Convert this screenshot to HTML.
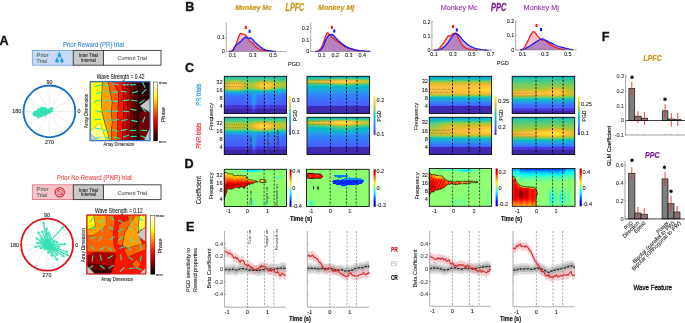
<!DOCTYPE html>
<html><head><meta charset="utf-8"><title>figure</title>
<style>html,body{margin:0;padding:0;background:#fff;width:685px;height:323px;overflow:hidden}svg{display:block;will-change:transform}text{font-family:"Liberation Sans",sans-serif}</style>
</head><body><svg width="685" height="323" viewBox="0 0 685 323" font-family="Liberation Sans, sans-serif"><defs><linearGradient id="lg1" x1="0" y1="0" x2="0" y2="1"><stop offset="0" stop-color="#ffffff"/><stop offset=".05" stop-color="#ffffcc"/><stop offset=".1" stop-color="#ffff99"/><stop offset=".15" stop-color="#ffff66"/><stop offset=".2" stop-color="#ffff33"/><stop offset=".25" stop-color="#ffff00"/><stop offset=".3" stop-color="#ffdd00"/><stop offset=".35" stop-color="#ffbb00"/><stop offset=".4" stop-color="#ff9900"/><stop offset=".45" stop-color="#ff7700"/><stop offset=".5" stop-color="#ff5500"/><stop offset=".55" stop-color="#ff3300"/><stop offset=".6" stop-color="#ff1100"/><stop offset=".65" stop-color="#ee0000"/><stop offset=".7" stop-color="#cc0000"/><stop offset=".75" stop-color="#aa0000"/><stop offset=".8" stop-color="#880000"/><stop offset=".85" stop-color="#660000"/><stop offset=".9" stop-color="#440000"/><stop offset=".95" stop-color="#220000"/><stop offset="1" stop-color="#000000"/></linearGradient><linearGradient id="lg2" x1="0" y1="0" x2="0" y2="1"><stop offset="0" stop-color="#ffffff"/><stop offset=".05" stop-color="#ffffcc"/><stop offset=".1" stop-color="#ffff99"/><stop offset=".15" stop-color="#ffff66"/><stop offset=".2" stop-color="#ffff33"/><stop offset=".25" stop-color="#ffff00"/><stop offset=".3" stop-color="#ffdd00"/><stop offset=".35" stop-color="#ffbb00"/><stop offset=".4" stop-color="#ff9900"/><stop offset=".45" stop-color="#ff7700"/><stop offset=".5" stop-color="#ff5500"/><stop offset=".55" stop-color="#ff3300"/><stop offset=".6" stop-color="#ff1100"/><stop offset=".65" stop-color="#ee0000"/><stop offset=".7" stop-color="#cc0000"/><stop offset=".75" stop-color="#aa0000"/><stop offset=".8" stop-color="#880000"/><stop offset=".85" stop-color="#660000"/><stop offset=".9" stop-color="#440000"/><stop offset=".95" stop-color="#220000"/><stop offset="1" stop-color="#000000"/></linearGradient><linearGradient id="lg3" x1="0" y1="0" x2="1" y2="0"><stop offset="0" stop-color="#19bfb5"/><stop offset=".177" stop-color="#1fc0b2"/><stop offset="1" stop-color="#15bfb8"/></linearGradient><linearGradient id="lg4" x1="0" y1="0" x2="1" y2="0"><stop offset="0" stop-color="#26c2ac"/><stop offset=".194" stop-color="#2dc4a6"/><stop offset="1" stop-color="#21c1b0"/></linearGradient><linearGradient id="lg5" x1="0" y1="0" x2="1" y2="0"><stop offset="0" stop-color="#31c5a1"/><stop offset=".177" stop-color="#3ac994"/><stop offset=".419" stop-color="#2ec5a4"/><stop offset=".661" stop-color="#34c79c"/><stop offset="1" stop-color="#2bc3a7"/></linearGradient><linearGradient id="lg6" x1="0" y1="0" x2="1" y2="0"><stop offset="0" stop-color="#40ca8d"/><stop offset=".177" stop-color="#5dcc75"/><stop offset=".419" stop-color="#3bc993"/><stop offset=".661" stop-color="#4fcc80"/><stop offset=".823" stop-color="#3bc992"/><stop offset="1" stop-color="#37c898"/></linearGradient><linearGradient id="lg7" x1="0" y1="0" x2="1" y2="0"><stop offset="0" stop-color="#5ccc76"/><stop offset=".113" stop-color="#85cb56"/><stop offset=".177" stop-color="#8ecb4e"/><stop offset=".242" stop-color="#84cb56"/><stop offset=".355" stop-color="#5dcc75"/><stop offset=".419" stop-color="#50cc7f"/><stop offset=".484" stop-color="#54cc7d"/><stop offset=".613" stop-color="#7bcc5d"/><stop offset=".661" stop-color="#7fcc5a"/><stop offset=".839" stop-color="#53cc7d"/><stop offset="1" stop-color="#4bcb84"/></linearGradient><linearGradient id="lg8" x1="0" y1="0" x2="1" y2="0"><stop offset="0" stop-color="#74cc62"/><stop offset=".113" stop-color="#afc637"/><stop offset=".177" stop-color="#bac430"/><stop offset=".242" stop-color="#aec637"/><stop offset=".371" stop-color="#6fcd66"/><stop offset=".419" stop-color="#63cd6f"/><stop offset=".484" stop-color="#6bcd69"/><stop offset=".597" stop-color="#a4c83e"/><stop offset=".661" stop-color="#b1c636"/><stop offset=".71" stop-color="#a5c83d"/><stop offset=".839" stop-color="#6fcd66"/><stop offset="1" stop-color="#63cd70"/></linearGradient><linearGradient id="lg9" x1="0" y1="0" x2="1" y2="0"><stop offset="0" stop-color="#90ca4d"/><stop offset=".081" stop-color="#c6c22a"/><stop offset=".129" stop-color="#dbbd29"/><stop offset=".177" stop-color="#e2bc2b"/><stop offset=".226" stop-color="#dbbd29"/><stop offset=".274" stop-color="#c6c22a"/><stop offset=".371" stop-color="#8acb52"/><stop offset=".435" stop-color="#79cc5e"/><stop offset=".5" stop-color="#8fcb4e"/><stop offset=".581" stop-color="#c8c129"/><stop offset=".629" stop-color="#debd29"/><stop offset=".661" stop-color="#e0bc2b"/><stop offset=".742" stop-color="#c3c22b"/><stop offset=".839" stop-color="#92ca4c"/><stop offset="1" stop-color="#82cc58"/></linearGradient><linearGradient id="lg10" x1="0" y1="0" x2="1" y2="0"><stop offset="0" stop-color="#aac73a"/><stop offset=".048" stop-color="#d0bf27"/><stop offset=".097" stop-color="#edba34"/><stop offset=".145" stop-color="#fcbc3d"/><stop offset=".194" stop-color="#fdbd3d"/><stop offset=".242" stop-color="#f4ba39"/><stop offset=".306" stop-color="#d0bf27"/><stop offset=".387" stop-color="#9bc945"/><stop offset=".435" stop-color="#91ca4c"/><stop offset=".484" stop-color="#a3c83f"/><stop offset=".548" stop-color="#d5be28"/><stop offset=".613" stop-color="#fbbc3d"/><stop offset=".677" stop-color="#febf3b"/><stop offset=".71" stop-color="#f8ba3d"/><stop offset=".774" stop-color="#d4bf28"/><stop offset=".839" stop-color="#b2c635"/><stop offset="1" stop-color="#9fc941"/></linearGradient><linearGradient id="lg11" x1="0" y1="0" x2="1" y2="0"><stop offset="0" stop-color="#c0c32d"/><stop offset=".032" stop-color="#dbbd29"/><stop offset=".081" stop-color="#fabb3d"/><stop offset=".097" stop-color="#fec03b"/><stop offset=".177" stop-color="#fccf30"/><stop offset=".258" stop-color="#febf3b"/><stop offset=".339" stop-color="#cfc028"/><stop offset=".387" stop-color="#b0c636"/><stop offset=".435" stop-color="#a6c83d"/><stop offset=".468" stop-color="#b1c635"/><stop offset=".516" stop-color="#d3bf27"/><stop offset=".565" stop-color="#fabb3d"/><stop offset=".645" stop-color="#fad52d"/><stop offset=".726" stop-color="#fec437"/><stop offset=".758" stop-color="#f6ba3b"/><stop offset=".806" stop-color="#d8be28"/><stop offset=".855" stop-color="#c3c22b"/><stop offset="1" stop-color="#b3c534"/></linearGradient><linearGradient id="lg12" x1="0" y1="0" x2="1" y2="0"><stop offset="0" stop-color="#c2c22c"/><stop offset=".032" stop-color="#dfbc2a"/><stop offset=".081" stop-color="#febe3c"/><stop offset=".177" stop-color="#fad52d"/><stop offset=".274" stop-color="#fdbd3d"/><stop offset=".339" stop-color="#d3bf27"/><stop offset=".387" stop-color="#b1c636"/><stop offset=".435" stop-color="#a6c83d"/><stop offset=".516" stop-color="#d7be28"/><stop offset=".565" stop-color="#febe3c"/><stop offset=".645" stop-color="#f7dd2a"/><stop offset=".694" stop-color="#f9d62d"/><stop offset=".742" stop-color="#fec13a"/><stop offset=".758" stop-color="#fabb3d"/><stop offset=".806" stop-color="#d9be28"/><stop offset=".855" stop-color="#bfc32d"/><stop offset="1" stop-color="#abc739"/></linearGradient><linearGradient id="lg13" x1="0" y1="0" x2="1" y2="0"><stop offset="0" stop-color="#b8c431"/><stop offset=".032" stop-color="#d7be28"/><stop offset=".081" stop-color="#fabb3d"/><stop offset=".177" stop-color="#fbd22f"/><stop offset=".258" stop-color="#fec03b"/><stop offset=".274" stop-color="#f9bb3d"/><stop offset=".323" stop-color="#d7be28"/><stop offset=".387" stop-color="#a5c83d"/><stop offset=".435" stop-color="#9bc945"/><stop offset=".516" stop-color="#cec028"/><stop offset=".565" stop-color="#f9bb3d"/><stop offset=".645" stop-color="#f9d72c"/><stop offset=".677" stop-color="#fad52d"/><stop offset=".726" stop-color="#fec239"/><stop offset=".742" stop-color="#fbbc3d"/><stop offset=".79" stop-color="#d6be28"/><stop offset=".855" stop-color="#a9c73b"/><stop offset="1" stop-color="#8fcb4e"/></linearGradient><linearGradient id="lg14" x1="0" y1="0" x2="1" y2="0"><stop offset="0" stop-color="#a7c73c"/><stop offset=".048" stop-color="#d5be28"/><stop offset=".097" stop-color="#f7ba3c"/><stop offset=".161" stop-color="#fec636"/><stop offset=".226" stop-color="#fec03a"/><stop offset=".258" stop-color="#f6ba3b"/><stop offset=".306" stop-color="#d5be28"/><stop offset=".387" stop-color="#94ca4a"/><stop offset=".435" stop-color="#89cb52"/><stop offset=".5" stop-color="#aec637"/><stop offset=".532" stop-color="#cac129"/><stop offset=".597" stop-color="#fdbd3d"/><stop offset=".645" stop-color="#fec835"/><stop offset=".694" stop-color="#fec239"/><stop offset=".726" stop-color="#f4ba3a"/><stop offset=".774" stop-color="#cbc129"/><stop offset=".855" stop-color="#89cb53"/><stop offset=".903" stop-color="#78cc5f"/><stop offset="1" stop-color="#6ccd68"/></linearGradient><linearGradient id="lg15" x1="0" y1="0" x2="1" y2="0"><stop offset="0" stop-color="#8ecb4e"/><stop offset=".065" stop-color="#cac129"/><stop offset=".113" stop-color="#e8bb2f"/><stop offset=".177" stop-color="#f7ba3c"/><stop offset=".242" stop-color="#e8bb2f"/><stop offset=".29" stop-color="#c9c129"/><stop offset=".387" stop-color="#7ccc5c"/><stop offset=".435" stop-color="#73cd63"/><stop offset=".516" stop-color="#9ec942"/><stop offset=".565" stop-color="#cac129"/><stop offset=".613" stop-color="#eabb30"/><stop offset=".661" stop-color="#f1ba37"/><stop offset=".694" stop-color="#eabb30"/><stop offset=".742" stop-color="#c6c22a"/><stop offset=".823" stop-color="#7bcc5d"/><stop offset=".855" stop-color="#66cd6d"/><stop offset=".903" stop-color="#57cc7a"/><stop offset="1" stop-color="#4dcc82"/></linearGradient><linearGradient id="lg16" x1="0" y1="0" x2="1" y2="0"><stop offset="0" stop-color="#56cc7b"/><stop offset=".097" stop-color="#a3c83f"/><stop offset=".161" stop-color="#bdc32e"/><stop offset=".226" stop-color="#b4c534"/><stop offset=".355" stop-color="#59cc79"/><stop offset=".419" stop-color="#42ca8c"/><stop offset=".516" stop-color="#60cd73"/><stop offset=".613" stop-color="#a3c83f"/><stop offset=".661" stop-color="#acc738"/><stop offset=".694" stop-color="#a3c83e"/><stop offset=".774" stop-color="#60cd72"/><stop offset=".839" stop-color="#3bc993"/><stop offset=".903" stop-color="#31c6a0"/><stop offset="1" stop-color="#2ec4a5"/></linearGradient><linearGradient id="lg17" x1="0" y1="0" x2="1" y2="0"><stop offset="0" stop-color="#2cc4a7"/><stop offset=".113" stop-color="#55cc7c"/><stop offset=".177" stop-color="#62cd70"/><stop offset=".226" stop-color="#5acc77"/><stop offset=".306" stop-color="#38c896"/><stop offset=".403" stop-color="#21c1b0"/><stop offset=".484" stop-color="#32c69f"/><stop offset=".532" stop-color="#30c5a1"/><stop offset=".629" stop-color="#48cb86"/><stop offset=".677" stop-color="#4acb84"/><stop offset=".871" stop-color="#0abdbd"/><stop offset="1" stop-color="#02bac4"/></linearGradient><linearGradient id="lg18" x1="0" y1="0" x2="1" y2="0"><stop offset="0" stop-color="#05b6cd"/><stop offset=".048" stop-color="#02bbc3"/><stop offset=".113" stop-color="#19bfb5"/><stop offset=".177" stop-color="#22c1b0"/><stop offset=".339" stop-color="#01b8ca"/><stop offset=".419" stop-color="#0db3d3"/><stop offset=".452" stop-color="#01b8c9"/><stop offset=".484" stop-color="#07bcc0"/><stop offset=".532" stop-color="#01b8c9"/><stop offset=".677" stop-color="#0bbdbd"/><stop offset=".742" stop-color="#01b8c9"/><stop offset=".855" stop-color="#17aeda"/><stop offset="1" stop-color="#1baade"/></linearGradient><linearGradient id="lg19" x1="0" y1="0" x2="1" y2="0"><stop offset="0" stop-color="#22a1e4"/><stop offset=".177" stop-color="#16aeda"/><stop offset=".419" stop-color="#249ee6"/><stop offset=".484" stop-color="#13b0d7"/><stop offset=".548" stop-color="#21a4e3"/><stop offset=".694" stop-color="#1da8e0"/><stop offset="1" stop-color="#2796eb"/></linearGradient><linearGradient id="lg20" x1="0" y1="0" x2="1" y2="0"><stop offset="0" stop-color="#2b91ef"/><stop offset=".177" stop-color="#259be8"/><stop offset=".403" stop-color="#2c8ff1"/><stop offset=".484" stop-color="#1caadf"/><stop offset=".565" stop-color="#2a92ee"/><stop offset=".694" stop-color="#2797eb"/><stop offset="1" stop-color="#2d89f5"/></linearGradient><linearGradient id="lg21" x1="0" y1="0" x2="1" y2="0"><stop offset="0" stop-color="#2f82f9"/><stop offset=".177" stop-color="#2d89f5"/><stop offset=".403" stop-color="#2f81fa"/><stop offset=".484" stop-color="#1fa5e2"/><stop offset=".565" stop-color="#2e84f9"/><stop offset=".694" stop-color="#2d89f5"/><stop offset="1" stop-color="#317dfc"/></linearGradient><linearGradient id="lg22" x1="0" y1="0" x2="1" y2="0"><stop offset="0" stop-color="#327bfc"/><stop offset=".403" stop-color="#337bfc"/><stop offset=".435" stop-color="#2e86f7"/><stop offset=".468" stop-color="#20a5e2"/><stop offset=".484" stop-color="#1ea7e1"/><stop offset=".532" stop-color="#2d87f6"/><stop offset=".581" stop-color="#327cfc"/><stop offset=".694" stop-color="#2e83f9"/><stop offset=".742" stop-color="#337afd"/><stop offset=".806" stop-color="#2f80fa"/><stop offset="1" stop-color="#3678fd"/></linearGradient><linearGradient id="lg23" x1="0" y1="0" x2="1" y2="0"><stop offset="0" stop-color="#3975fe"/><stop offset=".403" stop-color="#3875fe"/><stop offset=".435" stop-color="#2e83f9"/><stop offset=".468" stop-color="#1fa6e2"/><stop offset=".484" stop-color="#1ea7e1"/><stop offset=".532" stop-color="#2e83f9"/><stop offset=".581" stop-color="#3875fe"/><stop offset=".645" stop-color="#3975fe"/><stop offset=".694" stop-color="#307ffb"/><stop offset=".742" stop-color="#3974fe"/><stop offset=".806" stop-color="#317dfc"/><stop offset=".855" stop-color="#3a73fe"/><stop offset="1" stop-color="#3a73fe"/></linearGradient><linearGradient id="lg24" x1="0" y1="0" x2="1" y2="0"><stop offset="0" stop-color="#3e6fff"/><stop offset=".403" stop-color="#3e70ff"/><stop offset=".435" stop-color="#307ffb"/><stop offset=".468" stop-color="#20a5e2"/><stop offset=".484" stop-color="#1fa6e1"/><stop offset=".532" stop-color="#317dfc"/><stop offset=".581" stop-color="#3e70ff"/><stop offset=".645" stop-color="#3e6fff"/><stop offset=".694" stop-color="#327cfc"/><stop offset=".742" stop-color="#3e6fff"/><stop offset=".806" stop-color="#3579fd"/><stop offset=".855" stop-color="#3f6eff"/><stop offset="1" stop-color="#3f6eff"/></linearGradient><linearGradient id="lg25" x1="0" y1="0" x2="1" y2="0"><stop offset="0" stop-color="#416afe"/><stop offset=".403" stop-color="#416bfe"/><stop offset=".435" stop-color="#337bfc"/><stop offset=".468" stop-color="#21a4e3"/><stop offset=".484" stop-color="#20a4e3"/><stop offset=".532" stop-color="#3776fe"/><stop offset=".565" stop-color="#406dfe"/><stop offset=".645" stop-color="#416bfe"/><stop offset=".694" stop-color="#3479fd"/><stop offset=".742" stop-color="#426afe"/><stop offset=".806" stop-color="#3776fe"/><stop offset=".855" stop-color="#426afe"/><stop offset="1" stop-color="#426afe"/></linearGradient><linearGradient id="lg26" x1="0" y1="0" x2="1" y2="0"><stop offset="0" stop-color="#4368fe"/><stop offset=".403" stop-color="#4369fe"/><stop offset=".435" stop-color="#3579fd"/><stop offset=".468" stop-color="#21a3e4"/><stop offset=".484" stop-color="#22a2e4"/><stop offset=".516" stop-color="#327dfc"/><stop offset=".532" stop-color="#3c71ff"/><stop offset=".565" stop-color="#426afe"/><stop offset=".645" stop-color="#4368fe"/><stop offset=".694" stop-color="#3579fd"/><stop offset=".742" stop-color="#4368fe"/><stop offset=".806" stop-color="#3975fe"/><stop offset=".855" stop-color="#4368fe"/><stop offset="1" stop-color="#4368fe"/></linearGradient><linearGradient id="lg27" x1="0" y1="0" x2="1" y2="0"><stop offset="0" stop-color="#4466fd"/><stop offset=".403" stop-color="#4466fd"/><stop offset=".435" stop-color="#3776fe"/><stop offset=".468" stop-color="#23a1e4"/><stop offset=".484" stop-color="#249fe5"/><stop offset=".516" stop-color="#3777fe"/><stop offset=".548" stop-color="#4368fe"/><stop offset=".645" stop-color="#4466fd"/><stop offset=".694" stop-color="#3677fe"/><stop offset=".742" stop-color="#4466fd"/><stop offset=".806" stop-color="#3a74fe"/><stop offset=".855" stop-color="#4466fd"/><stop offset="1" stop-color="#4465fd"/></linearGradient><linearGradient id="lg28" x1="0" y1="0" x2="1" y2="0"><stop offset="0" stop-color="#4563fd"/><stop offset=".403" stop-color="#4564fd"/><stop offset=".435" stop-color="#3a74fe"/><stop offset=".468" stop-color="#249fe5"/><stop offset=".484" stop-color="#259ce7"/><stop offset=".516" stop-color="#3c72ff"/><stop offset=".548" stop-color="#4465fd"/><stop offset=".645" stop-color="#4564fd"/><stop offset=".694" stop-color="#3876fe"/><stop offset=".742" stop-color="#4563fd"/><stop offset=".806" stop-color="#3c72ff"/><stop offset=".855" stop-color="#4563fd"/><stop offset="1" stop-color="#4563fd"/></linearGradient><linearGradient id="lg29" x1="0" y1="0" x2="1" y2="0"><stop offset="0" stop-color="#4561fc"/><stop offset=".403" stop-color="#4562fc"/><stop offset=".435" stop-color="#3c71ff"/><stop offset=".468" stop-color="#259ce7"/><stop offset=".484" stop-color="#2699e9"/><stop offset=".516" stop-color="#3f6efe"/><stop offset=".548" stop-color="#4562fc"/><stop offset=".645" stop-color="#4562fc"/><stop offset=".694" stop-color="#3a73fe"/><stop offset=".742" stop-color="#4561fc"/><stop offset=".806" stop-color="#3e6fff"/><stop offset=".855" stop-color="#4561fc"/><stop offset="1" stop-color="#4561fc"/></linearGradient><linearGradient id="lg30" x1="0" y1="0" x2="1" y2="0"><stop offset="0" stop-color="#465ffb"/><stop offset=".403" stop-color="#465ffb"/><stop offset=".435" stop-color="#3f6eff"/><stop offset=".468" stop-color="#2699e9"/><stop offset=".484" stop-color="#2896ec"/><stop offset=".516" stop-color="#426afe"/><stop offset=".548" stop-color="#465ffb"/><stop offset=".645" stop-color="#465ffb"/><stop offset=".694" stop-color="#3d71ff"/><stop offset=".742" stop-color="#465ffb"/><stop offset=".806" stop-color="#406dfe"/><stop offset=".855" stop-color="#465ffb"/><stop offset="1" stop-color="#465ffb"/></linearGradient><linearGradient id="lg31" x1="0" y1="0" x2="1" y2="0"><stop offset="0" stop-color="#475dfa"/><stop offset=".403" stop-color="#465dfa"/><stop offset=".435" stop-color="#416bfe"/><stop offset=".452" stop-color="#2f82f9"/><stop offset=".468" stop-color="#2995ec"/><stop offset=".484" stop-color="#2b91ef"/><stop offset=".5" stop-color="#327cfc"/><stop offset=".516" stop-color="#4367fd"/><stop offset=".548" stop-color="#465dfa"/><stop offset=".645" stop-color="#465dfa"/><stop offset=".694" stop-color="#3f6dfe"/><stop offset=".742" stop-color="#475dfa"/><stop offset=".806" stop-color="#426afe"/><stop offset=".855" stop-color="#475dfa"/><stop offset="1" stop-color="#475dfa"/></linearGradient><linearGradient id="lg32" x1="0" y1="0" x2="1" y2="0"><stop offset="0" stop-color="#4539d9"/><stop offset=".403" stop-color="#4639da"/><stop offset=".435" stop-color="#4745ea"/><stop offset=".468" stop-color="#406cfe"/><stop offset=".484" stop-color="#4369fe"/><stop offset=".516" stop-color="#4742e6"/><stop offset=".532" stop-color="#463adc"/><stop offset=".645" stop-color="#4639da"/><stop offset=".694" stop-color="#4747eb"/><stop offset=".742" stop-color="#4639d9"/><stop offset=".806" stop-color="#4744e8"/><stop offset=".855" stop-color="#4539d9"/><stop offset="1" stop-color="#4539d9"/></linearGradient><linearGradient id="lg33" x1="0" y1="0" x2="1" y2="0"><stop offset="0" stop-color="#4537d6"/><stop offset=".403" stop-color="#4537d6"/><stop offset=".435" stop-color="#4742e6"/><stop offset=".468" stop-color="#4465fd"/><stop offset=".484" stop-color="#4562fc"/><stop offset=".516" stop-color="#473fe2"/><stop offset=".532" stop-color="#4538d8"/><stop offset=".645" stop-color="#4537d6"/><stop offset=".694" stop-color="#4743e7"/><stop offset=".742" stop-color="#4537d6"/><stop offset=".806" stop-color="#4741e4"/><stop offset=".855" stop-color="#4537d6"/><stop offset="1" stop-color="#4537d6"/></linearGradient><linearGradient id="lg34" x1="0" y1="0" x2="1" y2="0"><stop offset="0" stop-color="#4435d2"/><stop offset=".403" stop-color="#4535d2"/><stop offset=".435" stop-color="#473fe2"/><stop offset=".468" stop-color="#465efb"/><stop offset=".484" stop-color="#475bf9"/><stop offset=".516" stop-color="#463cde"/><stop offset=".548" stop-color="#4535d2"/><stop offset=".645" stop-color="#4535d2"/><stop offset=".694" stop-color="#473fe3"/><stop offset=".742" stop-color="#4535d2"/><stop offset=".806" stop-color="#463de0"/><stop offset=".855" stop-color="#4435d2"/><stop offset="1" stop-color="#4435d2"/></linearGradient><linearGradient id="lg35" x1="0" y1="0" x2="1" y2="0"><stop offset="0" stop-color="#4434ce"/><stop offset=".403" stop-color="#4434ce"/><stop offset=".435" stop-color="#463bdd"/><stop offset=".468" stop-color="#4756f7"/><stop offset=".484" stop-color="#4854f5"/><stop offset=".516" stop-color="#4539d9"/><stop offset=".548" stop-color="#4434ce"/><stop offset=".645" stop-color="#4434ce"/><stop offset=".694" stop-color="#463cde"/><stop offset=".742" stop-color="#4434ce"/><stop offset=".806" stop-color="#463adb"/><stop offset=".855" stop-color="#4434ce"/><stop offset="1" stop-color="#4434ce"/></linearGradient><linearGradient id="lg36" x1="0" y1="0" x2="1" y2="0"><stop offset="0" stop-color="#3e26a8"/><stop offset=".403" stop-color="#3e27a9"/><stop offset=".435" stop-color="#412cb9"/><stop offset=".468" stop-color="#473ee1"/><stop offset=".484" stop-color="#463cdf"/><stop offset=".516" stop-color="#402ab4"/><stop offset=".548" stop-color="#3e26a9"/><stop offset=".645" stop-color="#3e27a9"/><stop offset=".694" stop-color="#412cb9"/><stop offset=".742" stop-color="#3e26a9"/><stop offset=".806" stop-color="#402ab5"/><stop offset=".855" stop-color="#3e26a8"/><stop offset="1" stop-color="#3e26a8"/></linearGradient><linearGradient id="lg37" x1="0" y1="0" x2="1" y2="0"><stop offset="0" stop-color="#3e26a8"/><stop offset=".403" stop-color="#3e26a9"/><stop offset=".435" stop-color="#402bb6"/><stop offset=".468" stop-color="#4639da"/><stop offset=".484" stop-color="#4538d7"/><stop offset=".516" stop-color="#3f29b2"/><stop offset=".548" stop-color="#3e26a9"/><stop offset=".645" stop-color="#3e26a9"/><stop offset=".694" stop-color="#402ab5"/><stop offset=".742" stop-color="#3e26a9"/><stop offset=".806" stop-color="#402ab3"/><stop offset=".855" stop-color="#3e26a8"/><stop offset="1" stop-color="#3e26a8"/></linearGradient><linearGradient id="lg38" x1="0" y1="0" x2="1" y2="0"><stop offset="0" stop-color="#3e26a8"/><stop offset=".403" stop-color="#3e26a9"/><stop offset=".435" stop-color="#402ab4"/><stop offset=".468" stop-color="#4435d2"/><stop offset=".484" stop-color="#4434cf"/><stop offset=".516" stop-color="#3f29b0"/><stop offset=".548" stop-color="#3e26a9"/><stop offset=".645" stop-color="#3e26a9"/><stop offset=".694" stop-color="#3f29b2"/><stop offset=".742" stop-color="#3e26a8"/><stop offset=".806" stop-color="#3f29b0"/><stop offset="1" stop-color="#3e26a8"/></linearGradient><linearGradient id="lg39" x1="0" y1="0" x2="1" y2="0"><stop offset="0" stop-color="#3e26a8"/><stop offset=".403" stop-color="#3e26a9"/><stop offset=".435" stop-color="#3f29b1"/><stop offset=".468" stop-color="#4332c9"/><stop offset=".484" stop-color="#4331c7"/><stop offset=".516" stop-color="#3f28af"/><stop offset=".548" stop-color="#3e26a9"/><stop offset=".694" stop-color="#3f29b0"/><stop offset=".742" stop-color="#3e26a8"/><stop offset="1" stop-color="#3e26a8"/></linearGradient><linearGradient id="lg40" x1="0" y1="0" x2="1" y2="0"><stop offset="0" stop-color="#3e26a8"/><stop offset=".403" stop-color="#3e26a9"/><stop offset=".435" stop-color="#3f28af"/><stop offset=".468" stop-color="#422fc2"/><stop offset=".548" stop-color="#3e26a8"/><stop offset="1" stop-color="#3e26a8"/></linearGradient><linearGradient id="lg41" x1="0" y1="0" x2="1" y2="0"><stop offset="0" stop-color="#17bfb6"/><stop offset="1" stop-color="#18bfb6"/></linearGradient><linearGradient id="lg42" x1="0" y1="0" x2="1" y2="0"><stop offset="0" stop-color="#28c3ab"/><stop offset="1" stop-color="#2ac3a9"/></linearGradient><linearGradient id="lg43" x1="0" y1="0" x2="1" y2="0"><stop offset="0" stop-color="#33c69d"/><stop offset=".403" stop-color="#33c79d"/><stop offset=".613" stop-color="#3dc990"/><stop offset="1" stop-color="#36c799"/></linearGradient><linearGradient id="lg44" x1="0" y1="0" x2="1" y2="0"><stop offset="0" stop-color="#41ca8c"/><stop offset=".177" stop-color="#48cb86"/><stop offset=".403" stop-color="#42ca8b"/><stop offset=".613" stop-color="#62cd70"/><stop offset=".823" stop-color="#4ecc81"/><stop offset="1" stop-color="#4acb84"/></linearGradient><linearGradient id="lg45" x1="0" y1="0" x2="1" y2="0"><stop offset="0" stop-color="#58cc79"/><stop offset=".177" stop-color="#67cd6c"/><stop offset=".403" stop-color="#5bcc76"/><stop offset=".548" stop-color="#8ecb4e"/><stop offset=".613" stop-color="#98c947"/><stop offset=".823" stop-color="#71cd64"/><stop offset="1" stop-color="#6bcd69"/></linearGradient><linearGradient id="lg46" x1="0" y1="0" x2="1" y2="0"><stop offset="0" stop-color="#6ccd68"/><stop offset=".177" stop-color="#87cb54"/><stop offset=".403" stop-color="#72cd63"/><stop offset=".435" stop-color="#7dcc5b"/><stop offset=".532" stop-color="#b7c532"/><stop offset=".613" stop-color="#cbc129"/><stop offset=".677" stop-color="#c2c22c"/><stop offset=".823" stop-color="#94ca4a"/><stop offset="1" stop-color="#8acb52"/></linearGradient><linearGradient id="lg47" x1="0" y1="0" x2="1" y2="0"><stop offset="0" stop-color="#83cc57"/><stop offset=".097" stop-color="#9fc942"/><stop offset=".177" stop-color="#a9c73a"/><stop offset=".403" stop-color="#8dcb4f"/><stop offset=".435" stop-color="#9bc944"/><stop offset=".5" stop-color="#cfc028"/><stop offset=".548" stop-color="#e8bb2f"/><stop offset=".613" stop-color="#f5ba3b"/><stop offset=".677" stop-color="#ecba33"/><stop offset=".742" stop-color="#d3bf27"/><stop offset=".839" stop-color="#b3c534"/><stop offset="1" stop-color="#a8c73b"/></linearGradient><linearGradient id="lg48" x1="0" y1="0" x2="1" y2="0"><stop offset="0" stop-color="#99c946"/><stop offset=".097" stop-color="#bac430"/><stop offset=".177" stop-color="#c6c22a"/><stop offset=".403" stop-color="#a6c73c"/><stop offset=".435" stop-color="#b7c531"/><stop offset=".468" stop-color="#d5be28"/><stop offset=".532" stop-color="#febd3c"/><stop offset=".613" stop-color="#fdce31"/><stop offset=".71" stop-color="#fdbd3d"/><stop offset=".79" stop-color="#dcbd29"/><stop offset=".839" stop-color="#cdc028"/><stop offset="1" stop-color="#bfc32d"/></linearGradient><linearGradient id="lg49" x1="0" y1="0" x2="1" y2="0"><stop offset="0" stop-color="#abc739"/><stop offset=".081" stop-color="#c9c129"/><stop offset=".161" stop-color="#d9be28"/><stop offset=".403" stop-color="#bac430"/><stop offset=".452" stop-color="#dbbd29"/><stop offset=".484" stop-color="#f7ba3c"/><stop offset=".5" stop-color="#febf3b"/><stop offset=".565" stop-color="#f8da2b"/><stop offset=".613" stop-color="#f5e128"/><stop offset=".661" stop-color="#f7db2a"/><stop offset=".742" stop-color="#fec03b"/><stop offset=".774" stop-color="#f4ba39"/><stop offset=".855" stop-color="#dabd28"/><stop offset="1" stop-color="#ccc028"/></linearGradient><linearGradient id="lg50" x1="0" y1="0" x2="1" y2="0"><stop offset="0" stop-color="#a6c83d"/><stop offset=".081" stop-color="#c5c22a"/><stop offset=".161" stop-color="#d6be28"/><stop offset=".403" stop-color="#b8c531"/><stop offset=".452" stop-color="#dbbd29"/><stop offset=".484" stop-color="#f8ba3d"/><stop offset=".5" stop-color="#fec03b"/><stop offset=".565" stop-color="#f7dc2a"/><stop offset=".613" stop-color="#f5e427"/><stop offset=".661" stop-color="#f7dd2a"/><stop offset=".758" stop-color="#f9bb3d"/><stop offset=".806" stop-color="#e2bc2b"/><stop offset=".855" stop-color="#d2bf27"/><stop offset="1" stop-color="#c1c32c"/></linearGradient><linearGradient id="lg51" x1="0" y1="0" x2="1" y2="0"><stop offset="0" stop-color="#93ca4b"/><stop offset=".097" stop-color="#b6c532"/><stop offset=".161" stop-color="#c2c22c"/><stop offset=".226" stop-color="#bfc32d"/><stop offset=".371" stop-color="#a4c83e"/><stop offset=".403" stop-color="#a6c73c"/><stop offset=".452" stop-color="#cdc028"/><stop offset=".484" stop-color="#edba33"/><stop offset=".516" stop-color="#febe3c"/><stop offset=".613" stop-color="#f9d82c"/><stop offset=".71" stop-color="#fec13a"/><stop offset=".726" stop-color="#fbbc3d"/><stop offset=".79" stop-color="#d6be28"/><stop offset=".855" stop-color="#bac430"/><stop offset="1" stop-color="#a6c73c"/></linearGradient><linearGradient id="lg52" x1="0" y1="0" x2="1" y2="0"><stop offset="0" stop-color="#7ccc5c"/><stop offset=".161" stop-color="#a4c83e"/><stop offset=".403" stop-color="#8ecb4e"/><stop offset=".435" stop-color="#a3c83e"/><stop offset=".468" stop-color="#c8c129"/><stop offset=".532" stop-color="#f3ba39"/><stop offset=".581" stop-color="#fec13a"/><stop offset=".677" stop-color="#fabb3d"/><stop offset=".758" stop-color="#cec028"/><stop offset=".855" stop-color="#9bc945"/><stop offset="1" stop-color="#86cb55"/></linearGradient><linearGradient id="lg53" x1="0" y1="0" x2="1" y2="0"><stop offset="0" stop-color="#64cd6f"/><stop offset=".161" stop-color="#81cc59"/><stop offset=".403" stop-color="#72cd63"/><stop offset=".435" stop-color="#86cb55"/><stop offset=".468" stop-color="#aac739"/><stop offset=".5" stop-color="#c0c32d"/><stop offset=".565" stop-color="#ddbd29"/><stop offset=".613" stop-color="#e5bb2d"/><stop offset=".661" stop-color="#ddbd29"/><stop offset=".71" stop-color="#c7c12a"/><stop offset=".839" stop-color="#7dcc5b"/><stop offset="1" stop-color="#67cd6d"/></linearGradient><linearGradient id="lg54" x1="0" y1="0" x2="1" y2="0"><stop offset="0" stop-color="#37c897"/><stop offset=".161" stop-color="#42ca8c"/><stop offset=".403" stop-color="#3dc991"/><stop offset=".435" stop-color="#49cb86"/><stop offset=".484" stop-color="#71cd64"/><stop offset=".613" stop-color="#91ca4c"/><stop offset=".677" stop-color="#85cb56"/><stop offset=".823" stop-color="#44cb8a"/><stop offset="1" stop-color="#37c898"/></linearGradient><linearGradient id="lg55" x1="0" y1="0" x2="1" y2="0"><stop offset="0" stop-color="#0bbdbc"/><stop offset=".161" stop-color="#15bfb7"/><stop offset=".387" stop-color="#11beba"/><stop offset=".419" stop-color="#17bfb7"/><stop offset=".484" stop-color="#34c79c"/><stop offset=".613" stop-color="#36c899"/><stop offset=".694" stop-color="#32c69e"/><stop offset=".839" stop-color="#15bfb7"/><stop offset="1" stop-color="#0abdbd"/></linearGradient><linearGradient id="lg56" x1="0" y1="0" x2="1" y2="0"><stop offset="0" stop-color="#18aedb"/><stop offset=".403" stop-color="#15afd9"/><stop offset=".452" stop-color="#03b7cc"/><stop offset=".484" stop-color="#05bbc1"/><stop offset=".532" stop-color="#01b8ca"/><stop offset=".694" stop-color="#02b7cb"/><stop offset=".806" stop-color="#13b1d7"/><stop offset="1" stop-color="#18addb"/></linearGradient><linearGradient id="lg57" x1="0" y1="0" x2="1" y2="0"><stop offset="0" stop-color="#269ae9"/><stop offset=".403" stop-color="#269be8"/><stop offset=".484" stop-color="#16aeda"/><stop offset=".565" stop-color="#22a1e4"/><stop offset="1" stop-color="#2699e9"/></linearGradient><linearGradient id="lg58" x1="0" y1="0" x2="1" y2="0"><stop offset="0" stop-color="#2d8bf4"/><stop offset=".403" stop-color="#2d8bf3"/><stop offset=".484" stop-color="#1fa6e2"/><stop offset=".565" stop-color="#2c90f0"/><stop offset="1" stop-color="#2d8bf4"/></linearGradient><linearGradient id="lg59" x1="0" y1="0" x2="1" y2="0"><stop offset="0" stop-color="#317dfc"/><stop offset=".403" stop-color="#317efb"/><stop offset=".484" stop-color="#249fe5"/><stop offset=".532" stop-color="#2d88f6"/><stop offset=".581" stop-color="#3080fa"/><stop offset=".694" stop-color="#2e85f8"/><stop offset="1" stop-color="#317dfc"/></linearGradient><linearGradient id="lg60" x1="0" y1="0" x2="1" y2="0"><stop offset="0" stop-color="#3678fd"/><stop offset=".403" stop-color="#3579fd"/><stop offset=".435" stop-color="#2e83f9"/><stop offset=".468" stop-color="#249fe6"/><stop offset=".484" stop-color="#23a1e5"/><stop offset=".532" stop-color="#2e84f8"/><stop offset=".581" stop-color="#347afd"/><stop offset=".694" stop-color="#2f82fa"/><stop offset=".742" stop-color="#3579fd"/><stop offset="1" stop-color="#3678fd"/></linearGradient><linearGradient id="lg61" x1="0" y1="0" x2="1" y2="0"><stop offset="0" stop-color="#3a73fe"/><stop offset=".403" stop-color="#3a74fe"/><stop offset=".435" stop-color="#2f80fa"/><stop offset=".468" stop-color="#239fe5"/><stop offset=".484" stop-color="#23a1e4"/><stop offset=".532" stop-color="#2f80fa"/><stop offset=".581" stop-color="#3975fe"/><stop offset=".645" stop-color="#3a74fe"/><stop offset=".694" stop-color="#307ffb"/><stop offset=".742" stop-color="#3a73fe"/><stop offset="1" stop-color="#3a73fe"/></linearGradient><linearGradient id="lg62" x1="0" y1="0" x2="1" y2="0"><stop offset="0" stop-color="#3f6eff"/><stop offset=".403" stop-color="#3e6fff"/><stop offset=".435" stop-color="#327dfc"/><stop offset=".468" stop-color="#249fe6"/><stop offset=".484" stop-color="#23a0e5"/><stop offset=".532" stop-color="#337bfd"/><stop offset=".581" stop-color="#3e6fff"/><stop offset=".645" stop-color="#3e6fff"/><stop offset=".694" stop-color="#327cfc"/><stop offset=".742" stop-color="#3f6eff"/><stop offset="1" stop-color="#3f6eff"/></linearGradient><linearGradient id="lg63" x1="0" y1="0" x2="1" y2="0"><stop offset="0" stop-color="#426afe"/><stop offset=".403" stop-color="#416bfe"/><stop offset=".435" stop-color="#3579fd"/><stop offset=".468" stop-color="#249de6"/><stop offset=".484" stop-color="#249de6"/><stop offset=".532" stop-color="#3974fe"/><stop offset=".565" stop-color="#406cfe"/><stop offset=".645" stop-color="#416bfe"/><stop offset=".694" stop-color="#3479fd"/><stop offset=".742" stop-color="#426afe"/><stop offset="1" stop-color="#426afe"/></linearGradient><linearGradient id="lg64" x1="0" y1="0" x2="1" y2="0"><stop offset="0" stop-color="#4368fe"/><stop offset=".403" stop-color="#4368fe"/><stop offset=".435" stop-color="#3777fe"/><stop offset=".468" stop-color="#259ce7"/><stop offset=".484" stop-color="#259ce7"/><stop offset=".532" stop-color="#3e70ff"/><stop offset=".565" stop-color="#4269fe"/><stop offset=".645" stop-color="#4368fe"/><stop offset=".694" stop-color="#3579fd"/><stop offset=".742" stop-color="#4368fe"/><stop offset="1" stop-color="#4368fe"/></linearGradient><linearGradient id="lg65" x1="0" y1="0" x2="1" y2="0"><stop offset="0" stop-color="#4466fd"/><stop offset=".403" stop-color="#4466fd"/><stop offset=".435" stop-color="#3974fe"/><stop offset=".468" stop-color="#259be8"/><stop offset=".484" stop-color="#2699e9"/><stop offset=".516" stop-color="#3975fe"/><stop offset=".548" stop-color="#4368fe"/><stop offset=".645" stop-color="#4466fd"/><stop offset=".694" stop-color="#3678fe"/><stop offset=".742" stop-color="#4466fd"/><stop offset="1" stop-color="#4466fd"/></linearGradient><linearGradient id="lg66" x1="0" y1="0" x2="1" y2="0"><stop offset="0" stop-color="#4564fd"/><stop offset=".403" stop-color="#4464fd"/><stop offset=".435" stop-color="#3b72ff"/><stop offset=".468" stop-color="#2699e9"/><stop offset=".484" stop-color="#2797eb"/><stop offset=".516" stop-color="#3d70ff"/><stop offset=".548" stop-color="#4465fd"/><stop offset=".645" stop-color="#4464fd"/><stop offset=".694" stop-color="#3876fe"/><stop offset=".742" stop-color="#4564fd"/><stop offset="1" stop-color="#4564fd"/></linearGradient><linearGradient id="lg67" x1="0" y1="0" x2="1" y2="0"><stop offset="0" stop-color="#4561fc"/><stop offset=".403" stop-color="#4562fc"/><stop offset=".435" stop-color="#3e6fff"/><stop offset=".468" stop-color="#2797eb"/><stop offset=".484" stop-color="#2994ed"/><stop offset=".516" stop-color="#406cfe"/><stop offset=".548" stop-color="#4562fc"/><stop offset=".645" stop-color="#4562fc"/><stop offset=".694" stop-color="#3a74fe"/><stop offset=".742" stop-color="#4562fc"/><stop offset="1" stop-color="#4561fc"/></linearGradient><linearGradient id="lg68" x1="0" y1="0" x2="1" y2="0"><stop offset="0" stop-color="#465ffb"/><stop offset=".403" stop-color="#4660fb"/><stop offset=".435" stop-color="#406dfe"/><stop offset=".452" stop-color="#2f82f9"/><stop offset=".468" stop-color="#2a93ed"/><stop offset=".484" stop-color="#2b90f0"/><stop offset=".516" stop-color="#4269fe"/><stop offset=".548" stop-color="#4660fb"/><stop offset=".645" stop-color="#4660fb"/><stop offset=".694" stop-color="#3c71ff"/><stop offset=".742" stop-color="#465ffb"/><stop offset="1" stop-color="#465ffb"/></linearGradient><linearGradient id="lg69" x1="0" y1="0" x2="1" y2="0"><stop offset="0" stop-color="#465dfa"/><stop offset=".403" stop-color="#465efb"/><stop offset=".435" stop-color="#426afe"/><stop offset=".452" stop-color="#307ffb"/><stop offset=".468" stop-color="#2c8ff0"/><stop offset=".484" stop-color="#2d8cf3"/><stop offset=".516" stop-color="#4466fd"/><stop offset=".548" stop-color="#465dfb"/><stop offset=".645" stop-color="#465efb"/><stop offset=".694" stop-color="#3f6eff"/><stop offset=".742" stop-color="#465dfb"/><stop offset="1" stop-color="#465dfa"/></linearGradient><linearGradient id="lg70" x1="0" y1="0" x2="1" y2="0"><stop offset="0" stop-color="#4848ec"/><stop offset=".403" stop-color="#4848ec"/><stop offset=".435" stop-color="#4853f5"/><stop offset=".468" stop-color="#3777fe"/><stop offset=".484" stop-color="#3a73fe"/><stop offset=".516" stop-color="#4850f2"/><stop offset=".548" stop-color="#4848ec"/><stop offset=".645" stop-color="#4848ec"/><stop offset=".694" stop-color="#4756f7"/><stop offset=".742" stop-color="#4848ec"/><stop offset="1" stop-color="#4848ec"/></linearGradient><linearGradient id="lg71" x1="0" y1="0" x2="1" y2="0"><stop offset="0" stop-color="#4537d6"/><stop offset=".403" stop-color="#4538d7"/><stop offset=".435" stop-color="#4741e5"/><stop offset=".468" stop-color="#4660fc"/><stop offset=".484" stop-color="#465dfb"/><stop offset=".516" stop-color="#463ee1"/><stop offset=".532" stop-color="#4539d9"/><stop offset=".645" stop-color="#4538d7"/><stop offset=".694" stop-color="#4744e8"/><stop offset=".742" stop-color="#4537d7"/><stop offset="1" stop-color="#4537d6"/></linearGradient><linearGradient id="lg72" x1="0" y1="0" x2="1" y2="0"><stop offset="0" stop-color="#4535d2"/><stop offset=".403" stop-color="#4536d3"/><stop offset=".435" stop-color="#463ee1"/><stop offset=".468" stop-color="#4759f8"/><stop offset=".484" stop-color="#4757f7"/><stop offset=".516" stop-color="#463bdd"/><stop offset=".548" stop-color="#4536d2"/><stop offset=".645" stop-color="#4536d3"/><stop offset=".694" stop-color="#4740e3"/><stop offset=".742" stop-color="#4536d2"/><stop offset="1" stop-color="#4535d2"/></linearGradient><linearGradient id="lg73" x1="0" y1="0" x2="1" y2="0"><stop offset="0" stop-color="#4434ce"/><stop offset=".403" stop-color="#4434ce"/><stop offset=".435" stop-color="#463adc"/><stop offset=".468" stop-color="#4852f4"/><stop offset=".484" stop-color="#4850f2"/><stop offset=".516" stop-color="#4538d8"/><stop offset=".548" stop-color="#4434ce"/><stop offset=".645" stop-color="#4434ce"/><stop offset=".694" stop-color="#463cde"/><stop offset=".742" stop-color="#4434ce"/><stop offset="1" stop-color="#4434ce"/></linearGradient><linearGradient id="lg74" x1="0" y1="0" x2="1" y2="0"><stop offset="0" stop-color="#3e26a8"/><stop offset=".403" stop-color="#3e27a9"/><stop offset=".435" stop-color="#402bb7"/><stop offset=".468" stop-color="#463bdd"/><stop offset=".484" stop-color="#4639da"/><stop offset=".516" stop-color="#402ab3"/><stop offset=".548" stop-color="#3e26a9"/><stop offset=".645" stop-color="#3e27a9"/><stop offset=".694" stop-color="#412cb9"/><stop offset=".742" stop-color="#3e26a9"/><stop offset="1" stop-color="#3e26a8"/></linearGradient><linearGradient id="lg75" x1="0" y1="0" x2="1" y2="0"><stop offset="0" stop-color="#3e26a8"/><stop offset=".403" stop-color="#3e26a9"/><stop offset=".435" stop-color="#402ab5"/><stop offset=".468" stop-color="#4537d5"/><stop offset=".484" stop-color="#4536d2"/><stop offset=".516" stop-color="#3f29b1"/><stop offset=".548" stop-color="#3e26a9"/><stop offset=".645" stop-color="#3e26a9"/><stop offset=".694" stop-color="#402ab5"/><stop offset=".742" stop-color="#3e26a9"/><stop offset="1" stop-color="#3e26a8"/></linearGradient><linearGradient id="lg76" x1="0" y1="0" x2="1" y2="0"><stop offset="0" stop-color="#3e26a8"/><stop offset=".403" stop-color="#3e26a9"/><stop offset=".435" stop-color="#3f29b2"/><stop offset=".468" stop-color="#4433cd"/><stop offset=".484" stop-color="#4332cb"/><stop offset=".516" stop-color="#3f28af"/><stop offset=".548" stop-color="#3e26a9"/><stop offset=".645" stop-color="#3e26a9"/><stop offset=".694" stop-color="#3f29b2"/><stop offset=".742" stop-color="#3e26a8"/><stop offset="1" stop-color="#3e26a8"/></linearGradient><linearGradient id="lg77" x1="0" y1="0" x2="1" y2="0"><stop offset="0" stop-color="#3e26a8"/><stop offset=".403" stop-color="#3e26a9"/><stop offset=".435" stop-color="#3f29b0"/><stop offset=".468" stop-color="#4331c6"/><stop offset=".516" stop-color="#3f28ae"/><stop offset=".548" stop-color="#3e26a9"/><stop offset=".694" stop-color="#3f29b0"/><stop offset=".742" stop-color="#3e26a8"/><stop offset="1" stop-color="#3e26a8"/></linearGradient><linearGradient id="lg78" x1="0" y1="0" x2="1" y2="0"><stop offset="0" stop-color="#3e26a8"/><stop offset=".403" stop-color="#3e26a9"/><stop offset=".468" stop-color="#422ebf"/><stop offset=".548" stop-color="#3e26a8"/><stop offset="1" stop-color="#3e26a8"/></linearGradient><linearGradient id="lg79" x1="0" y1="0" x2="1" y2="0"><stop offset="0" stop-color="#11b2d5"/><stop offset="1" stop-color="#10b2d5"/></linearGradient><linearGradient id="lg80" x1="0" y1="0" x2="1" y2="0"><stop offset="0" stop-color="#05bbc1"/><stop offset=".587" stop-color="#0cbdbc"/><stop offset="1" stop-color="#05bbc1"/></linearGradient><linearGradient id="lg81" x1="0" y1="0" x2="1" y2="0"><stop offset="0" stop-color="#2cc4a7"/><stop offset=".587" stop-color="#39c994"/><stop offset="1" stop-color="#2cc4a7"/></linearGradient><linearGradient id="lg82" x1="0" y1="0" x2="1" y2="0"><stop offset="0" stop-color="#5acc77"/><stop offset=".587" stop-color="#a5c83d"/><stop offset=".683" stop-color="#9dc943"/><stop offset=".873" stop-color="#6ecd66"/><stop offset="1" stop-color="#5ccc76"/></linearGradient><linearGradient id="lg83" x1="0" y1="0" x2="1" y2="0"><stop offset="0" stop-color="#9dc943"/><stop offset=".175" stop-color="#c6c22a"/><stop offset=".286" stop-color="#d2bf27"/><stop offset=".397" stop-color="#e3bc2c"/><stop offset=".492" stop-color="#f7ba3c"/><stop offset=".587" stop-color="#febe3c"/><stop offset=".683" stop-color="#f8ba3d"/><stop offset=".825" stop-color="#cfc028"/><stop offset="1" stop-color="#a0c841"/></linearGradient><linearGradient id="lg84" x1="0" y1="0" x2="1" y2="0"><stop offset="0" stop-color="#b7c532"/><stop offset=".095" stop-color="#d0bf27"/><stop offset=".19" stop-color="#e6bb2d"/><stop offset=".349" stop-color="#f7ba3c"/><stop offset=".429" stop-color="#fec338"/><stop offset=".603" stop-color="#f9d82c"/><stop offset=".762" stop-color="#febf3b"/><stop offset=".794" stop-color="#f8ba3d"/><stop offset=".889" stop-color="#d8be28"/><stop offset="1" stop-color="#bac430"/></linearGradient><linearGradient id="lg85" x1="0" y1="0" x2="1" y2="0"><stop offset="0" stop-color="#98c946"/><stop offset=".143" stop-color="#c1c32c"/><stop offset=".222" stop-color="#d1bf27"/><stop offset=".365" stop-color="#e3bc2c"/><stop offset=".46" stop-color="#f9bb3d"/><stop offset=".524" stop-color="#fec239"/><stop offset=".603" stop-color="#fec636"/><stop offset=".714" stop-color="#fabb3d"/><stop offset=".841" stop-color="#cec028"/><stop offset="1" stop-color="#9cc943"/></linearGradient><linearGradient id="lg86" x1="0" y1="0" x2="1" y2="0"><stop offset="0" stop-color="#5ecd74"/><stop offset=".175" stop-color="#83cc57"/><stop offset=".333" stop-color="#95ca49"/><stop offset=".508" stop-color="#bfc32e"/><stop offset=".587" stop-color="#c7c12a"/><stop offset=".698" stop-color="#b8c431"/><stop offset=".889" stop-color="#78cc5f"/><stop offset="1" stop-color="#61cd71"/></linearGradient><linearGradient id="lg87" x1="0" y1="0" x2="1" y2="0"><stop offset="0" stop-color="#36c799"/><stop offset=".349" stop-color="#48cb86"/><stop offset=".587" stop-color="#60cd72"/><stop offset="1" stop-color="#36c898"/></linearGradient><linearGradient id="lg88" x1="0" y1="0" x2="1" y2="0"><stop offset="0" stop-color="#24c1ae"/><stop offset=".587" stop-color="#2fc5a3"/><stop offset="1" stop-color="#24c2ae"/></linearGradient><linearGradient id="lg89" x1="0" y1="0" x2="1" y2="0"><stop offset="0" stop-color="#13beb9"/><stop offset=".571" stop-color="#21c1b1"/><stop offset="1" stop-color="#13beb8"/></linearGradient><linearGradient id="lg90" x1="0" y1="0" x2="1" y2="0"><stop offset="0" stop-color="#32c69f"/><stop offset=".571" stop-color="#4bcb84"/><stop offset="1" stop-color="#32c69e"/></linearGradient><linearGradient id="lg91" x1="0" y1="0" x2="1" y2="0"><stop offset="0" stop-color="#60cd72"/><stop offset=".317" stop-color="#8acb52"/><stop offset=".492" stop-color="#b0c636"/><stop offset=".571" stop-color="#b7c531"/><stop offset=".667" stop-color="#adc638"/><stop offset=".873" stop-color="#74cc62"/><stop offset="1" stop-color="#62cd71"/></linearGradient><linearGradient id="lg92" x1="0" y1="0" x2="1" y2="0"><stop offset="0" stop-color="#9ec942"/><stop offset=".254" stop-color="#d0bf27"/><stop offset=".365" stop-color="#e4bb2c"/><stop offset=".444" stop-color="#f8ba3d"/><stop offset=".54" stop-color="#fec338"/><stop offset=".698" stop-color="#f8ba3d"/><stop offset=".81" stop-color="#d4bf27"/><stop offset=".905" stop-color="#b4c534"/><stop offset="1" stop-color="#a0c841"/></linearGradient><linearGradient id="lg93" x1="0" y1="0" x2="1" y2="0"><stop offset="0" stop-color="#c2c22c"/><stop offset=".111" stop-color="#dcbd29"/><stop offset=".19" stop-color="#ecba33"/><stop offset=".27" stop-color="#f7ba3d"/><stop offset=".365" stop-color="#fec438"/><stop offset=".571" stop-color="#f5e825"/><stop offset=".651" stop-color="#f6e128"/><stop offset=".778" stop-color="#fec03a"/><stop offset=".81" stop-color="#f9ba3d"/><stop offset=".905" stop-color="#dabd28"/><stop offset="1" stop-color="#c5c22a"/></linearGradient><linearGradient id="lg94" x1="0" y1="0" x2="1" y2="0"><stop offset="0" stop-color="#abc739"/><stop offset=".159" stop-color="#d3bf27"/><stop offset=".349" stop-color="#f7ba3c"/><stop offset=".397" stop-color="#fec13a"/><stop offset=".571" stop-color="#f6e128"/><stop offset=".651" stop-color="#f8d92c"/><stop offset=".746" stop-color="#fec03b"/><stop offset=".778" stop-color="#f7ba3c"/><stop offset=".873" stop-color="#d1bf27"/><stop offset="1" stop-color="#aec637"/></linearGradient><linearGradient id="lg95" x1="0" y1="0" x2="1" y2="0"><stop offset="0" stop-color="#75cc61"/><stop offset=".286" stop-color="#b0c636"/><stop offset=".381" stop-color="#cfc028"/><stop offset=".492" stop-color="#f7ba3c"/><stop offset=".556" stop-color="#febf3c"/><stop offset=".651" stop-color="#f8ba3d"/><stop offset=".762" stop-color="#cdc028"/><stop offset=".889" stop-color="#93ca4b"/><stop offset="1" stop-color="#78cc5f"/></linearGradient><linearGradient id="lg96" x1="0" y1="0" x2="1" y2="0"><stop offset="0" stop-color="#45cb89"/><stop offset=".286" stop-color="#66cd6d"/><stop offset=".349" stop-color="#78cc5f"/><stop offset=".492" stop-color="#b8c431"/><stop offset=".571" stop-color="#c7c12a"/><stop offset=".651" stop-color="#bac430"/><stop offset=".841" stop-color="#63cd70"/><stop offset="1" stop-color="#47cb87"/></linearGradient><linearGradient id="lg97" x1="0" y1="0" x2="1" y2="0"><stop offset="0" stop-color="#2fc5a3"/><stop offset=".333" stop-color="#3dca90"/><stop offset=".508" stop-color="#7acc5d"/><stop offset=".571" stop-color="#86cb55"/><stop offset=".635" stop-color="#7ccc5c"/><stop offset=".81" stop-color="#3dc990"/><stop offset="1" stop-color="#2fc5a2"/></linearGradient><linearGradient id="lg98" x1="0" y1="0" x2="1" y2="0"><stop offset="0" stop-color="#16bfb7"/><stop offset=".302" stop-color="#24c1af"/><stop offset=".571" stop-color="#54cc7c"/><stop offset=".825" stop-color="#26c2ac"/><stop offset="1" stop-color="#17bfb6"/></linearGradient><linearGradient id="lg99" x1="0" y1="0" x2="1" y2="0"><stop offset="0" stop-color="#03bbc2"/><stop offset=".286" stop-color="#0abdbe"/><stop offset=".444" stop-color="#2dc4a5"/><stop offset=".571" stop-color="#3cc991"/><stop offset=".714" stop-color="#2cc4a7"/><stop offset=".857" stop-color="#0abdbd"/><stop offset="1" stop-color="#03bbc2"/></linearGradient><linearGradient id="lg100" x1="0" y1="0" x2="1" y2="0"><stop offset="0" stop-color="#05b6cd"/><stop offset=".349" stop-color="#02bac4"/><stop offset=".476" stop-color="#24c1ae"/><stop offset=".571" stop-color="#2ec5a4"/><stop offset=".667" stop-color="#26c2ad"/><stop offset=".794" stop-color="#02bbc3"/><stop offset="1" stop-color="#04b6cd"/></linearGradient><linearGradient id="lg101" x1="0" y1="0" x2="1" y2="0"><stop offset="0" stop-color="#13b0d7"/><stop offset=".238" stop-color="#12b1d6"/><stop offset=".413" stop-color="#01b8c8"/><stop offset=".571" stop-color="#18bfb6"/><stop offset=".746" stop-color="#01b8c9"/><stop offset="1" stop-color="#13b0d7"/></linearGradient><linearGradient id="lg102" x1="0" y1="0" x2="1" y2="0"><stop offset="0" stop-color="#1caadf"/><stop offset=".333" stop-color="#19addc"/><stop offset=".508" stop-color="#02b7cb"/><stop offset=".619" stop-color="#01b8ca"/><stop offset=".81" stop-color="#18addb"/><stop offset="1" stop-color="#1caadf"/></linearGradient><linearGradient id="lg103" x1="0" y1="0" x2="1" y2="0"><stop offset="0" stop-color="#22a2e4"/><stop offset=".571" stop-color="#15afd9"/><stop offset="1" stop-color="#22a2e4"/></linearGradient><linearGradient id="lg104" x1="0" y1="0" x2="1" y2="0"><stop offset="0" stop-color="#269ae8"/><stop offset=".571" stop-color="#20a4e3"/><stop offset="1" stop-color="#269ae8"/></linearGradient><linearGradient id="lg105" x1="0" y1="0" x2="1" y2="0"><stop offset="0" stop-color="#2994ed"/><stop offset=".571" stop-color="#259be8"/><stop offset="1" stop-color="#2994ed"/></linearGradient><linearGradient id="lg106" x1="0" y1="0" x2="1" y2="0"><stop offset="0" stop-color="#01b8c8"/><stop offset="1" stop-color="#01b9c8"/></linearGradient><linearGradient id="lg107" x1="0" y1="0" x2="1" y2="0"><stop offset="0" stop-color="#51cc7f"/><stop offset="1" stop-color="#51cc7e"/></linearGradient><linearGradient id="lg108" x1="0" y1="0" x2="1" y2="0"><stop offset="0" stop-color="#86cb55"/><stop offset="1" stop-color="#86cb54"/></linearGradient><linearGradient id="lg109" x1="0" y1="0" x2="1" y2="0"><stop offset="0" stop-color="#b7c532"/><stop offset="1" stop-color="#b9c431"/></linearGradient><linearGradient id="lg110" x1="0" y1="0" x2="1" y2="0"><stop offset="0" stop-color="#d5be28"/><stop offset="1" stop-color="#d9bd28"/></linearGradient><linearGradient id="lg111" x1="0" y1="0" x2="1" y2="0"><stop offset="0" stop-color="#ecba32"/><stop offset="1" stop-color="#f2ba37"/></linearGradient><linearGradient id="lg112" x1="0" y1="0" x2="1" y2="0"><stop offset="0" stop-color="#f3ba39"/><stop offset="1" stop-color="#fbbc3d"/></linearGradient><linearGradient id="lg113" x1="0" y1="0" x2="1" y2="0"><stop offset="0" stop-color="#fabb3d"/><stop offset="1" stop-color="#fec338"/></linearGradient><linearGradient id="lg114" x1="0" y1="0" x2="1" y2="0"><stop offset="0" stop-color="#febe3c"/><stop offset=".677" stop-color="#febe3c"/><stop offset=".919" stop-color="#fcd030"/><stop offset="1" stop-color="#fdcb33"/></linearGradient><linearGradient id="lg115" x1="0" y1="0" x2="1" y2="0"><stop offset="0" stop-color="#fec03b"/><stop offset=".694" stop-color="#fec13a"/><stop offset=".919" stop-color="#f9d62d"/><stop offset="1" stop-color="#fcd030"/></linearGradient><linearGradient id="lg116" x1="0" y1="0" x2="1" y2="0"><stop offset="0" stop-color="#fec239"/><stop offset=".694" stop-color="#fec338"/><stop offset=".919" stop-color="#f8da2b"/><stop offset="1" stop-color="#fad42e"/></linearGradient><linearGradient id="lg117" x1="0" y1="0" x2="1" y2="0"><stop offset="0" stop-color="#fec338"/><stop offset=".677" stop-color="#fec438"/><stop offset=".919" stop-color="#f8d92c"/><stop offset="1" stop-color="#fbd32e"/></linearGradient><linearGradient id="lg118" x1="0" y1="0" x2="1" y2="0"><stop offset="0" stop-color="#febf3c"/><stop offset=".677" stop-color="#febf3b"/><stop offset=".919" stop-color="#fccf30"/><stop offset="1" stop-color="#fdcb33"/></linearGradient><linearGradient id="lg119" x1="0" y1="0" x2="1" y2="0"><stop offset="0" stop-color="#fabb3d"/><stop offset="1" stop-color="#fec239"/></linearGradient><linearGradient id="lg120" x1="0" y1="0" x2="1" y2="0"><stop offset="0" stop-color="#efba35"/><stop offset="1" stop-color="#f7ba3c"/></linearGradient><linearGradient id="lg121" x1="0" y1="0" x2="1" y2="0"><stop offset="0" stop-color="#c7c12a"/><stop offset="1" stop-color="#cdc028"/></linearGradient><linearGradient id="lg122" x1="0" y1="0" x2="1" y2="0"><stop offset="0" stop-color="#8fcb4e"/><stop offset="1" stop-color="#92ca4b"/></linearGradient><linearGradient id="lg123" x1="0" y1="0" x2="1" y2="0"><stop offset="0" stop-color="#42ca8b"/><stop offset="1" stop-color="#44ca8a"/></linearGradient><linearGradient id="lg124" x1="0" y1="0" x2="1" y2="0"><stop offset="0" stop-color="#19bfb6"/><stop offset="1" stop-color="#19bfb5"/></linearGradient><linearGradient id="lg125" x1="0" y1="0" x2="1" y2="0"><stop offset="0" stop-color="#249fe5"/><stop offset="1" stop-color="#1ea7e1"/></linearGradient><linearGradient id="lg126" x1="0" y1="0" x2="1" y2="0"><stop offset="0" stop-color="#1da8e0"/><stop offset=".387" stop-color="#13b1d7"/><stop offset="1" stop-color="#12b1d6"/></linearGradient><linearGradient id="lg127" x1="0" y1="0" x2="1" y2="0"><stop offset="0" stop-color="#13b0d7"/><stop offset=".258" stop-color="#01b8ca"/><stop offset="1" stop-color="#02bac5"/></linearGradient><linearGradient id="lg128" x1="0" y1="0" x2="1" y2="0"><stop offset="0" stop-color="#02bac4"/><stop offset=".339" stop-color="#25c2ad"/><stop offset="1" stop-color="#28c3ab"/></linearGradient><linearGradient id="lg129" x1="0" y1="0" x2="1" y2="0"><stop offset="0" stop-color="#22c1b0"/><stop offset=".387" stop-color="#40ca8d"/><stop offset="1" stop-color="#43ca8b"/></linearGradient><linearGradient id="lg130" x1="0" y1="0" x2="1" y2="0"><stop offset="0" stop-color="#36c899"/><stop offset=".113" stop-color="#3fca8e"/><stop offset=".258" stop-color="#5fcd73"/><stop offset=".387" stop-color="#6fcd66"/><stop offset="1" stop-color="#74cc62"/></linearGradient><linearGradient id="lg131" x1="0" y1="0" x2="1" y2="0"><stop offset="0" stop-color="#4fcc80"/><stop offset=".081" stop-color="#59cc79"/><stop offset=".258" stop-color="#8dcb50"/><stop offset=".371" stop-color="#9ec942"/><stop offset="1" stop-color="#a6c73c"/></linearGradient><linearGradient id="lg132" x1="0" y1="0" x2="1" y2="0"><stop offset="0" stop-color="#5ccc75"/><stop offset=".081" stop-color="#67cd6c"/><stop offset=".242" stop-color="#9ec942"/><stop offset=".355" stop-color="#b3c534"/><stop offset="1" stop-color="#c0c32d"/></linearGradient><linearGradient id="lg133" x1="0" y1="0" x2="1" y2="0"><stop offset="0" stop-color="#6ccd68"/><stop offset=".065" stop-color="#74cc62"/><stop offset=".226" stop-color="#aec637"/><stop offset=".339" stop-color="#c6c22a"/><stop offset="1" stop-color="#d9be28"/></linearGradient><linearGradient id="lg134" x1="0" y1="0" x2="1" y2="0"><stop offset="0" stop-color="#7ecc5b"/><stop offset=".081" stop-color="#8bcb51"/><stop offset=".242" stop-color="#c5c22a"/><stop offset=".339" stop-color="#d7be28"/><stop offset=".726" stop-color="#e1bc2b"/><stop offset=".919" stop-color="#f2ba38"/><stop offset="1" stop-color="#eeba34"/></linearGradient><linearGradient id="lg135" x1="0" y1="0" x2="1" y2="0"><stop offset="0" stop-color="#88cb53"/><stop offset=".081" stop-color="#96ca49"/><stop offset=".21" stop-color="#c4c22b"/><stop offset=".339" stop-color="#dfbc2a"/><stop offset=".726" stop-color="#e9bb30"/><stop offset=".903" stop-color="#febe3c"/><stop offset="1" stop-color="#fabb3d"/></linearGradient><linearGradient id="lg136" x1="0" y1="0" x2="1" y2="0"><stop offset="0" stop-color="#96ca48"/><stop offset=".065" stop-color="#9ec942"/><stop offset=".194" stop-color="#c9c129"/><stop offset=".339" stop-color="#e7bb2e"/><stop offset=".79" stop-color="#f9ba3d"/><stop offset=".919" stop-color="#fec934"/><stop offset="1" stop-color="#fec338"/></linearGradient><linearGradient id="lg137" x1="0" y1="0" x2="1" y2="0"><stop offset="0" stop-color="#a6c73c"/><stop offset=".065" stop-color="#aec637"/><stop offset=".177" stop-color="#d0bf27"/><stop offset=".339" stop-color="#efba35"/><stop offset=".726" stop-color="#f8ba3d"/><stop offset=".919" stop-color="#fbd22f"/><stop offset="1" stop-color="#fdcb33"/></linearGradient><linearGradient id="lg138" x1="0" y1="0" x2="1" y2="0"><stop offset="0" stop-color="#b6c532"/><stop offset=".145" stop-color="#d1bf27"/><stop offset=".339" stop-color="#f5ba3a"/><stop offset=".742" stop-color="#fdbd3d"/><stop offset=".919" stop-color="#f9d72c"/><stop offset="1" stop-color="#fcd030"/></linearGradient><linearGradient id="lg139" x1="0" y1="0" x2="1" y2="0"><stop offset="0" stop-color="#bcc42f"/><stop offset=".145" stop-color="#d4bf28"/><stop offset=".339" stop-color="#f3ba39"/><stop offset=".742" stop-color="#fbbc3d"/><stop offset=".919" stop-color="#fbd32e"/><stop offset="1" stop-color="#fdcc32"/></linearGradient><linearGradient id="lg140" x1="0" y1="0" x2="1" y2="0"><stop offset="0" stop-color="#c4c22b"/><stop offset=".161" stop-color="#dbbd28"/><stop offset=".339" stop-color="#f2ba38"/><stop offset=".742" stop-color="#fabb3d"/><stop offset=".919" stop-color="#fdcd32"/><stop offset="1" stop-color="#fec735"/></linearGradient><linearGradient id="lg141" x1="0" y1="0" x2="1" y2="0"><stop offset="0" stop-color="#c5c22a"/><stop offset=".177" stop-color="#dbbd29"/><stop offset=".339" stop-color="#edba33"/><stop offset="1" stop-color="#febe3c"/></linearGradient><linearGradient id="lg142" x1="0" y1="0" x2="1" y2="0"><stop offset="0" stop-color="#afc637"/><stop offset=".339" stop-color="#d4bf28"/><stop offset="1" stop-color="#e5bb2d"/></linearGradient><linearGradient id="lg143" x1="0" y1="0" x2="1" y2="0"><stop offset="0" stop-color="#96ca48"/><stop offset=".339" stop-color="#b7c532"/><stop offset="1" stop-color="#c3c22b"/></linearGradient><linearGradient id="lg144" x1="0" y1="0" x2="1" y2="0"><stop offset="0" stop-color="#5fcd73"/><stop offset=".355" stop-color="#78cc5f"/><stop offset="1" stop-color="#80cc59"/></linearGradient><linearGradient id="lg145" x1="0" y1="0" x2="1" y2="0"><stop offset="0" stop-color="#30c5a1"/><stop offset=".371" stop-color="#38c896"/><stop offset="1" stop-color="#3ac993"/></linearGradient><linearGradient id="lg146" x1="0" y1="0" x2="1" y2="0"><stop offset="0" stop-color="#08bcbe"/><stop offset=".371" stop-color="#15bfb8"/><stop offset="1" stop-color="#16bfb7"/></linearGradient><linearGradient id="lg147" x1="0" y1="0" x2="1" y2="0"><stop offset="0" stop-color="#12b1d6"/><stop offset="1" stop-color="#0ab4d2"/></linearGradient><linearGradient id="lg148" x1="0" y1="0" x2="1" y2="0"><stop offset="0" stop-color="#1fa6e2"/><stop offset="1" stop-color="#1da8e0"/></linearGradient><linearGradient id="lg149" x1="0" y1="0" x2="1" y2="0"><stop offset="0" stop-color="#269be8"/><stop offset="1" stop-color="#259ce7"/></linearGradient><linearGradient id="lg150" x1="0" y1="0" x2="1" y2="0"><stop offset="0" stop-color="#2c8ff0"/><stop offset="1" stop-color="#2b90f0"/></linearGradient><linearGradient id="lg151" x1="0" y1="0" x2="1" y2="0"><stop offset="0" stop-color="#3479fd"/><stop offset="1" stop-color="#347afd"/></linearGradient><linearGradient id="lg152" x1="0" y1="0" x2="1" y2="0"><stop offset="0" stop-color="#71cd65"/><stop offset=".71" stop-color="#78cc5f"/><stop offset="1" stop-color="#71cd64"/></linearGradient><linearGradient id="lg153" x1="0" y1="0" x2="1" y2="0"><stop offset="0" stop-color="#78cc5f"/><stop offset=".452" stop-color="#7acc5e"/><stop offset=".71" stop-color="#87cb54"/><stop offset="1" stop-color="#79cc5f"/></linearGradient><linearGradient id="lg154" x1="0" y1="0" x2="1" y2="0"><stop offset="0" stop-color="#80cc59"/><stop offset=".468" stop-color="#84cc56"/><stop offset=".71" stop-color="#9bc944"/><stop offset="1" stop-color="#81cc59"/></linearGradient><linearGradient id="lg155" x1="0" y1="0" x2="1" y2="0"><stop offset="0" stop-color="#88cb53"/><stop offset=".468" stop-color="#90ca4d"/><stop offset=".71" stop-color="#b4c533"/><stop offset=".903" stop-color="#91ca4c"/><stop offset="1" stop-color="#89cb53"/></linearGradient><linearGradient id="lg156" x1="0" y1="0" x2="1" y2="0"><stop offset="0" stop-color="#92ca4c"/><stop offset=".484" stop-color="#a1c840"/><stop offset=".645" stop-color="#cac129"/><stop offset=".71" stop-color="#d1bf27"/><stop offset=".774" stop-color="#c6c22a"/><stop offset=".903" stop-color="#9ec942"/><stop offset="1" stop-color="#92ca4c"/></linearGradient><linearGradient id="lg157" x1="0" y1="0" x2="1" y2="0"><stop offset="0" stop-color="#a2c83f"/><stop offset=".306" stop-color="#bdc32e"/><stop offset=".5" stop-color="#bac430"/><stop offset=".581" stop-color="#d0c028"/><stop offset=".645" stop-color="#e5bb2d"/><stop offset=".71" stop-color="#edba33"/><stop offset=".758" stop-color="#e6bb2d"/><stop offset=".823" stop-color="#cfc028"/><stop offset=".919" stop-color="#abc739"/><stop offset="1" stop-color="#9ec942"/></linearGradient><linearGradient id="lg158" x1="0" y1="0" x2="1" y2="0"><stop offset="0" stop-color="#b6c532"/><stop offset=".323" stop-color="#ddbd29"/><stop offset=".5" stop-color="#d0bf27"/><stop offset=".565" stop-color="#dfbc2a"/><stop offset=".645" stop-color="#fabb3d"/><stop offset=".726" stop-color="#febe3c"/><stop offset=".774" stop-color="#f6ba3b"/><stop offset=".855" stop-color="#d4bf27"/><stop offset=".935" stop-color="#b5c533"/><stop offset="1" stop-color="#abc739"/></linearGradient><linearGradient id="lg159" x1="0" y1="0" x2="1" y2="0"><stop offset="0" stop-color="#ccc028"/><stop offset=".097" stop-color="#e3bb2c"/><stop offset=".306" stop-color="#f7ba3c"/><stop offset=".5" stop-color="#e3bc2c"/><stop offset=".613" stop-color="#fdbd3d"/><stop offset=".694" stop-color="#fdcb33"/><stop offset=".774" stop-color="#fec13a"/><stop offset=".806" stop-color="#f8ba3d"/><stop offset=".887" stop-color="#d3bf27"/><stop offset="1" stop-color="#b7c532"/></linearGradient><linearGradient id="lg160" x1="0" y1="0" x2="1" y2="0"><stop offset="0" stop-color="#e1bc2b"/><stop offset=".113" stop-color="#fcbc3d"/><stop offset=".323" stop-color="#fec537"/><stop offset=".435" stop-color="#fabb3d"/><stop offset=".5" stop-color="#f0ba36"/><stop offset=".565" stop-color="#f9ba3d"/><stop offset=".71" stop-color="#fbd22f"/><stop offset=".806" stop-color="#febe3c"/><stop offset=".887" stop-color="#ddbd29"/><stop offset="1" stop-color="#c1c32c"/></linearGradient><linearGradient id="lg161" x1="0" y1="0" x2="1" y2="0"><stop offset="0" stop-color="#e5bb2d"/><stop offset=".048" stop-color="#f8ba3d"/><stop offset=".081" stop-color="#febe3c"/><stop offset=".323" stop-color="#fec735"/><stop offset=".403" stop-color="#fec03b"/><stop offset=".516" stop-color="#eeba35"/><stop offset=".581" stop-color="#f9bb3d"/><stop offset=".694" stop-color="#fdcd31"/><stop offset=".79" stop-color="#febf3b"/><stop offset=".887" stop-color="#d9bd28"/><stop offset="1" stop-color="#bfc32d"/></linearGradient><linearGradient id="lg162" x1="0" y1="0" x2="1" y2="0"><stop offset="0" stop-color="#debd29"/><stop offset=".065" stop-color="#f5ba3b"/><stop offset=".113" stop-color="#fbbc3d"/><stop offset=".355" stop-color="#febe3c"/><stop offset=".516" stop-color="#e3bc2c"/><stop offset=".645" stop-color="#fcbd3d"/><stop offset=".742" stop-color="#febe3c"/><stop offset=".774" stop-color="#f9bb3d"/><stop offset=".871" stop-color="#d5be28"/><stop offset="1" stop-color="#b7c531"/></linearGradient><linearGradient id="lg163" x1="0" y1="0" x2="1" y2="0"><stop offset="0" stop-color="#c0c32d"/><stop offset=".113" stop-color="#debd29"/><stop offset=".339" stop-color="#e2bc2b"/><stop offset=".516" stop-color="#c5c22a"/><stop offset=".71" stop-color="#e6bb2d"/><stop offset=".806" stop-color="#d0bf27"/><stop offset=".903" stop-color="#aec637"/><stop offset="1" stop-color="#9fc942"/></linearGradient><linearGradient id="lg164" x1="0" y1="0" x2="1" y2="0"><stop offset="0" stop-color="#89cb52"/><stop offset=".097" stop-color="#9fc941"/><stop offset=".323" stop-color="#a6c83d"/><stop offset=".516" stop-color="#8fcb4e"/><stop offset=".71" stop-color="#aec637"/><stop offset=".903" stop-color="#7ecc5a"/><stop offset="1" stop-color="#73cd63"/></linearGradient><linearGradient id="lg165" x1="0" y1="0" x2="1" y2="0"><stop offset="0" stop-color="#55cc7c"/><stop offset=".323" stop-color="#64cd6f"/><stop offset=".516" stop-color="#5acc78"/><stop offset=".71" stop-color="#6dcd67"/><stop offset="1" stop-color="#4bcb83"/></linearGradient><linearGradient id="lg166" x1="0" y1="0" x2="1" y2="0"><stop offset="0" stop-color="#31c6a0"/><stop offset=".71" stop-color="#38c896"/><stop offset="1" stop-color="#30c5a2"/></linearGradient><linearGradient id="lg167" x1="0" y1="0" x2="1" y2="0"><stop offset="0" stop-color="#0bbdbd"/><stop offset=".71" stop-color="#14beb8"/><stop offset="1" stop-color="#0abdbd"/></linearGradient><linearGradient id="lg168" x1="0" y1="0" x2="1" y2="0"><stop offset="0" stop-color="#10b2d5"/><stop offset="1" stop-color="#11b2d5"/></linearGradient><linearGradient id="lg169" x1="0" y1="0" x2="1" y2="0"><stop offset="0" stop-color="#73cd63"/><stop offset=".677" stop-color="#7ccc5c"/><stop offset="1" stop-color="#74cc62"/></linearGradient><linearGradient id="lg170" x1="0" y1="0" x2="1" y2="0"><stop offset="0" stop-color="#7ccc5c"/><stop offset=".355" stop-color="#80cc59"/><stop offset=".677" stop-color="#8fcb4e"/><stop offset="1" stop-color="#7fcc5a"/></linearGradient><linearGradient id="lg171" x1="0" y1="0" x2="1" y2="0"><stop offset="0" stop-color="#86cb55"/><stop offset=".355" stop-color="#8ecb4f"/><stop offset=".677" stop-color="#a8c73b"/><stop offset="1" stop-color="#8bcb51"/></linearGradient><linearGradient id="lg172" x1="0" y1="0" x2="1" y2="0"><stop offset="0" stop-color="#91ca4d"/><stop offset=".274" stop-color="#9ac945"/><stop offset=".677" stop-color="#c6c22a"/><stop offset=".774" stop-color="#bfc32d"/><stop offset="1" stop-color="#98c947"/></linearGradient><linearGradient id="lg173" x1="0" y1="0" x2="1" y2="0"><stop offset="0" stop-color="#a1c840"/><stop offset=".194" stop-color="#aac73a"/><stop offset=".516" stop-color="#d2bf27"/><stop offset=".677" stop-color="#e9bb2f"/><stop offset=".758" stop-color="#e3bc2c"/><stop offset=".839" stop-color="#d1bf27"/><stop offset="1" stop-color="#aac739"/></linearGradient><linearGradient id="lg174" x1="0" y1="0" x2="1" y2="0"><stop offset="0" stop-color="#b2c535"/><stop offset=".177" stop-color="#c0c32d"/><stop offset=".29" stop-color="#d3bf27"/><stop offset=".629" stop-color="#febf3c"/><stop offset=".79" stop-color="#f8ba3d"/><stop offset=".887" stop-color="#dcbd29"/><stop offset="1" stop-color="#bcc42f"/></linearGradient><linearGradient id="lg175" x1="0" y1="0" x2="1" y2="0"><stop offset="0" stop-color="#c5c22a"/><stop offset=".21" stop-color="#ddbd29"/><stop offset=".339" stop-color="#f7ba3d"/><stop offset=".468" stop-color="#febe3c"/><stop offset=".677" stop-color="#fad52d"/><stop offset=".839" stop-color="#fdbd3d"/><stop offset=".935" stop-color="#dfbc2a"/><stop offset="1" stop-color="#cdc028"/></linearGradient><linearGradient id="lg176" x1="0" y1="0" x2="1" y2="0"><stop offset="0" stop-color="#d8be28"/><stop offset=".274" stop-color="#febe3c"/><stop offset=".677" stop-color="#f5e526"/><stop offset=".758" stop-color="#f6dd29"/><stop offset=".871" stop-color="#fec03b"/><stop offset=".903" stop-color="#f7ba3c"/><stop offset="1" stop-color="#dabd28"/></linearGradient><linearGradient id="lg177" x1="0" y1="0" x2="1" y2="0"><stop offset="0" stop-color="#e5bb2c"/><stop offset=".097" stop-color="#f7ba3c"/><stop offset=".226" stop-color="#febf3b"/><stop offset=".355" stop-color="#fad42e"/><stop offset=".5" stop-color="#f9d72d"/><stop offset=".677" stop-color="#f5eb23"/><stop offset=".758" stop-color="#f5e427"/><stop offset=".887" stop-color="#fec03a"/><stop offset=".919" stop-color="#f9ba3d"/><stop offset="1" stop-color="#e2bc2b"/></linearGradient><linearGradient id="lg178" x1="0" y1="0" x2="1" y2="0"><stop offset="0" stop-color="#e0bc2a"/><stop offset=".081" stop-color="#f2ba37"/><stop offset=".258" stop-color="#febf3b"/><stop offset=".355" stop-color="#fdce31"/><stop offset=".516" stop-color="#fcd130"/><stop offset=".677" stop-color="#f5e227"/><stop offset=".758" stop-color="#f7db2b"/><stop offset=".871" stop-color="#febe3c"/><stop offset="1" stop-color="#dabd28"/></linearGradient><linearGradient id="lg179" x1="0" y1="0" x2="1" y2="0"><stop offset="0" stop-color="#d0bf27"/><stop offset=".081" stop-color="#e2bc2b"/><stop offset=".21" stop-color="#e9bb30"/><stop offset=".339" stop-color="#fdbd3d"/><stop offset=".677" stop-color="#fcd030"/><stop offset=".79" stop-color="#fec438"/><stop offset=".855" stop-color="#f6ba3b"/><stop offset=".935" stop-color="#dcbd29"/><stop offset="1" stop-color="#cbc129"/></linearGradient><linearGradient id="lg180" x1="0" y1="0" x2="1" y2="0"><stop offset="0" stop-color="#a3c83f"/><stop offset=".339" stop-color="#d1bf27"/><stop offset=".5" stop-color="#d8be28"/><stop offset=".677" stop-color="#edba33"/><stop offset=".758" stop-color="#e6bb2d"/><stop offset=".839" stop-color="#d0bf27"/><stop offset="1" stop-color="#a0c841"/></linearGradient><linearGradient id="lg181" x1="0" y1="0" x2="1" y2="0"><stop offset="0" stop-color="#70cd65"/><stop offset=".677" stop-color="#b1c635"/><stop offset=".758" stop-color="#aac739"/><stop offset="1" stop-color="#70cd65"/></linearGradient><linearGradient id="lg182" x1="0" y1="0" x2="1" y2="0"><stop offset="0" stop-color="#43ca8a"/><stop offset=".226" stop-color="#4acb84"/><stop offset=".677" stop-color="#6acd6a"/><stop offset="1" stop-color="#45cb88"/></linearGradient><linearGradient id="lg183" x1="0" y1="0" x2="1" y2="0"><stop offset="0" stop-color="#29c3aa"/><stop offset=".677" stop-color="#34c79c"/><stop offset="1" stop-color="#2ac3a8"/></linearGradient><linearGradient id="lg184" x1="0" y1="0" x2="1" y2="0"><stop offset="0" stop-color="#02bbc3"/><stop offset=".677" stop-color="#0bbdbd"/><stop offset="1" stop-color="#03bbc2"/></linearGradient><linearGradient id="lg185" x1="0" y1="0" x2="0" y2="1"><stop offset="0" stop-color="#f9fb15"/><stop offset=".05" stop-color="#f5e825"/><stop offset=".1" stop-color="#fad42e"/><stop offset=".15" stop-color="#fec13a"/><stop offset=".2" stop-color="#eaba31"/><stop offset=".25" stop-color="#c8c129"/><stop offset=".3" stop-color="#9fc942"/><stop offset=".35" stop-color="#71cd64"/><stop offset=".4" stop-color="#48cb86"/><stop offset=".45" stop-color="#2fc5a2"/><stop offset=".5" stop-color="#12beb9"/><stop offset=".55" stop-color="#05b6ce"/><stop offset=".6" stop-color="#1caadf"/><stop offset=".65" stop-color="#259ce7"/><stop offset=".7" stop-color="#2d8cf3"/><stop offset=".75" stop-color="#347afd"/><stop offset=".8" stop-color="#4367fd"/><stop offset=".85" stop-color="#4755f6"/><stop offset=".9" stop-color="#4743e7"/><stop offset=".95" stop-color="#4433cc"/><stop offset="1" stop-color="#3e26a8"/></linearGradient><linearGradient id="lg186" x1="0" y1="0" x2="0" y2="1"><stop offset="0" stop-color="#f9fb15"/><stop offset=".05" stop-color="#f5e825"/><stop offset=".1" stop-color="#fad42e"/><stop offset=".15" stop-color="#fec13a"/><stop offset=".2" stop-color="#eaba31"/><stop offset=".25" stop-color="#c8c129"/><stop offset=".3" stop-color="#9fc942"/><stop offset=".35" stop-color="#71cd64"/><stop offset=".4" stop-color="#48cb86"/><stop offset=".45" stop-color="#2fc5a2"/><stop offset=".5" stop-color="#12beb9"/><stop offset=".55" stop-color="#05b6ce"/><stop offset=".6" stop-color="#1caadf"/><stop offset=".65" stop-color="#259ce7"/><stop offset=".7" stop-color="#2d8cf3"/><stop offset=".75" stop-color="#347afd"/><stop offset=".8" stop-color="#4367fd"/><stop offset=".85" stop-color="#4755f6"/><stop offset=".9" stop-color="#4743e7"/><stop offset=".95" stop-color="#4433cc"/><stop offset="1" stop-color="#3e26a8"/></linearGradient><linearGradient id="lg187" x1="0" y1="0" x2="0" y2="1"><stop offset="0" stop-color="#f9fb15"/><stop offset=".05" stop-color="#f5e825"/><stop offset=".1" stop-color="#fad42e"/><stop offset=".15" stop-color="#fec13a"/><stop offset=".2" stop-color="#eaba31"/><stop offset=".25" stop-color="#c8c129"/><stop offset=".3" stop-color="#9fc942"/><stop offset=".35" stop-color="#71cd64"/><stop offset=".4" stop-color="#48cb86"/><stop offset=".45" stop-color="#2fc5a2"/><stop offset=".5" stop-color="#12beb9"/><stop offset=".55" stop-color="#05b6ce"/><stop offset=".6" stop-color="#1caadf"/><stop offset=".65" stop-color="#259ce7"/><stop offset=".7" stop-color="#2d8cf3"/><stop offset=".75" stop-color="#347afd"/><stop offset=".8" stop-color="#4367fd"/><stop offset=".85" stop-color="#4755f6"/><stop offset=".9" stop-color="#4743e7"/><stop offset=".95" stop-color="#4433cc"/><stop offset="1" stop-color="#3e26a8"/></linearGradient><linearGradient id="lg188" x1="0" y1="0" x2="0" y2="1"><stop offset="0" stop-color="#f9fb15"/><stop offset=".05" stop-color="#f5e825"/><stop offset=".1" stop-color="#fad42e"/><stop offset=".15" stop-color="#fec13a"/><stop offset=".2" stop-color="#eaba31"/><stop offset=".25" stop-color="#c8c129"/><stop offset=".3" stop-color="#9fc942"/><stop offset=".35" stop-color="#71cd64"/><stop offset=".4" stop-color="#48cb86"/><stop offset=".45" stop-color="#2fc5a2"/><stop offset=".5" stop-color="#12beb9"/><stop offset=".55" stop-color="#05b6ce"/><stop offset=".6" stop-color="#1caadf"/><stop offset=".65" stop-color="#259ce7"/><stop offset=".7" stop-color="#2d8cf3"/><stop offset=".75" stop-color="#347afd"/><stop offset=".8" stop-color="#4367fd"/><stop offset=".85" stop-color="#4755f6"/><stop offset=".9" stop-color="#4743e7"/><stop offset=".95" stop-color="#4433cc"/><stop offset="1" stop-color="#3e26a8"/></linearGradient><linearGradient id="lg189" x1="0" y1="0" x2="1" y2="0"><stop offset="0" stop-color="#8fff71"/><stop offset=".226" stop-color="#8aff76"/><stop offset=".452" stop-color="#56ffa9"/><stop offset=".677" stop-color="#8bff75"/><stop offset="1" stop-color="#8fff71"/></linearGradient><linearGradient id="lg190" x1="0" y1="0" x2="1" y2="0"><stop offset="0" stop-color="#8fff71"/><stop offset=".21" stop-color="#83ff7d"/><stop offset=".274" stop-color="#65ff9b"/><stop offset=".387" stop-color="#00fbff"/><stop offset=".452" stop-color="#00e2ff"/><stop offset=".5" stop-color="#00f8ff"/><stop offset=".613" stop-color="#62ff9e"/><stop offset=".677" stop-color="#82ff7e"/><stop offset="1" stop-color="#8fff71"/></linearGradient><linearGradient id="lg191" x1="0" y1="0" x2="1" y2="0"><stop offset="0" stop-color="#8fff71"/><stop offset=".226" stop-color="#82ff7e"/><stop offset=".403" stop-color="#17ffe8"/><stop offset=".452" stop-color="#0cfff3"/><stop offset=".677" stop-color="#85ff7b"/><stop offset="1" stop-color="#8fff71"/></linearGradient><linearGradient id="lg192" x1="0" y1="0" x2="1" y2="0"><stop offset="0" stop-color="#fff200"/><stop offset=".016" stop-color="#ffef00"/><stop offset=".032" stop-color="#8fff71"/><stop offset=".452" stop-color="#77ff89"/><stop offset="1" stop-color="#8fff71"/></linearGradient><linearGradient id="lg193" x1="0" y1="0" x2="1" y2="0"><stop offset="0" stop-color="#ffdc00"/><stop offset=".032" stop-color="#fff600"/><stop offset=".048" stop-color="#ffed00"/><stop offset=".065" stop-color="#8fff71"/><stop offset="1" stop-color="#8fff71"/></linearGradient><linearGradient id="lg194" x1="0" y1="0" x2="1" y2="0"><stop offset="0" stop-color="#ffcb00"/><stop offset=".032" stop-color="#ffde00"/><stop offset=".048" stop-color="#ffce00"/><stop offset=".065" stop-color="#ffe900"/><stop offset=".097" stop-color="#ffe300"/><stop offset=".129" stop-color="#fffd00"/><stop offset=".145" stop-color="#8fff71"/><stop offset="1" stop-color="#8fff71"/></linearGradient><linearGradient id="lg195" x1="0" y1="0" x2="1" y2="0"><stop offset="0" stop-color="#ffc000"/><stop offset=".016" stop-color="#ffcf00"/><stop offset=".048" stop-color="#ffb400"/><stop offset=".065" stop-color="#ffd500"/><stop offset=".097" stop-color="#ffc400"/><stop offset=".145" stop-color="#ffe200"/><stop offset=".161" stop-color="#8fff71"/><stop offset=".194" stop-color="#8fff71"/><stop offset=".21" stop-color="#ffeb00"/><stop offset=".226" stop-color="#fff900"/><stop offset=".242" stop-color="#8fff71"/><stop offset=".258" stop-color="#8fff71"/><stop offset=".274" stop-color="#fff500"/><stop offset=".29" stop-color="#8fff71"/><stop offset=".323" stop-color="#8fff71"/><stop offset=".339" stop-color="#f8ff07"/><stop offset=".355" stop-color="#8fff71"/><stop offset="1" stop-color="#8fff71"/></linearGradient><linearGradient id="lg196" x1="0" y1="0" x2="1" y2="0"><stop offset="0" stop-color="#ffb900"/><stop offset=".048" stop-color="#ffa000"/><stop offset=".065" stop-color="#ffbf00"/><stop offset=".097" stop-color="#ffaa00"/><stop offset=".113" stop-color="#ffc100"/><stop offset=".145" stop-color="#ffbf00"/><stop offset=".177" stop-color="#fff200"/><stop offset=".21" stop-color="#ffce00"/><stop offset=".339" stop-color="#ffdd00"/><stop offset=".355" stop-color="#8fff71"/><stop offset=".79" stop-color="#8eff72"/><stop offset=".871" stop-color="#6bff95"/><stop offset=".919" stop-color="#8aff76"/><stop offset="1" stop-color="#8fff71"/></linearGradient><linearGradient id="lg197" x1="0" y1="0" x2="1" y2="0"><stop offset="0" stop-color="#ffb200"/><stop offset=".032" stop-color="#ff8d00"/><stop offset=".065" stop-color="#ffa300"/><stop offset=".081" stop-color="#ff8a00"/><stop offset=".113" stop-color="#ffaa00"/><stop offset=".145" stop-color="#ffa200"/><stop offset=".161" stop-color="#ffcc00"/><stop offset=".194" stop-color="#ffac00"/><stop offset=".323" stop-color="#ffc900"/><stop offset=".339" stop-color="#ffb000"/><stop offset=".355" stop-color="#ffde00"/><stop offset=".371" stop-color="#8fff71"/><stop offset=".79" stop-color="#8bff74"/><stop offset=".823" stop-color="#6bff95"/><stop offset=".855" stop-color="#2dffd2"/><stop offset=".871" stop-color="#2dffd3"/><stop offset=".919" stop-color="#81ff7f"/><stop offset="1" stop-color="#8fff71"/></linearGradient><linearGradient id="lg198" x1="0" y1="0" x2="1" y2="0"><stop offset="0" stop-color="#ffa800"/><stop offset=".032" stop-color="#ff7900"/><stop offset=".065" stop-color="#ff8200"/><stop offset=".081" stop-color="#ff6b00"/><stop offset=".113" stop-color="#ff8d00"/><stop offset=".129" stop-color="#ff7700"/><stop offset=".161" stop-color="#ffae00"/><stop offset=".194" stop-color="#ff8c00"/><stop offset=".258" stop-color="#ff9c00"/><stop offset=".29" stop-color="#ff8c00"/><stop offset=".323" stop-color="#ffaa00"/><stop offset=".339" stop-color="#ff8200"/><stop offset=".355" stop-color="#ffb400"/><stop offset=".371" stop-color="#8fff71"/><stop offset=".79" stop-color="#8eff72"/><stop offset=".871" stop-color="#6bff95"/><stop offset=".919" stop-color="#8aff76"/><stop offset="1" stop-color="#8fff71"/></linearGradient><linearGradient id="lg199" x1="0" y1="0" x2="1" y2="0"><stop offset="0" stop-color="#ff9800"/><stop offset=".016" stop-color="#ff7400"/><stop offset=".081" stop-color="#ff5100"/><stop offset=".097" stop-color="#ff6f00"/><stop offset=".129" stop-color="#ff5800"/><stop offset=".161" stop-color="#ff8a00"/><stop offset=".177" stop-color="#ff7300"/><stop offset=".226" stop-color="#ff6a00"/><stop offset=".258" stop-color="#ff7e00"/><stop offset=".29" stop-color="#ff6700"/><stop offset=".306" stop-color="#ff8a00"/><stop offset=".323" stop-color="#ff8500"/><stop offset=".339" stop-color="#ff5700"/><stop offset=".371" stop-color="#ffc700"/><stop offset=".387" stop-color="#ffd800"/><stop offset=".403" stop-color="#8fff71"/><stop offset=".597" stop-color="#8fff71"/><stop offset=".613" stop-color="#ffdb00"/><stop offset=".629" stop-color="#ffdb00"/><stop offset=".645" stop-color="#8fff71"/><stop offset="1" stop-color="#8fff71"/></linearGradient><linearGradient id="lg200" x1="0" y1="0" x2="1" y2="0"><stop offset="0" stop-color="#ff8200"/><stop offset=".016" stop-color="#ff5f00"/><stop offset=".065" stop-color="#ff3a00"/><stop offset=".097" stop-color="#ff5700"/><stop offset=".129" stop-color="#ff3f00"/><stop offset=".161" stop-color="#ff6200"/><stop offset=".226" stop-color="#ff4400"/><stop offset=".258" stop-color="#ff5a00"/><stop offset=".274" stop-color="#ff3d00"/><stop offset=".306" stop-color="#ff6c00"/><stop offset=".339" stop-color="#ff3100"/><stop offset=".355" stop-color="#ff6900"/><stop offset=".387" stop-color="#ff8300"/><stop offset=".419" stop-color="#ffd500"/><stop offset=".435" stop-color="#ffbf00"/><stop offset=".452" stop-color="#ffce00"/><stop offset=".468" stop-color="#8fff71"/><stop offset=".565" stop-color="#8fff71"/><stop offset=".581" stop-color="#ffda00"/><stop offset=".661" stop-color="#ffda00"/><stop offset=".677" stop-color="#8fff71"/><stop offset="1" stop-color="#8fff71"/></linearGradient><linearGradient id="lg201" x1="0" y1="0" x2="1" y2="0"><stop offset="0" stop-color="#ff6900"/><stop offset=".065" stop-color="#ff1a00"/><stop offset=".097" stop-color="#ff3700"/><stop offset=".113" stop-color="#ff2400"/><stop offset=".145" stop-color="#ff3f00"/><stop offset=".226" stop-color="#ff2300"/><stop offset=".242" stop-color="#ff3900"/><stop offset=".274" stop-color="#ff1600"/><stop offset=".306" stop-color="#ff4a00"/><stop offset=".339" stop-color="#ff1100"/><stop offset=".355" stop-color="#ff4000"/><stop offset=".387" stop-color="#ff3300"/><stop offset=".403" stop-color="#ff6800"/><stop offset=".419" stop-color="#ff7100"/><stop offset=".435" stop-color="#ff4c00"/><stop offset=".468" stop-color="#ffa600"/><stop offset=".484" stop-color="#ff6400"/><stop offset=".516" stop-color="#ff8e00"/><stop offset=".532" stop-color="#ffc300"/><stop offset=".548" stop-color="#8fff71"/><stop offset=".565" stop-color="#8fff71"/><stop offset=".581" stop-color="#ffd200"/><stop offset=".629" stop-color="#ffae00"/><stop offset=".661" stop-color="#ffd000"/><stop offset=".677" stop-color="#8fff71"/><stop offset="1" stop-color="#8fff71"/></linearGradient><linearGradient id="lg202" x1="0" y1="0" x2="1" y2="0"><stop offset="0" stop-color="#ff5100"/><stop offset=".032" stop-color="#ff3700"/><stop offset=".048" stop-color="#ff0100"/><stop offset=".113" stop-color="#ff0400"/><stop offset=".145" stop-color="#ff1b00"/><stop offset=".194" stop-color="#ff1600"/><stop offset=".21" stop-color="#fd0000"/><stop offset=".242" stop-color="#ff1b00"/><stop offset=".274" stop-color="#f30000"/><stop offset=".306" stop-color="#ff2100"/><stop offset=".339" stop-color="#f20000"/><stop offset=".355" stop-color="#ff1100"/><stop offset=".387" stop-color="#e70000"/><stop offset=".403" stop-color="#ff1c00"/><stop offset=".435" stop-color="#fe0000"/><stop offset=".468" stop-color="#ff2b00"/><stop offset=".484" stop-color="#8fff71"/><stop offset=".581" stop-color="#8fff71"/><stop offset=".597" stop-color="#ffc200"/><stop offset=".629" stop-color="#ffae00"/><stop offset=".645" stop-color="#8fff71"/><stop offset="1" stop-color="#8fff71"/></linearGradient><linearGradient id="lg203" x1="0" y1="0" x2="1" y2="0"><stop offset="0" stop-color="#ff3c00"/><stop offset=".032" stop-color="#ff1600"/><stop offset=".048" stop-color="#d70000"/><stop offset=".129" stop-color="#f80000"/><stop offset=".177" stop-color="#f70000"/><stop offset=".21" stop-color="#d60000"/><stop offset=".242" stop-color="#f70000"/><stop offset=".258" stop-color="#d80000"/><stop offset=".274" stop-color="#d60000"/><stop offset=".306" stop-color="#f60000"/><stop offset=".371" stop-color="#c20000"/><stop offset=".419" stop-color="#e00000"/><stop offset=".435" stop-color="#8fff71"/><stop offset=".452" stop-color="#ff0100"/><stop offset=".468" stop-color="#8fff71"/><stop offset="1" stop-color="#8fff71"/></linearGradient><linearGradient id="lg204" x1="0" y1="0" x2="1" y2="0"><stop offset="0" stop-color="#ff2c00"/><stop offset=".032" stop-color="#f00000"/><stop offset=".048" stop-color="#b20000"/><stop offset=".129" stop-color="#d90000"/><stop offset=".145" stop-color="#ca0000"/><stop offset=".177" stop-color="#d70000"/><stop offset=".21" stop-color="#bc0000"/><stop offset=".226" stop-color="#d60000"/><stop offset=".258" stop-color="#bb0000"/><stop offset=".339" stop-color="#e30000"/><stop offset=".355" stop-color="#cc0000"/><stop offset=".371" stop-color="#ff1200"/><stop offset=".387" stop-color="#8fff71"/><stop offset=".403" stop-color="#c00000"/><stop offset=".419" stop-color="#8fff71"/><stop offset="1" stop-color="#8fff71"/></linearGradient><linearGradient id="lg205" x1="0" y1="0" x2="1" y2="0"><stop offset="0" stop-color="#ff2200"/><stop offset=".016" stop-color="#ff0600"/><stop offset=".048" stop-color="#9a0000"/><stop offset=".065" stop-color="#ac0000"/><stop offset=".097" stop-color="#a00000"/><stop offset=".129" stop-color="#c10000"/><stop offset=".145" stop-color="#b40000"/><stop offset=".177" stop-color="#db0000"/><stop offset=".242" stop-color="#d10000"/><stop offset=".274" stop-color="#f10000"/><stop offset=".29" stop-color="#e70000"/><stop offset=".306" stop-color="#bb0000"/><stop offset=".323" stop-color="#cc0000"/><stop offset=".339" stop-color="#ff0c00"/><stop offset=".355" stop-color="#f80000"/><stop offset=".371" stop-color="#8fff71"/><stop offset="1" stop-color="#8fff71"/></linearGradient><linearGradient id="lg206" x1="0" y1="0" x2="1" y2="0"><stop offset="0" stop-color="#ff1b00"/><stop offset=".016" stop-color="#ee0000"/><stop offset=".032" stop-color="#b40000"/><stop offset=".048" stop-color="#ab0000"/><stop offset=".065" stop-color="#bf0000"/><stop offset=".097" stop-color="#ac0000"/><stop offset=".113" stop-color="#cc0000"/><stop offset=".145" stop-color="#d10000"/><stop offset=".177" stop-color="#fc0000"/><stop offset=".242" stop-color="#f10000"/><stop offset=".274" stop-color="#ff1b00"/><stop offset=".306" stop-color="#e40000"/><stop offset=".323" stop-color="#ef0000"/><stop offset=".339" stop-color="#8fff71"/><stop offset="1" stop-color="#8fff71"/></linearGradient><linearGradient id="lg207" x1="0" y1="0" x2="1" y2="0"><stop offset="0" stop-color="#ff1400"/><stop offset=".032" stop-color="#a80000"/><stop offset=".048" stop-color="#d70000"/><stop offset=".097" stop-color="#d70000"/><stop offset=".145" stop-color="#fb0000"/><stop offset=".177" stop-color="#ff1d00"/><stop offset=".194" stop-color="#8fff71"/><stop offset=".21" stop-color="#8fff71"/><stop offset=".226" stop-color="#ff1a00"/><stop offset=".242" stop-color="#ff1700"/><stop offset=".258" stop-color="#8fff71"/><stop offset=".29" stop-color="#8fff71"/><stop offset=".306" stop-color="#ff1400"/><stop offset=".323" stop-color="#ff1600"/><stop offset=".339" stop-color="#8fff71"/><stop offset="1" stop-color="#8fff71"/></linearGradient><linearGradient id="lg208" x1="0" y1="0" x2="1" y2="0"><stop offset="0" stop-color="#ff0800"/><stop offset=".016" stop-color="#c80000"/><stop offset=".032" stop-color="#b10000"/><stop offset=".048" stop-color="#ff0200"/><stop offset=".129" stop-color="#ff0b00"/><stop offset=".145" stop-color="#8fff71"/><stop offset="1" stop-color="#8fff71"/></linearGradient><linearGradient id="lg209" x1="0" y1="0" x2="1" y2="0"><stop offset="0" stop-color="#f70000"/><stop offset=".016" stop-color="#b90000"/><stop offset=".032" stop-color="#d20000"/><stop offset=".048" stop-color="#8fff71"/><stop offset="1" stop-color="#8fff71"/></linearGradient><linearGradient id="lg210" x1="0" y1="0" x2="1" y2="0"><stop offset="0" stop-color="#e20000"/><stop offset=".016" stop-color="#bb0000"/><stop offset=".032" stop-color="#f50000"/><stop offset=".048" stop-color="#8fff71"/><stop offset="1" stop-color="#8fff71"/></linearGradient><linearGradient id="lg211" x1="0" y1="0" x2="1" y2="0"><stop offset="0" stop-color="#ce0000"/><stop offset=".016" stop-color="#cf0000"/><stop offset=".032" stop-color="#ff1100"/><stop offset=".048" stop-color="#8fff71"/><stop offset="1" stop-color="#8fff71"/></linearGradient><linearGradient id="lg212" x1="0" y1="0" x2="1" y2="0"><stop offset="0" stop-color="#be0000"/><stop offset=".016" stop-color="#eb0000"/><stop offset=".032" stop-color="#ff2500"/><stop offset=".048" stop-color="#8fff71"/><stop offset="1" stop-color="#8fff71"/></linearGradient><linearGradient id="lg213" x1="0" y1="0" x2="1" y2="0"><stop offset="0" stop-color="#bf0000"/><stop offset=".016" stop-color="#ff0600"/><stop offset=".032" stop-color="#8fff71"/><stop offset="1" stop-color="#8fff71"/></linearGradient><linearGradient id="lg214" x1="0" y1="0" x2="1" y2="0"><stop offset="0" stop-color="#cf0000"/><stop offset=".016" stop-color="#ff1a00"/><stop offset=".032" stop-color="#8fff71"/><stop offset="1" stop-color="#8fff71"/></linearGradient><linearGradient id="lg215" x1="0" y1="0" x2="1" y2="0"><stop offset="0" stop-color="#e70000"/><stop offset=".016" stop-color="#ff2900"/><stop offset=".032" stop-color="#8fff71"/><stop offset="1" stop-color="#8fff71"/></linearGradient><linearGradient id="lg216" x1="0" y1="0" x2="1" y2="0"><stop offset="0" stop-color="#fc0000"/><stop offset=".016" stop-color="#8fff71"/><stop offset="1" stop-color="#8fff71"/></linearGradient><linearGradient id="lg217" x1="0" y1="0" x2="1" y2="0"><stop offset="0" stop-color="#ff0d00"/><stop offset=".016" stop-color="#8fff71"/><stop offset="1" stop-color="#8fff71"/></linearGradient><linearGradient id="lg218" x1="0" y1="0" x2="1" y2="0"><stop offset="0" stop-color="#ff1700"/><stop offset=".016" stop-color="#8fff71"/><stop offset=".419" stop-color="#8fff71"/><stop offset=".468" stop-color="#7bff85"/><stop offset=".5" stop-color="#8fff71"/><stop offset="1" stop-color="#8fff71"/></linearGradient><linearGradient id="lg219" x1="0" y1="0" x2="1" y2="0"><stop offset="0" stop-color="#ff2000"/><stop offset=".016" stop-color="#8fff71"/><stop offset=".419" stop-color="#8fff71"/><stop offset=".468" stop-color="#6dff93"/><stop offset=".5" stop-color="#8fff71"/><stop offset="1" stop-color="#8fff71"/></linearGradient><linearGradient id="lg220" x1="0" y1="0" x2="1" y2="0"><stop offset="0" stop-color="#8fff71"/><stop offset=".419" stop-color="#8fff71"/><stop offset=".468" stop-color="#5effa2"/><stop offset=".5" stop-color="#8eff72"/><stop offset=".661" stop-color="#7dff83"/><stop offset=".694" stop-color="#8fff71"/><stop offset="1" stop-color="#8fff71"/></linearGradient><linearGradient id="lg221" x1="0" y1="0" x2="1" y2="0"><stop offset="0" stop-color="#8fff71"/><stop offset=".419" stop-color="#8fff71"/><stop offset=".468" stop-color="#4fffb0"/><stop offset=".484" stop-color="#7dff83"/><stop offset=".5" stop-color="#8eff72"/><stop offset=".613" stop-color="#8fff71"/><stop offset=".661" stop-color="#6bff94"/><stop offset=".694" stop-color="#8fff71"/><stop offset="1" stop-color="#8fff71"/></linearGradient><linearGradient id="lg222" x1="0" y1="0" x2="1" y2="0"><stop offset="0" stop-color="#8fff71"/><stop offset=".419" stop-color="#8fff71"/><stop offset=".468" stop-color="#47ffb9"/><stop offset=".484" stop-color="#7bff85"/><stop offset=".5" stop-color="#8eff72"/><stop offset=".613" stop-color="#8fff71"/><stop offset=".661" stop-color="#57ffa8"/><stop offset=".694" stop-color="#8eff72"/><stop offset="1" stop-color="#8fff71"/></linearGradient><linearGradient id="lg223" x1="0" y1="0" x2="1" y2="0"><stop offset="0" stop-color="#8fff71"/><stop offset=".419" stop-color="#8fff71"/><stop offset=".468" stop-color="#47ffb9"/><stop offset=".484" stop-color="#7bff85"/><stop offset=".5" stop-color="#8eff72"/><stop offset=".613" stop-color="#8eff71"/><stop offset=".629" stop-color="#81ff7f"/><stop offset=".645" stop-color="#50ffb0"/><stop offset=".661" stop-color="#49ffb6"/><stop offset=".677" stop-color="#7cff84"/><stop offset=".694" stop-color="#8eff72"/><stop offset="1" stop-color="#8fff71"/></linearGradient><linearGradient id="lg224" x1="0" y1="0" x2="1" y2="0"><stop offset="0" stop-color="#8fff71"/><stop offset=".419" stop-color="#8fff71"/><stop offset=".468" stop-color="#4fffb0"/><stop offset=".484" stop-color="#7dff83"/><stop offset=".5" stop-color="#8eff72"/><stop offset=".613" stop-color="#8eff71"/><stop offset=".629" stop-color="#81ff7f"/><stop offset=".645" stop-color="#50ffb0"/><stop offset=".661" stop-color="#49ffb6"/><stop offset=".677" stop-color="#7cff84"/><stop offset=".694" stop-color="#8eff72"/><stop offset="1" stop-color="#8fff71"/></linearGradient><linearGradient id="lg225" x1="0" y1="0" x2="1" y2="0"><stop offset="0" stop-color="#8fff71"/><stop offset=".419" stop-color="#8fff71"/><stop offset=".468" stop-color="#5effa2"/><stop offset=".5" stop-color="#8eff72"/><stop offset=".613" stop-color="#8fff71"/><stop offset=".661" stop-color="#57ffa8"/><stop offset=".694" stop-color="#8eff72"/><stop offset="1" stop-color="#8fff71"/></linearGradient><linearGradient id="lg226" x1="0" y1="0" x2="1" y2="0"><stop offset="0" stop-color="#8fff71"/><stop offset=".419" stop-color="#8fff71"/><stop offset=".468" stop-color="#6dff93"/><stop offset=".5" stop-color="#8fff71"/><stop offset=".613" stop-color="#8fff71"/><stop offset=".661" stop-color="#6bff94"/><stop offset=".694" stop-color="#8fff71"/><stop offset="1" stop-color="#8fff71"/></linearGradient><linearGradient id="lg227" x1="0" y1="0" x2="0" y2="1"><stop offset="0" stop-color="#800000"/><stop offset=".05" stop-color="#b30000"/><stop offset=".1" stop-color="#e60000"/><stop offset=".15" stop-color="#ff1a00"/><stop offset=".2" stop-color="#ff4c00"/><stop offset=".25" stop-color="#ff8000"/><stop offset=".3" stop-color="#ffb300"/><stop offset=".35" stop-color="#ffe500"/><stop offset=".4" stop-color="#e6ff1a"/><stop offset=".45" stop-color="#b3ff4d"/><stop offset=".5" stop-color="#80ff80"/><stop offset=".55" stop-color="#4dffb3"/><stop offset=".6" stop-color="#1affe6"/><stop offset=".65" stop-color="#00e5ff"/><stop offset=".7" stop-color="#00b3ff"/><stop offset=".75" stop-color="#0080ff"/><stop offset=".8" stop-color="#004cff"/><stop offset=".85" stop-color="#001aff"/><stop offset=".9" stop-color="#0000e6"/><stop offset=".95" stop-color="#0000b3"/><stop offset="1" stop-color="#000080"/></linearGradient><linearGradient id="lg228" x1="0" y1="0" x2="1" y2="0"><stop offset="0" stop-color="#8fff71"/><stop offset=".016" stop-color="#8fff71"/><stop offset=".032" stop-color="#fa0000"/><stop offset=".095" stop-color="#fa0000"/><stop offset=".111" stop-color="#8fff71"/><stop offset="1" stop-color="#8fff71"/></linearGradient><linearGradient id="lg229" x1="0" y1="0" x2="1" y2="0"><stop offset="0" stop-color="#8fff71"/><stop offset=".016" stop-color="#8fff71"/><stop offset=".032" stop-color="#fd0000"/><stop offset=".111" stop-color="#fc0000"/><stop offset=".175" stop-color="#ff2b00"/><stop offset=".222" stop-color="#fd0000"/><stop offset=".238" stop-color="#8fff71"/><stop offset="1" stop-color="#8fff71"/></linearGradient><linearGradient id="lg230" x1="0" y1="0" x2="1" y2="0"><stop offset="0" stop-color="#8fff71"/><stop offset=".016" stop-color="#8fff71"/><stop offset=".032" stop-color="#ff1200"/><stop offset=".048" stop-color="#ff3300"/><stop offset=".063" stop-color="#ff3400"/><stop offset=".095" stop-color="#ff0000"/><stop offset=".127" stop-color="#ff0f00"/><stop offset=".159" stop-color="#ff5a00"/><stop offset=".175" stop-color="#ff5c00"/><stop offset=".206" stop-color="#ff1200"/><stop offset=".238" stop-color="#fb0000"/><stop offset=".254" stop-color="#8fff71"/><stop offset=".429" stop-color="#8fff71"/><stop offset=".444" stop-color="#0086ff"/><stop offset=".46" stop-color="#0061ff"/><stop offset=".492" stop-color="#009eff"/><stop offset=".524" stop-color="#0063ff"/><stop offset=".54" stop-color="#008fff"/><stop offset=".556" stop-color="#0098ff"/><stop offset=".571" stop-color="#006aff"/><stop offset=".587" stop-color="#006cff"/><stop offset=".603" stop-color="#0099ff"/><stop offset=".619" stop-color="#008dff"/><stop offset=".635" stop-color="#0062ff"/><stop offset=".651" stop-color="#0079ff"/><stop offset=".667" stop-color="#8fff71"/><stop offset="1" stop-color="#8fff71"/></linearGradient><linearGradient id="lg231" x1="0" y1="0" x2="1" y2="0"><stop offset="0" stop-color="#8fff71"/><stop offset=".016" stop-color="#8fff71"/><stop offset=".032" stop-color="#ff1200"/><stop offset=".048" stop-color="#ff3300"/><stop offset=".063" stop-color="#ff3400"/><stop offset=".095" stop-color="#fe0000"/><stop offset=".175" stop-color="#ff2b00"/><stop offset=".206" stop-color="#ff0600"/><stop offset=".254" stop-color="#fa0000"/><stop offset=".27" stop-color="#8fff71"/><stop offset=".444" stop-color="#8fff71"/><stop offset=".46" stop-color="#0061ff"/><stop offset=".492" stop-color="#009eff"/><stop offset=".524" stop-color="#0063ff"/><stop offset=".54" stop-color="#008fff"/><stop offset=".556" stop-color="#0098ff"/><stop offset=".571" stop-color="#006aff"/><stop offset=".587" stop-color="#006cff"/><stop offset=".603" stop-color="#0099ff"/><stop offset=".619" stop-color="#008dff"/><stop offset=".635" stop-color="#0062ff"/><stop offset=".651" stop-color="#0079ff"/><stop offset=".667" stop-color="#8fff71"/><stop offset="1" stop-color="#8fff71"/></linearGradient><linearGradient id="lg232" x1="0" y1="0" x2="1" y2="0"><stop offset="0" stop-color="#8fff71"/><stop offset=".016" stop-color="#8fff71"/><stop offset=".032" stop-color="#fd0000"/><stop offset=".238" stop-color="#fa0000"/><stop offset=".254" stop-color="#8fff71"/><stop offset=".492" stop-color="#8fff71"/><stop offset=".508" stop-color="#0077ff"/><stop offset=".524" stop-color="#0063ff"/><stop offset=".54" stop-color="#008fff"/><stop offset=".556" stop-color="#0098ff"/><stop offset=".571" stop-color="#8fff71"/><stop offset=".667" stop-color="#8fff71"/><stop offset=".683" stop-color="#0075ff"/><stop offset=".698" stop-color="#00bcff"/><stop offset=".714" stop-color="#8fff71"/><stop offset=".73" stop-color="#8fff71"/><stop offset=".746" stop-color="#00b9ff"/><stop offset=".762" stop-color="#8fff71"/><stop offset="1" stop-color="#8fff71"/></linearGradient><linearGradient id="lg233" x1="0" y1="0" x2="1" y2="0"><stop offset="0" stop-color="#8fff71"/><stop offset=".063" stop-color="#8fff71"/><stop offset=".079" stop-color="#fa0000"/><stop offset=".095" stop-color="#fa0000"/><stop offset=".111" stop-color="#8fff71"/><stop offset=".587" stop-color="#8fff71"/><stop offset=".603" stop-color="#009eff"/><stop offset=".619" stop-color="#00abff"/><stop offset=".635" stop-color="#006bff"/><stop offset=".651" stop-color="#00b2ff"/><stop offset=".683" stop-color="#0075ff"/><stop offset=".698" stop-color="#00bcff"/><stop offset=".714" stop-color="#007eff"/><stop offset=".73" stop-color="#0088ff"/><stop offset=".746" stop-color="#00b9ff"/><stop offset=".762" stop-color="#006fff"/><stop offset=".778" stop-color="#00a0ff"/><stop offset=".794" stop-color="#00a9ff"/><stop offset=".81" stop-color="#006cff"/><stop offset=".825" stop-color="#00b3ff"/><stop offset=".857" stop-color="#0076ff"/><stop offset=".873" stop-color="#8fff71"/><stop offset=".921" stop-color="#8eff72"/><stop offset=".952" stop-color="#6eff92"/><stop offset=".968" stop-color="#87ff79"/><stop offset="1" stop-color="#8fff71"/></linearGradient><linearGradient id="lg234" x1="0" y1="0" x2="1" y2="0"><stop offset="0" stop-color="#8fff71"/><stop offset=".476" stop-color="#8fff71"/><stop offset=".492" stop-color="#0096ff"/><stop offset=".508" stop-color="#0074ff"/><stop offset=".524" stop-color="#8fff71"/><stop offset=".54" stop-color="#8fff71"/><stop offset=".556" stop-color="#0087ff"/><stop offset=".571" stop-color="#00baff"/><stop offset=".587" stop-color="#006fff"/><stop offset=".603" stop-color="#009eff"/><stop offset=".619" stop-color="#00abff"/><stop offset=".635" stop-color="#006bff"/><stop offset=".651" stop-color="#00b2ff"/><stop offset=".683" stop-color="#0075ff"/><stop offset=".698" stop-color="#00bcff"/><stop offset=".714" stop-color="#007eff"/><stop offset=".73" stop-color="#0088ff"/><stop offset=".746" stop-color="#00b9ff"/><stop offset=".762" stop-color="#006fff"/><stop offset=".778" stop-color="#00a0ff"/><stop offset=".794" stop-color="#00a9ff"/><stop offset=".81" stop-color="#006cff"/><stop offset=".825" stop-color="#00b3ff"/><stop offset=".857" stop-color="#0076ff"/><stop offset=".873" stop-color="#00bcff"/><stop offset=".889" stop-color="#007cff"/><stop offset=".905" stop-color="#8fff71"/><stop offset=".921" stop-color="#8dff73"/><stop offset=".952" stop-color="#58ffa7"/><stop offset=".968" stop-color="#82ff7e"/><stop offset="1" stop-color="#8fff71"/></linearGradient><linearGradient id="lg235" x1="0" y1="0" x2="1" y2="0"><stop offset="0" stop-color="#8fff71"/><stop offset=".413" stop-color="#8fff71"/><stop offset=".429" stop-color="#006bff"/><stop offset=".444" stop-color="#0019ff"/><stop offset=".476" stop-color="#0019ff"/><stop offset=".492" stop-color="#006bff"/><stop offset=".508" stop-color="#0019ff"/><stop offset=".524" stop-color="#006bff"/><stop offset=".54" stop-color="#0019ff"/><stop offset=".556" stop-color="#006bff"/><stop offset=".571" stop-color="#0019ff"/><stop offset=".587" stop-color="#0019ff"/><stop offset=".603" stop-color="#006bff"/><stop offset=".635" stop-color="#006bff"/><stop offset=".651" stop-color="#0019ff"/><stop offset=".698" stop-color="#0019ff"/><stop offset=".714" stop-color="#006bff"/><stop offset=".73" stop-color="#0019ff"/><stop offset=".762" stop-color="#0019ff"/><stop offset=".778" stop-color="#006bff"/><stop offset=".794" stop-color="#006bff"/><stop offset=".81" stop-color="#0019ff"/><stop offset=".825" stop-color="#0019ff"/><stop offset=".841" stop-color="#006bff"/><stop offset=".857" stop-color="#0019ff"/><stop offset=".873" stop-color="#0019ff"/><stop offset=".889" stop-color="#006bff"/><stop offset=".905" stop-color="#0019ff"/><stop offset=".921" stop-color="#8dff73"/><stop offset=".952" stop-color="#58ffa7"/><stop offset=".968" stop-color="#82ff7e"/><stop offset="1" stop-color="#8fff71"/></linearGradient><linearGradient id="lg236" x1="0" y1="0" x2="1" y2="0"><stop offset="0" stop-color="#8fff71"/><stop offset=".397" stop-color="#8fff71"/><stop offset=".413" stop-color="#0019ff"/><stop offset=".429" stop-color="#006bff"/><stop offset=".444" stop-color="#0019ff"/><stop offset=".571" stop-color="#0019ff"/><stop offset=".587" stop-color="#006bff"/><stop offset=".603" stop-color="#0019ff"/><stop offset=".714" stop-color="#0019ff"/><stop offset=".73" stop-color="#006bff"/><stop offset=".746" stop-color="#0019ff"/><stop offset=".794" stop-color="#0019ff"/><stop offset=".81" stop-color="#006bff"/><stop offset=".825" stop-color="#0019ff"/><stop offset=".841" stop-color="#006bff"/><stop offset=".857" stop-color="#0019ff"/><stop offset=".905" stop-color="#0019ff"/><stop offset=".921" stop-color="#8eff72"/><stop offset=".952" stop-color="#6eff92"/><stop offset=".968" stop-color="#87ff79"/><stop offset="1" stop-color="#8fff71"/></linearGradient><linearGradient id="lg237" x1="0" y1="0" x2="1" y2="0"><stop offset="0" stop-color="#8fff71"/><stop offset=".413" stop-color="#8fff71"/><stop offset=".429" stop-color="#0019ff"/><stop offset=".476" stop-color="#0019ff"/><stop offset=".492" stop-color="#006bff"/><stop offset=".508" stop-color="#006bff"/><stop offset=".524" stop-color="#0019ff"/><stop offset=".603" stop-color="#0019ff"/><stop offset=".619" stop-color="#006bff"/><stop offset=".635" stop-color="#0019ff"/><stop offset=".651" stop-color="#006bff"/><stop offset=".667" stop-color="#0019ff"/><stop offset=".73" stop-color="#0019ff"/><stop offset=".746" stop-color="#006bff"/><stop offset=".762" stop-color="#0019ff"/><stop offset=".81" stop-color="#0019ff"/><stop offset=".825" stop-color="#006bff"/><stop offset=".841" stop-color="#0019ff"/><stop offset=".857" stop-color="#006bff"/><stop offset=".873" stop-color="#0019ff"/><stop offset=".889" stop-color="#0019ff"/><stop offset=".905" stop-color="#8fff71"/><stop offset="1" stop-color="#8fff71"/></linearGradient><linearGradient id="lg238" x1="0" y1="0" x2="1" y2="0"><stop offset="0" stop-color="#8fff71"/><stop offset=".413" stop-color="#8fff71"/><stop offset=".429" stop-color="#0019ff"/><stop offset=".46" stop-color="#0019ff"/><stop offset=".476" stop-color="#006bff"/><stop offset=".492" stop-color="#0019ff"/><stop offset=".54" stop-color="#0019ff"/><stop offset=".556" stop-color="#006bff"/><stop offset=".571" stop-color="#0019ff"/><stop offset=".587" stop-color="#0019ff"/><stop offset=".603" stop-color="#006bff"/><stop offset=".619" stop-color="#0019ff"/><stop offset=".683" stop-color="#0019ff"/><stop offset=".698" stop-color="#006bff"/><stop offset=".714" stop-color="#0019ff"/><stop offset=".746" stop-color="#0019ff"/><stop offset=".762" stop-color="#006bff"/><stop offset=".778" stop-color="#0019ff"/><stop offset=".873" stop-color="#0019ff"/><stop offset=".889" stop-color="#8fff71"/><stop offset="1" stop-color="#8fff71"/></linearGradient><linearGradient id="lg239" x1="0" y1="0" x2="1" y2="0"><stop offset="0" stop-color="#8fff71"/><stop offset=".46" stop-color="#8fff71"/><stop offset=".476" stop-color="#006bff"/><stop offset=".492" stop-color="#0019ff"/><stop offset=".508" stop-color="#0019ff"/><stop offset=".524" stop-color="#006bff"/><stop offset=".54" stop-color="#0019ff"/><stop offset=".556" stop-color="#006bff"/><stop offset=".571" stop-color="#0019ff"/><stop offset=".587" stop-color="#006bff"/><stop offset=".603" stop-color="#006bff"/><stop offset=".619" stop-color="#0019ff"/><stop offset=".683" stop-color="#0019ff"/><stop offset=".698" stop-color="#006bff"/><stop offset=".714" stop-color="#0019ff"/><stop offset=".778" stop-color="#0019ff"/><stop offset=".794" stop-color="#8fff71"/><stop offset=".81" stop-color="#0019ff"/><stop offset=".825" stop-color="#0019ff"/><stop offset=".841" stop-color="#8fff71"/><stop offset="1" stop-color="#8fff71"/></linearGradient><linearGradient id="lg240" x1="0" y1="0" x2="1" y2="0"><stop offset="0" stop-color="#8fff71"/><stop offset=".54" stop-color="#8bff75"/><stop offset=".556" stop-color="#006bff"/><stop offset=".571" stop-color="#0019ff"/><stop offset=".619" stop-color="#0019ff"/><stop offset=".635" stop-color="#82ff7e"/><stop offset="1" stop-color="#8fff71"/></linearGradient><linearGradient id="lg241" x1="0" y1="0" x2="1" y2="0"><stop offset="0" stop-color="#8fff71"/><stop offset=".492" stop-color="#8dff72"/><stop offset=".619" stop-color="#48ffb7"/><stop offset=".73" stop-color="#8dff73"/><stop offset="1" stop-color="#8fff71"/></linearGradient><linearGradient id="lg242" x1="0" y1="0" x2="1" y2="0"><stop offset="0" stop-color="#8fff71"/><stop offset=".619" stop-color="#80ff80"/><stop offset="1" stop-color="#8fff71"/></linearGradient><linearGradient id="lg243" x1="0" y1="0" x2="1" y2="0"><stop offset="0" stop-color="#8fff71"/><stop offset=".079" stop-color="#77ff89"/><stop offset=".143" stop-color="#8fff71"/><stop offset="1" stop-color="#8fff71"/></linearGradient><linearGradient id="lg244" x1="0" y1="0" x2="1" y2="0"><stop offset="0" stop-color="#8fff71"/><stop offset=".079" stop-color="#5fffa1"/><stop offset=".143" stop-color="#8fff71"/><stop offset="1" stop-color="#8fff71"/></linearGradient><linearGradient id="lg245" x1="0" y1="0" x2="1" y2="0"><stop offset="0" stop-color="#8fff71"/><stop offset=".032" stop-color="#7fff81"/><stop offset=".063" stop-color="#45ffbb"/><stop offset=".079" stop-color="#44ffbc"/><stop offset=".111" stop-color="#7eff82"/><stop offset=".143" stop-color="#8fff71"/><stop offset="1" stop-color="#8fff71"/></linearGradient><linearGradient id="lg246" x1="0" y1="0" x2="1" y2="0"><stop offset="0" stop-color="#8fff71"/><stop offset=".032" stop-color="#7bff85"/><stop offset=".063" stop-color="#32ffcd"/><stop offset=".079" stop-color="#31ffce"/><stop offset=".111" stop-color="#7aff86"/><stop offset=".143" stop-color="#8fff71"/><stop offset="1" stop-color="#8fff71"/></linearGradient><linearGradient id="lg247" x1="0" y1="0" x2="0" y2="1"><stop offset="0" stop-color="#800000"/><stop offset=".05" stop-color="#b30000"/><stop offset=".1" stop-color="#e60000"/><stop offset=".15" stop-color="#ff1a00"/><stop offset=".2" stop-color="#ff4c00"/><stop offset=".25" stop-color="#ff8000"/><stop offset=".3" stop-color="#ffb300"/><stop offset=".35" stop-color="#ffe500"/><stop offset=".4" stop-color="#e6ff1a"/><stop offset=".45" stop-color="#b3ff4d"/><stop offset=".5" stop-color="#80ff80"/><stop offset=".55" stop-color="#4dffb3"/><stop offset=".6" stop-color="#1affe6"/><stop offset=".65" stop-color="#00e5ff"/><stop offset=".7" stop-color="#00b3ff"/><stop offset=".75" stop-color="#0080ff"/><stop offset=".8" stop-color="#004cff"/><stop offset=".85" stop-color="#001aff"/><stop offset=".9" stop-color="#0000e6"/><stop offset=".95" stop-color="#0000b3"/><stop offset="1" stop-color="#000080"/></linearGradient><linearGradient id="lg248" x1="0" y1="0" x2="1" y2="0"><stop offset="0" stop-color="#8fff71"/><stop offset=".581" stop-color="#7aff86"/><stop offset="1" stop-color="#8fff71"/></linearGradient><linearGradient id="lg249" x1="0" y1="0" x2="1" y2="0"><stop offset="0" stop-color="#8eff72"/><stop offset=".306" stop-color="#51ffae"/><stop offset=".452" stop-color="#5affa5"/><stop offset=".581" stop-color="#0efff1"/><stop offset=".613" stop-color="#17ffe8"/><stop offset=".742" stop-color="#85ff7b"/><stop offset="1" stop-color="#8fff71"/></linearGradient><linearGradient id="lg250" x1="0" y1="0" x2="1" y2="0"><stop offset="0" stop-color="#8eff72"/><stop offset=".306" stop-color="#51ffae"/><stop offset=".435" stop-color="#53ffac"/><stop offset=".468" stop-color="#42ffbe"/><stop offset=".516" stop-color="#00feff"/><stop offset=".581" stop-color="#00a9ff"/><stop offset=".613" stop-color="#00b8ff"/><stop offset=".645" stop-color="#00edff"/><stop offset=".71" stop-color="#60ffa0"/><stop offset=".758" stop-color="#85ff7b"/><stop offset="1" stop-color="#8fff71"/></linearGradient><linearGradient id="lg251" x1="0" y1="0" x2="1" y2="0"><stop offset="0" stop-color="#8fff71"/><stop offset=".419" stop-color="#83ff7d"/><stop offset=".468" stop-color="#72ff8e"/><stop offset=".581" stop-color="#13ffec"/><stop offset=".613" stop-color="#1affe6"/><stop offset=".742" stop-color="#85ff7b"/><stop offset="1" stop-color="#8fff71"/></linearGradient><linearGradient id="lg252" x1="0" y1="0" x2="1" y2="0"><stop offset="0" stop-color="#ff6300"/><stop offset=".016" stop-color="#8fff71"/><stop offset=".597" stop-color="#7aff86"/><stop offset="1" stop-color="#8fff71"/></linearGradient><linearGradient id="lg253" x1="0" y1="0" x2="1" y2="0"><stop offset="0" stop-color="#ff3e00"/><stop offset=".016" stop-color="#8fff71"/><stop offset="1" stop-color="#8fff71"/></linearGradient><linearGradient id="lg254" x1="0" y1="0" x2="1" y2="0"><stop offset="0" stop-color="#ff2a00"/><stop offset=".016" stop-color="#ff6700"/><stop offset=".032" stop-color="#ff7300"/><stop offset=".048" stop-color="#8fff71"/><stop offset=".065" stop-color="#8fff71"/><stop offset=".081" stop-color="#ff9100"/><stop offset=".097" stop-color="#8fff71"/><stop offset="1" stop-color="#8fff71"/></linearGradient><linearGradient id="lg255" x1="0" y1="0" x2="1" y2="0"><stop offset="0" stop-color="#ff3300"/><stop offset=".016" stop-color="#ff6f00"/><stop offset=".032" stop-color="#ff5200"/><stop offset=".048" stop-color="#ff6300"/><stop offset=".065" stop-color="#ffa100"/><stop offset=".081" stop-color="#ff8100"/><stop offset=".097" stop-color="#ffa200"/><stop offset=".113" stop-color="#ffe600"/><stop offset=".129" stop-color="#8fff71"/><stop offset="1" stop-color="#8fff71"/></linearGradient><linearGradient id="lg256" x1="0" y1="0" x2="1" y2="0"><stop offset="0" stop-color="#ff4700"/><stop offset=".016" stop-color="#ff5700"/><stop offset=".032" stop-color="#ff3900"/><stop offset=".048" stop-color="#ff7800"/><stop offset=".065" stop-color="#ff8d00"/><stop offset=".081" stop-color="#ff7100"/><stop offset=".097" stop-color="#ffbf00"/><stop offset=".113" stop-color="#ffd900"/><stop offset=".129" stop-color="#ffbf00"/><stop offset=".145" stop-color="#fffa00"/><stop offset=".161" stop-color="#fffa00"/><stop offset=".177" stop-color="#ffc900"/><stop offset=".194" stop-color="#ffeb00"/><stop offset=".21" stop-color="#ffd100"/><stop offset=".226" stop-color="#8fff71"/><stop offset="1" stop-color="#8fff71"/></linearGradient><linearGradient id="lg257" x1="0" y1="0" x2="1" y2="0"><stop offset="0" stop-color="#ff4a00"/><stop offset=".016" stop-color="#ff2800"/><stop offset=".032" stop-color="#ff3200"/><stop offset=".048" stop-color="#ff7000"/><stop offset=".065" stop-color="#ff5600"/><stop offset=".081" stop-color="#ff6200"/><stop offset=".097" stop-color="#ffac00"/><stop offset=".113" stop-color="#ff9600"/><stop offset=".129" stop-color="#ffa700"/><stop offset=".145" stop-color="#ffde00"/><stop offset=".161" stop-color="#ffb200"/><stop offset=".177" stop-color="#ffb000"/><stop offset=".194" stop-color="#ffcf00"/><stop offset=".21" stop-color="#ff8e00"/><stop offset=".226" stop-color="#ff9800"/><stop offset=".242" stop-color="#8fff71"/><stop offset="1" stop-color="#8fff71"/></linearGradient><linearGradient id="lg258" x1="0" y1="0" x2="1" y2="0"><stop offset="0" stop-color="#ff2f00"/><stop offset=".016" stop-color="#ff0100"/><stop offset=".032" stop-color="#ff3300"/><stop offset=".048" stop-color="#ff4100"/><stop offset=".065" stop-color="#ff1e00"/><stop offset=".097" stop-color="#ff6700"/><stop offset=".113" stop-color="#ff4a00"/><stop offset=".129" stop-color="#ff8100"/><stop offset=".145" stop-color="#ff8900"/><stop offset=".161" stop-color="#ff5d00"/><stop offset=".177" stop-color="#ff8900"/><stop offset=".194" stop-color="#ff7e00"/><stop offset=".21" stop-color="#ff4600"/><stop offset=".226" stop-color="#ff8000"/><stop offset=".242" stop-color="#8fff71"/><stop offset="1" stop-color="#8fff71"/></linearGradient><linearGradient id="lg259" x1="0" y1="0" x2="1" y2="0"><stop offset="0" stop-color="#ff0900"/><stop offset=".016" stop-color="#fd0000"/><stop offset=".032" stop-color="#ff3100"/><stop offset=".048" stop-color="#ff0b00"/><stop offset=".065" stop-color="#ff0900"/><stop offset=".081" stop-color="#ff4200"/><stop offset=".097" stop-color="#ff2000"/><stop offset=".113" stop-color="#ff2300"/><stop offset=".129" stop-color="#ff5900"/><stop offset=".145" stop-color="#ff3100"/><stop offset=".161" stop-color="#ff2f00"/><stop offset=".177" stop-color="#ff5d00"/><stop offset=".194" stop-color="#ff2c00"/><stop offset=".21" stop-color="#ff2700"/><stop offset=".226" stop-color="#ff5b00"/><stop offset=".242" stop-color="#ff3c00"/><stop offset=".258" stop-color="#8fff71"/><stop offset="1" stop-color="#8fff71"/></linearGradient><linearGradient id="lg260" x1="0" y1="0" x2="1" y2="0"><stop offset="0" stop-color="#ec0000"/><stop offset=".032" stop-color="#ff1900"/><stop offset=".048" stop-color="#e60000"/><stop offset=".081" stop-color="#ff2300"/><stop offset=".097" stop-color="#f70000"/><stop offset=".113" stop-color="#ff2800"/><stop offset=".129" stop-color="#ff3400"/><stop offset=".145" stop-color="#ff0600"/><stop offset=".161" stop-color="#ff3200"/><stop offset=".177" stop-color="#ff3600"/><stop offset=".194" stop-color="#ff0600"/><stop offset=".21" stop-color="#ff3100"/><stop offset=".226" stop-color="#ff3100"/><stop offset=".242" stop-color="#ff0700"/><stop offset=".258" stop-color="#ff4c00"/><stop offset=".274" stop-color="#ff7500"/><stop offset=".29" stop-color="#8fff71"/><stop offset="1" stop-color="#8fff71"/></linearGradient><linearGradient id="lg261" x1="0" y1="0" x2="1" y2="0"><stop offset="0" stop-color="#eb0000"/><stop offset=".016" stop-color="#ff1900"/><stop offset=".048" stop-color="#e00000"/><stop offset=".065" stop-color="#ff1800"/><stop offset=".097" stop-color="#f40000"/><stop offset=".113" stop-color="#ff2f00"/><stop offset=".129" stop-color="#ff0c00"/><stop offset=".145" stop-color="#ff0600"/><stop offset=".161" stop-color="#ff3a00"/><stop offset=".177" stop-color="#ff1000"/><stop offset=".194" stop-color="#ff0a00"/><stop offset=".21" stop-color="#ff3a00"/><stop offset=".226" stop-color="#ff0e00"/><stop offset=".242" stop-color="#ff0a00"/><stop offset=".274" stop-color="#ff7500"/><stop offset=".306" stop-color="#ff2800"/><stop offset=".323" stop-color="#ff6400"/><stop offset=".339" stop-color="#ff7000"/><stop offset=".355" stop-color="#ff3900"/><stop offset=".371" stop-color="#8fff71"/><stop offset=".419" stop-color="#8fff71"/><stop offset=".435" stop-color="#ff7100"/><stop offset=".452" stop-color="#ff8e00"/><stop offset=".484" stop-color="#ff2c00"/><stop offset=".5" stop-color="#8fff71"/><stop offset=".516" stop-color="#ff9500"/><stop offset=".532" stop-color="#ffd600"/><stop offset=".548" stop-color="#8fff71"/><stop offset=".565" stop-color="#ff7a00"/><stop offset=".581" stop-color="#8fff71"/><stop offset=".597" stop-color="#8fff71"/><stop offset=".613" stop-color="#ffda00"/><stop offset=".629" stop-color="#ffb800"/><stop offset=".645" stop-color="#ff6f00"/><stop offset=".661" stop-color="#ff6c00"/><stop offset=".677" stop-color="#ffb300"/><stop offset=".694" stop-color="#ffdb00"/><stop offset=".71" stop-color="#8fff71"/><stop offset=".726" stop-color="#ff6700"/><stop offset=".742" stop-color="#8fff71"/><stop offset=".758" stop-color="#ffc000"/><stop offset=".774" stop-color="#8fff71"/><stop offset="1" stop-color="#8fff71"/></linearGradient><linearGradient id="lg262" x1="0" y1="0" x2="1" y2="0"><stop offset="0" stop-color="#fe0000"/><stop offset=".016" stop-color="#ff0700"/><stop offset=".032" stop-color="#cb0000"/><stop offset=".065" stop-color="#ff0300"/><stop offset=".081" stop-color="#d80000"/><stop offset=".097" stop-color="#ff0900"/><stop offset=".113" stop-color="#ff1f00"/><stop offset=".129" stop-color="#f30000"/><stop offset=".161" stop-color="#ff2c00"/><stop offset=".177" stop-color="#fa0000"/><stop offset=".194" stop-color="#ff2500"/><stop offset=".21" stop-color="#ff2d00"/><stop offset=".226" stop-color="#fa0000"/><stop offset=".242" stop-color="#ff2600"/><stop offset=".258" stop-color="#ff2b00"/><stop offset=".274" stop-color="#ff7500"/><stop offset=".306" stop-color="#ff2800"/><stop offset=".323" stop-color="#ff6400"/><stop offset=".339" stop-color="#ff7000"/><stop offset=".355" stop-color="#ff3900"/><stop offset=".371" stop-color="#ff4c00"/><stop offset=".387" stop-color="#ff9500"/><stop offset=".403" stop-color="#ff8700"/><stop offset=".419" stop-color="#ff5300"/><stop offset=".452" stop-color="#ff8e00"/><stop offset=".484" stop-color="#ff2c00"/><stop offset=".532" stop-color="#ffd600"/><stop offset=".548" stop-color="#ffc500"/><stop offset=".565" stop-color="#ff7a00"/><stop offset=".581" stop-color="#ff6500"/><stop offset=".613" stop-color="#ffda00"/><stop offset=".629" stop-color="#ffb800"/><stop offset=".645" stop-color="#ff6f00"/><stop offset=".661" stop-color="#ff6c00"/><stop offset=".677" stop-color="#8fff71"/><stop offset=".694" stop-color="#8fff71"/><stop offset=".71" stop-color="#ffa900"/><stop offset=".726" stop-color="#8fff71"/><stop offset=".742" stop-color="#ff7600"/><stop offset=".758" stop-color="#ffc000"/><stop offset=".774" stop-color="#8fff71"/><stop offset="1" stop-color="#8fff71"/></linearGradient><linearGradient id="lg263" x1="0" y1="0" x2="1" y2="0"><stop offset="0" stop-color="#ff0e00"/><stop offset=".032" stop-color="#c30000"/><stop offset=".048" stop-color="#f60000"/><stop offset=".081" stop-color="#d50000"/><stop offset=".097" stop-color="#ff1700"/><stop offset=".129" stop-color="#f80000"/><stop offset=".145" stop-color="#ff3200"/><stop offset=".177" stop-color="#ff0400"/><stop offset=".194" stop-color="#ff3700"/><stop offset=".21" stop-color="#ff0f00"/><stop offset=".226" stop-color="#ff0600"/><stop offset=".242" stop-color="#ff3800"/><stop offset=".258" stop-color="#ff0e00"/><stop offset=".274" stop-color="#ff7500"/><stop offset=".306" stop-color="#ff2700"/><stop offset=".323" stop-color="#ff6300"/><stop offset=".339" stop-color="#ff6c00"/><stop offset=".355" stop-color="#ff3000"/><stop offset=".371" stop-color="#ff3900"/><stop offset=".387" stop-color="#ff7600"/><stop offset=".403" stop-color="#ff5f00"/><stop offset=".419" stop-color="#ff2b00"/><stop offset=".452" stop-color="#ff7800"/><stop offset=".484" stop-color="#ff2700"/><stop offset=".5" stop-color="#ff6100"/><stop offset=".516" stop-color="#8fff71"/><stop offset=".532" stop-color="#ffd600"/><stop offset=".548" stop-color="#ffc500"/><stop offset=".565" stop-color="#ff7a00"/><stop offset=".581" stop-color="#ff6500"/><stop offset=".597" stop-color="#ffa400"/><stop offset=".613" stop-color="#8fff71"/><stop offset="1" stop-color="#8fff71"/></linearGradient><linearGradient id="lg264" x1="0" y1="0" x2="1" y2="0"><stop offset="0" stop-color="#ff0300"/><stop offset=".016" stop-color="#bf0000"/><stop offset=".048" stop-color="#e70000"/><stop offset=".065" stop-color="#b90000"/><stop offset=".097" stop-color="#ff0c00"/><stop offset=".113" stop-color="#e50000"/><stop offset=".145" stop-color="#ff2a00"/><stop offset=".161" stop-color="#f90000"/><stop offset=".194" stop-color="#ff2f00"/><stop offset=".21" stop-color="#fb0000"/><stop offset=".242" stop-color="#ff2e00"/><stop offset=".258" stop-color="#fa0000"/><stop offset=".274" stop-color="#ff7500"/><stop offset=".29" stop-color="#ff4100"/><stop offset=".306" stop-color="#8fff71"/><stop offset=".403" stop-color="#8fff71"/><stop offset=".419" stop-color="#ff2400"/><stop offset=".435" stop-color="#8fff71"/><stop offset=".452" stop-color="#ff7500"/><stop offset=".468" stop-color="#8fff71"/><stop offset="1" stop-color="#8fff71"/></linearGradient><linearGradient id="lg265" x1="0" y1="0" x2="1" y2="0"><stop offset="0" stop-color="#e40000"/><stop offset=".016" stop-color="#bc0000"/><stop offset=".032" stop-color="#e60000"/><stop offset=".065" stop-color="#b80000"/><stop offset=".081" stop-color="#fb0000"/><stop offset=".113" stop-color="#e80000"/><stop offset=".129" stop-color="#ff2900"/><stop offset=".161" stop-color="#ff0000"/><stop offset=".177" stop-color="#ff3600"/><stop offset=".21" stop-color="#ff0300"/><stop offset=".226" stop-color="#ff3700"/><stop offset=".258" stop-color="#ff0500"/><stop offset=".274" stop-color="#ff7500"/><stop offset=".29" stop-color="#8fff71"/><stop offset="1" stop-color="#8fff71"/></linearGradient><linearGradient id="lg266" x1="0" y1="0" x2="1" y2="0"><stop offset="0" stop-color="#cb0000"/><stop offset=".032" stop-color="#e40000"/><stop offset=".048" stop-color="#ad0000"/><stop offset=".081" stop-color="#f80000"/><stop offset=".097" stop-color="#d50000"/><stop offset=".113" stop-color="#ff0400"/><stop offset=".129" stop-color="#ff2400"/><stop offset=".145" stop-color="#f60000"/><stop offset=".177" stop-color="#ff3000"/><stop offset=".194" stop-color="#fb0000"/><stop offset=".226" stop-color="#ff3000"/><stop offset=".242" stop-color="#fb0000"/><stop offset=".258" stop-color="#8fff71"/><stop offset="1" stop-color="#8fff71"/></linearGradient><linearGradient id="lg267" x1="0" y1="0" x2="1" y2="0"><stop offset="0" stop-color="#ce0000"/><stop offset=".016" stop-color="#f40000"/><stop offset=".048" stop-color="#b40000"/><stop offset=".065" stop-color="#f00000"/><stop offset=".097" stop-color="#d90000"/><stop offset=".113" stop-color="#ff1e00"/><stop offset=".145" stop-color="#f90000"/><stop offset=".161" stop-color="#ff3300"/><stop offset=".194" stop-color="#ff0100"/><stop offset=".21" stop-color="#ff3600"/><stop offset=".226" stop-color="#ff1400"/><stop offset=".242" stop-color="#8fff71"/><stop offset="1" stop-color="#8fff71"/></linearGradient><linearGradient id="lg268" x1="0" y1="0" x2="1" y2="0"><stop offset="0" stop-color="#ed0000"/><stop offset=".016" stop-color="#ff0000"/><stop offset=".032" stop-color="#c20000"/><stop offset=".065" stop-color="#fb0000"/><stop offset=".081" stop-color="#d10000"/><stop offset=".097" stop-color="#f80000"/><stop offset=".113" stop-color="#ff2000"/><stop offset=".129" stop-color="#f30000"/><stop offset=".161" stop-color="#ff3100"/><stop offset=".177" stop-color="#fc0000"/><stop offset=".194" stop-color="#ff1c00"/><stop offset=".21" stop-color="#8fff71"/><stop offset="1" stop-color="#8fff71"/></linearGradient><linearGradient id="lg269" x1="0" y1="0" x2="1" y2="0"><stop offset="0" stop-color="#ff1200"/><stop offset=".032" stop-color="#cc0000"/><stop offset=".048" stop-color="#ff0100"/><stop offset=".081" stop-color="#d90000"/><stop offset=".097" stop-color="#ff1a00"/><stop offset=".129" stop-color="#f50000"/><stop offset=".145" stop-color="#ff3000"/><stop offset=".161" stop-color="#8fff71"/><stop offset=".935" stop-color="#81ff7f"/><stop offset="1" stop-color="#8fff71"/></linearGradient><linearGradient id="lg270" x1="0" y1="0" x2="1" y2="0"><stop offset="0" stop-color="#ff1f00"/><stop offset=".016" stop-color="#e30000"/><stop offset=".048" stop-color="#ff1200"/><stop offset=".065" stop-color="#e00000"/><stop offset=".081" stop-color="#fb0000"/><stop offset=".097" stop-color="#8fff71"/><stop offset=".919" stop-color="#8fff71"/><stop offset=".935" stop-color="#7bff85"/><stop offset="1" stop-color="#8fff71"/></linearGradient><linearGradient id="lg271" x1="0" y1="0" x2="1" y2="0"><stop offset="0" stop-color="#ff1100"/><stop offset=".016" stop-color="#e70000"/><stop offset=".032" stop-color="#ff1900"/><stop offset=".048" stop-color="#ff0700"/><stop offset=".065" stop-color="#e60000"/><stop offset=".081" stop-color="#8fff71"/><stop offset=".919" stop-color="#8fff71"/><stop offset=".935" stop-color="#75ff8b"/><stop offset="1" stop-color="#8fff71"/></linearGradient><linearGradient id="lg272" x1="0" y1="0" x2="1" y2="0"><stop offset="0" stop-color="#fa0000"/><stop offset=".016" stop-color="#ff0500"/><stop offset=".032" stop-color="#8fff71"/><stop offset=".919" stop-color="#8fff71"/><stop offset=".935" stop-color="#6dff92"/><stop offset=".968" stop-color="#8fff71"/><stop offset="1" stop-color="#8fff71"/></linearGradient><linearGradient id="lg273" x1="0" y1="0" x2="1" y2="0"><stop offset="0" stop-color="#f50000"/><stop offset=".016" stop-color="#ff2700"/><stop offset=".032" stop-color="#8fff71"/><stop offset=".919" stop-color="#8fff71"/><stop offset=".935" stop-color="#66ff9a"/><stop offset=".968" stop-color="#8fff71"/><stop offset="1" stop-color="#8fff71"/></linearGradient><linearGradient id="lg274" x1="0" y1="0" x2="1" y2="0"><stop offset="0" stop-color="#ff0b00"/><stop offset=".016" stop-color="#8fff71"/><stop offset=".919" stop-color="#8fff71"/><stop offset=".935" stop-color="#5effa1"/><stop offset=".968" stop-color="#8fff71"/><stop offset="1" stop-color="#8fff71"/></linearGradient><linearGradient id="lg275" x1="0" y1="0" x2="1" y2="0"><stop offset="0" stop-color="#ff2a00"/><stop offset=".016" stop-color="#8fff71"/><stop offset=".919" stop-color="#8fff71"/><stop offset=".935" stop-color="#58ffa8"/><stop offset=".968" stop-color="#8fff71"/><stop offset="1" stop-color="#8fff71"/></linearGradient><linearGradient id="lg276" x1="0" y1="0" x2="1" y2="0"><stop offset="0" stop-color="#ff3700"/><stop offset=".016" stop-color="#8fff71"/><stop offset=".387" stop-color="#80ff80"/><stop offset=".403" stop-color="#8fff71"/><stop offset=".435" stop-color="#81ff7f"/><stop offset=".452" stop-color="#8fff71"/><stop offset=".919" stop-color="#8fff71"/><stop offset=".935" stop-color="#53ffac"/><stop offset=".968" stop-color="#8fff71"/><stop offset="1" stop-color="#8fff71"/></linearGradient><linearGradient id="lg277" x1="0" y1="0" x2="1" y2="0"><stop offset="0" stop-color="#8fff71"/><stop offset=".355" stop-color="#8fff71"/><stop offset=".387" stop-color="#79ff87"/><stop offset=".403" stop-color="#8fff71"/><stop offset=".435" stop-color="#7aff86"/><stop offset=".452" stop-color="#8fff71"/><stop offset=".484" stop-color="#7aff86"/><stop offset=".5" stop-color="#8fff71"/><stop offset=".532" stop-color="#7bff85"/><stop offset=".548" stop-color="#8fff71"/><stop offset=".581" stop-color="#7cff84"/><stop offset=".597" stop-color="#8fff71"/><stop offset=".919" stop-color="#8fff71"/><stop offset=".935" stop-color="#51ffaf"/><stop offset=".968" stop-color="#8fff71"/><stop offset="1" stop-color="#8fff71"/></linearGradient><linearGradient id="lg278" x1="0" y1="0" x2="1" y2="0"><stop offset="0" stop-color="#8fff71"/><stop offset=".355" stop-color="#8fff71"/><stop offset=".387" stop-color="#70ff90"/><stop offset=".403" stop-color="#8fff71"/><stop offset=".435" stop-color="#71ff8f"/><stop offset=".452" stop-color="#8fff71"/><stop offset=".484" stop-color="#72ff8d"/><stop offset=".5" stop-color="#8fff71"/><stop offset=".532" stop-color="#73ff8c"/><stop offset=".548" stop-color="#8fff71"/><stop offset=".581" stop-color="#74ff8b"/><stop offset=".597" stop-color="#8fff71"/><stop offset=".919" stop-color="#8fff71"/><stop offset=".935" stop-color="#51ffaf"/><stop offset=".968" stop-color="#8fff71"/><stop offset="1" stop-color="#8fff71"/></linearGradient><linearGradient id="lg279" x1="0" y1="0" x2="1" y2="0"><stop offset="0" stop-color="#8fff71"/><stop offset=".355" stop-color="#8fff71"/><stop offset=".387" stop-color="#68ff98"/><stop offset=".403" stop-color="#8fff71"/><stop offset=".435" stop-color="#69ff97"/><stop offset=".452" stop-color="#8fff71"/><stop offset=".484" stop-color="#6bff95"/><stop offset=".5" stop-color="#8fff71"/><stop offset=".532" stop-color="#6cff94"/><stop offset=".548" stop-color="#8fff71"/><stop offset=".581" stop-color="#6dff93"/><stop offset=".597" stop-color="#8fff71"/><stop offset=".919" stop-color="#8fff71"/><stop offset=".935" stop-color="#53ffac"/><stop offset=".968" stop-color="#8fff71"/><stop offset="1" stop-color="#8fff71"/></linearGradient><linearGradient id="lg280" x1="0" y1="0" x2="1" y2="0"><stop offset="0" stop-color="#8fff71"/><stop offset=".355" stop-color="#8fff71"/><stop offset=".387" stop-color="#61ff9f"/><stop offset=".403" stop-color="#8fff71"/><stop offset=".435" stop-color="#63ff9d"/><stop offset=".452" stop-color="#8fff71"/><stop offset=".484" stop-color="#64ff9c"/><stop offset=".5" stop-color="#8fff71"/><stop offset=".532" stop-color="#66ff9a"/><stop offset=".548" stop-color="#8fff71"/><stop offset=".581" stop-color="#67ff99"/><stop offset=".597" stop-color="#8fff71"/><stop offset=".919" stop-color="#8fff71"/><stop offset=".935" stop-color="#58ffa8"/><stop offset=".968" stop-color="#8fff71"/><stop offset="1" stop-color="#8fff71"/></linearGradient><linearGradient id="lg281" x1="0" y1="0" x2="1" y2="0"><stop offset="0" stop-color="#8fff71"/><stop offset=".355" stop-color="#8fff71"/><stop offset=".387" stop-color="#5dffa3"/><stop offset=".403" stop-color="#8fff71"/><stop offset=".435" stop-color="#5fffa1"/><stop offset=".452" stop-color="#8fff71"/><stop offset=".484" stop-color="#61ff9f"/><stop offset=".5" stop-color="#8fff71"/><stop offset=".532" stop-color="#62ff9e"/><stop offset=".548" stop-color="#8fff71"/><stop offset=".565" stop-color="#6aff96"/><stop offset=".581" stop-color="#64ff9c"/><stop offset=".597" stop-color="#8fff71"/><stop offset=".919" stop-color="#8fff71"/><stop offset=".935" stop-color="#5effa1"/><stop offset=".968" stop-color="#8fff71"/><stop offset="1" stop-color="#8fff71"/></linearGradient><linearGradient id="lg282" x1="0" y1="0" x2="1" y2="0"><stop offset="0" stop-color="#8fff71"/><stop offset=".355" stop-color="#8fff71"/><stop offset=".387" stop-color="#5dffa3"/><stop offset=".403" stop-color="#8fff71"/><stop offset=".435" stop-color="#5fffa1"/><stop offset=".452" stop-color="#8fff71"/><stop offset=".484" stop-color="#61ff9f"/><stop offset=".5" stop-color="#8fff71"/><stop offset=".532" stop-color="#62ff9e"/><stop offset=".548" stop-color="#8fff71"/><stop offset=".565" stop-color="#6aff96"/><stop offset=".581" stop-color="#64ff9c"/><stop offset=".597" stop-color="#8fff71"/><stop offset=".919" stop-color="#8fff71"/><stop offset=".935" stop-color="#66ff9a"/><stop offset=".968" stop-color="#8fff71"/><stop offset="1" stop-color="#8fff71"/></linearGradient><linearGradient id="lg283" x1="0" y1="0" x2="1" y2="0"><stop offset="0" stop-color="#8fff71"/><stop offset=".355" stop-color="#8fff71"/><stop offset=".387" stop-color="#61ff9f"/><stop offset=".403" stop-color="#8fff71"/><stop offset=".435" stop-color="#63ff9d"/><stop offset=".452" stop-color="#8fff71"/><stop offset=".484" stop-color="#64ff9c"/><stop offset=".5" stop-color="#8fff71"/><stop offset=".532" stop-color="#66ff9a"/><stop offset=".548" stop-color="#8fff71"/><stop offset=".581" stop-color="#67ff99"/><stop offset=".597" stop-color="#8fff71"/><stop offset=".919" stop-color="#8fff71"/><stop offset=".935" stop-color="#6dff92"/><stop offset=".968" stop-color="#8fff71"/><stop offset="1" stop-color="#8fff71"/></linearGradient><linearGradient id="lg284" x1="0" y1="0" x2="1" y2="0"><stop offset="0" stop-color="#8fff71"/><stop offset=".355" stop-color="#8fff71"/><stop offset=".387" stop-color="#68ff98"/><stop offset=".403" stop-color="#8fff71"/><stop offset=".435" stop-color="#69ff97"/><stop offset=".452" stop-color="#8fff71"/><stop offset=".484" stop-color="#6bff95"/><stop offset=".5" stop-color="#8fff71"/><stop offset=".532" stop-color="#6cff94"/><stop offset=".548" stop-color="#8fff71"/><stop offset=".581" stop-color="#6dff93"/><stop offset=".597" stop-color="#8fff71"/><stop offset=".919" stop-color="#8fff71"/><stop offset=".935" stop-color="#75ff8b"/><stop offset="1" stop-color="#8fff71"/></linearGradient><linearGradient id="lg285" x1="0" y1="0" x2="1" y2="0"><stop offset="0" stop-color="#8fff71"/><stop offset=".355" stop-color="#8fff71"/><stop offset=".387" stop-color="#70ff90"/><stop offset=".403" stop-color="#8fff71"/><stop offset=".435" stop-color="#71ff8f"/><stop offset=".452" stop-color="#8fff71"/><stop offset=".484" stop-color="#72ff8d"/><stop offset=".5" stop-color="#8fff71"/><stop offset=".532" stop-color="#73ff8c"/><stop offset=".548" stop-color="#8fff71"/><stop offset=".581" stop-color="#74ff8b"/><stop offset=".597" stop-color="#8fff71"/><stop offset=".919" stop-color="#8fff71"/><stop offset=".935" stop-color="#7bff85"/><stop offset="1" stop-color="#8fff71"/></linearGradient><linearGradient id="lg286" x1="0" y1="0" x2="1" y2="0"><stop offset="0" stop-color="#8fff71"/><stop offset=".355" stop-color="#8fff71"/><stop offset=".387" stop-color="#77ff89"/><stop offset=".403" stop-color="#8fff71"/><stop offset=".435" stop-color="#78ff88"/><stop offset=".452" stop-color="#8fff71"/><stop offset=".484" stop-color="#79ff87"/><stop offset=".5" stop-color="#8fff71"/><stop offset=".532" stop-color="#7aff86"/><stop offset=".548" stop-color="#8fff71"/><stop offset=".581" stop-color="#7aff86"/><stop offset=".597" stop-color="#8fff71"/><stop offset=".919" stop-color="#8fff71"/><stop offset=".935" stop-color="#80ff80"/><stop offset="1" stop-color="#8fff71"/></linearGradient><linearGradient id="lg287" x1="0" y1="0" x2="0" y2="1"><stop offset="0" stop-color="#800000"/><stop offset=".05" stop-color="#b30000"/><stop offset=".1" stop-color="#e60000"/><stop offset=".15" stop-color="#ff1a00"/><stop offset=".2" stop-color="#ff4c00"/><stop offset=".25" stop-color="#ff8000"/><stop offset=".3" stop-color="#ffb300"/><stop offset=".35" stop-color="#ffe500"/><stop offset=".4" stop-color="#e6ff1a"/><stop offset=".45" stop-color="#b3ff4d"/><stop offset=".5" stop-color="#80ff80"/><stop offset=".55" stop-color="#4dffb3"/><stop offset=".6" stop-color="#1affe6"/><stop offset=".65" stop-color="#00e5ff"/><stop offset=".7" stop-color="#00b3ff"/><stop offset=".75" stop-color="#0080ff"/><stop offset=".8" stop-color="#004cff"/><stop offset=".85" stop-color="#001aff"/><stop offset=".9" stop-color="#0000e6"/><stop offset=".95" stop-color="#0000b3"/><stop offset="1" stop-color="#000080"/></linearGradient><linearGradient id="lg288" x1="0" y1="0" x2="1" y2="0"><stop offset="0" stop-color="#008aff"/><stop offset=".016" stop-color="#0077ff"/><stop offset=".032" stop-color="#00bfff"/><stop offset=".063" stop-color="#0065ff"/><stop offset=".079" stop-color="#00bfff"/><stop offset=".095" stop-color="#0080ff"/><stop offset=".111" stop-color="#008bff"/><stop offset=".127" stop-color="#0000fc"/><stop offset=".143" stop-color="#0066ff"/><stop offset=".159" stop-color="#0018ff"/><stop offset=".175" stop-color="#0000e6"/><stop offset=".19" stop-color="#0066ff"/><stop offset=".206" stop-color="#000dff"/><stop offset=".222" stop-color="#001dff"/><stop offset=".238" stop-color="#0000fa"/><stop offset=".254" stop-color="#0066ff"/><stop offset=".27" stop-color="#0017ff"/><stop offset=".286" stop-color="#0000e7"/><stop offset=".302" stop-color="#0066ff"/><stop offset=".317" stop-color="#000eff"/><stop offset=".333" stop-color="#001eff"/><stop offset=".349" stop-color="#0000f8"/><stop offset=".365" stop-color="#0066ff"/><stop offset=".381" stop-color="#0016ff"/><stop offset=".397" stop-color="#0000e8"/><stop offset=".413" stop-color="#0066ff"/><stop offset=".429" stop-color="#000fff"/><stop offset=".444" stop-color="#001fff"/><stop offset=".46" stop-color="#0000f6"/><stop offset=".476" stop-color="#0066ff"/><stop offset=".492" stop-color="#0015ff"/><stop offset=".508" stop-color="#0000ea"/><stop offset=".524" stop-color="#0066ff"/><stop offset=".54" stop-color="#0010ff"/><stop offset=".556" stop-color="#0020ff"/><stop offset=".571" stop-color="#0000f3"/><stop offset=".587" stop-color="#0066ff"/><stop offset=".603" stop-color="#0014ff"/><stop offset=".619" stop-color="#0000eb"/><stop offset=".635" stop-color="#0066ff"/><stop offset=".651" stop-color="#0012ff"/><stop offset=".667" stop-color="#0020ff"/><stop offset=".683" stop-color="#0000f1"/><stop offset=".698" stop-color="#0066ff"/><stop offset=".714" stop-color="#0013ff"/><stop offset=".73" stop-color="#0000ed"/><stop offset=".746" stop-color="#0066ff"/><stop offset=".762" stop-color="#0013ff"/><stop offset=".778" stop-color="#0021ff"/><stop offset=".794" stop-color="#0000ef"/><stop offset=".81" stop-color="#0066ff"/><stop offset=".825" stop-color="#0012ff"/><stop offset=".841" stop-color="#0000ee"/><stop offset=".857" stop-color="#00bfff"/><stop offset=".873" stop-color="#0086ff"/><stop offset=".889" stop-color="#008fff"/><stop offset=".905" stop-color="#006bff"/><stop offset=".921" stop-color="#00bfff"/><stop offset=".937" stop-color="#0083ff"/><stop offset=".952" stop-color="#006dff"/><stop offset=".968" stop-color="#00bfff"/><stop offset=".984" stop-color="#0087ff"/><stop offset="1" stop-color="#008fff"/></linearGradient><linearGradient id="lg289" x1="0" y1="0" x2="1" y2="0"><stop offset="0" stop-color="#00dbff"/><stop offset=".016" stop-color="#0090ff"/><stop offset=".048" stop-color="#00aaff"/><stop offset=".063" stop-color="#00dbff"/><stop offset=".079" stop-color="#009dff"/><stop offset=".095" stop-color="#0092ff"/><stop offset=".111" stop-color="#00dbff"/><stop offset=".127" stop-color="#0023ff"/><stop offset=".143" stop-color="#0047ff"/><stop offset=".159" stop-color="#0046ff"/><stop offset=".175" stop-color="#008eff"/><stop offset=".19" stop-color="#0035ff"/><stop offset=".206" stop-color="#0027ff"/><stop offset=".222" stop-color="#008eff"/><stop offset=".238" stop-color="#0024ff"/><stop offset=".254" stop-color="#0047ff"/><stop offset=".27" stop-color="#0044ff"/><stop offset=".286" stop-color="#008eff"/><stop offset=".302" stop-color="#0033ff"/><stop offset=".317" stop-color="#0028ff"/><stop offset=".333" stop-color="#008eff"/><stop offset=".349" stop-color="#0025ff"/><stop offset=".365" stop-color="#0048ff"/><stop offset=".381" stop-color="#0042ff"/><stop offset=".397" stop-color="#008eff"/><stop offset=".413" stop-color="#0032ff"/><stop offset=".429" stop-color="#0028ff"/><stop offset=".444" stop-color="#008eff"/><stop offset=".46" stop-color="#0026ff"/><stop offset=".476" stop-color="#0048ff"/><stop offset=".492" stop-color="#0040ff"/><stop offset=".508" stop-color="#008eff"/><stop offset=".524" stop-color="#0031ff"/><stop offset=".54" stop-color="#0029ff"/><stop offset=".556" stop-color="#008eff"/><stop offset=".571" stop-color="#0028ff"/><stop offset=".587" stop-color="#0049ff"/><stop offset=".603" stop-color="#003dff"/><stop offset=".619" stop-color="#008eff"/><stop offset=".635" stop-color="#0030ff"/><stop offset=".651" stop-color="#002aff"/><stop offset=".667" stop-color="#008eff"/><stop offset=".683" stop-color="#0029ff"/><stop offset=".698" stop-color="#0049ff"/><stop offset=".714" stop-color="#003bff"/><stop offset=".73" stop-color="#008eff"/><stop offset=".746" stop-color="#002eff"/><stop offset=".762" stop-color="#002bff"/><stop offset=".778" stop-color="#008eff"/><stop offset=".794" stop-color="#002aff"/><stop offset=".81" stop-color="#0049ff"/><stop offset=".825" stop-color="#003aff"/><stop offset=".841" stop-color="#008eff"/><stop offset=".873" stop-color="#0096ff"/><stop offset=".889" stop-color="#00dbff"/><stop offset=".905" stop-color="#0096ff"/><stop offset=".921" stop-color="#00abff"/><stop offset=".937" stop-color="#009eff"/><stop offset=".952" stop-color="#00dbff"/><stop offset=".968" stop-color="#0096ff"/><stop offset=".984" stop-color="#0096ff"/><stop offset="1" stop-color="#00dbff"/></linearGradient><linearGradient id="lg290" x1="0" y1="0" x2="1" y2="0"><stop offset="0" stop-color="#00bbff"/><stop offset=".016" stop-color="#00bfff"/><stop offset=".032" stop-color="#00f5ff"/><stop offset=".048" stop-color="#00a1ff"/><stop offset=".079" stop-color="#00f5ff"/><stop offset=".111" stop-color="#00baff"/><stop offset=".127" stop-color="#0067ff"/><stop offset=".143" stop-color="#00b3ff"/><stop offset=".159" stop-color="#003cff"/><stop offset=".19" stop-color="#00b3ff"/><stop offset=".222" stop-color="#005dff"/><stop offset=".238" stop-color="#0067ff"/><stop offset=".254" stop-color="#00b3ff"/><stop offset=".27" stop-color="#003dff"/><stop offset=".286" stop-color="#007dff"/><stop offset=".317" stop-color="#007dff"/><stop offset=".333" stop-color="#005cff"/><stop offset=".349" stop-color="#0068ff"/><stop offset=".365" stop-color="#00b3ff"/><stop offset=".381" stop-color="#003dff"/><stop offset=".397" stop-color="#007eff"/><stop offset=".429" stop-color="#0080ff"/><stop offset=".444" stop-color="#005aff"/><stop offset=".46" stop-color="#0068ff"/><stop offset=".476" stop-color="#00b3ff"/><stop offset=".492" stop-color="#003eff"/><stop offset=".508" stop-color="#007eff"/><stop offset=".524" stop-color="#007bff"/><stop offset=".54" stop-color="#00b3ff"/><stop offset=".556" stop-color="#0058ff"/><stop offset=".571" stop-color="#0069ff"/><stop offset=".587" stop-color="#00b3ff"/><stop offset=".603" stop-color="#003fff"/><stop offset=".619" stop-color="#007eff"/><stop offset=".635" stop-color="#007aff"/><stop offset=".651" stop-color="#00b3ff"/><stop offset=".667" stop-color="#0056ff"/><stop offset=".683" stop-color="#0069ff"/><stop offset=".698" stop-color="#00b3ff"/><stop offset=".714" stop-color="#0040ff"/><stop offset=".73" stop-color="#007dff"/><stop offset=".746" stop-color="#0078ff"/><stop offset=".762" stop-color="#00b3ff"/><stop offset=".778" stop-color="#0055ff"/><stop offset=".794" stop-color="#006aff"/><stop offset=".81" stop-color="#00b3ff"/><stop offset=".825" stop-color="#0040ff"/><stop offset=".857" stop-color="#00caff"/><stop offset=".873" stop-color="#00f5ff"/><stop offset=".889" stop-color="#00b2ff"/><stop offset=".905" stop-color="#00c2ff"/><stop offset=".921" stop-color="#00f5ff"/><stop offset=".937" stop-color="#00a5ff"/><stop offset=".952" stop-color="#00cfff"/><stop offset=".968" stop-color="#00c9ff"/><stop offset=".984" stop-color="#00f5ff"/><stop offset="1" stop-color="#00b0ff"/></linearGradient><linearGradient id="lg291" x1="0" y1="0" x2="1" y2="0"><stop offset="0" stop-color="#0efff1"/><stop offset=".016" stop-color="#00d5ff"/><stop offset=".063" stop-color="#0efff1"/><stop offset=".079" stop-color="#00baff"/><stop offset=".095" stop-color="#0efff1"/><stop offset=".111" stop-color="#0efff1"/><stop offset=".127" stop-color="#0088ff"/><stop offset=".159" stop-color="#009dff"/><stop offset=".175" stop-color="#00d5ff"/><stop offset=".19" stop-color="#005fff"/><stop offset=".206" stop-color="#00d5ff"/><stop offset=".222" stop-color="#00d5ff"/><stop offset=".238" stop-color="#008bff"/><stop offset=".27" stop-color="#009dff"/><stop offset=".286" stop-color="#00d5ff"/><stop offset=".302" stop-color="#005fff"/><stop offset=".317" stop-color="#00d5ff"/><stop offset=".333" stop-color="#00d5ff"/><stop offset=".349" stop-color="#008dff"/><stop offset=".381" stop-color="#009eff"/><stop offset=".397" stop-color="#00d5ff"/><stop offset=".413" stop-color="#005fff"/><stop offset=".429" stop-color="#00d5ff"/><stop offset=".444" stop-color="#00a6ff"/><stop offset=".476" stop-color="#008dff"/><stop offset=".492" stop-color="#009eff"/><stop offset=".508" stop-color="#00d5ff"/><stop offset=".524" stop-color="#005fff"/><stop offset=".54" stop-color="#00d5ff"/><stop offset=".556" stop-color="#00a5ff"/><stop offset=".587" stop-color="#008bff"/><stop offset=".603" stop-color="#009fff"/><stop offset=".619" stop-color="#00d5ff"/><stop offset=".635" stop-color="#005fff"/><stop offset=".651" stop-color="#00d5ff"/><stop offset=".667" stop-color="#00a4ff"/><stop offset=".698" stop-color="#0089ff"/><stop offset=".714" stop-color="#00a0ff"/><stop offset=".73" stop-color="#00d5ff"/><stop offset=".746" stop-color="#005fff"/><stop offset=".762" stop-color="#00d5ff"/><stop offset=".778" stop-color="#00a3ff"/><stop offset=".81" stop-color="#0087ff"/><stop offset=".841" stop-color="#00d5ff"/><stop offset=".857" stop-color="#00baff"/><stop offset=".873" stop-color="#0efff1"/><stop offset=".921" stop-color="#00d4ff"/><stop offset=".952" stop-color="#0efff1"/><stop offset=".968" stop-color="#00baff"/><stop offset=".984" stop-color="#0efff1"/><stop offset="1" stop-color="#00e8ff"/></linearGradient><linearGradient id="lg292" x1="0" y1="0" x2="1" y2="0"><stop offset="0" stop-color="#00dbff"/><stop offset=".016" stop-color="#23ffdc"/><stop offset=".032" stop-color="#00ffff"/><stop offset=".048" stop-color="#00e7ff"/><stop offset=".063" stop-color="#23ffdc"/><stop offset=".079" stop-color="#00feff"/><stop offset=".095" stop-color="#23ffdc"/><stop offset=".111" stop-color="#00dbff"/><stop offset=".127" stop-color="#00f4ff"/><stop offset=".159" stop-color="#00a1ff"/><stop offset=".175" stop-color="#00f4ff"/><stop offset=".19" stop-color="#00c2ff"/><stop offset=".206" stop-color="#00f4ff"/><stop offset=".222" stop-color="#008dff"/><stop offset=".238" stop-color="#00f4ff"/><stop offset=".27" stop-color="#00a2ff"/><stop offset=".286" stop-color="#00c9ff"/><stop offset=".302" stop-color="#00c3ff"/><stop offset=".317" stop-color="#00f4ff"/><stop offset=".333" stop-color="#008cff"/><stop offset=".349" stop-color="#00f4ff"/><stop offset=".381" stop-color="#00a4ff"/><stop offset=".397" stop-color="#00c6ff"/><stop offset=".413" stop-color="#00c4ff"/><stop offset=".429" stop-color="#00f4ff"/><stop offset=".444" stop-color="#008cff"/><stop offset=".46" stop-color="#00f4ff"/><stop offset=".476" stop-color="#00bfff"/><stop offset=".492" stop-color="#00a5ff"/><stop offset=".508" stop-color="#00c4ff"/><stop offset=".524" stop-color="#00c5ff"/><stop offset=".54" stop-color="#00f4ff"/><stop offset=".556" stop-color="#008bff"/><stop offset=".571" stop-color="#00f4ff"/><stop offset=".587" stop-color="#00beff"/><stop offset=".603" stop-color="#00a7ff"/><stop offset=".635" stop-color="#00c6ff"/><stop offset=".651" stop-color="#00f4ff"/><stop offset=".667" stop-color="#008aff"/><stop offset=".683" stop-color="#00f4ff"/><stop offset=".698" stop-color="#00beff"/><stop offset=".714" stop-color="#00a9ff"/><stop offset=".746" stop-color="#00c7ff"/><stop offset=".762" stop-color="#00f4ff"/><stop offset=".778" stop-color="#008aff"/><stop offset=".794" stop-color="#00f4ff"/><stop offset=".81" stop-color="#00bdff"/><stop offset=".825" stop-color="#00abff"/><stop offset=".841" stop-color="#00beff"/><stop offset=".857" stop-color="#04fffb"/><stop offset=".873" stop-color="#23ffdc"/><stop offset=".889" stop-color="#00d8ff"/><stop offset=".905" stop-color="#23ffdc"/><stop offset=".921" stop-color="#00fbff"/><stop offset=".952" stop-color="#00fbff"/><stop offset=".968" stop-color="#23ffdc"/><stop offset=".984" stop-color="#23ffdc"/><stop offset="1" stop-color="#00d8ff"/></linearGradient><linearGradient id="lg293" x1="0" y1="0" x2="1" y2="0"><stop offset="0" stop-color="#0efff1"/><stop offset=".032" stop-color="#01fffe"/><stop offset=".048" stop-color="#37ffc8"/><stop offset=".063" stop-color="#0cfff3"/><stop offset=".079" stop-color="#00ffff"/><stop offset=".095" stop-color="#37ffc8"/><stop offset=".111" stop-color="#0ffff0"/><stop offset=".143" stop-color="#00c2ff"/><stop offset=".159" stop-color="#11ffee"/><stop offset=".175" stop-color="#00d2ff"/><stop offset=".19" stop-color="#00c3ff"/><stop offset=".206" stop-color="#11ffee"/><stop offset=".222" stop-color="#00d8ff"/><stop offset=".238" stop-color="#00e1ff"/><stop offset=".254" stop-color="#00c1ff"/><stop offset=".27" stop-color="#11ffee"/><stop offset=".286" stop-color="#00d2ff"/><stop offset=".302" stop-color="#00c4ff"/><stop offset=".317" stop-color="#11ffee"/><stop offset=".333" stop-color="#00d9ff"/><stop offset=".349" stop-color="#00e1ff"/><stop offset=".365" stop-color="#00c0ff"/><stop offset=".381" stop-color="#11ffee"/><stop offset=".397" stop-color="#00d1ff"/><stop offset=".413" stop-color="#00c5ff"/><stop offset=".429" stop-color="#11ffee"/><stop offset=".444" stop-color="#00dbff"/><stop offset=".46" stop-color="#00e1ff"/><stop offset=".476" stop-color="#00bfff"/><stop offset=".492" stop-color="#11ffee"/><stop offset=".508" stop-color="#00d0ff"/><stop offset=".524" stop-color="#00c6ff"/><stop offset=".54" stop-color="#11ffee"/><stop offset=".587" stop-color="#00beff"/><stop offset=".603" stop-color="#11ffee"/><stop offset=".619" stop-color="#00d0ff"/><stop offset=".635" stop-color="#00c7ff"/><stop offset=".651" stop-color="#11ffee"/><stop offset=".667" stop-color="#00ddff"/><stop offset=".683" stop-color="#00e1ff"/><stop offset=".698" stop-color="#00bdff"/><stop offset=".714" stop-color="#11ffee"/><stop offset=".73" stop-color="#00cfff"/><stop offset=".746" stop-color="#00c8ff"/><stop offset=".762" stop-color="#11ffee"/><stop offset=".778" stop-color="#00dfff"/><stop offset=".794" stop-color="#00e1ff"/><stop offset=".81" stop-color="#00bcff"/><stop offset=".825" stop-color="#11ffee"/><stop offset=".841" stop-color="#00cfff"/><stop offset=".857" stop-color="#05fffa"/><stop offset=".873" stop-color="#37ffc8"/><stop offset=".889" stop-color="#15ffea"/><stop offset=".921" stop-color="#00faff"/><stop offset=".937" stop-color="#37ffc8"/><stop offset=".952" stop-color="#09fff6"/><stop offset=".968" stop-color="#06fff9"/><stop offset=".984" stop-color="#37ffc8"/><stop offset="1" stop-color="#16ffe9"/></linearGradient><linearGradient id="lg294" x1="0" y1="0" x2="1" y2="0"><stop offset="0" stop-color="#1dffe2"/><stop offset=".016" stop-color="#49ffb7"/><stop offset=".032" stop-color="#19ffe7"/><stop offset=".063" stop-color="#23ffdc"/><stop offset=".079" stop-color="#49ffb7"/><stop offset=".095" stop-color="#1affe5"/><stop offset=".127" stop-color="#2affd5"/><stop offset=".143" stop-color="#00e6ff"/><stop offset=".159" stop-color="#00fcff"/><stop offset=".175" stop-color="#00f2ff"/><stop offset=".19" stop-color="#2affd5"/><stop offset=".206" stop-color="#00e6ff"/><stop offset=".222" stop-color="#00ecff"/><stop offset=".238" stop-color="#2affd5"/><stop offset=".254" stop-color="#00e7ff"/><stop offset=".27" stop-color="#00fcff"/><stop offset=".286" stop-color="#00f1ff"/><stop offset=".302" stop-color="#2affd5"/><stop offset=".317" stop-color="#00e5ff"/><stop offset=".333" stop-color="#00edff"/><stop offset=".349" stop-color="#2affd5"/><stop offset=".365" stop-color="#00e8ff"/><stop offset=".381" stop-color="#00fcff"/><stop offset=".397" stop-color="#00f0ff"/><stop offset=".413" stop-color="#2affd5"/><stop offset=".429" stop-color="#00e4ff"/><stop offset=".444" stop-color="#00eeff"/><stop offset=".46" stop-color="#2affd5"/><stop offset=".476" stop-color="#00e9ff"/><stop offset=".492" stop-color="#00fcff"/><stop offset=".508" stop-color="#00efff"/><stop offset=".524" stop-color="#2affd5"/><stop offset=".54" stop-color="#00e3ff"/><stop offset=".556" stop-color="#00eeff"/><stop offset=".571" stop-color="#2affd5"/><stop offset=".587" stop-color="#00eaff"/><stop offset=".603" stop-color="#00fcff"/><stop offset=".619" stop-color="#00eeff"/><stop offset=".635" stop-color="#2affd5"/><stop offset=".651" stop-color="#00e3ff"/><stop offset=".667" stop-color="#00efff"/><stop offset=".683" stop-color="#2affd5"/><stop offset=".698" stop-color="#00ecff"/><stop offset=".714" stop-color="#00fbff"/><stop offset=".73" stop-color="#00edff"/><stop offset=".746" stop-color="#2affd5"/><stop offset=".762" stop-color="#00e2ff"/><stop offset=".778" stop-color="#00f0ff"/><stop offset=".794" stop-color="#2affd5"/><stop offset=".81" stop-color="#00edff"/><stop offset=".825" stop-color="#00fbff"/><stop offset=".841" stop-color="#00edff"/><stop offset=".857" stop-color="#49ffb7"/><stop offset=".873" stop-color="#16ffe9"/><stop offset=".889" stop-color="#21ffde"/><stop offset=".905" stop-color="#48ffb7"/><stop offset=".921" stop-color="#1fffe0"/><stop offset=".952" stop-color="#1effe2"/><stop offset=".968" stop-color="#49ffb7"/><stop offset=".984" stop-color="#16ffe9"/><stop offset="1" stop-color="#21ffde"/></linearGradient><linearGradient id="lg295" x1="0" y1="0" x2="1" y2="0"><stop offset="0" stop-color="#58ffa8"/><stop offset=".016" stop-color="#2dffd2"/><stop offset=".048" stop-color="#58ffa8"/><stop offset=".063" stop-color="#24ffdb"/><stop offset=".079" stop-color="#58ffa8"/><stop offset=".095" stop-color="#3dffc2"/><stop offset=".111" stop-color="#58ffa8"/><stop offset=".127" stop-color="#02fffd"/><stop offset=".159" stop-color="#40ffbf"/><stop offset=".175" stop-color="#00f5ff"/><stop offset=".19" stop-color="#40ffbf"/><stop offset=".206" stop-color="#19ffe6"/><stop offset=".222" stop-color="#40ffbf"/><stop offset=".238" stop-color="#01fffe"/><stop offset=".27" stop-color="#40ffbf"/><stop offset=".286" stop-color="#00f6ff"/><stop offset=".302" stop-color="#20ffe0"/><stop offset=".317" stop-color="#19ffe7"/><stop offset=".333" stop-color="#40ffbf"/><stop offset=".349" stop-color="#00ffff"/><stop offset=".381" stop-color="#40ffbf"/><stop offset=".397" stop-color="#00f7ff"/><stop offset=".413" stop-color="#1fffe0"/><stop offset=".429" stop-color="#18ffe7"/><stop offset=".444" stop-color="#40ffbf"/><stop offset=".46" stop-color="#00feff"/><stop offset=".492" stop-color="#40ffbf"/><stop offset=".508" stop-color="#00f8ff"/><stop offset=".524" stop-color="#1fffe0"/><stop offset=".54" stop-color="#17ffe8"/><stop offset=".556" stop-color="#40ffbf"/><stop offset=".571" stop-color="#00fdff"/><stop offset=".603" stop-color="#40ffbf"/><stop offset=".619" stop-color="#00f9ff"/><stop offset=".635" stop-color="#1effe1"/><stop offset=".651" stop-color="#16ffe9"/><stop offset=".667" stop-color="#40ffbf"/><stop offset=".683" stop-color="#00fcff"/><stop offset=".714" stop-color="#40ffbf"/><stop offset=".73" stop-color="#00faff"/><stop offset=".746" stop-color="#1effe1"/><stop offset=".762" stop-color="#16ffe9"/><stop offset=".778" stop-color="#40ffbf"/><stop offset=".794" stop-color="#00fbff"/><stop offset=".825" stop-color="#40ffbf"/><stop offset=".841" stop-color="#00fbff"/><stop offset=".857" stop-color="#40ffc0"/><stop offset=".873" stop-color="#3affc6"/><stop offset=".889" stop-color="#58ffa8"/><stop offset=".905" stop-color="#28ffd8"/><stop offset=".937" stop-color="#58ffa8"/><stop offset=".952" stop-color="#29ffd7"/><stop offset=".968" stop-color="#3fffc0"/><stop offset=".984" stop-color="#39ffc6"/><stop offset="1" stop-color="#58ffa8"/></linearGradient><linearGradient id="lg296" x1="0" y1="0" x2="1" y2="0"><stop offset="0" stop-color="#65ff9b"/><stop offset=".048" stop-color="#45ffbb"/><stop offset=".079" stop-color="#65ff9b"/><stop offset=".095" stop-color="#33ffcc"/><stop offset=".111" stop-color="#65ff9b"/><stop offset=".127" stop-color="#33ffcd"/><stop offset=".159" stop-color="#23ffdc"/><stop offset=".19" stop-color="#53ffac"/><stop offset=".206" stop-color="#0cfff3"/><stop offset=".222" stop-color="#53ffac"/><stop offset=".238" stop-color="#32ffcd"/><stop offset=".27" stop-color="#22ffdd"/><stop offset=".286" stop-color="#53ffac"/><stop offset=".302" stop-color="#53ffac"/><stop offset=".317" stop-color="#0cfff3"/><stop offset=".333" stop-color="#53ffac"/><stop offset=".349" stop-color="#32ffcd"/><stop offset=".381" stop-color="#21ffdf"/><stop offset=".397" stop-color="#53ffac"/><stop offset=".413" stop-color="#53ffac"/><stop offset=".429" stop-color="#0dfff2"/><stop offset=".444" stop-color="#53ffac"/><stop offset=".46" stop-color="#32ffce"/><stop offset=".492" stop-color="#1fffe0"/><stop offset=".508" stop-color="#53ffac"/><stop offset=".524" stop-color="#53ffac"/><stop offset=".54" stop-color="#0dfff2"/><stop offset=".556" stop-color="#53ffac"/><stop offset=".571" stop-color="#31ffce"/><stop offset=".603" stop-color="#1effe1"/><stop offset=".619" stop-color="#53ffad"/><stop offset=".635" stop-color="#53ffac"/><stop offset=".651" stop-color="#0dfff2"/><stop offset=".667" stop-color="#53ffad"/><stop offset=".683" stop-color="#31ffcf"/><stop offset=".714" stop-color="#1dffe2"/><stop offset=".73" stop-color="#53ffac"/><stop offset=".746" stop-color="#53ffac"/><stop offset=".762" stop-color="#0efff1"/><stop offset=".778" stop-color="#53ffad"/><stop offset=".794" stop-color="#31ffcf"/><stop offset=".81" stop-color="#34ffcb"/><stop offset=".825" stop-color="#1cffe4"/><stop offset=".841" stop-color="#53ffad"/><stop offset=".857" stop-color="#65ff9b"/><stop offset=".873" stop-color="#35ffca"/><stop offset=".889" stop-color="#65ff9b"/><stop offset=".937" stop-color="#3effc2"/><stop offset=".952" stop-color="#65ff9b"/><stop offset=".968" stop-color="#65ff9b"/><stop offset=".984" stop-color="#36ffca"/><stop offset="1" stop-color="#65ff9b"/></linearGradient><linearGradient id="lg297" x1="0" y1="0" x2="1" y2="0"><stop offset="0" stop-color="#ffb300"/><stop offset=".032" stop-color="#ffb300"/><stop offset=".048" stop-color="#59ffa7"/><stop offset=".111" stop-color="#71ff8f"/><stop offset=".127" stop-color="#28ffd7"/><stop offset=".143" stop-color="#63ff9c"/><stop offset=".175" stop-color="#3bffc5"/><stop offset=".222" stop-color="#63ff9c"/><stop offset=".238" stop-color="#28ffd7"/><stop offset=".254" stop-color="#63ff9c"/><stop offset=".27" stop-color="#41ffbe"/><stop offset=".286" stop-color="#3bffc4"/><stop offset=".333" stop-color="#63ff9c"/><stop offset=".349" stop-color="#28ffd8"/><stop offset=".365" stop-color="#63ff9c"/><stop offset=".381" stop-color="#41ffbe"/><stop offset=".397" stop-color="#3cffc3"/><stop offset=".444" stop-color="#63ff9c"/><stop offset=".46" stop-color="#28ffd8"/><stop offset=".476" stop-color="#63ff9c"/><stop offset=".492" stop-color="#41ffbf"/><stop offset=".508" stop-color="#3dffc2"/><stop offset=".556" stop-color="#63ff9c"/><stop offset=".571" stop-color="#28ffd8"/><stop offset=".587" stop-color="#63ff9c"/><stop offset=".603" stop-color="#41ffbf"/><stop offset=".619" stop-color="#3effc2"/><stop offset=".667" stop-color="#63ff9c"/><stop offset=".683" stop-color="#28ffd8"/><stop offset=".698" stop-color="#63ff9c"/><stop offset=".714" stop-color="#41ffbf"/><stop offset=".746" stop-color="#3fffc1"/><stop offset=".762" stop-color="#63ff9d"/><stop offset=".778" stop-color="#63ff9d"/><stop offset=".794" stop-color="#28ffd7"/><stop offset=".81" stop-color="#63ff9c"/><stop offset=".825" stop-color="#40ffbf"/><stop offset=".841" stop-color="#40ffc0"/><stop offset=".873" stop-color="#71ff8f"/><stop offset=".889" stop-color="#71ff8f"/><stop offset=".905" stop-color="#47ffb9"/><stop offset=".921" stop-color="#71ff8f"/><stop offset=".937" stop-color="#58ffa7"/><stop offset=".968" stop-color="#55ffab"/><stop offset="1" stop-color="#71ff8f"/></linearGradient><linearGradient id="lg298" x1="0" y1="0" x2="1" y2="0"><stop offset="0" stop-color="#ff2c00"/><stop offset=".016" stop-color="#ff2700"/><stop offset=".032" stop-color="#ffb300"/><stop offset=".048" stop-color="#5cffa4"/><stop offset=".063" stop-color="#7aff86"/><stop offset=".079" stop-color="#61ff9f"/><stop offset=".111" stop-color="#7aff86"/><stop offset=".127" stop-color="#57ffa9"/><stop offset=".159" stop-color="#46ffba"/><stop offset=".175" stop-color="#71ff8f"/><stop offset=".19" stop-color="#4cffb3"/><stop offset=".206" stop-color="#4effb2"/><stop offset=".222" stop-color="#71ff8f"/><stop offset=".27" stop-color="#46ffba"/><stop offset=".286" stop-color="#71ff8f"/><stop offset=".302" stop-color="#4cffb3"/><stop offset=".317" stop-color="#4effb1"/><stop offset=".333" stop-color="#71ff8f"/><stop offset=".381" stop-color="#45ffba"/><stop offset=".397" stop-color="#71ff8f"/><stop offset=".413" stop-color="#4cffb4"/><stop offset=".429" stop-color="#4fffb1"/><stop offset=".444" stop-color="#71ff8f"/><stop offset=".492" stop-color="#45ffba"/><stop offset=".508" stop-color="#71ff8f"/><stop offset=".524" stop-color="#4cffb4"/><stop offset=".54" stop-color="#4fffb0"/><stop offset=".556" stop-color="#71ff8f"/><stop offset=".603" stop-color="#44ffbb"/><stop offset=".619" stop-color="#71ff8f"/><stop offset=".635" stop-color="#4cffb4"/><stop offset=".651" stop-color="#4fffb0"/><stop offset=".667" stop-color="#71ff8f"/><stop offset=".714" stop-color="#45ffbb"/><stop offset=".73" stop-color="#71ff8f"/><stop offset=".746" stop-color="#4cffb4"/><stop offset=".794" stop-color="#5cffa4"/><stop offset=".825" stop-color="#44ffbb"/><stop offset=".841" stop-color="#71ff8f"/><stop offset=".857" stop-color="#60ffa0"/><stop offset=".905" stop-color="#7aff86"/><stop offset=".937" stop-color="#5bffa5"/><stop offset=".952" stop-color="#7aff86"/><stop offset=".968" stop-color="#60ffa0"/><stop offset="1" stop-color="#6aff96"/></linearGradient><linearGradient id="lg299" x1="0" y1="0" x2="1" y2="0"><stop offset="0" stop-color="#ff2c00"/><stop offset=".032" stop-color="#ff0800"/><stop offset=".048" stop-color="#ffb300"/><stop offset=".063" stop-color="#72ff8d"/><stop offset=".095" stop-color="#82ff7e"/><stop offset=".127" stop-color="#63ff9d"/><stop offset=".143" stop-color="#7cff84"/><stop offset=".159" stop-color="#5fffa1"/><stop offset=".19" stop-color="#60ffa0"/><stop offset=".206" stop-color="#7cff84"/><stop offset=".222" stop-color="#58ffa8"/><stop offset=".254" stop-color="#7cff84"/><stop offset=".27" stop-color="#60ffa0"/><stop offset=".302" stop-color="#60ffa0"/><stop offset=".317" stop-color="#7cff84"/><stop offset=".333" stop-color="#58ffa8"/><stop offset=".365" stop-color="#7cff84"/><stop offset=".381" stop-color="#60ff9f"/><stop offset=".413" stop-color="#5fffa0"/><stop offset=".429" stop-color="#7cff84"/><stop offset=".444" stop-color="#58ffa8"/><stop offset=".476" stop-color="#7cff84"/><stop offset=".492" stop-color="#61ff9f"/><stop offset=".524" stop-color="#5fffa1"/><stop offset=".54" stop-color="#7cff84"/><stop offset=".556" stop-color="#57ffa8"/><stop offset=".587" stop-color="#7cff84"/><stop offset=".603" stop-color="#61ff9f"/><stop offset=".635" stop-color="#5fffa1"/><stop offset=".651" stop-color="#7bff85"/><stop offset=".667" stop-color="#57ffa9"/><stop offset=".698" stop-color="#7bff85"/><stop offset=".714" stop-color="#63ff9d"/><stop offset=".746" stop-color="#5fffa1"/><stop offset=".762" stop-color="#7bff85"/><stop offset=".778" stop-color="#56ffa9"/><stop offset=".81" stop-color="#7cff84"/><stop offset=".825" stop-color="#63ff9d"/><stop offset=".873" stop-color="#82ff7e"/><stop offset=".889" stop-color="#68ff98"/><stop offset=".921" stop-color="#82ff7e"/><stop offset=".968" stop-color="#6dff93"/><stop offset=".984" stop-color="#82ff7e"/><stop offset="1" stop-color="#68ff98"/></linearGradient><linearGradient id="lg300" x1="0" y1="0" x2="1" y2="0"><stop offset="0" stop-color="#ff2c00"/><stop offset=".048" stop-color="#f10000"/><stop offset=".063" stop-color="#87ff79"/><stop offset=".079" stop-color="#73ff8d"/><stop offset=".127" stop-color="#84ff7c"/><stop offset=".143" stop-color="#67ff99"/><stop offset=".175" stop-color="#84ff7c"/><stop offset=".19" stop-color="#68ff98"/><stop offset=".238" stop-color="#84ff7c"/><stop offset=".254" stop-color="#67ff99"/><stop offset=".286" stop-color="#84ff7c"/><stop offset=".302" stop-color="#68ff98"/><stop offset=".349" stop-color="#84ff7c"/><stop offset=".365" stop-color="#67ff99"/><stop offset=".397" stop-color="#84ff7c"/><stop offset=".413" stop-color="#69ff97"/><stop offset=".46" stop-color="#84ff7c"/><stop offset=".476" stop-color="#66ff9a"/><stop offset=".508" stop-color="#84ff7c"/><stop offset=".524" stop-color="#69ff97"/><stop offset=".571" stop-color="#84ff7c"/><stop offset=".587" stop-color="#66ff9a"/><stop offset=".619" stop-color="#83ff7d"/><stop offset=".635" stop-color="#6aff96"/><stop offset=".683" stop-color="#84ff7c"/><stop offset=".698" stop-color="#65ff9b"/><stop offset=".73" stop-color="#84ff7c"/><stop offset=".746" stop-color="#6aff96"/><stop offset=".794" stop-color="#84ff7c"/><stop offset=".81" stop-color="#65ff9b"/><stop offset=".825" stop-color="#83ff7d"/><stop offset="1" stop-color="#7bff85"/></linearGradient><linearGradient id="lg301" x1="0" y1="0" x2="1" y2="0"><stop offset="0" stop-color="#ff2c00"/><stop offset=".048" stop-color="#f10000"/><stop offset=".063" stop-color="#7fff81"/><stop offset=".127" stop-color="#8aff76"/><stop offset=".175" stop-color="#77ff89"/><stop offset=".206" stop-color="#8aff76"/><stop offset=".222" stop-color="#73ff8d"/><stop offset=".238" stop-color="#8aff76"/><stop offset=".286" stop-color="#77ff89"/><stop offset=".317" stop-color="#8aff76"/><stop offset=".333" stop-color="#74ff8c"/><stop offset=".349" stop-color="#8aff76"/><stop offset=".397" stop-color="#77ff89"/><stop offset=".429" stop-color="#8aff76"/><stop offset=".444" stop-color="#74ff8c"/><stop offset=".46" stop-color="#8aff76"/><stop offset=".508" stop-color="#76ff8a"/><stop offset=".54" stop-color="#8aff76"/><stop offset=".556" stop-color="#74ff8c"/><stop offset=".571" stop-color="#8aff76"/><stop offset=".619" stop-color="#74ff8c"/><stop offset=".635" stop-color="#8aff76"/><stop offset=".667" stop-color="#73ff8d"/><stop offset=".683" stop-color="#89ff76"/><stop offset=".73" stop-color="#75ff8a"/><stop offset=".746" stop-color="#8aff76"/><stop offset=".778" stop-color="#73ff8d"/><stop offset=".794" stop-color="#8aff76"/><stop offset=".841" stop-color="#74ff8c"/><stop offset=".857" stop-color="#8bff74"/><stop offset=".889" stop-color="#7dff83"/><stop offset=".984" stop-color="#8cff74"/><stop offset="1" stop-color="#7dff83"/></linearGradient><linearGradient id="lg302" x1="0" y1="0" x2="1" y2="0"><stop offset="0" stop-color="#ff2c00"/><stop offset=".048" stop-color="#f00000"/><stop offset=".063" stop-color="#ffb300"/><stop offset=".079" stop-color="#88ff78"/><stop offset=".698" stop-color="#7eff82"/><stop offset=".714" stop-color="#8dff73"/><stop offset="1" stop-color="#8eff72"/></linearGradient><linearGradient id="lg303" x1="0" y1="0" x2="1" y2="0"><stop offset="0" stop-color="#ff2c00"/><stop offset=".063" stop-color="#fa0000"/><stop offset=".079" stop-color="#ffb300"/><stop offset=".095" stop-color="#8dff73"/><stop offset="1" stop-color="#8dff73"/></linearGradient><linearGradient id="lg304" x1="0" y1="0" x2="1" y2="0"><stop offset="0" stop-color="#ff2b00"/><stop offset=".048" stop-color="#f00000"/><stop offset=".079" stop-color="#ff1900"/><stop offset=".095" stop-color="#ffb300"/><stop offset=".111" stop-color="#8fff71"/><stop offset="1" stop-color="#8fff71"/></linearGradient><linearGradient id="lg305" x1="0" y1="0" x2="1" y2="0"><stop offset="0" stop-color="#ff2b00"/><stop offset=".048" stop-color="#ef0000"/><stop offset=".095" stop-color="#ff2900"/><stop offset=".111" stop-color="#ffb300"/><stop offset=".127" stop-color="#ffb300"/><stop offset=".143" stop-color="#8fff71"/><stop offset=".571" stop-color="#8fff71"/><stop offset=".603" stop-color="#80ff80"/><stop offset="1" stop-color="#8fff71"/></linearGradient><linearGradient id="lg306" x1="0" y1="0" x2="1" y2="0"><stop offset="0" stop-color="#ff2b00"/><stop offset=".048" stop-color="#ed0000"/><stop offset=".095" stop-color="#ff2500"/><stop offset=".111" stop-color="#ff1500"/><stop offset=".127" stop-color="#ffb300"/><stop offset=".159" stop-color="#ffb300"/><stop offset=".175" stop-color="#8fff71"/><stop offset=".571" stop-color="#8fff71"/><stop offset=".603" stop-color="#79ff87"/><stop offset=".635" stop-color="#8eff72"/><stop offset=".651" stop-color="#7dff83"/><stop offset=".746" stop-color="#8eff72"/><stop offset=".762" stop-color="#7aff86"/><stop offset=".794" stop-color="#8fff71"/><stop offset=".825" stop-color="#80ff80"/><stop offset="1" stop-color="#8fff71"/></linearGradient><linearGradient id="lg307" x1="0" y1="0" x2="1" y2="0"><stop offset="0" stop-color="#ff2a00"/><stop offset=".032" stop-color="#ff0400"/><stop offset=".048" stop-color="#ea0000"/><stop offset=".095" stop-color="#ff1e00"/><stop offset=".111" stop-color="#ff0e00"/><stop offset=".143" stop-color="#da0000"/><stop offset=".159" stop-color="#ffb300"/><stop offset=".349" stop-color="#ffb300"/><stop offset=".365" stop-color="#8fff71"/><stop offset=".587" stop-color="#8dff73"/><stop offset=".603" stop-color="#6fff91"/><stop offset=".635" stop-color="#8dff73"/><stop offset=".651" stop-color="#76ff8a"/><stop offset=".746" stop-color="#8eff72"/><stop offset=".762" stop-color="#71ff8f"/><stop offset=".794" stop-color="#8eff72"/><stop offset=".825" stop-color="#7aff86"/><stop offset=".857" stop-color="#8fff71"/><stop offset=".905" stop-color="#7dff83"/><stop offset="1" stop-color="#8fff71"/></linearGradient><linearGradient id="lg308" x1="0" y1="0" x2="1" y2="0"><stop offset="0" stop-color="#ff2900"/><stop offset=".032" stop-color="#ff0100"/><stop offset=".048" stop-color="#e60000"/><stop offset=".095" stop-color="#ff1500"/><stop offset=".111" stop-color="#ff0200"/><stop offset=".143" stop-color="#cc0000"/><stop offset=".175" stop-color="#fe0000"/><stop offset=".238" stop-color="#e00000"/><stop offset=".254" stop-color="#fd0000"/><stop offset=".27" stop-color="#ff2000"/><stop offset=".286" stop-color="#ffb300"/><stop offset=".365" stop-color="#ffb300"/><stop offset=".381" stop-color="#8fff71"/><stop offset=".587" stop-color="#8cff73"/><stop offset=".603" stop-color="#64ff9c"/><stop offset=".635" stop-color="#8cff74"/><stop offset=".651" stop-color="#6cff94"/><stop offset=".683" stop-color="#88ff78"/><stop offset=".698" stop-color="#77ff89"/><stop offset=".746" stop-color="#8dff73"/><stop offset=".762" stop-color="#66ff9a"/><stop offset=".794" stop-color="#8eff72"/><stop offset=".825" stop-color="#72ff8e"/><stop offset=".857" stop-color="#8eff72"/><stop offset=".905" stop-color="#76ff8a"/><stop offset=".937" stop-color="#8fff71"/><stop offset="1" stop-color="#8fff71"/></linearGradient><linearGradient id="lg309" x1="0" y1="0" x2="1" y2="0"><stop offset="0" stop-color="#ff2800"/><stop offset=".032" stop-color="#fd0000"/><stop offset=".048" stop-color="#e10000"/><stop offset=".095" stop-color="#ff0900"/><stop offset=".143" stop-color="#ba0000"/><stop offset=".19" stop-color="#fd0000"/><stop offset=".222" stop-color="#d70000"/><stop offset=".238" stop-color="#d80000"/><stop offset=".254" stop-color="#f70000"/><stop offset=".286" stop-color="#ff2200"/><stop offset=".333" stop-color="#f40000"/><stop offset=".365" stop-color="#ff2c00"/><stop offset=".381" stop-color="#ff2500"/><stop offset=".397" stop-color="#8fff71"/><stop offset=".587" stop-color="#8bff74"/><stop offset=".603" stop-color="#55ffaa"/><stop offset=".635" stop-color="#8bff75"/><stop offset=".651" stop-color="#61ff9f"/><stop offset=".683" stop-color="#85ff7b"/><stop offset=".698" stop-color="#6fff91"/><stop offset=".714" stop-color="#8aff76"/><stop offset=".746" stop-color="#8cff74"/><stop offset=".762" stop-color="#59ffa7"/><stop offset=".778" stop-color="#63ff9d"/><stop offset=".794" stop-color="#8eff72"/><stop offset=".81" stop-color="#8dff73"/><stop offset=".825" stop-color="#69ff97"/><stop offset=".857" stop-color="#8eff72"/><stop offset=".889" stop-color="#88ff78"/><stop offset=".905" stop-color="#6eff92"/><stop offset=".937" stop-color="#8fff71"/><stop offset="1" stop-color="#8fff71"/></linearGradient><linearGradient id="lg310" x1="0" y1="0" x2="1" y2="0"><stop offset="0" stop-color="#ff2600"/><stop offset=".032" stop-color="#f90000"/><stop offset=".048" stop-color="#db0000"/><stop offset=".095" stop-color="#fa0000"/><stop offset=".143" stop-color="#a60000"/><stop offset=".19" stop-color="#eb0000"/><stop offset=".222" stop-color="#cb0000"/><stop offset=".238" stop-color="#ce0000"/><stop offset=".254" stop-color="#f00000"/><stop offset=".27" stop-color="#ff1600"/><stop offset=".286" stop-color="#ff1f00"/><stop offset=".333" stop-color="#f30000"/><stop offset=".365" stop-color="#ff2c00"/><stop offset=".381" stop-color="#ff2500"/><stop offset=".397" stop-color="#8fff71"/><stop offset=".587" stop-color="#8aff75"/><stop offset=".603" stop-color="#45ffbb"/><stop offset=".635" stop-color="#8aff76"/><stop offset=".651" stop-color="#53ffac"/><stop offset=".683" stop-color="#82ff7e"/><stop offset=".698" stop-color="#65ff9a"/><stop offset=".714" stop-color="#89ff77"/><stop offset=".746" stop-color="#8bff75"/><stop offset=".762" stop-color="#49ffb6"/><stop offset=".778" stop-color="#57ffa9"/><stop offset=".794" stop-color="#8dff73"/><stop offset=".81" stop-color="#8dff73"/><stop offset=".825" stop-color="#5effa2"/><stop offset=".841" stop-color="#65ff9b"/><stop offset=".857" stop-color="#8eff72"/><stop offset=".889" stop-color="#85ff7b"/><stop offset=".905" stop-color="#65ff9b"/><stop offset=".937" stop-color="#8fff71"/><stop offset="1" stop-color="#8fff71"/></linearGradient><linearGradient id="lg311" x1="0" y1="0" x2="1" y2="0"><stop offset="0" stop-color="#ff2500"/><stop offset=".032" stop-color="#f50000"/><stop offset=".048" stop-color="#d60000"/><stop offset=".095" stop-color="#ec0000"/><stop offset=".143" stop-color="#920000"/><stop offset=".19" stop-color="#da0000"/><stop offset=".222" stop-color="#bf0000"/><stop offset=".238" stop-color="#c50000"/><stop offset=".27" stop-color="#ff1200"/><stop offset=".286" stop-color="#ff1c00"/><stop offset=".333" stop-color="#f20000"/><stop offset=".365" stop-color="#ff2b00"/><stop offset=".381" stop-color="#ff2500"/><stop offset=".397" stop-color="#8fff71"/><stop offset=".587" stop-color="#89ff77"/><stop offset=".603" stop-color="#33ffcd"/><stop offset=".619" stop-color="#4fffb1"/><stop offset=".635" stop-color="#89ff77"/><stop offset=".651" stop-color="#45ffbb"/><stop offset=".683" stop-color="#7fff81"/><stop offset=".698" stop-color="#5bffa5"/><stop offset=".714" stop-color="#87ff79"/><stop offset=".746" stop-color="#8aff76"/><stop offset=".762" stop-color="#38ffc7"/><stop offset=".778" stop-color="#49ffb7"/><stop offset=".794" stop-color="#8dff73"/><stop offset=".81" stop-color="#8cff74"/><stop offset=".825" stop-color="#51ffae"/><stop offset=".841" stop-color="#5affa5"/><stop offset=".857" stop-color="#8dff73"/><stop offset=".889" stop-color="#83ff7d"/><stop offset=".905" stop-color="#5bffa5"/><stop offset=".921" stop-color="#85ff7b"/><stop offset=".937" stop-color="#8fff71"/><stop offset="1" stop-color="#8fff71"/></linearGradient><linearGradient id="lg312" x1="0" y1="0" x2="1" y2="0"><stop offset="0" stop-color="#ff2300"/><stop offset=".032" stop-color="#f20000"/><stop offset=".048" stop-color="#d10000"/><stop offset=".095" stop-color="#e10000"/><stop offset=".143" stop-color="#820000"/><stop offset=".19" stop-color="#cb0000"/><stop offset=".238" stop-color="#bd0000"/><stop offset=".27" stop-color="#ff0e00"/><stop offset=".286" stop-color="#ff1900"/><stop offset=".333" stop-color="#f20000"/><stop offset=".365" stop-color="#ff2b00"/><stop offset=".381" stop-color="#ff2500"/><stop offset=".397" stop-color="#8fff71"/><stop offset=".587" stop-color="#88ff78"/><stop offset=".603" stop-color="#1fffe0"/><stop offset=".619" stop-color="#41ffbe"/><stop offset=".635" stop-color="#87ff79"/><stop offset=".651" stop-color="#35ffca"/><stop offset=".683" stop-color="#7bff85"/><stop offset=".698" stop-color="#50ffaf"/><stop offset=".714" stop-color="#85ff7b"/><stop offset=".746" stop-color="#89ff77"/><stop offset=".762" stop-color="#26ffd9"/><stop offset=".778" stop-color="#3affc5"/><stop offset=".794" stop-color="#8cff74"/><stop offset=".81" stop-color="#8bff75"/><stop offset=".825" stop-color="#45ffbb"/><stop offset=".841" stop-color="#4fffb0"/><stop offset=".857" stop-color="#8dff73"/><stop offset=".889" stop-color="#81ff7f"/><stop offset=".905" stop-color="#50ffb0"/><stop offset=".921" stop-color="#83ff7d"/><stop offset=".937" stop-color="#8fff71"/><stop offset="1" stop-color="#8fff71"/></linearGradient><linearGradient id="lg313" x1="0" y1="0" x2="1" y2="0"><stop offset="0" stop-color="#ff2300"/><stop offset=".032" stop-color="#f00000"/><stop offset=".048" stop-color="#ce0000"/><stop offset=".095" stop-color="#db0000"/><stop offset=".127" stop-color="#900000"/><stop offset=".143" stop-color="#800000"/><stop offset=".19" stop-color="#c30000"/><stop offset=".238" stop-color="#b90000"/><stop offset=".27" stop-color="#ff0c00"/><stop offset=".286" stop-color="#ff1800"/><stop offset=".333" stop-color="#f20000"/><stop offset=".365" stop-color="#ff2b00"/><stop offset=".397" stop-color="#ff0700"/><stop offset=".413" stop-color="#8fff71"/><stop offset=".587" stop-color="#87ff79"/><stop offset=".603" stop-color="#0cfff3"/><stop offset=".619" stop-color="#34ffcb"/><stop offset=".635" stop-color="#86ff7a"/><stop offset=".651" stop-color="#26ffd9"/><stop offset=".683" stop-color="#78ff88"/><stop offset=".698" stop-color="#46ffba"/><stop offset=".714" stop-color="#84ff7c"/><stop offset=".746" stop-color="#88ff78"/><stop offset=".762" stop-color="#14ffeb"/><stop offset=".778" stop-color="#2cffd3"/><stop offset=".794" stop-color="#8cff74"/><stop offset=".81" stop-color="#8bff75"/><stop offset=".825" stop-color="#38ffc7"/><stop offset=".841" stop-color="#45ffbb"/><stop offset=".857" stop-color="#8cff74"/><stop offset=".889" stop-color="#7eff82"/><stop offset=".905" stop-color="#45ffbb"/><stop offset=".921" stop-color="#81ff7f"/><stop offset=".937" stop-color="#8fff71"/><stop offset="1" stop-color="#8fff71"/></linearGradient><linearGradient id="lg314" x1="0" y1="0" x2="1" y2="0"><stop offset="0" stop-color="#ff2300"/><stop offset=".032" stop-color="#f00000"/><stop offset=".048" stop-color="#ce0000"/><stop offset=".095" stop-color="#db0000"/><stop offset=".127" stop-color="#900000"/><stop offset=".143" stop-color="#800000"/><stop offset=".19" stop-color="#c30000"/><stop offset=".238" stop-color="#b90000"/><stop offset=".27" stop-color="#ff0c00"/><stop offset=".286" stop-color="#ff1800"/><stop offset=".333" stop-color="#f20000"/><stop offset=".365" stop-color="#ff2b00"/><stop offset=".381" stop-color="#ff2500"/><stop offset=".397" stop-color="#8fff71"/><stop offset=".587" stop-color="#86ff7a"/><stop offset=".603" stop-color="#00faff"/><stop offset=".619" stop-color="#28ffd7"/><stop offset=".635" stop-color="#85ff7b"/><stop offset=".651" stop-color="#18ffe7"/><stop offset=".667" stop-color="#38ffc7"/><stop offset=".683" stop-color="#75ff8b"/><stop offset=".698" stop-color="#3cffc4"/><stop offset=".714" stop-color="#82ff7e"/><stop offset=".746" stop-color="#87ff78"/><stop offset=".762" stop-color="#04fffb"/><stop offset=".778" stop-color="#1fffe1"/><stop offset=".794" stop-color="#8bff75"/><stop offset=".81" stop-color="#8aff76"/><stop offset=".825" stop-color="#2cffd3"/><stop offset=".841" stop-color="#3bffc5"/><stop offset=".857" stop-color="#8cff74"/><stop offset=".889" stop-color="#7cff84"/><stop offset=".905" stop-color="#3bffc5"/><stop offset=".921" stop-color="#7fff81"/><stop offset=".937" stop-color="#8fff71"/><stop offset="1" stop-color="#8fff71"/></linearGradient><linearGradient id="lg315" x1="0" y1="0" x2="1" y2="0"><stop offset="0" stop-color="#ff2300"/><stop offset=".032" stop-color="#f20000"/><stop offset=".048" stop-color="#d10000"/><stop offset=".095" stop-color="#e10000"/><stop offset=".143" stop-color="#820000"/><stop offset=".19" stop-color="#cb0000"/><stop offset=".238" stop-color="#bd0000"/><stop offset=".27" stop-color="#ff0e00"/><stop offset=".286" stop-color="#ff1900"/><stop offset=".333" stop-color="#f20000"/><stop offset=".365" stop-color="#ff2b00"/><stop offset=".381" stop-color="#ff2500"/><stop offset=".397" stop-color="#8fff71"/><stop offset=".587" stop-color="#85ff7b"/><stop offset=".603" stop-color="#00ecff"/><stop offset=".619" stop-color="#1effe1"/><stop offset=".635" stop-color="#84ff7c"/><stop offset=".651" stop-color="#0cfff3"/><stop offset=".667" stop-color="#30ffd0"/><stop offset=".683" stop-color="#72ff8e"/><stop offset=".698" stop-color="#34ffcc"/><stop offset=".714" stop-color="#81ff7f"/><stop offset=".746" stop-color="#87ff79"/><stop offset=".762" stop-color="#00f5ff"/><stop offset=".778" stop-color="#14ffec"/><stop offset=".794" stop-color="#8bff75"/><stop offset=".81" stop-color="#8aff76"/><stop offset=".825" stop-color="#23ffdd"/><stop offset=".841" stop-color="#32ffcd"/><stop offset=".857" stop-color="#8cff74"/><stop offset=".889" stop-color="#7aff86"/><stop offset=".905" stop-color="#33ffcd"/><stop offset=".921" stop-color="#7dff83"/><stop offset=".937" stop-color="#8fff71"/><stop offset="1" stop-color="#8fff71"/></linearGradient><linearGradient id="lg316" x1="0" y1="0" x2="1" y2="0"><stop offset="0" stop-color="#ff2500"/><stop offset=".032" stop-color="#f50000"/><stop offset=".048" stop-color="#d60000"/><stop offset=".095" stop-color="#ec0000"/><stop offset=".143" stop-color="#920000"/><stop offset=".19" stop-color="#da0000"/><stop offset=".238" stop-color="#c50000"/><stop offset=".27" stop-color="#ff1200"/><stop offset=".286" stop-color="#ff1c00"/><stop offset=".333" stop-color="#f20000"/><stop offset=".365" stop-color="#ff2b00"/><stop offset=".381" stop-color="#ff2500"/><stop offset=".397" stop-color="#8fff71"/><stop offset=".571" stop-color="#8fff71"/><stop offset=".587" stop-color="#84ff7c"/><stop offset=".603" stop-color="#00e1ff"/><stop offset=".619" stop-color="#17ffe8"/><stop offset=".635" stop-color="#83ff7d"/><stop offset=".651" stop-color="#04fffb"/><stop offset=".667" stop-color="#2affd6"/><stop offset=".683" stop-color="#71ff8f"/><stop offset=".698" stop-color="#2effd2"/><stop offset=".714" stop-color="#80ff80"/><stop offset=".746" stop-color="#86ff7a"/><stop offset=".762" stop-color="#00ebff"/><stop offset=".778" stop-color="#0cfff3"/><stop offset=".794" stop-color="#8aff75"/><stop offset=".81" stop-color="#89ff77"/><stop offset=".825" stop-color="#1cffe4"/><stop offset=".841" stop-color="#2cffd3"/><stop offset=".857" stop-color="#8bff74"/><stop offset=".889" stop-color="#78ff88"/><stop offset=".905" stop-color="#2dffd3"/><stop offset=".921" stop-color="#7cff84"/><stop offset=".937" stop-color="#8fff71"/><stop offset="1" stop-color="#8fff71"/></linearGradient><linearGradient id="lg317" x1="0" y1="0" x2="1" y2="0"><stop offset="0" stop-color="#ff2600"/><stop offset=".032" stop-color="#f90000"/><stop offset=".048" stop-color="#db0000"/><stop offset=".095" stop-color="#fa0000"/><stop offset=".143" stop-color="#a60000"/><stop offset=".19" stop-color="#eb0000"/><stop offset=".222" stop-color="#cb0000"/><stop offset=".238" stop-color="#ce0000"/><stop offset=".254" stop-color="#f00000"/><stop offset=".27" stop-color="#ff1600"/><stop offset=".286" stop-color="#ff1f00"/><stop offset=".333" stop-color="#f30000"/><stop offset=".365" stop-color="#ff2c00"/><stop offset=".381" stop-color="#8fff71"/><stop offset=".571" stop-color="#8fff71"/><stop offset=".587" stop-color="#84ff7c"/><stop offset=".603" stop-color="#00dcff"/><stop offset=".619" stop-color="#13ffec"/><stop offset=".635" stop-color="#82ff7e"/><stop offset=".651" stop-color="#00ffff"/><stop offset=".667" stop-color="#26ffd9"/><stop offset=".683" stop-color="#70ff90"/><stop offset=".698" stop-color="#2bffd5"/><stop offset=".714" stop-color="#7fff81"/><stop offset=".746" stop-color="#86ff7a"/><stop offset=".762" stop-color="#00e6ff"/><stop offset=".778" stop-color="#07fff8"/><stop offset=".794" stop-color="#8aff76"/><stop offset=".81" stop-color="#89ff77"/><stop offset=".825" stop-color="#18ffe7"/><stop offset=".841" stop-color="#29ffd6"/><stop offset=".857" stop-color="#8bff75"/><stop offset=".889" stop-color="#78ff88"/><stop offset=".905" stop-color="#29ffd6"/><stop offset=".921" stop-color="#7cff84"/><stop offset=".937" stop-color="#8fff71"/><stop offset="1" stop-color="#8fff71"/></linearGradient><linearGradient id="lg318" x1="0" y1="0" x2="1" y2="0"><stop offset="0" stop-color="#ff2800"/><stop offset=".032" stop-color="#fd0000"/><stop offset=".048" stop-color="#e10000"/><stop offset=".095" stop-color="#ff0900"/><stop offset=".143" stop-color="#ba0000"/><stop offset=".19" stop-color="#fd0000"/><stop offset=".222" stop-color="#d70000"/><stop offset=".238" stop-color="#d80000"/><stop offset=".254" stop-color="#f70000"/><stop offset=".286" stop-color="#ff2200"/><stop offset=".333" stop-color="#f40000"/><stop offset=".365" stop-color="#ff2c00"/><stop offset=".381" stop-color="#8fff71"/><stop offset=".571" stop-color="#8fff71"/><stop offset=".587" stop-color="#84ff7c"/><stop offset=".603" stop-color="#00dcff"/><stop offset=".619" stop-color="#13ffec"/><stop offset=".635" stop-color="#82ff7e"/><stop offset=".651" stop-color="#00ffff"/><stop offset=".667" stop-color="#26ffd9"/><stop offset=".683" stop-color="#70ff90"/><stop offset=".698" stop-color="#2bffd5"/><stop offset=".714" stop-color="#7fff81"/><stop offset=".746" stop-color="#86ff7a"/><stop offset=".762" stop-color="#00e6ff"/><stop offset=".778" stop-color="#07fff8"/><stop offset=".794" stop-color="#8aff76"/><stop offset=".81" stop-color="#89ff77"/><stop offset=".825" stop-color="#18ffe7"/><stop offset=".841" stop-color="#29ffd6"/><stop offset=".857" stop-color="#8bff75"/><stop offset=".889" stop-color="#78ff88"/><stop offset=".905" stop-color="#29ffd6"/><stop offset=".921" stop-color="#7cff84"/><stop offset=".937" stop-color="#8fff71"/><stop offset="1" stop-color="#8fff71"/></linearGradient><linearGradient id="lg319" x1="0" y1="0" x2="1" y2="0"><stop offset="0" stop-color="#ff3400"/><stop offset=".048" stop-color="#f10000"/><stop offset=".095" stop-color="#ff2000"/><stop offset=".143" stop-color="#d70000"/><stop offset=".175" stop-color="#ff0a00"/><stop offset=".19" stop-color="#ff1900"/><stop offset=".238" stop-color="#ec0000"/><stop offset=".286" stop-color="#ff3000"/><stop offset=".317" stop-color="#fc0000"/><stop offset=".333" stop-color="#ff0000"/><stop offset=".365" stop-color="#ff3700"/><stop offset=".381" stop-color="#8fff71"/><stop offset=".571" stop-color="#8fff71"/><stop offset=".587" stop-color="#84ff7c"/><stop offset=".603" stop-color="#00e1ff"/><stop offset=".619" stop-color="#17ffe8"/><stop offset=".635" stop-color="#83ff7d"/><stop offset=".651" stop-color="#04fffb"/><stop offset=".667" stop-color="#2affd6"/><stop offset=".683" stop-color="#71ff8f"/><stop offset=".698" stop-color="#2effd2"/><stop offset=".714" stop-color="#80ff80"/><stop offset=".746" stop-color="#86ff7a"/><stop offset=".762" stop-color="#00ebff"/><stop offset=".778" stop-color="#0cfff3"/><stop offset=".794" stop-color="#8aff75"/><stop offset=".81" stop-color="#89ff77"/><stop offset=".825" stop-color="#1cffe4"/><stop offset=".841" stop-color="#2cffd3"/><stop offset=".857" stop-color="#8bff74"/><stop offset=".889" stop-color="#78ff88"/><stop offset=".905" stop-color="#2dffd3"/><stop offset=".921" stop-color="#7cff84"/><stop offset=".937" stop-color="#8fff71"/><stop offset="1" stop-color="#8fff71"/></linearGradient><linearGradient id="lg320" x1="0" y1="0" x2="1" y2="0"><stop offset="0" stop-color="#ff4c00"/><stop offset=".016" stop-color="#ff4500"/><stop offset=".048" stop-color="#ff0d00"/><stop offset=".095" stop-color="#ff4000"/><stop offset=".143" stop-color="#fb0000"/><stop offset=".19" stop-color="#ff3b00"/><stop offset=".238" stop-color="#ff0900"/><stop offset=".27" stop-color="#ff4400"/><stop offset=".286" stop-color="#ff4900"/><stop offset=".317" stop-color="#ff1500"/><stop offset=".333" stop-color="#ff1700"/><stop offset=".365" stop-color="#ff4e00"/><stop offset=".381" stop-color="#8fff71"/><stop offset=".571" stop-color="#8fff71"/><stop offset=".587" stop-color="#85ff7b"/><stop offset=".603" stop-color="#00ecff"/><stop offset=".619" stop-color="#1effe1"/><stop offset=".635" stop-color="#84ff7c"/><stop offset=".651" stop-color="#0cfff3"/><stop offset=".667" stop-color="#30ffd0"/><stop offset=".683" stop-color="#72ff8e"/><stop offset=".698" stop-color="#34ffcc"/><stop offset=".714" stop-color="#81ff7f"/><stop offset=".746" stop-color="#87ff79"/><stop offset=".762" stop-color="#00f5ff"/><stop offset=".778" stop-color="#14ffec"/><stop offset=".794" stop-color="#8bff75"/><stop offset=".81" stop-color="#8aff76"/><stop offset=".825" stop-color="#23ffdd"/><stop offset=".841" stop-color="#32ffcd"/><stop offset=".857" stop-color="#8cff74"/><stop offset=".889" stop-color="#7aff86"/><stop offset=".905" stop-color="#33ffcd"/><stop offset=".921" stop-color="#7dff83"/><stop offset=".937" stop-color="#8fff71"/><stop offset="1" stop-color="#8fff71"/></linearGradient><linearGradient id="lg321" x1="0" y1="0" x2="1" y2="0"><stop offset="0" stop-color="#ff6300"/><stop offset=".016" stop-color="#ff5d00"/><stop offset=".048" stop-color="#ff2600"/><stop offset=".095" stop-color="#ff5d00"/><stop offset=".143" stop-color="#ff1c00"/><stop offset=".19" stop-color="#ff5a00"/><stop offset=".238" stop-color="#ff2400"/><stop offset=".27" stop-color="#ff5d00"/><stop offset=".286" stop-color="#ff6100"/><stop offset=".317" stop-color="#ff2c00"/><stop offset=".333" stop-color="#ff2e00"/><stop offset=".365" stop-color="#ff6400"/><stop offset=".381" stop-color="#8fff71"/><stop offset=".587" stop-color="#86ff7a"/><stop offset=".603" stop-color="#00faff"/><stop offset=".619" stop-color="#28ffd7"/><stop offset=".635" stop-color="#85ff7b"/><stop offset=".651" stop-color="#18ffe7"/><stop offset=".667" stop-color="#38ffc7"/><stop offset=".683" stop-color="#75ff8b"/><stop offset=".698" stop-color="#3cffc4"/><stop offset=".714" stop-color="#82ff7e"/><stop offset=".746" stop-color="#87ff78"/><stop offset=".762" stop-color="#04fffb"/><stop offset=".778" stop-color="#1fffe1"/><stop offset=".794" stop-color="#8bff75"/><stop offset=".81" stop-color="#8aff76"/><stop offset=".825" stop-color="#2cffd3"/><stop offset=".841" stop-color="#3bffc5"/><stop offset=".857" stop-color="#8cff74"/><stop offset=".889" stop-color="#7cff84"/><stop offset=".905" stop-color="#3bffc5"/><stop offset=".921" stop-color="#7fff81"/><stop offset=".937" stop-color="#8fff71"/><stop offset="1" stop-color="#8fff71"/></linearGradient><linearGradient id="lg322" x1="0" y1="0" x2="1" y2="0"><stop offset="0" stop-color="#ff7a00"/><stop offset=".016" stop-color="#ff7400"/><stop offset=".048" stop-color="#ff3e00"/><stop offset=".095" stop-color="#ff7800"/><stop offset=".143" stop-color="#ff3900"/><stop offset=".19" stop-color="#ff7600"/><stop offset=".238" stop-color="#ff3e00"/><stop offset=".27" stop-color="#ff7500"/><stop offset=".286" stop-color="#ff7800"/><stop offset=".317" stop-color="#ff4200"/><stop offset=".333" stop-color="#ff4500"/><stop offset=".365" stop-color="#ff7b00"/><stop offset=".381" stop-color="#8fff71"/><stop offset=".587" stop-color="#87ff79"/><stop offset=".603" stop-color="#0cfff3"/><stop offset=".619" stop-color="#34ffcb"/><stop offset=".635" stop-color="#86ff7a"/><stop offset=".651" stop-color="#26ffd9"/><stop offset=".683" stop-color="#78ff88"/><stop offset=".698" stop-color="#46ffba"/><stop offset=".714" stop-color="#84ff7c"/><stop offset=".746" stop-color="#88ff78"/><stop offset=".762" stop-color="#14ffeb"/><stop offset=".778" stop-color="#2cffd3"/><stop offset=".794" stop-color="#8cff74"/><stop offset=".81" stop-color="#8bff75"/><stop offset=".825" stop-color="#38ffc7"/><stop offset=".841" stop-color="#45ffbb"/><stop offset=".857" stop-color="#8cff74"/><stop offset=".889" stop-color="#7eff82"/><stop offset=".905" stop-color="#45ffbb"/><stop offset=".921" stop-color="#81ff7f"/><stop offset=".937" stop-color="#8fff71"/><stop offset="1" stop-color="#8fff71"/></linearGradient><linearGradient id="lg323" x1="0" y1="0" x2="1" y2="0"><stop offset="0" stop-color="#ff9000"/><stop offset=".016" stop-color="#ff8b00"/><stop offset=".048" stop-color="#ff5600"/><stop offset=".095" stop-color="#ff9000"/><stop offset=".143" stop-color="#ff5200"/><stop offset=".19" stop-color="#ff8f00"/><stop offset=".238" stop-color="#ff5600"/><stop offset=".27" stop-color="#ff8c00"/><stop offset=".286" stop-color="#ff8f00"/><stop offset=".317" stop-color="#ff5900"/><stop offset=".333" stop-color="#ff5b00"/><stop offset=".365" stop-color="#ff9100"/><stop offset=".381" stop-color="#8fff71"/><stop offset=".587" stop-color="#88ff78"/><stop offset=".603" stop-color="#1fffe0"/><stop offset=".619" stop-color="#41ffbe"/><stop offset=".635" stop-color="#87ff79"/><stop offset=".651" stop-color="#35ffca"/><stop offset=".683" stop-color="#7bff85"/><stop offset=".698" stop-color="#50ffaf"/><stop offset=".714" stop-color="#85ff7b"/><stop offset=".746" stop-color="#89ff77"/><stop offset=".762" stop-color="#26ffd9"/><stop offset=".778" stop-color="#3affc5"/><stop offset=".794" stop-color="#8cff74"/><stop offset=".81" stop-color="#8bff75"/><stop offset=".825" stop-color="#45ffbb"/><stop offset=".841" stop-color="#4fffb0"/><stop offset=".857" stop-color="#8dff73"/><stop offset=".889" stop-color="#81ff7f"/><stop offset=".905" stop-color="#50ffb0"/><stop offset=".921" stop-color="#83ff7d"/><stop offset=".937" stop-color="#8fff71"/><stop offset="1" stop-color="#8fff71"/></linearGradient><linearGradient id="lg324" x1="0" y1="0" x2="1" y2="0"><stop offset="0" stop-color="#ffa700"/><stop offset=".016" stop-color="#ffa200"/><stop offset=".048" stop-color="#ff6d00"/><stop offset=".095" stop-color="#ffa800"/><stop offset=".143" stop-color="#ff6b00"/><stop offset=".19" stop-color="#ffa800"/><stop offset=".238" stop-color="#ff6d00"/><stop offset=".27" stop-color="#ffa300"/><stop offset=".286" stop-color="#ffa600"/><stop offset=".317" stop-color="#ff7000"/><stop offset=".333" stop-color="#ff7200"/><stop offset=".365" stop-color="#ffa800"/><stop offset=".381" stop-color="#8fff71"/><stop offset=".587" stop-color="#89ff77"/><stop offset=".603" stop-color="#33ffcd"/><stop offset=".619" stop-color="#4fffb1"/><stop offset=".635" stop-color="#89ff77"/><stop offset=".651" stop-color="#45ffbb"/><stop offset=".683" stop-color="#7fff81"/><stop offset=".698" stop-color="#5bffa5"/><stop offset=".714" stop-color="#87ff79"/><stop offset=".746" stop-color="#8aff76"/><stop offset=".762" stop-color="#38ffc7"/><stop offset=".778" stop-color="#49ffb7"/><stop offset=".794" stop-color="#8dff73"/><stop offset=".81" stop-color="#8cff74"/><stop offset=".825" stop-color="#51ffae"/><stop offset=".841" stop-color="#5affa5"/><stop offset=".857" stop-color="#8dff73"/><stop offset=".889" stop-color="#83ff7d"/><stop offset=".905" stop-color="#5bffa5"/><stop offset=".921" stop-color="#85ff7b"/><stop offset=".937" stop-color="#8fff71"/><stop offset="1" stop-color="#8fff71"/></linearGradient><linearGradient id="lg325" x1="0" y1="0" x2="1" y2="0"><stop offset="0" stop-color="#ffbd00"/><stop offset=".016" stop-color="#ffb800"/><stop offset=".048" stop-color="#ff8300"/><stop offset=".095" stop-color="#ffbf00"/><stop offset=".143" stop-color="#ff8200"/><stop offset=".19" stop-color="#ffbf00"/><stop offset=".238" stop-color="#ff8400"/><stop offset=".27" stop-color="#ffba00"/><stop offset=".286" stop-color="#ffbc00"/><stop offset=".317" stop-color="#ff8600"/><stop offset=".333" stop-color="#ff8800"/><stop offset=".365" stop-color="#ffbe00"/><stop offset=".381" stop-color="#8fff71"/><stop offset=".587" stop-color="#8aff75"/><stop offset=".603" stop-color="#45ffbb"/><stop offset=".635" stop-color="#8aff76"/><stop offset=".651" stop-color="#53ffac"/><stop offset=".683" stop-color="#82ff7e"/><stop offset=".698" stop-color="#65ff9a"/><stop offset=".714" stop-color="#89ff77"/><stop offset=".746" stop-color="#8bff75"/><stop offset=".762" stop-color="#49ffb6"/><stop offset=".778" stop-color="#57ffa9"/><stop offset=".794" stop-color="#8dff73"/><stop offset=".81" stop-color="#8dff73"/><stop offset=".825" stop-color="#5effa2"/><stop offset=".841" stop-color="#65ff9b"/><stop offset=".857" stop-color="#8eff72"/><stop offset=".889" stop-color="#85ff7b"/><stop offset=".905" stop-color="#65ff9b"/><stop offset=".937" stop-color="#8fff71"/><stop offset="1" stop-color="#8fff71"/></linearGradient><linearGradient id="lg326" x1="0" y1="0" x2="1" y2="0"><stop offset="0" stop-color="#8fff71"/><stop offset=".571" stop-color="#8fff71"/><stop offset=".587" stop-color="#8bff75"/><stop offset=".603" stop-color="#52ffad"/><stop offset=".635" stop-color="#8bff75"/><stop offset=".651" stop-color="#5effa2"/><stop offset=".683" stop-color="#84ff7c"/><stop offset=".698" stop-color="#6dff93"/><stop offset=".714" stop-color="#8aff76"/><stop offset=".746" stop-color="#8cff74"/><stop offset=".762" stop-color="#56ffaa"/><stop offset=".778" stop-color="#61ff9f"/><stop offset=".794" stop-color="#8eff72"/><stop offset=".81" stop-color="#8dff73"/><stop offset=".825" stop-color="#67ff99"/><stop offset=".857" stop-color="#8eff72"/><stop offset=".889" stop-color="#87ff79"/><stop offset=".905" stop-color="#6dff93"/><stop offset=".937" stop-color="#8fff71"/><stop offset="1" stop-color="#8fff71"/></linearGradient><linearGradient id="lg327" x1="0" y1="0" x2="0" y2="1"><stop offset="0" stop-color="#800000"/><stop offset=".05" stop-color="#b30000"/><stop offset=".1" stop-color="#e60000"/><stop offset=".15" stop-color="#ff1a00"/><stop offset=".2" stop-color="#ff4c00"/><stop offset=".25" stop-color="#ff8000"/><stop offset=".3" stop-color="#ffb300"/><stop offset=".35" stop-color="#ffe500"/><stop offset=".4" stop-color="#e6ff1a"/><stop offset=".45" stop-color="#b3ff4d"/><stop offset=".5" stop-color="#80ff80"/><stop offset=".55" stop-color="#4dffb3"/><stop offset=".6" stop-color="#1affe6"/><stop offset=".65" stop-color="#00e5ff"/><stop offset=".7" stop-color="#00b3ff"/><stop offset=".75" stop-color="#0080ff"/><stop offset=".8" stop-color="#004cff"/><stop offset=".85" stop-color="#001aff"/><stop offset=".9" stop-color="#0000e6"/><stop offset=".95" stop-color="#0000b3"/><stop offset="1" stop-color="#000080"/></linearGradient></defs><text x="-0.6" y="45.21" font-size="12.6" fill="#111" font-weight="bold" stroke="#111" stroke-width="0.34">A</text><text x="185.2" y="10.81" font-size="12.6" fill="#111" font-weight="bold" stroke="#111" stroke-width="0.34">B</text><text x="184.9" y="72.41" font-size="12.6" fill="#111" font-weight="bold" stroke="#111" stroke-width="0.34">C</text><text x="184.4" y="167.81" font-size="12.6" fill="#111" font-weight="bold" stroke="#111" stroke-width="0.34">D</text><text x="185.9" y="230.91" font-size="12.6" fill="#111" font-weight="bold" stroke="#111" stroke-width="0.34">E</text><text x="601.7" y="41.21" font-size="12.6" fill="#111" font-weight="bold" stroke="#111" stroke-width="0.34">F</text><text x="62.9" y="46.81" font-size="6.6" fill="#2e8ad8" textLength="61" lengthAdjust="spacingAndGlyphs" stroke="#2e8ad8" stroke-width="0.08">Prior Reward (PR) trial</text><rect x="32.3" y="50.4" width="41" height="14.8" fill="#c6daf6" stroke="#6a9fe0" stroke-width="0.8"/><rect x="73.3" y="50.4" width="30.1" height="14.8" fill="#c9c9c9" stroke="#3a3a3a" stroke-width="0.9"/><rect x="103.4" y="50.4" width="57.6" height="14.8" fill="#ffffff" stroke="#3a3a3a" stroke-width="0.9"/><text x="36.6" y="57.09" font-size="5.4" fill="#5a5a5a" textLength="12" lengthAdjust="spacingAndGlyphs" stroke="#5a5a5a" stroke-width="0.07">Prior</text><text x="36.6" y="62.59" font-size="5.4" fill="#5a5a5a" textLength="10.5" lengthAdjust="spacingAndGlyphs" stroke="#5a5a5a" stroke-width="0.07">Trial</text><text x="88.35" y="57.21" font-size="4.6" fill="#222" text-anchor="middle" textLength="19" lengthAdjust="spacingAndGlyphs" stroke="#222" stroke-width="0.07">Inter Trial</text><text x="88.35" y="61.91" font-size="4.6" fill="#222" text-anchor="middle" textLength="15" lengthAdjust="spacingAndGlyphs" stroke="#222" stroke-width="0.07">Interval</text><text x="132.3" y="60.2" font-size="6" fill="#555" text-anchor="middle" textLength="29.5" lengthAdjust="spacingAndGlyphs" stroke="#555" stroke-width="0.07">Current Trial</text><path d="M59.4,51.21 Q59.97,53.11 61.3,55.2 A1.9,1.9 0 1 1 57.5,55.2 Q58.83,53.11 59.4,51.21 Z" fill="#1ea0e6"/><path d="M57,56.81 Q57.57,58.71 58.9,60.8 A1.9,1.9 0 1 1 55.1,60.8 Q56.43,58.71 57,56.81 Z" fill="#1ea0e6"/><path d="M61.8,56.81 Q62.37,58.71 63.7,60.8 A1.9,1.9 0 1 1 59.9,60.8 Q61.23,58.71 61.8,56.81 Z" fill="#1ea0e6"/><line x1="59.4" y1="56.8" x2="57.3" y2="58.9" stroke="#1ea0e6" stroke-width="0.6"/><line x1="59.4" y1="56.8" x2="61.5" y2="58.9" stroke="#1ea0e6" stroke-width="0.6"/><text x="56.7" y="180.31" font-size="6.6" fill="#e8404a" textLength="75" lengthAdjust="spacingAndGlyphs" stroke="#e8404a" stroke-width="0.08">Prior No Reward (PNR) trial</text><rect x="32.3" y="184.8" width="41" height="14.8" fill="#f4c6cc" stroke="#e0707c" stroke-width="0.8"/><rect x="73.3" y="184.8" width="30.1" height="14.8" fill="#c9c9c9" stroke="#3a3a3a" stroke-width="0.9"/><rect x="103.4" y="184.8" width="57.6" height="14.8" fill="#ffffff" stroke="#3a3a3a" stroke-width="0.9"/><text x="36.6" y="191.49" font-size="5.4" fill="#5a5a5a" textLength="12" lengthAdjust="spacingAndGlyphs" stroke="#5a5a5a" stroke-width="0.07">Prior</text><text x="36.6" y="196.99" font-size="5.4" fill="#5a5a5a" textLength="10.5" lengthAdjust="spacingAndGlyphs" stroke="#5a5a5a" stroke-width="0.07">Trial</text><text x="88.35" y="191.61" font-size="4.6" fill="#222" text-anchor="middle" textLength="19" lengthAdjust="spacingAndGlyphs" stroke="#222" stroke-width="0.07">Inter Trial</text><text x="88.35" y="196.31" font-size="4.6" fill="#222" text-anchor="middle" textLength="15" lengthAdjust="spacingAndGlyphs" stroke="#222" stroke-width="0.07">Interval</text><text x="132.3" y="194.6" font-size="6" fill="#555" text-anchor="middle" textLength="29.5" lengthAdjust="spacingAndGlyphs" stroke="#555" stroke-width="0.07">Current Trial</text><circle cx="59.8" cy="192.2" r="4.6" fill="none" stroke="#e0303c" stroke-width="1.3"/><circle cx="59.8" cy="192.2" r="2.7" fill="none" stroke="#e0303c" stroke-width="0.8"/><line x1="57" y1="189.4" x2="62.6" y2="195" stroke="#e0303c" stroke-width="1"/><line x1="23.5" y1="111.4" x2="75.3" y2="111.4" stroke="#d6d6d6" stroke-width="0.45"/><line x1="26.97" y1="98.45" x2="71.83" y2="124.35" stroke="#d6d6d6" stroke-width="0.45"/><line x1="36.45" y1="88.97" x2="62.35" y2="133.83" stroke="#d6d6d6" stroke-width="0.45"/><line x1="49.4" y1="85.5" x2="49.4" y2="137.3" stroke="#d6d6d6" stroke-width="0.45"/><line x1="62.35" y1="88.97" x2="36.45" y2="133.83" stroke="#d6d6d6" stroke-width="0.45"/><line x1="71.83" y1="98.45" x2="26.97" y2="124.35" stroke="#d6d6d6" stroke-width="0.45"/><circle cx="49.4" cy="111.4" r="25.9" fill="none" stroke="#1a6ec4" stroke-width="1.8"/><text x="49.4" y="83.89" font-size="5.4" fill="#111" text-anchor="middle" stroke="#111" stroke-width="0.07">90</text><text x="49.4" y="143.99" font-size="5.4" fill="#111" text-anchor="middle" stroke="#111" stroke-width="0.07">270</text><text x="21.3" y="113.29" font-size="5.4" fill="#111" text-anchor="end" stroke="#111" stroke-width="0.07">180</text><text x="77.5" y="113.29" font-size="5.4" fill="#111" stroke="#111" stroke-width="0.07">0</text><path d="M32.2,113.6 34,111.2 36.5,110.6 37.5,108.6 40,108.3 41,106.6 43.4,107.4 45.2,106.8 46.6,108.6 48.4,109 50.5,107.8 52.4,107 53.8,108.4 52,110 53.6,111.6 51,112.2 49.6,113.8 47.2,113.4 45.8,115.4 43.6,114.8 42,117.6 39.6,116 38,118.6 36.4,116.4 33.6,116.2Z" fill="#34e0b4"/><line x1="33" y1="113" x2="49" y2="111" stroke="#34e0b4" stroke-width="1"/><line x1="35" y1="115.5" x2="49" y2="112" stroke="#34e0b4" stroke-width="1"/><line x1="37" y1="109.5" x2="48" y2="111" stroke="#34e0b4" stroke-width="1"/><line x1="41" y1="107.5" x2="49" y2="110.5" stroke="#34e0b4" stroke-width="1"/><line x1="44" y1="116.5" x2="50" y2="112" stroke="#34e0b4" stroke-width="1"/><line x1="52" y1="108" x2="48" y2="111" stroke="#34e0b4" stroke-width="1"/><line x1="38" y1="118" x2="48" y2="113" stroke="#34e0b4" stroke-width="1"/><line x1="21.1" y1="244.7" x2="73.1" y2="244.7" stroke="#d6d6d6" stroke-width="0.45"/><line x1="24.58" y1="231.7" x2="69.62" y2="257.7" stroke="#d6d6d6" stroke-width="0.45"/><line x1="34.1" y1="222.18" x2="60.1" y2="267.22" stroke="#d6d6d6" stroke-width="0.45"/><line x1="47.1" y1="218.7" x2="47.1" y2="270.7" stroke="#d6d6d6" stroke-width="0.45"/><line x1="60.1" y1="222.18" x2="34.1" y2="267.22" stroke="#d6d6d6" stroke-width="0.45"/><line x1="69.62" y1="231.7" x2="24.58" y2="257.7" stroke="#d6d6d6" stroke-width="0.45"/><circle cx="47.1" cy="244.7" r="26" fill="none" stroke="#e01018" stroke-width="1.8"/><text x="47.1" y="217.09" font-size="5.4" fill="#111" text-anchor="middle" stroke="#111" stroke-width="0.07">90</text><text x="47.1" y="277.39" font-size="5.4" fill="#111" text-anchor="middle" stroke="#111" stroke-width="0.07">270</text><text x="18.9" y="246.59" font-size="5.4" fill="#111" text-anchor="end" stroke="#111" stroke-width="0.07">180</text><text x="75.3" y="246.59" font-size="5.4" fill="#111" stroke="#111" stroke-width="0.07">0</text><line x1="47.1" y1="244.7" x2="43.85" y2="224.16" stroke="#34e0b4" stroke-width="1.25"/><path d="M43.3,221 42.2,224.4 45.5,223.9Z" fill="#34e0b4"/><line x1="47.1" y1="244.7" x2="46.58" y2="229.91" stroke="#34e0b4" stroke-width="1.25"/><path d="M46.5,226.7 44.9,230 48.3,229.8Z" fill="#34e0b4"/><line x1="47.1" y1="244.7" x2="48.23" y2="233.96" stroke="#34e0b4" stroke-width="1.25"/><path d="M48.6,230.8 46.5,233.8 49.9,234.1Z" fill="#34e0b4"/><line x1="47.1" y1="244.7" x2="49.82" y2="236.33" stroke="#34e0b4" stroke-width="1.25"/><path d="M50.8,233.3 48.2,235.8 51.4,236.9Z" fill="#34e0b4"/><line x1="47.1" y1="244.7" x2="62.02" y2="228.13" stroke="#34e0b4" stroke-width="1.25"/><path d="M64.2,225.7 60.8,227 63.3,229.3Z" fill="#34e0b4"/><line x1="47.1" y1="244.7" x2="52.99" y2="241.3" stroke="#34e0b4" stroke-width="1.25"/><path d="M55.8,239.7 52.1,239.8 53.8,242.8Z" fill="#34e0b4"/><line x1="47.1" y1="244.7" x2="63.89" y2="244.11" stroke="#34e0b4" stroke-width="1.25"/><path d="M67.1,244 63.8,242.4 63.9,245.8Z" fill="#34e0b4"/><line x1="47.1" y1="244.7" x2="57.74" y2="246.58" stroke="#34e0b4" stroke-width="1.25"/><path d="M60.9,247.1 58,244.9 57.4,248.2Z" fill="#34e0b4"/><line x1="47.1" y1="244.7" x2="65.71" y2="251.47" stroke="#34e0b4" stroke-width="1.25"/><path d="M68.7,252.6 66.3,249.9 65.1,253.1Z" fill="#34e0b4"/><line x1="47.1" y1="244.7" x2="66.97" y2="254.82" stroke="#34e0b4" stroke-width="1.25"/><path d="M69.8,256.3 67.7,253.3 66.2,256.3Z" fill="#34e0b4"/><line x1="47.1" y1="244.7" x2="62.5" y2="255.48" stroke="#34e0b4" stroke-width="1.25"/><path d="M65.1,257.3 63.5,254.1 61.5,256.9Z" fill="#34e0b4"/><line x1="47.1" y1="244.7" x2="56.15" y2="253.75" stroke="#34e0b4" stroke-width="1.25"/><path d="M58.4,256 57.4,252.5 54.9,255Z" fill="#34e0b4"/><line x1="47.1" y1="244.7" x2="56.49" y2="258.63" stroke="#34e0b4" stroke-width="1.25"/><path d="M58.3,261.3 57.9,257.7 55.1,259.6Z" fill="#34e0b4"/><line x1="47.1" y1="244.7" x2="51.49" y2="254.57" stroke="#34e0b4" stroke-width="1.25"/><path d="M52.8,257.5 53,253.9 49.9,255.3Z" fill="#34e0b4"/><line x1="47.1" y1="244.7" x2="48.28" y2="251.4" stroke="#34e0b4" stroke-width="1.25"/><path d="M48.8,254.5 50,251.1 46.6,251.7Z" fill="#34e0b4"/><line x1="47.1" y1="244.7" x2="38.99" y2="233.54" stroke="#34e0b4" stroke-width="1.25"/><path d="M37.1,230.9 37.6,234.5 40.4,232.5Z" fill="#34e0b4"/><line x1="47.1" y1="244.7" x2="37.75" y2="239.3" stroke="#34e0b4" stroke-width="1.25"/><path d="M35,237.7 36.9,240.8 38.6,237.8Z" fill="#34e0b4"/><line x1="47.1" y1="244.7" x2="38.43" y2="243.17" stroke="#34e0b4" stroke-width="1.25"/><path d="M35.3,242.6 38.1,244.8 38.7,241.5Z" fill="#34e0b4"/><line x1="47.1" y1="244.7" x2="36.46" y2="246.58" stroke="#34e0b4" stroke-width="1.25"/><path d="M33.3,247.1 36.8,248.2 36.2,244.9Z" fill="#34e0b4"/><line x1="47.1" y1="244.7" x2="42.08" y2="247.6" stroke="#34e0b4" stroke-width="1.25"/><path d="M39.3,249.2 42.9,249.1 41.2,246.1Z" fill="#34e0b4"/><line x1="47.1" y1="244.7" x2="45.2" y2="247.99" stroke="#34e0b4" stroke-width="1.25"/><path d="M43.6,250.8 46.7,248.8 43.7,247.1Z" fill="#34e0b4"/><line x1="47.1" y1="244.7" x2="42.72" y2="232.67" stroke="#34e0b4" stroke-width="1.25"/><path d="M41.6,229.7 41.1,233.3 44.3,232.1Z" fill="#34e0b4"/><line x1="47.1" y1="244.7" x2="42.29" y2="239.89" stroke="#34e0b4" stroke-width="1.25"/><path d="M40,237.6 41.1,241.1 43.5,238.7Z" fill="#34e0b4"/><line x1="47.1" y1="244.7" x2="50" y2="239.68" stroke="#34e0b4" stroke-width="1.25"/><path d="M51.6,236.9 48.5,238.8 51.5,240.5Z" fill="#34e0b4"/><line x1="47.1" y1="244.7" x2="55.6" y2="242.42" stroke="#34e0b4" stroke-width="1.25"/><path d="M58.7,241.6 55.2,240.8 56,244.1Z" fill="#34e0b4"/><line x1="47.1" y1="244.7" x2="46.61" y2="247.46" stroke="#34e0b4" stroke-width="1.25"/><path d="M46.1,250.6 48.3,247.8 44.9,247.2Z" fill="#34e0b4"/><line x1="47.1" y1="244.7" x2="41.65" y2="242.72" stroke="#34e0b4" stroke-width="1.25"/><path d="M38.6,241.6 41.1,244.3 42.2,241.1Z" fill="#34e0b4"/><line x1="47.1" y1="244.7" x2="54.72" y2="249.1" stroke="#34e0b4" stroke-width="1.25"/><path d="M57.5,250.7 55.6,247.6 53.9,250.6Z" fill="#34e0b4"/><path d="M43,243 46,240 50,240.5 52,244 50,248 46,249 43,247Z" fill="#34e0b4"/><rect x="90.2" y="81.7" width="59.8" height="58.9" fill="#2c0000"/><path d="M102.4,81.7 101.9,92 101.4,102 102,112 104.5,122 107.6,132 109.3,140.6 90.2,140.6 90.2,132 90.2,122 90.2,112 90.2,102 90.2,92 90.2,81.7Z" fill="#ffff00" stroke="#000" stroke-width="0.25" stroke-linejoin="round"/><path d="M108.3,81.7 110.3,92 112.3,102 111.3,112 112.3,122 111.3,132 111.8,140.6 109.3,140.6 107.6,132 104.5,122 102,112 101.4,102 101.9,92 102.4,81.7Z" fill="#ffa000" stroke="#000" stroke-width="0.25" stroke-linejoin="round"/><path d="M112.8,81.7 118.7,92 118.4,102 117.7,112 117.7,122 117.7,132 117.7,140.6 111.8,140.6 111.3,132 112.3,122 111.3,112 112.3,102 110.3,92 108.3,81.7Z" fill="#ff6000" stroke="#000" stroke-width="0.25" stroke-linejoin="round"/><path d="M122,81.7 123,92 123.5,102 123.5,112 123,122 122.5,132 122.5,140.6 117.7,140.6 117.7,132 117.7,122 117.7,112 118.4,102 118.7,92 112.8,81.7Z" fill="#ff1800" stroke="#000" stroke-width="0.25" stroke-linejoin="round"/><path d="M126,81.7 127,92 127.5,102 127.5,112 127,122 126.5,132 126.5,140.6 122.5,140.6 122.5,132 123,122 123.5,112 123.5,102 123,92 122,81.7Z" fill="#d80000" stroke="#000" stroke-width="0.25" stroke-linejoin="round"/><path d="M129.5,81.7 130.5,92 131,102 131,112 130.5,122 130,132 130,140.6 126.5,140.6 126.5,132 127,122 127.5,112 127.5,102 127,92 126,81.7Z" fill="#a80000" stroke="#000" stroke-width="0.25" stroke-linejoin="round"/><path d="M133,81.7 134,92 134.5,102 134.5,112 134,122 133.5,132 133.5,140.6 130,140.6 130,132 130.5,122 131,112 131,102 130.5,92 129.5,81.7Z" fill="#780000" stroke="#000" stroke-width="0.25" stroke-linejoin="round"/><path d="M137,81.7 138,92 138,102 138,112 137.5,122 137,132 137,140.6 133.5,140.6 133.5,132 134,122 134.5,112 134.5,102 134,92 133,81.7Z" fill="#4a0000" stroke="#000" stroke-width="0.25" stroke-linejoin="round"/><path d="M139.5,112 150,110 150,140.6 140,140.6 138.6,130 138.8,120Z" fill="#700000" stroke="#000" stroke-width="0.25" stroke-linejoin="round"/><path d="M150,98.2 140,105.9 150,112.6Z" fill="#c8c8c8"/><path d="M144,140.6 150,128 150,140.6Z" fill="#c8c8c8"/><path d="M90.2,131.3 99.9,122.9 106.5,140.6 90.2,140.6Z" fill="#ffff90" stroke="#000" stroke-width="0.25" stroke-linejoin="round"/><path d="M90.2,132.6 98.5,140.6 90.2,140.6Z" fill="#c8c8c8"/><line x1="95.15" y1="86.07" x2="101.44" y2="84.89" stroke="#34e0b4" stroke-width="1.15"/><line x1="95.97" y1="93.82" x2="102.15" y2="92.14" stroke="#34e0b4" stroke-width="1.15"/><line x1="93.79" y1="101.81" x2="99.95" y2="100.05" stroke="#34e0b4" stroke-width="1.15"/><line x1="95.25" y1="110.53" x2="101.46" y2="112.07" stroke="#34e0b4" stroke-width="1.15"/><line x1="94.73" y1="119.58" x2="101.12" y2="119.41" stroke="#34e0b4" stroke-width="1.15"/><line x1="95.03" y1="127.96" x2="101.33" y2="129.09" stroke="#34e0b4" stroke-width="1.15"/><line x1="94.32" y1="138.36" x2="100.63" y2="137.3" stroke="#34e0b4" stroke-width="1.15"/><line x1="103.07" y1="84.87" x2="109.3" y2="86.31" stroke="#34e0b4" stroke-width="1.15"/><line x1="104.24" y1="90.77" x2="110.33" y2="92.74" stroke="#34e0b4" stroke-width="1.15"/><line x1="104.74" y1="99.85" x2="111.04" y2="100.99" stroke="#34e0b4" stroke-width="1.15"/><line x1="104.99" y1="110.82" x2="111.33" y2="111.67" stroke="#34e0b4" stroke-width="1.15"/><line x1="104.93" y1="120.44" x2="111.29" y2="119.72" stroke="#34e0b4" stroke-width="1.15"/><line x1="103.11" y1="130.76" x2="109.47" y2="130" stroke="#34e0b4" stroke-width="1.15"/><line x1="104.95" y1="137.38" x2="111.29" y2="138.19" stroke="#34e0b4" stroke-width="1.15"/><line x1="112.55" y1="83.63" x2="118.79" y2="85.04" stroke="#34e0b4" stroke-width="1.15"/><line x1="111.76" y1="92.31" x2="118.15" y2="91.9" stroke="#34e0b4" stroke-width="1.15"/><line x1="111.62" y1="101.03" x2="117.99" y2="101.68" stroke="#34e0b4" stroke-width="1.15"/><line x1="112.34" y1="111.1" x2="118.74" y2="111.18" stroke="#34e0b4" stroke-width="1.15"/><line x1="112.38" y1="120.37" x2="118.73" y2="119.55" stroke="#34e0b4" stroke-width="1.15"/><line x1="111.88" y1="129.51" x2="117.99" y2="131.4" stroke="#34e0b4" stroke-width="1.15"/><line x1="113.55" y1="136.74" x2="119.65" y2="138.64" stroke="#34e0b4" stroke-width="1.15"/><line x1="122.49" y1="84.89" x2="128.89" y2="84.57" stroke="#34e0b4" stroke-width="1.15"/><line x1="120.69" y1="90.96" x2="126.96" y2="92.23" stroke="#34e0b4" stroke-width="1.15"/><line x1="122.93" y1="100.91" x2="129.25" y2="99.88" stroke="#34e0b4" stroke-width="1.15"/><line x1="122.85" y1="111.07" x2="129.22" y2="111.7" stroke="#34e0b4" stroke-width="1.15"/><line x1="121.5" y1="120.6" x2="127.8" y2="119.5" stroke="#34e0b4" stroke-width="1.15"/><line x1="120.91" y1="130.59" x2="127.2" y2="129.4" stroke="#34e0b4" stroke-width="1.15"/><line x1="122.79" y1="136.96" x2="128.94" y2="135.19" stroke="#34e0b4" stroke-width="1.15"/><line x1="129.83" y1="84.9" x2="136.21" y2="84.46" stroke="#34e0b4" stroke-width="1.15"/><line x1="131.92" y1="93.02" x2="138.09" y2="91.34" stroke="#34e0b4" stroke-width="1.15"/><line x1="130.93" y1="100.26" x2="137.29" y2="100.99" stroke="#34e0b4" stroke-width="1.15"/><line x1="130.1" y1="108.96" x2="136.35" y2="110.36" stroke="#34e0b4" stroke-width="1.15"/><line x1="131.33" y1="120.32" x2="137.58" y2="121.67" stroke="#34e0b4" stroke-width="1.15"/><line x1="129.72" y1="130.54" x2="136.12" y2="130.41" stroke="#34e0b4" stroke-width="1.15"/><line x1="130.58" y1="136.66" x2="136.97" y2="136.29" stroke="#34e0b4" stroke-width="1.15"/><line x1="142.43" y1="82.01" x2="145.13" y2="87.81" stroke="#34e0b4" stroke-width="1.15"/><line x1="141.82" y1="93.91" x2="146.17" y2="89.22" stroke="#34e0b4" stroke-width="1.15"/><line x1="139.47" y1="103.27" x2="144.75" y2="99.65" stroke="#34e0b4" stroke-width="1.15"/><line x1="141.7" y1="107.21" x2="145.68" y2="112.22" stroke="#34e0b4" stroke-width="1.15"/><line x1="142.64" y1="122.56" x2="145.01" y2="116.62" stroke="#34e0b4" stroke-width="1.15"/><line x1="140.65" y1="130.27" x2="147.04" y2="130.64" stroke="#34e0b4" stroke-width="1.15"/><line x1="140.56" y1="135.81" x2="146.54" y2="138.1" stroke="#34e0b4" stroke-width="1.15"/><rect x="90.2" y="81.7" width="59.8" height="58.9" fill="none" stroke="#2f78c8" stroke-width="1.2"/><rect x="153.6" y="82" width="4" height="59" fill="url(#lg1)" stroke="#000" stroke-width="0.4"/><text x="120.6" y="78.84" font-size="6.4" fill="#111" text-anchor="middle" textLength="47.8" lengthAdjust="spacingAndGlyphs" stroke="#111" stroke-width="0.07">Wave Strength = 0.42</text><text x="118.8" y="146.49" font-size="5.4" fill="#111" text-anchor="middle" textLength="30.4" lengthAdjust="spacingAndGlyphs" stroke="#111" stroke-width="0.07">Array Dimension</text><text transform="translate(86.3,111) rotate(-90)" y="1.89" font-size="5.4" fill="#111" text-anchor="middle" textLength="34.5" lengthAdjust="spacingAndGlyphs" stroke="#111" stroke-width="0.07">Array Dimension</text><text x="158.8" y="83.94" font-size="4.4" fill="#111" stroke="#111" stroke-width="0.07">max</text><text x="158.8" y="143.34" font-size="4.4" fill="#111" stroke="#111" stroke-width="0.07">min</text><text transform="translate(163.2,114.6) rotate(-90)" y="1.82" font-size="5.2" fill="#111" text-anchor="middle" stroke="#111" stroke-width="0.07">Phase</text><rect x="86.9" y="215.1" width="59" height="58.8" fill="#ff1200"/><path d="M86.9,215.1 113.8,215.1 115,223.6 113,231 114,246 117,252 86.9,252Z" fill="#ff6400" stroke="#000" stroke-width="0.25" stroke-linejoin="round"/><path d="M93.6,215.1 105.7,215.1 106.6,224.6 100,231 94,235 86.9,236 86.9,230 95.5,226Z" fill="#ffa000" stroke="#000" stroke-width="0.25" stroke-linejoin="round"/><path d="M86.9,215.1 93.6,215.1 95.5,226 86.9,230Z" fill="#ffff00" stroke="#000" stroke-width="0.25" stroke-linejoin="round"/><path d="M127.5,215.1 135.7,215.1 129.4,224.6 124.6,233.2 122.7,245 121,246 117,244 118.8,224.6 124.6,221.2 128.5,219.8Z" fill="#ff6400" stroke="#000" stroke-width="0.25" stroke-linejoin="round"/><path d="M135.7,215.1 139.5,215.1 138.6,224.6 138,233.2 140,239 142.9,245 136.5,245.5 127.6,249 122.7,245 124.6,233.2 129.4,224.6Z" fill="#ffa000" stroke="#000" stroke-width="0.25" stroke-linejoin="round"/><path d="M123.6,249 145.9,243 145.9,249.5 127.6,256.9Z" fill="#ff6400" stroke="#000" stroke-width="0.25" stroke-linejoin="round"/><path d="M139.5,215.1 145.9,215.1 145.9,226.5 138.6,231.8 138.6,224.6Z" fill="#ffff00" stroke="#000" stroke-width="0.25" stroke-linejoin="round"/><path d="M141.2,215.1 142.2,215.1 140.7,229 139.7,229.5Z" fill="#ffff90"/><path d="M143.6,215.1 144.6,215.1 143.1,229 142.1,229.5Z" fill="#ffff90"/><path d="M137.1,234.7 145.9,226.5 145.9,241.9Z" fill="#c8c8c8"/><path d="M86.9,255.9 95.9,252.4 115.7,253.9 113.7,265.8 110.8,273.9 86.9,273.9Z" fill="#a80000" stroke="#000" stroke-width="0.25" stroke-linejoin="round"/><path d="M86.9,262.8 113.7,266.8 109.8,273.9 86.9,273.9Z" fill="#640000" stroke="#000" stroke-width="0.25" stroke-linejoin="round"/><path d="M94,270 110,271 109.5,273.9 93,273.9Z" fill="#2a0000" stroke="#000" stroke-width="0.25" stroke-linejoin="round"/><path d="M86.9,265.8 86.9,273.9 94.9,273.9Z" fill="#c8c8c8"/><path d="M136.5,258.9 141,264.3 136.5,269.7 132,264.3Z" fill="#ff6400" stroke="#000" stroke-width="0.25" stroke-linejoin="round"/><path d="M139.5,273.9 145.9,267.8 145.9,273.9Z" fill="#c8c8c8"/><line x1="89.86" y1="222.01" x2="93.72" y2="217.43" stroke="#34e0b4" stroke-width="1.1"/><line x1="96" y1="228.17" x2="90" y2="228.27" stroke="#34e0b4" stroke-width="1.1"/><line x1="95.92" y1="237.04" x2="90.27" y2="239.05" stroke="#34e0b4" stroke-width="1.1"/><line x1="94.42" y1="249.59" x2="90.08" y2="245.46" stroke="#34e0b4" stroke-width="1.1"/><line x1="92.98" y1="255.39" x2="92.04" y2="261.32" stroke="#34e0b4" stroke-width="1.1"/><line x1="88.57" y1="269.24" x2="93.17" y2="265.39" stroke="#34e0b4" stroke-width="1.1"/><line x1="104.05" y1="219.76" x2="98.99" y2="222.99" stroke="#34e0b4" stroke-width="1.1"/><line x1="102.4" y1="226.35" x2="102.25" y2="232.35" stroke="#34e0b4" stroke-width="1.1"/><line x1="101.68" y1="236.01" x2="98.93" y2="241.34" stroke="#34e0b4" stroke-width="1.1"/><line x1="99.62" y1="250.24" x2="104.73" y2="247.09" stroke="#34e0b4" stroke-width="1.1"/><line x1="101.38" y1="260.57" x2="100.22" y2="254.69" stroke="#34e0b4" stroke-width="1.1"/><line x1="100.16" y1="265.23" x2="104.7" y2="269.16" stroke="#34e0b4" stroke-width="1.1"/><line x1="114.41" y1="220.83" x2="110.07" y2="216.69" stroke="#34e0b4" stroke-width="1.1"/><line x1="113.75" y1="229.64" x2="108.4" y2="226.9" stroke="#34e0b4" stroke-width="1.1"/><line x1="114.78" y1="236.42" x2="109.86" y2="239.85" stroke="#34e0b4" stroke-width="1.1"/><line x1="107.59" y1="247.3" x2="112.34" y2="250.97" stroke="#34e0b4" stroke-width="1.1"/><line x1="107.61" y1="258.53" x2="112.81" y2="255.52" stroke="#34e0b4" stroke-width="1.1"/><line x1="108.64" y1="268.18" x2="113.8" y2="265.13" stroke="#34e0b4" stroke-width="1.1"/><line x1="123.32" y1="222.81" x2="118.06" y2="219.92" stroke="#34e0b4" stroke-width="1.1"/><line x1="117.9" y1="231.78" x2="122.89" y2="228.45" stroke="#34e0b4" stroke-width="1.1"/><line x1="123.26" y1="236.42" x2="118.61" y2="240.21" stroke="#34e0b4" stroke-width="1.1"/><line x1="124.9" y1="246.55" x2="119.25" y2="248.58" stroke="#34e0b4" stroke-width="1.1"/><line x1="121.36" y1="260.43" x2="120.67" y2="254.47" stroke="#34e0b4" stroke-width="1.1"/><line x1="120.02" y1="271.67" x2="124.35" y2="267.52" stroke="#34e0b4" stroke-width="1.1"/><line x1="130.67" y1="224.44" x2="131.17" y2="218.46" stroke="#34e0b4" stroke-width="1.1"/><line x1="132.63" y1="230.57" x2="128.64" y2="226.09" stroke="#34e0b4" stroke-width="1.1"/><line x1="130.36" y1="236.61" x2="131.28" y2="242.53" stroke="#34e0b4" stroke-width="1.1"/><line x1="127.09" y1="246.18" x2="131.03" y2="250.7" stroke="#34e0b4" stroke-width="1.1"/><line x1="133" y1="260.08" x2="128.1" y2="256.62" stroke="#34e0b4" stroke-width="1.1"/><line x1="128.78" y1="268.67" x2="134.74" y2="267.98" stroke="#34e0b4" stroke-width="1.1"/><line x1="143.54" y1="220.8" x2="138.06" y2="218.37" stroke="#34e0b4" stroke-width="1.1"/><line x1="140.4" y1="232.21" x2="137.68" y2="226.86" stroke="#34e0b4" stroke-width="1.1"/><line x1="136.27" y1="241.5" x2="141.06" y2="237.88" stroke="#34e0b4" stroke-width="1.1"/><line x1="140.18" y1="244.53" x2="141.33" y2="250.42" stroke="#34e0b4" stroke-width="1.1"/><line x1="141.58" y1="255.59" x2="140.07" y2="261.4" stroke="#34e0b4" stroke-width="1.1"/><line x1="141.82" y1="270.17" x2="136.47" y2="267.45" stroke="#34e0b4" stroke-width="1.1"/><rect x="86.9" y="215.1" width="59" height="58.8" fill="none" stroke="#e01818" stroke-width="1.2"/><rect x="150.7" y="215.2" width="4.2" height="59" fill="url(#lg2)" stroke="#000" stroke-width="0.4"/><text x="118.9" y="212.74" font-size="6.4" fill="#111" text-anchor="middle" textLength="47.7" lengthAdjust="spacingAndGlyphs" stroke="#111" stroke-width="0.07">Wave Strength = 0.12</text><text x="117.2" y="280.89" font-size="5.4" fill="#111" text-anchor="middle" textLength="32" lengthAdjust="spacingAndGlyphs" stroke="#111" stroke-width="0.07">Array Dimension</text><text transform="translate(83.2,245.3) rotate(-90)" y="1.89" font-size="5.4" fill="#111" text-anchor="middle" textLength="34" lengthAdjust="spacingAndGlyphs" stroke="#111" stroke-width="0.07">Array Dimension</text><text x="155.8" y="217.34" font-size="4.4" fill="#111" stroke="#111" stroke-width="0.07">max</text><text x="155.8" y="275.74" font-size="4.4" fill="#111" stroke="#111" stroke-width="0.07">min</text><text transform="translate(159.8,246) rotate(-90)" y="1.82" font-size="5.2" fill="#111" text-anchor="middle" stroke="#111" stroke-width="0.07">Phase</text><text x="235.2" y="9.79" font-size="7.7" fill="#c8961c" font-weight="bold" font-style="italic" textLength="36.6" lengthAdjust="spacingAndGlyphs" stroke="#c8961c" stroke-width="0.21">Monkey Mc</text><text x="285.6" y="10.57" font-size="10.2" fill="#c8961c" font-weight="bold" font-style="italic" textLength="18.6" lengthAdjust="spacingAndGlyphs" stroke="#c8961c" stroke-width="0.27">LPFC</text><text x="318" y="9.79" font-size="7.7" fill="#c8961c" font-weight="bold" font-style="italic" textLength="36.3" lengthAdjust="spacingAndGlyphs" stroke="#c8961c" stroke-width="0.21">Monkey Mj</text><text x="440.8" y="9.96" font-size="7.6" fill="#8a2f9e" textLength="36.9" lengthAdjust="spacingAndGlyphs" stroke="#8a2f9e" stroke-width="0.09">Monkey Mc</text><text x="491" y="10.57" font-size="10.2" fill="#7a1f90" font-weight="bold" font-style="italic" textLength="15.3" lengthAdjust="spacingAndGlyphs" stroke="#7a1f90" stroke-width="0.27">PPC</text><text x="523.6" y="9.96" font-size="7.6" fill="#8a2f9e" textLength="35.4" lengthAdjust="spacingAndGlyphs" stroke="#8a2f9e" stroke-width="0.09">Monkey Mj</text><text x="294.1" y="66.16" font-size="5.6" fill="#111" text-anchor="middle" stroke="#111" stroke-width="0.07">PGD</text><text x="502.8" y="64.96" font-size="5.6" fill="#111" text-anchor="middle" stroke="#111" stroke-width="0.07">PGD</text><path d="M229,51.5 229.6,51.5 230.6,51.4 231.6,51.2 232.5,50.8 233.2,50 233.8,49 234.4,47.8 235,46.5 235.7,45 236.4,43.3 237,41.6 237.6,40.1 238,38.8 238.4,37.7 238.7,36.7 239.1,35.8 239.4,35 239.8,34.2 240.2,33.7 240.6,33.3 241,33.3 241.5,33.5 242.1,33.8 242.6,34.1 243.2,34.1 243.8,34.2 244.5,34.3 245,34.5 245.5,34.9 245.9,35.4 246.3,35.9 246.6,36.5 247,37 247.3,37.4 247.6,37.9 248,38.5 248.4,39.2 248.9,40 249.4,40.8 250,41.5 250.6,41.9 251.3,42.3 251.9,42.5 252.5,42.9 253,43.4 253.4,44 253.8,44.5 254.2,45.1 254.6,45.6 255,46 255.4,46.5 256,47.1 256.8,47.7 257.8,48.3 258.9,49 260,49.5 261.1,49.9 262.3,50.1 263.6,50.3 264.8,50.5 266.1,50.7 267.5,51 268.7,51.2 269.9,51.4 270.8,51.4 271.7,51.5 272.4,51.5 272.9,51.5 272.9,51.5 229,51.5Z" fill="#e8283c" fill-opacity="0.28"/><path d="M229,51.5 229.6,51.4 230.6,51.4 231.6,51.1 232.5,50.6 233.2,49.7 233.8,48.4 234.4,47.1 235,46.1 235.7,45.4 236.3,44.9 236.9,44.5 237.6,44.1 238.1,43.6 238.7,43.1 239.3,42.6 240,42.1 240.7,41.4 241.5,40.6 242.2,39.8 243,39.1 243.8,38.4 244.6,37.9 245.3,37.4 246,37.2 246.7,37.3 247.3,37.6 247.9,38 248.5,38.2 249.1,38.2 249.8,38.1 250.4,38 251,38.1 251.5,38.3 251.9,38.7 252.2,39.1 252.7,39.6 253.2,40.2 253.8,40.8 254.4,41.4 255,42.1 255.7,42.8 256.4,43.5 257.2,44.3 258.1,45.1 259,45.8 260,46.6 261,47.4 262,48.1 262.9,48.7 263.8,49.2 264.8,49.7 265.8,50.1 267,50.4 268.3,50.6 269.6,50.8 270.9,50.9 272.3,51.1 273.7,51.3 275,51.4 275.9,51.5 275.9,51.5 229,51.5Z" fill="#5a2ab0" fill-opacity="0.42"/><path d="M229,51.5 229.6,51.5 230.6,51.4 231.6,51.2 232.5,50.8 233.2,50 233.8,49 234.4,47.8 235,46.5 235.7,45 236.4,43.3 237,41.6 237.6,40.1 238,38.8 238.4,37.7 238.7,36.7 239.1,35.8 239.4,35 239.8,34.2 240.2,33.7 240.6,33.3 241,33.3 241.5,33.5 242.1,33.8 242.6,34.1 243.2,34.1 243.8,34.2 244.5,34.3 245,34.5 245.5,34.9 245.9,35.4 246.3,35.9 246.6,36.5 247,37 247.3,37.4 247.6,37.9 248,38.5 248.4,39.2 248.9,40 249.4,40.8 250,41.5 250.6,41.9 251.3,42.3 251.9,42.5 252.5,42.9 253,43.4 253.4,44 253.8,44.5 254.2,45.1 254.6,45.6 255,46 255.4,46.5 256,47.1 256.8,47.7 257.8,48.3 258.9,49 260,49.5 261.1,49.9 262.3,50.1 263.6,50.3 264.8,50.5 266.1,50.7 267.5,51 268.7,51.2 269.9,51.4 270.8,51.4 271.7,51.5 272.4,51.5 272.9,51.5" fill="none" stroke="#ee1c24" stroke-width="1.3" stroke-linejoin="round"/><path d="M229,51.5 229.6,51.4 230.6,51.4 231.6,51.1 232.5,50.6 233.2,49.7 233.8,48.4 234.4,47.1 235,46.1 235.7,45.4 236.3,44.9 236.9,44.5 237.6,44.1 238.1,43.6 238.7,43.1 239.3,42.6 240,42.1 240.7,41.4 241.5,40.6 242.2,39.8 243,39.1 243.8,38.4 244.6,37.9 245.3,37.4 246,37.2 246.7,37.3 247.3,37.6 247.9,38 248.5,38.2 249.1,38.2 249.8,38.1 250.4,38 251,38.1 251.5,38.3 251.9,38.7 252.2,39.1 252.7,39.6 253.2,40.2 253.8,40.8 254.4,41.4 255,42.1 255.7,42.8 256.4,43.5 257.2,44.3 258.1,45.1 259,45.8 260,46.6 261,47.4 262,48.1 262.9,48.7 263.8,49.2 264.8,49.7 265.8,50.1 267,50.4 268.3,50.6 269.6,50.8 270.9,50.9 272.3,51.1 273.7,51.3 275,51.4 275.9,51.5" fill="none" stroke="#1a1aee" stroke-width="1.3" stroke-linejoin="round"/><line x1="226.2" y1="22.5" x2="226.2" y2="51.5" stroke="#777" stroke-width="0.6"/><line x1="226.2" y1="51.5" x2="286.7" y2="51.5" stroke="#777" stroke-width="0.6"/><line x1="226.2" y1="37.2" x2="227.4" y2="37.2" stroke="#777" stroke-width="0.5"/><text x="224.8" y="39.09" font-size="5.4" fill="#111" text-anchor="end" stroke="#111" stroke-width="0.07">0.1</text><line x1="226.2" y1="51.5" x2="227.4" y2="51.5" stroke="#777" stroke-width="0.5"/><text x="224.8" y="53.39" font-size="5.4" fill="#111" text-anchor="end" stroke="#111" stroke-width="0.07">0</text><line x1="232.5" y1="51.5" x2="232.5" y2="50.3" stroke="#777" stroke-width="0.5"/><text x="232.5" y="57.49" font-size="5.4" fill="#111" text-anchor="middle" stroke="#111" stroke-width="0.07">0.1</text><line x1="252.7" y1="51.5" x2="252.7" y2="50.3" stroke="#777" stroke-width="0.5"/><text x="252.7" y="57.49" font-size="5.4" fill="#111" text-anchor="middle" stroke="#111" stroke-width="0.07">0.3</text><line x1="272.9" y1="51.5" x2="272.9" y2="50.3" stroke="#777" stroke-width="0.5"/><text x="272.9" y="57.49" font-size="5.4" fill="#111" text-anchor="middle" stroke="#111" stroke-width="0.07">0.5</text><rect x="244.8" y="25.9" width="2" height="3.2" fill="#ff1010"/><rect x="248.6" y="29.7" width="2" height="3.2" fill="#1010ff"/><path d="M314.9,51.5 315.6,51.5 316.4,51.4 317.4,51.2 318.3,50.8 319.2,50.1 320.1,49.2 320.9,48.1 321.7,46.9 322.4,45.3 323.1,43.6 323.7,41.7 324.4,39.9 325.1,37.9 325.8,35.8 326.5,33.9 327.2,32.8 327.9,32.8 328.5,33.5 329.2,34.4 329.8,35.3 330.5,35.8 331.1,36.4 331.8,37 332.5,37.6 333.2,38.2 333.8,38.7 334.5,39.3 335.2,39.9 336,40.5 336.8,41.2 337.7,41.8 338.6,42.5 339.4,43.1 340.3,43.6 341.1,44.2 341.9,44.8 342.8,45.3 343.6,45.9 344.5,46.4 345.3,46.9 346.2,47.3 347,47.6 347.8,47.9 348.7,48.3 349.6,48.6 350.6,48.9 351.6,49.2 352.8,49.5 354,49.8 355.4,50.1 356.8,50.3 358.1,50.6 359.5,50.8 360.8,50.9 362.2,51 363.5,51.2 365,51.3 366.6,51.4 368,51.4 368.9,51.5 368.9,51.5 314.9,51.5Z" fill="#e8283c" fill-opacity="0.28"/><path d="M316.3,51.5 316.9,51.5 317.8,51.4 318.8,51.2 319.7,50.8 320.5,50.1 321.4,49.2 322.3,48.1 323.1,46.9 323.8,45.3 324.4,43.4 325.1,41.5 325.8,39.9 326.4,38.6 327.1,37.5 327.7,36.6 328.4,35.8 329.2,35.2 330,34.8 330.8,34.5 331.6,34.4 332.2,34.6 332.7,34.9 333.3,35.3 333.8,35.8 334.5,36.5 335.1,37.2 335.8,38 336.6,38.7 337.3,39.5 338.2,40.4 339.1,41.2 339.9,42 340.8,42.7 341.6,43.5 342.5,44.1 343.3,44.8 344.1,45.4 345,45.9 345.8,46.4 346.7,46.9 347.5,47.3 348.3,47.6 349.2,47.9 350,48.3 351,48.6 351.9,48.9 353,49.2 354.1,49.5 355.4,49.8 356.7,50.1 358.1,50.3 359.5,50.6 360.9,50.8 362.2,50.9 363.6,51 364.9,51.2 366.4,51.3 367.9,51.4 369.3,51.4 370.3,51.5 370.3,51.5 316.3,51.5Z" fill="#5a2ab0" fill-opacity="0.42"/><path d="M314.9,51.5 315.6,51.5 316.4,51.4 317.4,51.2 318.3,50.8 319.2,50.1 320.1,49.2 320.9,48.1 321.7,46.9 322.4,45.3 323.1,43.6 323.7,41.7 324.4,39.9 325.1,37.9 325.8,35.8 326.5,33.9 327.2,32.8 327.9,32.8 328.5,33.5 329.2,34.4 329.8,35.3 330.5,35.8 331.1,36.4 331.8,37 332.5,37.6 333.2,38.2 333.8,38.7 334.5,39.3 335.2,39.9 336,40.5 336.8,41.2 337.7,41.8 338.6,42.5 339.4,43.1 340.3,43.6 341.1,44.2 341.9,44.8 342.8,45.3 343.6,45.9 344.5,46.4 345.3,46.9 346.2,47.3 347,47.6 347.8,47.9 348.7,48.3 349.6,48.6 350.6,48.9 351.6,49.2 352.8,49.5 354,49.8 355.4,50.1 356.8,50.3 358.1,50.6 359.5,50.8 360.8,50.9 362.2,51 363.5,51.2 365,51.3 366.6,51.4 368,51.4 368.9,51.5" fill="none" stroke="#ee1c24" stroke-width="1.3" stroke-linejoin="round"/><path d="M316.3,51.5 316.9,51.5 317.8,51.4 318.8,51.2 319.7,50.8 320.5,50.1 321.4,49.2 322.3,48.1 323.1,46.9 323.8,45.3 324.4,43.4 325.1,41.5 325.8,39.9 326.4,38.6 327.1,37.5 327.7,36.6 328.4,35.8 329.2,35.2 330,34.8 330.8,34.5 331.6,34.4 332.2,34.6 332.7,34.9 333.3,35.3 333.8,35.8 334.5,36.5 335.1,37.2 335.8,38 336.6,38.7 337.3,39.5 338.2,40.4 339.1,41.2 339.9,42 340.8,42.7 341.6,43.5 342.5,44.1 343.3,44.8 344.1,45.4 345,45.9 345.8,46.4 346.7,46.9 347.5,47.3 348.3,47.6 349.2,47.9 350,48.3 351,48.6 351.9,48.9 353,49.2 354.1,49.5 355.4,49.8 356.7,50.1 358.1,50.3 359.5,50.6 360.9,50.8 362.2,50.9 363.6,51 364.9,51.2 366.4,51.3 367.9,51.4 369.3,51.4 370.3,51.5" fill="none" stroke="#1a1aee" stroke-width="1.3" stroke-linejoin="round"/><line x1="310.7" y1="22.5" x2="310.7" y2="51.5" stroke="#777" stroke-width="0.6"/><line x1="310.7" y1="51.5" x2="370.8" y2="51.5" stroke="#777" stroke-width="0.6"/><line x1="310.7" y1="28.3" x2="311.9" y2="28.3" stroke="#777" stroke-width="0.5"/><text x="309.3" y="30.19" font-size="5.4" fill="#111" text-anchor="end" stroke="#111" stroke-width="0.07">0.2</text><line x1="310.7" y1="39.9" x2="311.9" y2="39.9" stroke="#777" stroke-width="0.5"/><text x="309.3" y="41.79" font-size="5.4" fill="#111" text-anchor="end" stroke="#111" stroke-width="0.07">0.1</text><line x1="310.7" y1="51.5" x2="311.9" y2="51.5" stroke="#777" stroke-width="0.5"/><text x="309.3" y="53.39" font-size="5.4" fill="#111" text-anchor="end" stroke="#111" stroke-width="0.07">0</text><line x1="321.7" y1="51.5" x2="321.7" y2="50.3" stroke="#777" stroke-width="0.5"/><text x="321.7" y="57.49" font-size="5.4" fill="#111" text-anchor="middle" stroke="#111" stroke-width="0.07">0.1</text><line x1="335.2" y1="51.5" x2="335.2" y2="50.3" stroke="#777" stroke-width="0.5"/><text x="335.2" y="57.49" font-size="5.4" fill="#111" text-anchor="middle" stroke="#111" stroke-width="0.07">0.2</text><line x1="348.7" y1="51.5" x2="348.7" y2="50.3" stroke="#777" stroke-width="0.5"/><text x="348.7" y="57.49" font-size="5.4" fill="#111" text-anchor="middle" stroke="#111" stroke-width="0.07">0.3</text><line x1="362.2" y1="51.5" x2="362.2" y2="50.3" stroke="#777" stroke-width="0.5"/><text x="362.2" y="57.49" font-size="5.4" fill="#111" text-anchor="middle" stroke="#111" stroke-width="0.07">0.4</text><rect x="330.9" y="25.7" width="2" height="3.2" fill="#ff1010"/><rect x="333.3" y="29.4" width="2" height="3.2" fill="#1010ff"/><path d="M434,50.3 434.7,50.3 435.6,50.3 436.7,50.1 437.8,49.6 438.9,48.7 440.1,47.4 441.4,46 442.5,44.6 443.6,43.1 444.6,41.6 445.5,40.1 446.3,38.9 446.9,37.9 447.3,37.1 447.7,36.4 448.2,36 448.6,35.8 449.1,35.9 449.6,36 450.1,36 450.5,35.7 451,35.4 451.4,35 452,34.6 452.6,34.1 453.4,33.7 454.1,33.3 454.8,33.1 455.3,33.2 455.7,33.4 456.2,33.8 456.7,34.6 457.3,35.7 458,37.2 458.8,38.8 459.5,40.3 460.2,41.6 460.9,43 461.6,44.2 462.4,45.3 463.2,46.2 464.1,46.9 465,47.6 466.1,48.2 467.4,48.7 468.8,49.1 470.3,49.4 471.8,49.7 473.4,50 475,50.1 476.5,50.2 477.5,50.3 477.5,50.3 434,50.3Z" fill="#e8283c" fill-opacity="0.28"/><path d="M434,50.3 434.8,50.3 436.1,50.2 437.4,50.1 438.7,49.9 439.9,49.5 441.1,48.9 442.3,48.3 443.4,47.4 444.7,46.4 445.9,45.1 447.1,43.8 448.2,42.4 449.2,41 450.2,39.4 451.1,38 452,36.7 452.8,35.7 453.5,34.9 454.2,34.3 454.8,33.9 455.3,33.5 455.7,33.4 456.2,33.4 456.7,33.6 457.3,34 458,34.5 458.8,35.2 459.5,36 460.2,36.8 460.9,37.7 461.6,38.7 462.4,39.6 463.2,40.5 464.2,41.4 465.2,42.3 466.1,43.1 467.1,43.9 468,44.7 468.9,45.4 469.9,46 471,46.6 472.1,47.2 473.3,47.7 474.6,48.2 476.1,48.6 477.8,49 479.5,49.3 481.2,49.6 483.3,49.8 485.4,50 487.4,50.2 488.8,50.3 488.8,50.3 434,50.3Z" fill="#5a2ab0" fill-opacity="0.42"/><path d="M434,50.3 434.7,50.3 435.6,50.3 436.7,50.1 437.8,49.6 438.9,48.7 440.1,47.4 441.4,46 442.5,44.6 443.6,43.1 444.6,41.6 445.5,40.1 446.3,38.9 446.9,37.9 447.3,37.1 447.7,36.4 448.2,36 448.6,35.8 449.1,35.9 449.6,36 450.1,36 450.5,35.7 451,35.4 451.4,35 452,34.6 452.6,34.1 453.4,33.7 454.1,33.3 454.8,33.1 455.3,33.2 455.7,33.4 456.2,33.8 456.7,34.6 457.3,35.7 458,37.2 458.8,38.8 459.5,40.3 460.2,41.6 460.9,43 461.6,44.2 462.4,45.3 463.2,46.2 464.1,46.9 465,47.6 466.1,48.2 467.4,48.7 468.8,49.1 470.3,49.4 471.8,49.7 473.4,50 475,50.1 476.5,50.2 477.5,50.3" fill="none" stroke="#ee1c24" stroke-width="1.3" stroke-linejoin="round"/><path d="M434,50.3 434.8,50.3 436.1,50.2 437.4,50.1 438.7,49.9 439.9,49.5 441.1,48.9 442.3,48.3 443.4,47.4 444.7,46.4 445.9,45.1 447.1,43.8 448.2,42.4 449.2,41 450.2,39.4 451.1,38 452,36.7 452.8,35.7 453.5,34.9 454.2,34.3 454.8,33.9 455.3,33.5 455.7,33.4 456.2,33.4 456.7,33.6 457.3,34 458,34.5 458.8,35.2 459.5,36 460.2,36.8 460.9,37.7 461.6,38.7 462.4,39.6 463.2,40.5 464.2,41.4 465.2,42.3 466.1,43.1 467.1,43.9 468,44.7 468.9,45.4 469.9,46 471,46.6 472.1,47.2 473.3,47.7 474.6,48.2 476.1,48.6 477.8,49 479.5,49.3 481.2,49.6 483.3,49.8 485.4,50 487.4,50.2 488.8,50.3" fill="none" stroke="#1a1aee" stroke-width="1.3" stroke-linejoin="round"/><line x1="431.9" y1="21" x2="431.9" y2="50.3" stroke="#777" stroke-width="0.6"/><line x1="431.9" y1="50.3" x2="492.2" y2="50.3" stroke="#777" stroke-width="0.6"/><line x1="431.9" y1="21.7" x2="433.1" y2="21.7" stroke="#777" stroke-width="0.5"/><text x="430.5" y="23.59" font-size="5.4" fill="#111" text-anchor="end" stroke="#111" stroke-width="0.07">0.2</text><line x1="431.9" y1="36" x2="433.1" y2="36" stroke="#777" stroke-width="0.5"/><text x="430.5" y="37.89" font-size="5.4" fill="#111" text-anchor="end" stroke="#111" stroke-width="0.07">0.1</text><line x1="431.9" y1="50.3" x2="433.1" y2="50.3" stroke="#777" stroke-width="0.5"/><text x="430.5" y="52.19" font-size="5.4" fill="#111" text-anchor="end" stroke="#111" stroke-width="0.07">0</text><line x1="434" y1="50.3" x2="434" y2="49.1" stroke="#777" stroke-width="0.5"/><text x="434" y="56.29" font-size="5.4" fill="#111" text-anchor="middle" stroke="#111" stroke-width="0.07">0.1</text><line x1="452.9" y1="50.3" x2="452.9" y2="49.1" stroke="#777" stroke-width="0.5"/><text x="452.9" y="56.29" font-size="5.4" fill="#111" text-anchor="middle" stroke="#111" stroke-width="0.07">0.3</text><line x1="471.8" y1="50.3" x2="471.8" y2="49.1" stroke="#777" stroke-width="0.5"/><text x="471.8" y="56.29" font-size="5.4" fill="#111" text-anchor="middle" stroke="#111" stroke-width="0.07">0.5</text><line x1="490.7" y1="50.3" x2="490.7" y2="49.1" stroke="#777" stroke-width="0.5"/><text x="490.7" y="56.29" font-size="5.4" fill="#111" text-anchor="middle" stroke="#111" stroke-width="0.07">0.7</text><rect x="452.1" y="24.9" width="2" height="3.2" fill="#ff1010"/><rect x="455.8" y="28.3" width="2" height="3.2" fill="#1010ff"/><path d="M520.2,49.9 520.8,49.7 521.7,49.5 522.7,49.2 523.6,48.4 524.5,47.3 525.3,45.9 526.2,44.3 527,42.6 527.9,40.9 528.8,38.9 529.6,37 530.4,35.4 531.2,34.1 531.9,33.1 532.6,32.3 533.2,31.8 533.7,31.6 534,31.6 534.4,32 534.9,32.5 535.7,33.4 536.5,34.5 537.4,35.8 538.3,36.9 539.2,37.7 540,38.5 540.9,39.2 541.7,39.8 542.6,40 543.4,40.1 544.3,40.2 545.1,40.5 545.9,41 546.7,41.8 547.6,42.6 548.5,43.4 549.5,44.1 550.6,44.9 551.8,45.6 553,46.3 554.3,46.9 555.7,47.5 557.1,48 558.7,48.4 560.4,48.9 562.4,49.3 564.2,49.7 565.4,49.9 565.4,49.9 520.2,49.9Z" fill="#e8283c" fill-opacity="0.28"/><path d="M520.2,49.9 520.8,49.9 521.7,49.8 522.6,49.7 523.6,49.5 524.7,49 525.7,48.4 526.9,47.7 528.1,47 529.5,46.2 531,45.2 532.4,44.3 533.8,43.4 535,42.6 536.2,41.8 537.3,41.1 538.3,40.5 539.3,40 540.2,39.5 541,39.2 541.7,39 542.3,39 542.8,39 543.4,39.2 544,39.5 544.7,39.8 545.5,40.2 546.4,40.7 547.4,41.2 548.4,41.7 549.5,42.3 550.7,42.8 551.9,43.4 553,43.9 554.1,44.5 555.2,45 556.4,45.5 557.7,46 559.2,46.5 560.6,46.9 562,47.3 563.5,47.7 564.9,48.1 566.3,48.4 567.7,48.7 569.2,49.1 570.9,49.4 572.3,49.7 573.4,49.9 573.4,49.9 520.2,49.9Z" fill="#5a2ab0" fill-opacity="0.42"/><path d="M520.2,49.9 520.8,49.7 521.7,49.5 522.7,49.2 523.6,48.4 524.5,47.3 525.3,45.9 526.2,44.3 527,42.6 527.9,40.9 528.8,38.9 529.6,37 530.4,35.4 531.2,34.1 531.9,33.1 532.6,32.3 533.2,31.8 533.7,31.6 534,31.6 534.4,32 534.9,32.5 535.7,33.4 536.5,34.5 537.4,35.8 538.3,36.9 539.2,37.7 540,38.5 540.9,39.2 541.7,39.8 542.6,40 543.4,40.1 544.3,40.2 545.1,40.5 545.9,41 546.7,41.8 547.6,42.6 548.5,43.4 549.5,44.1 550.6,44.9 551.8,45.6 553,46.3 554.3,46.9 555.7,47.5 557.1,48 558.7,48.4 560.4,48.9 562.4,49.3 564.2,49.7 565.4,49.9" fill="none" stroke="#ee1c24" stroke-width="1.3" stroke-linejoin="round"/><path d="M520.2,49.9 520.8,49.9 521.7,49.8 522.6,49.7 523.6,49.5 524.7,49 525.7,48.4 526.9,47.7 528.1,47 529.5,46.2 531,45.2 532.4,44.3 533.8,43.4 535,42.6 536.2,41.8 537.3,41.1 538.3,40.5 539.3,40 540.2,39.5 541,39.2 541.7,39 542.3,39 542.8,39 543.4,39.2 544,39.5 544.7,39.8 545.5,40.2 546.4,40.7 547.4,41.2 548.4,41.7 549.5,42.3 550.7,42.8 551.9,43.4 553,43.9 554.1,44.5 555.2,45 556.4,45.5 557.7,46 559.2,46.5 560.6,46.9 562,47.3 563.5,47.7 564.9,48.1 566.3,48.4 567.7,48.7 569.2,49.1 570.9,49.4 572.3,49.7 573.4,49.9" fill="none" stroke="#1a1aee" stroke-width="1.3" stroke-linejoin="round"/><line x1="515.6" y1="21" x2="515.6" y2="49.9" stroke="#777" stroke-width="0.6"/><line x1="515.6" y1="49.9" x2="576.8" y2="49.9" stroke="#777" stroke-width="0.6"/><line x1="515.6" y1="20.9" x2="516.8" y2="20.9" stroke="#777" stroke-width="0.5"/><text x="514.2" y="22.79" font-size="5.4" fill="#111" text-anchor="end" stroke="#111" stroke-width="0.07">0.2</text><line x1="515.6" y1="35.4" x2="516.8" y2="35.4" stroke="#777" stroke-width="0.5"/><text x="514.2" y="37.29" font-size="5.4" fill="#111" text-anchor="end" stroke="#111" stroke-width="0.07">0.1</text><line x1="515.6" y1="49.9" x2="516.8" y2="49.9" stroke="#777" stroke-width="0.5"/><text x="514.2" y="51.79" font-size="5.4" fill="#111" text-anchor="end" stroke="#111" stroke-width="0.07">0</text><line x1="522.5" y1="49.9" x2="522.5" y2="48.7" stroke="#777" stroke-width="0.5"/><text x="522.5" y="55.89" font-size="5.4" fill="#111" text-anchor="middle" stroke="#111" stroke-width="0.07">0.1</text><line x1="545.1" y1="49.9" x2="545.1" y2="48.7" stroke="#777" stroke-width="0.5"/><text x="545.1" y="55.89" font-size="5.4" fill="#111" text-anchor="middle" stroke="#111" stroke-width="0.07">0.3</text><line x1="567.7" y1="49.9" x2="567.7" y2="48.7" stroke="#777" stroke-width="0.5"/><text x="567.7" y="55.89" font-size="5.4" fill="#111" text-anchor="middle" stroke="#111" stroke-width="0.07">0.5</text><rect x="535.5" y="23.9" width="2" height="3.2" fill="#ff1010"/><rect x="540" y="27.9" width="2" height="3.2" fill="#1010ff"/><g shape-rendering="crispEdges"><rect x="224.3" y="76.3" width="62.3" height="0.7" fill="url(#lg3)"/><rect x="224.3" y="77" width="62.3" height="1" fill="url(#lg4)"/><rect x="224.3" y="78" width="62.3" height="1" fill="url(#lg5)"/><rect x="224.3" y="79" width="62.3" height="1" fill="url(#lg6)"/><rect x="224.3" y="80" width="62.3" height="1" fill="url(#lg7)"/><rect x="224.3" y="81" width="62.3" height="1" fill="url(#lg8)"/><rect x="224.3" y="82" width="62.3" height="1" fill="url(#lg9)"/><rect x="224.3" y="83" width="62.3" height="1" fill="url(#lg10)"/><rect x="224.3" y="84" width="62.3" height="1" fill="url(#lg11)"/><rect x="224.3" y="85" width="62.3" height="1" fill="url(#lg12)"/><rect x="224.3" y="86" width="62.3" height="1" fill="url(#lg13)"/><rect x="224.3" y="87" width="62.3" height="1" fill="url(#lg14)"/><rect x="224.3" y="88" width="62.3" height="1" fill="url(#lg15)"/><rect x="224.3" y="89" width="62.3" height="1" fill="url(#lg16)"/><rect x="224.3" y="90" width="62.3" height="1" fill="url(#lg17)"/><rect x="224.3" y="91" width="62.3" height="1" fill="url(#lg18)"/><rect x="224.3" y="92" width="62.3" height="1" fill="url(#lg19)"/><rect x="224.3" y="93" width="62.3" height="1" fill="url(#lg20)"/><rect x="224.3" y="94" width="62.3" height="1" fill="url(#lg21)"/><rect x="224.3" y="95" width="62.3" height="1" fill="url(#lg22)"/><rect x="224.3" y="96" width="62.3" height="1" fill="url(#lg23)"/><rect x="224.3" y="97" width="62.3" height="1" fill="url(#lg24)"/><rect x="224.3" y="98" width="62.3" height="1" fill="url(#lg25)"/><rect x="224.3" y="99" width="62.3" height="1" fill="url(#lg26)"/><rect x="224.3" y="100" width="62.3" height="1" fill="url(#lg27)"/><rect x="224.3" y="101" width="62.3" height="1" fill="url(#lg28)"/><rect x="224.3" y="102" width="62.3" height="1" fill="url(#lg29)"/><rect x="224.3" y="103" width="62.3" height="1" fill="url(#lg30)"/><rect x="224.3" y="104" width="62.3" height="1" fill="url(#lg31)"/><rect x="224.3" y="105" width="62.3" height="1" fill="url(#lg32)"/><rect x="224.3" y="106" width="62.3" height="1" fill="url(#lg33)"/><rect x="224.3" y="107" width="62.3" height="1" fill="url(#lg34)"/><rect x="224.3" y="108" width="62.3" height="1" fill="url(#lg35)"/><rect x="224.3" y="109" width="62.3" height="1" fill="url(#lg36)"/><rect x="224.3" y="110" width="62.3" height="1" fill="url(#lg37)"/><rect x="224.3" y="111" width="62.3" height="1" fill="url(#lg38)"/><rect x="224.3" y="112" width="62.3" height="1" fill="url(#lg39)"/><rect x="224.3" y="113" width="62.3" height="0.5" fill="url(#lg40)"/></g><line x1="247.5" y1="76.3" x2="247.5" y2="113.5" stroke="#000" stroke-width="0.9" stroke-dasharray="2,1.6"/><line x1="264.4" y1="76.3" x2="264.4" y2="113.5" stroke="#000" stroke-width="0.9" stroke-dasharray="2,1.6"/><line x1="274.5" y1="76.3" x2="274.5" y2="113.5" stroke="#000" stroke-width="0.9" stroke-dasharray="2,1.6"/><rect x="224.6" y="83.8" width="22.7" height="2.8" fill="none" stroke="#5a5a5a" stroke-width="0.55" stroke-dasharray="1.3,1"/><rect x="224.3" y="76.3" width="62.3" height="37.2" fill="none" stroke="#111" stroke-width="0.9"/><g shape-rendering="crispEdges"><rect x="224.3" y="117.3" width="62.3" height="0.7" fill="url(#lg41)"/><rect x="224.3" y="118" width="62.3" height="1" fill="url(#lg42)"/><rect x="224.3" y="119" width="62.3" height="1" fill="url(#lg43)"/><rect x="224.3" y="120" width="62.3" height="1" fill="url(#lg44)"/><rect x="224.3" y="121" width="62.3" height="1" fill="url(#lg45)"/><rect x="224.3" y="122" width="62.3" height="1" fill="url(#lg46)"/><rect x="224.3" y="123" width="62.3" height="1" fill="url(#lg47)"/><rect x="224.3" y="124" width="62.3" height="1" fill="url(#lg48)"/><rect x="224.3" y="125" width="62.3" height="1" fill="url(#lg49)"/><rect x="224.3" y="126" width="62.3" height="1" fill="url(#lg50)"/><rect x="224.3" y="127" width="62.3" height="1" fill="url(#lg51)"/><rect x="224.3" y="128" width="62.3" height="1" fill="url(#lg52)"/><rect x="224.3" y="129" width="62.3" height="1" fill="url(#lg53)"/><rect x="224.3" y="130" width="62.3" height="1" fill="url(#lg54)"/><rect x="224.3" y="131" width="62.3" height="1" fill="url(#lg55)"/><rect x="224.3" y="132" width="62.3" height="1" fill="url(#lg56)"/><rect x="224.3" y="133" width="62.3" height="1" fill="url(#lg57)"/><rect x="224.3" y="134" width="62.3" height="1" fill="url(#lg58)"/><rect x="224.3" y="135" width="62.3" height="1" fill="url(#lg59)"/><rect x="224.3" y="136" width="62.3" height="1" fill="url(#lg60)"/><rect x="224.3" y="137" width="62.3" height="1" fill="url(#lg61)"/><rect x="224.3" y="138" width="62.3" height="1" fill="url(#lg62)"/><rect x="224.3" y="139" width="62.3" height="1" fill="url(#lg63)"/><rect x="224.3" y="140" width="62.3" height="1" fill="url(#lg64)"/><rect x="224.3" y="141" width="62.3" height="1" fill="url(#lg65)"/><rect x="224.3" y="142" width="62.3" height="1" fill="url(#lg66)"/><rect x="224.3" y="143" width="62.3" height="1" fill="url(#lg67)"/><rect x="224.3" y="144" width="62.3" height="1" fill="url(#lg68)"/><rect x="224.3" y="145" width="62.3" height="1" fill="url(#lg69)"/><rect x="224.3" y="146" width="62.3" height="1" fill="url(#lg70)"/><rect x="224.3" y="147" width="62.3" height="1" fill="url(#lg71)"/><rect x="224.3" y="148" width="62.3" height="1" fill="url(#lg72)"/><rect x="224.3" y="149" width="62.3" height="1" fill="url(#lg73)"/><rect x="224.3" y="150" width="62.3" height="1" fill="url(#lg74)"/><rect x="224.3" y="151" width="62.3" height="1" fill="url(#lg75)"/><rect x="224.3" y="152" width="62.3" height="1" fill="url(#lg76)"/><rect x="224.3" y="153" width="62.3" height="1" fill="url(#lg77)"/><rect x="224.3" y="154" width="62.3" height="0.5" fill="url(#lg78)"/></g><line x1="247.5" y1="117.3" x2="247.5" y2="154.5" stroke="#000" stroke-width="0.9" stroke-dasharray="2,1.6"/><line x1="264.4" y1="117.3" x2="264.4" y2="154.5" stroke="#000" stroke-width="0.9" stroke-dasharray="2,1.6"/><line x1="274.5" y1="117.3" x2="274.5" y2="154.5" stroke="#000" stroke-width="0.9" stroke-dasharray="2,1.6"/><rect x="224.6" y="124.8" width="22.7" height="2.8" fill="none" stroke="#5a5a5a" stroke-width="0.55" stroke-dasharray="1.3,1"/><rect x="224.3" y="117.3" width="62.3" height="37.2" fill="none" stroke="#111" stroke-width="0.9"/><g shape-rendering="crispEdges"><rect x="307" y="76.3" width="62.6" height="0.7" fill="url(#lg79)"/><rect x="307" y="77" width="62.6" height="1" fill="url(#lg80)"/><rect x="307" y="78" width="62.6" height="1" fill="url(#lg81)"/><rect x="307" y="79" width="62.6" height="1" fill="url(#lg82)"/><rect x="307" y="80" width="62.6" height="1" fill="url(#lg83)"/><rect x="307" y="81" width="62.6" height="1" fill="url(#lg84)"/><rect x="307" y="82" width="62.6" height="1" fill="url(#lg85)"/><rect x="307" y="83" width="62.6" height="1" fill="url(#lg86)"/><rect x="307" y="84" width="62.6" height="1" fill="url(#lg87)"/><rect x="307" y="85" width="62.6" height="1" fill="url(#lg88)"/><rect x="307" y="86" width="62.6" height="1" fill="#07bcbf"/><rect x="307" y="87" width="62.6" height="1" fill="#02b7cb"/><rect x="307" y="88" width="62.6" height="1" fill="#10b2d5"/><rect x="307" y="89" width="62.6" height="1" fill="#1aabdd"/><rect x="307" y="90" width="62.6" height="1" fill="#20a5e2"/><rect x="307" y="91" width="62.6" height="1" fill="#249ee6"/><rect x="307" y="92" width="62.6" height="1" fill="#2797ea"/><rect x="307" y="93" width="62.6" height="1" fill="#2b91ef"/><rect x="307" y="94" width="62.6" height="1" fill="#2d8af4"/><rect x="307" y="95" width="62.6" height="1" fill="#2e84f8"/><rect x="307" y="96" width="62.6" height="1" fill="#3080fb"/><rect x="307" y="97" width="62.6" height="1" fill="#337bfc"/><rect x="307" y="98" width="62.6" height="1" fill="#3876fe"/><rect x="307" y="99" width="62.6" height="1" fill="#3c72ff"/><rect x="307" y="100" width="62.6" height="1" fill="#3f6eff"/><rect x="307" y="101" width="62.6" height="1" fill="#416bfe"/><rect x="307" y="102" width="62.6" height="1" fill="#4368fe"/><rect x="307" y="103" width="62.6" height="1" fill="#4465fd"/><rect x="307" y="104" width="62.6" height="1" fill="#4562fc"/><rect x="307" y="105" width="62.6" height="1" fill="#465dfa"/><rect x="307" y="106" width="62.6" height="1" fill="#402bb7"/><rect x="307" y="107" width="62.6" height="1" fill="#402bb6"/><rect x="307" y="108" width="62.6" height="1" fill="#402ab5"/><rect x="307" y="109" width="62.6" height="1" fill="#402ab4"/><rect x="307" y="110" width="62.6" height="1" fill="#402ab3"/><rect x="307" y="111" width="62.6" height="1" fill="#3f29b2"/><rect x="307" y="112" width="62.6" height="1" fill="#3f29b1"/><rect x="307" y="113" width="62.6" height="0.5" fill="#3f29b0"/></g><line x1="330.5" y1="76.3" x2="330.5" y2="113.5" stroke="#000" stroke-width="0.9" stroke-dasharray="2,1.6"/><line x1="346.5" y1="76.3" x2="346.5" y2="113.5" stroke="#000" stroke-width="0.9" stroke-dasharray="2,1.6"/><line x1="357" y1="76.3" x2="357" y2="113.5" stroke="#000" stroke-width="0.9" stroke-dasharray="2,1.6"/><rect x="307.3" y="80.1" width="23" height="3.3" fill="none" stroke="#5a5a5a" stroke-width="0.55" stroke-dasharray="1.3,1"/><rect x="307" y="76.3" width="62.6" height="37.2" fill="none" stroke="#111" stroke-width="0.9"/><g shape-rendering="crispEdges"><rect x="307" y="117.3" width="62.6" height="0.7" fill="#05b6ce"/><rect x="307" y="118" width="62.6" height="1" fill="url(#lg89)"/><rect x="307" y="119" width="62.6" height="1" fill="url(#lg90)"/><rect x="307" y="120" width="62.6" height="1" fill="url(#lg91)"/><rect x="307" y="121" width="62.6" height="1" fill="url(#lg92)"/><rect x="307" y="122" width="62.6" height="1" fill="url(#lg93)"/><rect x="307" y="123" width="62.6" height="1" fill="url(#lg94)"/><rect x="307" y="124" width="62.6" height="1" fill="url(#lg95)"/><rect x="307" y="125" width="62.6" height="1" fill="url(#lg96)"/><rect x="307" y="126" width="62.6" height="1" fill="url(#lg97)"/><rect x="307" y="127" width="62.6" height="1" fill="url(#lg98)"/><rect x="307" y="128" width="62.6" height="1" fill="url(#lg99)"/><rect x="307" y="129" width="62.6" height="1" fill="url(#lg100)"/><rect x="307" y="130" width="62.6" height="1" fill="url(#lg101)"/><rect x="307" y="131" width="62.6" height="1" fill="url(#lg102)"/><rect x="307" y="132" width="62.6" height="1" fill="url(#lg103)"/><rect x="307" y="133" width="62.6" height="1" fill="url(#lg104)"/><rect x="307" y="134" width="62.6" height="1" fill="url(#lg105)"/><rect x="307" y="135" width="62.6" height="1" fill="#2c8ef2"/><rect x="307" y="136" width="62.6" height="1" fill="#2d87f6"/><rect x="307" y="137" width="62.6" height="1" fill="#2e83f9"/><rect x="307" y="138" width="62.6" height="1" fill="#307ffb"/><rect x="307" y="139" width="62.6" height="1" fill="#347afd"/><rect x="307" y="140" width="62.6" height="1" fill="#3875fe"/><rect x="307" y="141" width="62.6" height="1" fill="#3c71ff"/><rect x="307" y="142" width="62.6" height="1" fill="#3f6efe"/><rect x="307" y="143" width="62.6" height="1" fill="#426afe"/><rect x="307" y="144" width="62.6" height="1" fill="#4466fd"/><rect x="307" y="145" width="62.6" height="1" fill="#4562fc"/><rect x="307" y="146" width="62.6" height="1" fill="#465dfa"/><rect x="307" y="147" width="62.6" height="1" fill="#402bb7"/><rect x="307" y="148" width="62.6" height="1" fill="#402bb6"/><rect x="307" y="149" width="62.6" height="1" fill="#402ab5"/><rect x="307" y="150" width="62.6" height="1" fill="#402ab4"/><rect x="307" y="151" width="62.6" height="1" fill="#402ab3"/><rect x="307" y="152" width="62.6" height="1" fill="#3f29b2"/><rect x="307" y="153" width="62.6" height="1" fill="#3f29b1"/><rect x="307" y="154" width="62.6" height="0.5" fill="#3f29b0"/></g><line x1="330.5" y1="117.3" x2="330.5" y2="154.5" stroke="#000" stroke-width="0.9" stroke-dasharray="2,1.6"/><line x1="346.5" y1="117.3" x2="346.5" y2="154.5" stroke="#000" stroke-width="0.9" stroke-dasharray="2,1.6"/><line x1="357" y1="117.3" x2="357" y2="154.5" stroke="#000" stroke-width="0.9" stroke-dasharray="2,1.6"/><rect x="307.3" y="121.1" width="23" height="3.3" fill="none" stroke="#5a5a5a" stroke-width="0.55" stroke-dasharray="1.3,1"/><rect x="307" y="117.3" width="62.6" height="37.2" fill="none" stroke="#111" stroke-width="0.9"/><g shape-rendering="crispEdges"><rect x="429.3" y="76.3" width="62.3" height="0.7" fill="#22a1e4"/><rect x="429.3" y="77" width="62.3" height="1" fill="#18aedb"/><rect x="429.3" y="78" width="62.3" height="1" fill="url(#lg106)"/><rect x="429.3" y="79" width="62.3" height="1" fill="#2cc4a7"/><rect x="429.3" y="80" width="62.3" height="1" fill="url(#lg107)"/><rect x="429.3" y="81" width="62.3" height="1" fill="url(#lg108)"/><rect x="429.3" y="82" width="62.3" height="1" fill="url(#lg109)"/><rect x="429.3" y="83" width="62.3" height="1" fill="url(#lg110)"/><rect x="429.3" y="84" width="62.3" height="1" fill="url(#lg111)"/><rect x="429.3" y="85" width="62.3" height="1" fill="url(#lg112)"/><rect x="429.3" y="86" width="62.3" height="1" fill="url(#lg113)"/><rect x="429.3" y="87" width="62.3" height="1" fill="url(#lg114)"/><rect x="429.3" y="88" width="62.3" height="1" fill="url(#lg115)"/><rect x="429.3" y="89" width="62.3" height="1" fill="url(#lg116)"/><rect x="429.3" y="90" width="62.3" height="1" fill="url(#lg117)"/><rect x="429.3" y="91" width="62.3" height="1" fill="url(#lg118)"/><rect x="429.3" y="92" width="62.3" height="1" fill="url(#lg119)"/><rect x="429.3" y="93" width="62.3" height="1" fill="url(#lg120)"/><rect x="429.3" y="94" width="62.3" height="1" fill="url(#lg121)"/><rect x="429.3" y="95" width="62.3" height="1" fill="url(#lg122)"/><rect x="429.3" y="96" width="62.3" height="1" fill="url(#lg123)"/><rect x="429.3" y="97" width="62.3" height="1" fill="url(#lg124)"/><rect x="429.3" y="98" width="62.3" height="1" fill="#06b5cf"/><rect x="429.3" y="99" width="62.3" height="1" fill="#1da8e0"/><rect x="429.3" y="100" width="62.3" height="1" fill="#259ce7"/><rect x="429.3" y="101" width="62.3" height="1" fill="#2c90f0"/><rect x="429.3" y="102" width="62.3" height="1" fill="#2e84f8"/><rect x="429.3" y="103" width="62.3" height="1" fill="#3578fd"/><rect x="429.3" y="104" width="62.3" height="1" fill="#406cfe"/><rect x="429.3" y="105" width="62.3" height="1" fill="#4562fc"/><rect x="429.3" y="106" width="62.3" height="1" fill="#402bb7"/><rect x="429.3" y="107" width="62.3" height="1" fill="#402bb6"/><rect x="429.3" y="108" width="62.3" height="1" fill="#402ab5"/><rect x="429.3" y="109" width="62.3" height="1" fill="#402ab4"/><rect x="429.3" y="110" width="62.3" height="1" fill="#402ab3"/><rect x="429.3" y="111" width="62.3" height="1" fill="#3f29b2"/><rect x="429.3" y="112" width="62.3" height="1" fill="#3f29b1"/><rect x="429.3" y="113" width="62.3" height="0.5" fill="#3f29b0"/></g><line x1="452.5" y1="76.3" x2="452.5" y2="113.5" stroke="#000" stroke-width="0.9" stroke-dasharray="2,1.6"/><line x1="468.9" y1="76.3" x2="468.9" y2="113.5" stroke="#000" stroke-width="0.9" stroke-dasharray="2,1.6"/><line x1="479.7" y1="76.3" x2="479.7" y2="113.5" stroke="#000" stroke-width="0.9" stroke-dasharray="2,1.6"/><rect x="429.6" y="89.3" width="22.7" height="2.9" fill="none" stroke="#5a5a5a" stroke-width="0.55" stroke-dasharray="1.3,1"/><rect x="429.3" y="76.3" width="62.3" height="37.2" fill="none" stroke="#111" stroke-width="0.9"/><g shape-rendering="crispEdges"><rect x="429.3" y="117.3" width="62.3" height="0.7" fill="url(#lg125)"/><rect x="429.3" y="118" width="62.3" height="1" fill="url(#lg126)"/><rect x="429.3" y="119" width="62.3" height="1" fill="url(#lg127)"/><rect x="429.3" y="120" width="62.3" height="1" fill="url(#lg128)"/><rect x="429.3" y="121" width="62.3" height="1" fill="url(#lg129)"/><rect x="429.3" y="122" width="62.3" height="1" fill="url(#lg130)"/><rect x="429.3" y="123" width="62.3" height="1" fill="url(#lg131)"/><rect x="429.3" y="124" width="62.3" height="1" fill="url(#lg132)"/><rect x="429.3" y="125" width="62.3" height="1" fill="url(#lg133)"/><rect x="429.3" y="126" width="62.3" height="1" fill="url(#lg134)"/><rect x="429.3" y="127" width="62.3" height="1" fill="url(#lg135)"/><rect x="429.3" y="128" width="62.3" height="1" fill="url(#lg136)"/><rect x="429.3" y="129" width="62.3" height="1" fill="url(#lg137)"/><rect x="429.3" y="130" width="62.3" height="1" fill="url(#lg138)"/><rect x="429.3" y="131" width="62.3" height="1" fill="url(#lg139)"/><rect x="429.3" y="132" width="62.3" height="1" fill="url(#lg140)"/><rect x="429.3" y="133" width="62.3" height="1" fill="url(#lg141)"/><rect x="429.3" y="134" width="62.3" height="1" fill="url(#lg142)"/><rect x="429.3" y="135" width="62.3" height="1" fill="url(#lg143)"/><rect x="429.3" y="136" width="62.3" height="1" fill="url(#lg144)"/><rect x="429.3" y="137" width="62.3" height="1" fill="url(#lg145)"/><rect x="429.3" y="138" width="62.3" height="1" fill="url(#lg146)"/><rect x="429.3" y="139" width="62.3" height="1" fill="url(#lg147)"/><rect x="429.3" y="140" width="62.3" height="1" fill="url(#lg148)"/><rect x="429.3" y="141" width="62.3" height="1" fill="url(#lg149)"/><rect x="429.3" y="142" width="62.3" height="1" fill="url(#lg150)"/><rect x="429.3" y="143" width="62.3" height="1" fill="#2e85f8"/><rect x="429.3" y="144" width="62.3" height="1" fill="url(#lg151)"/><rect x="429.3" y="145" width="62.3" height="1" fill="#3e6fff"/><rect x="429.3" y="146" width="62.3" height="1" fill="#4466fd"/><rect x="429.3" y="147" width="62.3" height="1" fill="#402bb7"/><rect x="429.3" y="148" width="62.3" height="1" fill="#402bb6"/><rect x="429.3" y="149" width="62.3" height="1" fill="#402ab5"/><rect x="429.3" y="150" width="62.3" height="1" fill="#402ab4"/><rect x="429.3" y="151" width="62.3" height="1" fill="#402ab3"/><rect x="429.3" y="152" width="62.3" height="1" fill="#3f29b2"/><rect x="429.3" y="153" width="62.3" height="1" fill="#3f29b1"/><rect x="429.3" y="154" width="62.3" height="0.5" fill="#3f29b0"/></g><line x1="452.5" y1="117.3" x2="452.5" y2="154.5" stroke="#000" stroke-width="0.9" stroke-dasharray="2,1.6"/><line x1="468.9" y1="117.3" x2="468.9" y2="154.5" stroke="#000" stroke-width="0.9" stroke-dasharray="2,1.6"/><line x1="479.7" y1="117.3" x2="479.7" y2="154.5" stroke="#000" stroke-width="0.9" stroke-dasharray="2,1.6"/><rect x="429.6" y="130.3" width="22.7" height="2.9" fill="none" stroke="#5a5a5a" stroke-width="0.55" stroke-dasharray="1.3,1"/><rect x="429.3" y="117.3" width="62.3" height="37.2" fill="none" stroke="#111" stroke-width="0.9"/><g shape-rendering="crispEdges"><rect x="512.2" y="76.3" width="62.5" height="0.7" fill="#02b7cb"/><rect x="512.2" y="77" width="62.5" height="1" fill="#0dbdbc"/><rect x="512.2" y="78" width="62.5" height="1" fill="#27c2ab"/><rect x="512.2" y="79" width="62.5" height="1" fill="#34c79b"/><rect x="512.2" y="80" width="62.5" height="1" fill="#3dca90"/><rect x="512.2" y="81" width="62.5" height="1" fill="#4bcb84"/><rect x="512.2" y="82" width="62.5" height="1" fill="#5bcc77"/><rect x="512.2" y="83" width="62.5" height="1" fill="#6acd6a"/><rect x="512.2" y="84" width="62.5" height="1" fill="url(#lg152)"/><rect x="512.2" y="85" width="62.5" height="1" fill="url(#lg153)"/><rect x="512.2" y="86" width="62.5" height="1" fill="url(#lg154)"/><rect x="512.2" y="87" width="62.5" height="1" fill="url(#lg155)"/><rect x="512.2" y="88" width="62.5" height="1" fill="url(#lg156)"/><rect x="512.2" y="89" width="62.5" height="1" fill="url(#lg157)"/><rect x="512.2" y="90" width="62.5" height="1" fill="url(#lg158)"/><rect x="512.2" y="91" width="62.5" height="1" fill="url(#lg159)"/><rect x="512.2" y="92" width="62.5" height="1" fill="url(#lg160)"/><rect x="512.2" y="93" width="62.5" height="1" fill="url(#lg161)"/><rect x="512.2" y="94" width="62.5" height="1" fill="url(#lg162)"/><rect x="512.2" y="95" width="62.5" height="1" fill="url(#lg163)"/><rect x="512.2" y="96" width="62.5" height="1" fill="url(#lg164)"/><rect x="512.2" y="97" width="62.5" height="1" fill="url(#lg165)"/><rect x="512.2" y="98" width="62.5" height="1" fill="url(#lg166)"/><rect x="512.2" y="99" width="62.5" height="1" fill="url(#lg167)"/><rect x="512.2" y="100" width="62.5" height="1" fill="url(#lg168)"/><rect x="512.2" y="101" width="62.5" height="1" fill="#20a4e3"/><rect x="512.2" y="102" width="62.5" height="1" fill="#2797eb"/><rect x="512.2" y="103" width="62.5" height="1" fill="#2d89f5"/><rect x="512.2" y="104" width="62.5" height="1" fill="#327cfc"/><rect x="512.2" y="105" width="62.5" height="1" fill="#3f6eff"/><rect x="512.2" y="106" width="62.5" height="1" fill="#416bfe"/><rect x="512.2" y="107" width="62.5" height="1" fill="#4369fe"/><rect x="512.2" y="108" width="62.5" height="1" fill="#4747eb"/><rect x="512.2" y="109" width="62.5" height="1" fill="#463bdc"/><rect x="512.2" y="110" width="62.5" height="1" fill="#4639da"/><rect x="512.2" y="111" width="62.5" height="2.5" fill="#3e26a8"/></g><line x1="536" y1="76.3" x2="536" y2="113.5" stroke="#000" stroke-width="0.9" stroke-dasharray="2,1.6"/><line x1="552.5" y1="76.3" x2="552.5" y2="113.5" stroke="#000" stroke-width="0.9" stroke-dasharray="2,1.6"/><line x1="563.1" y1="76.3" x2="563.1" y2="113.5" stroke="#000" stroke-width="0.9" stroke-dasharray="2,1.6"/><rect x="512.5" y="93.2" width="23.8" height="2.9" fill="none" stroke="#5a5a5a" stroke-width="0.55" stroke-dasharray="1.3,1"/><rect x="512.2" y="76.3" width="62.5" height="37.2" fill="none" stroke="#111" stroke-width="0.9"/><g shape-rendering="crispEdges"><rect x="512.2" y="117.3" width="62.5" height="0.7" fill="#02bbc3"/><rect x="512.2" y="118" width="62.5" height="1" fill="#1dc0b3"/><rect x="512.2" y="119" width="62.5" height="1" fill="#30c5a2"/><rect x="512.2" y="120" width="62.5" height="1" fill="#3dc990"/><rect x="512.2" y="121" width="62.5" height="1" fill="#46cb87"/><rect x="512.2" y="122" width="62.5" height="1" fill="#52cc7e"/><rect x="512.2" y="123" width="62.5" height="1" fill="#5ecd74"/><rect x="512.2" y="124" width="62.5" height="1" fill="#6acd6a"/><rect x="512.2" y="125" width="62.5" height="1" fill="url(#lg169)"/><rect x="512.2" y="126" width="62.5" height="1" fill="url(#lg170)"/><rect x="512.2" y="127" width="62.5" height="1" fill="url(#lg171)"/><rect x="512.2" y="128" width="62.5" height="1" fill="url(#lg172)"/><rect x="512.2" y="129" width="62.5" height="1" fill="url(#lg173)"/><rect x="512.2" y="130" width="62.5" height="1" fill="url(#lg174)"/><rect x="512.2" y="131" width="62.5" height="1" fill="url(#lg175)"/><rect x="512.2" y="132" width="62.5" height="1" fill="url(#lg176)"/><rect x="512.2" y="133" width="62.5" height="1" fill="url(#lg177)"/><rect x="512.2" y="134" width="62.5" height="1" fill="url(#lg178)"/><rect x="512.2" y="135" width="62.5" height="1" fill="url(#lg179)"/><rect x="512.2" y="136" width="62.5" height="1" fill="url(#lg180)"/><rect x="512.2" y="137" width="62.5" height="1" fill="url(#lg181)"/><rect x="512.2" y="138" width="62.5" height="1" fill="url(#lg182)"/><rect x="512.2" y="139" width="62.5" height="1" fill="url(#lg183)"/><rect x="512.2" y="140" width="62.5" height="1" fill="url(#lg184)"/><rect x="512.2" y="141" width="62.5" height="1" fill="#15afd9"/><rect x="512.2" y="142" width="62.5" height="1" fill="#21a4e3"/><rect x="512.2" y="143" width="62.5" height="1" fill="#2797eb"/><rect x="512.2" y="144" width="62.5" height="1" fill="#2d89f5"/><rect x="512.2" y="145" width="62.5" height="1" fill="#327cfc"/><rect x="512.2" y="146" width="62.5" height="1" fill="#3f6eff"/><rect x="512.2" y="147" width="62.5" height="1" fill="#463bdd"/><rect x="512.2" y="148" width="62.5" height="1" fill="#463adb"/><rect x="512.2" y="149" width="62.5" height="1" fill="#4639d9"/><rect x="512.2" y="150" width="62.5" height="4.5" fill="#3e26a8"/></g><line x1="536" y1="117.3" x2="536" y2="154.5" stroke="#000" stroke-width="0.9" stroke-dasharray="2,1.6"/><line x1="552.5" y1="117.3" x2="552.5" y2="154.5" stroke="#000" stroke-width="0.9" stroke-dasharray="2,1.6"/><line x1="563.1" y1="117.3" x2="563.1" y2="154.5" stroke="#000" stroke-width="0.9" stroke-dasharray="2,1.6"/><rect x="512.5" y="134.2" width="23.8" height="2.9" fill="none" stroke="#5a5a5a" stroke-width="0.55" stroke-dasharray="1.3,1"/><rect x="512.2" y="117.3" width="62.5" height="37.2" fill="none" stroke="#111" stroke-width="0.9"/><text x="222.6" y="84.26" font-size="5.6" fill="#111" text-anchor="end" stroke="#111" stroke-width="0.07">32</text><text x="222.6" y="92.16" font-size="5.6" fill="#111" text-anchor="end" stroke="#111" stroke-width="0.07">16</text><text x="222.6" y="100.36" font-size="5.6" fill="#111" text-anchor="end" stroke="#111" stroke-width="0.07">8</text><text x="222.6" y="108.26" font-size="5.6" fill="#111" text-anchor="end" stroke="#111" stroke-width="0.07">4</text><text x="222.6" y="125.26" font-size="5.6" fill="#111" text-anchor="end" stroke="#111" stroke-width="0.07">32</text><text x="222.6" y="133.16" font-size="5.6" fill="#111" text-anchor="end" stroke="#111" stroke-width="0.07">16</text><text x="222.6" y="141.36" font-size="5.6" fill="#111" text-anchor="end" stroke="#111" stroke-width="0.07">8</text><text x="222.6" y="149.26" font-size="5.6" fill="#111" text-anchor="end" stroke="#111" stroke-width="0.07">4</text><text x="427.9" y="83.46" font-size="5.6" fill="#111" text-anchor="end" stroke="#111" stroke-width="0.07">32</text><text x="427.9" y="91.76" font-size="5.6" fill="#111" text-anchor="end" stroke="#111" stroke-width="0.07">16</text><text x="427.9" y="99.96" font-size="5.6" fill="#111" text-anchor="end" stroke="#111" stroke-width="0.07">8</text><text x="427.9" y="107.96" font-size="5.6" fill="#111" text-anchor="end" stroke="#111" stroke-width="0.07">4</text><text x="427.9" y="124.36" font-size="5.6" fill="#111" text-anchor="end" stroke="#111" stroke-width="0.07">32</text><text x="427.9" y="132.86" font-size="5.6" fill="#111" text-anchor="end" stroke="#111" stroke-width="0.07">16</text><text x="427.9" y="140.76" font-size="5.6" fill="#111" text-anchor="end" stroke="#111" stroke-width="0.07">8</text><text x="427.9" y="148.76" font-size="5.6" fill="#111" text-anchor="end" stroke="#111" stroke-width="0.07">4</text><text transform="translate(198.6,94.6) rotate(-90)" y="2.31" font-size="6.6" fill="#3aa0e0" text-anchor="middle" textLength="22.3" lengthAdjust="spacingAndGlyphs" stroke="#3aa0e0" stroke-width="0.2">PR trials</text><text transform="translate(198.6,135.8) rotate(-90)" y="2.31" font-size="6.6" fill="#ee3040" text-anchor="middle" textLength="26" lengthAdjust="spacingAndGlyphs" stroke="#ee3040" stroke-width="0.2">PNR trials</text><text transform="translate(211,116.4) rotate(-90)" y="2.1" font-size="6" fill="#111" text-anchor="middle" textLength="27" lengthAdjust="spacingAndGlyphs" stroke="#111" stroke-width="0.07">Frequency</text><text transform="translate(416,116.4) rotate(-90)" y="2.1" font-size="6" fill="#111" text-anchor="middle" textLength="27" lengthAdjust="spacingAndGlyphs" stroke="#111" stroke-width="0.07">Frequency</text><text transform="translate(250.6,144.3) rotate(-90)" y="1.54" font-size="4.4" fill="#333" text-anchor="middle">Cue on</text><text transform="translate(267.3,142.3) rotate(-90)" y="1.54" font-size="4.4" fill="#333" text-anchor="middle">Target on</text><text transform="translate(277.4,140.8) rotate(-90)" y="1.54" font-size="4.4" fill="#333" text-anchor="middle">Reward on</text><rect x="289.2" y="95.9" width="1.7" height="39" fill="url(#lg185)"/><text x="291.8" y="101.56" font-size="5.6" fill="#111" stroke="#111" stroke-width="0.07">0.3</text><text x="291.8" y="133.76" font-size="5.6" fill="#111" stroke="#111" stroke-width="0.07">0.1</text><text transform="translate(295.2,115.5) rotate(-90)" y="1.82" font-size="5.2" fill="#111" text-anchor="middle" stroke="#111" stroke-width="0.07">PGD</text><rect x="373.6" y="96.3" width="1.9" height="38.5" fill="url(#lg186)"/><text x="376.6" y="101.86" font-size="5.6" fill="#111" stroke="#111" stroke-width="0.07">0.2</text><text x="376.6" y="135.56" font-size="5.6" fill="#111" stroke="#111" stroke-width="0.07">0.1</text><text transform="translate(379.4,116) rotate(-90)" y="1.82" font-size="5.2" fill="#111" text-anchor="middle" stroke="#111" stroke-width="0.07">PGD</text><rect x="494.6" y="96.3" width="1.9" height="38.7" fill="url(#lg187)"/><text x="498.2" y="103.26" font-size="5.6" fill="#111" stroke="#111" stroke-width="0.07">0.35</text><text x="498.2" y="129.26" font-size="5.6" fill="#111" stroke="#111" stroke-width="0.07">0.2</text><text transform="translate(501.3,115) rotate(-90)" y="1.82" font-size="5.2" fill="#111" text-anchor="middle" stroke="#111" stroke-width="0.07">PGD</text><rect x="577.9" y="96.3" width="1.9" height="38.7" fill="url(#lg188)"/><text x="581" y="105.66" font-size="5.6" fill="#111" stroke="#111" stroke-width="0.07">0.25</text><text x="581" y="134.96" font-size="5.6" fill="#111" stroke="#111" stroke-width="0.07">0.1</text><text transform="translate(584.6,116) rotate(-90)" y="1.82" font-size="5.2" fill="#111" text-anchor="middle" stroke="#111" stroke-width="0.07">PGD</text><g shape-rendering="crispEdges"><rect x="224.3" y="169.3" width="62.2" height="0.7" fill="url(#lg189)"/><rect x="224.3" y="170" width="62.2" height="1" fill="url(#lg190)"/><rect x="224.3" y="171" width="62.2" height="1" fill="url(#lg191)"/><rect x="224.3" y="172" width="62.2" height="1" fill="url(#lg192)"/><rect x="224.3" y="173" width="62.2" height="1" fill="url(#lg193)"/><rect x="224.3" y="174" width="62.2" height="1" fill="url(#lg194)"/><rect x="224.3" y="175" width="62.2" height="1" fill="url(#lg195)"/><rect x="224.3" y="176" width="62.2" height="1" fill="url(#lg196)"/><rect x="224.3" y="177" width="62.2" height="1" fill="url(#lg197)"/><rect x="224.3" y="178" width="62.2" height="1" fill="url(#lg198)"/><rect x="224.3" y="179" width="62.2" height="1" fill="url(#lg199)"/><rect x="224.3" y="180" width="62.2" height="1" fill="url(#lg200)"/><rect x="224.3" y="181" width="62.2" height="1" fill="url(#lg201)"/><rect x="224.3" y="182" width="62.2" height="1" fill="url(#lg202)"/><rect x="224.3" y="183" width="62.2" height="1" fill="url(#lg203)"/><rect x="224.3" y="184" width="62.2" height="1" fill="url(#lg204)"/><rect x="224.3" y="185" width="62.2" height="1" fill="url(#lg205)"/><rect x="224.3" y="186" width="62.2" height="1" fill="url(#lg206)"/><rect x="224.3" y="187" width="62.2" height="1" fill="url(#lg207)"/><rect x="224.3" y="188" width="62.2" height="1" fill="url(#lg208)"/><rect x="224.3" y="189" width="62.2" height="1" fill="url(#lg209)"/><rect x="224.3" y="190" width="62.2" height="1" fill="url(#lg210)"/><rect x="224.3" y="191" width="62.2" height="1" fill="url(#lg211)"/><rect x="224.3" y="192" width="62.2" height="1" fill="url(#lg212)"/><rect x="224.3" y="193" width="62.2" height="1" fill="url(#lg213)"/><rect x="224.3" y="194" width="62.2" height="1" fill="url(#lg214)"/><rect x="224.3" y="195" width="62.2" height="1" fill="url(#lg215)"/><rect x="224.3" y="196" width="62.2" height="1" fill="url(#lg216)"/><rect x="224.3" y="197" width="62.2" height="1" fill="url(#lg217)"/><rect x="224.3" y="198" width="62.2" height="1" fill="url(#lg218)"/><rect x="224.3" y="199" width="62.2" height="1" fill="url(#lg219)"/><rect x="224.3" y="200" width="62.2" height="1" fill="url(#lg220)"/><rect x="224.3" y="201" width="62.2" height="1" fill="url(#lg221)"/><rect x="224.3" y="202" width="62.2" height="1" fill="url(#lg222)"/><rect x="224.3" y="203" width="62.2" height="1" fill="url(#lg223)"/><rect x="224.3" y="204" width="62.2" height="1" fill="url(#lg224)"/><rect x="224.3" y="205" width="62.2" height="1" fill="url(#lg225)"/><rect x="224.3" y="206" width="62.2" height="0.5" fill="url(#lg226)"/></g><line x1="247.5" y1="169.3" x2="247.5" y2="206.5" stroke="#222" stroke-width="0.8" stroke-dasharray="2,1.6"/><line x1="264.1" y1="169.3" x2="264.1" y2="206.5" stroke="#222" stroke-width="0.8" stroke-dasharray="2,1.6"/><line x1="274.2" y1="169.3" x2="274.2" y2="206.5" stroke="#222" stroke-width="0.8" stroke-dasharray="2,1.6"/><path d="M224.3,172.2 226.2,172.7 227.2,173.2 228.3,173.9 229.4,173.7 230.4,173.9 231.5,174.2 233,174.2 233.6,175.6 235.2,176 236.7,175.5 238.3,175.2 239.9,176 241.5,175.2 243,176.2 244.6,175.6 245.7,175.4 246.7,178 247.8,179 249.4,179.6 250.4,180 251.5,180.1 252.6,180.1 253.6,180.8 254.6,180.6 255.7,180.9 256.8,181.1 257.8,181.5 257.8,182.2 256.8,181.8 255.7,182.3 254.7,182 253.6,183.3 252.5,183.7 251.5,182.9 250.4,183.8 249.4,184.9 248.3,184.2 247.3,184.7 246.2,186.3 245.2,186.3 244.6,188.3 243,187.8 241.9,186.6 240.9,187.3 239.9,186.7 238.8,188.4 237.8,187.2 236.7,187.4 235.6,187.3 234.6,188.2 233.6,188.3 232.5,188.6 231.4,189 230.4,189.4 229.4,188.7 228.3,188.8 227.3,189.4 226.7,191.7 225.7,194.5 224.9,196.6 224.5,198.5 224.3,199.5Z" fill="none" stroke="#000" stroke-width="0.7" stroke-linejoin="round"/><path d="M259.8,179.8 263.5,179.3 266,180.3 265.8,182.3 262,182.8 259.8,182.2Z" fill="none" stroke="#000" stroke-width="0.7" stroke-linejoin="round"/><rect x="224.3" y="169.3" width="62.2" height="37.2" fill="none" stroke="#111" stroke-width="0.9"/><rect x="289.6" y="169.3" width="1.9" height="37.5" fill="url(#lg227)"/><text x="292.3" y="172.96" font-size="5.6" fill="#111" stroke="#111" stroke-width="0.07">0.4</text><text x="292.3" y="189.96" font-size="5.6" fill="#111" stroke="#111" stroke-width="0.07">0</text><text x="292.3" y="207.56" font-size="5.6" fill="#111" stroke="#111" stroke-width="0.07">-0.4</text><g shape-rendering="crispEdges"><rect x="306.5" y="169.3" width="62.7" height="3.7" fill="#8fff71"/><rect x="306.5" y="173" width="62.7" height="1" fill="url(#lg228)"/><rect x="306.5" y="174" width="62.7" height="1" fill="url(#lg229)"/><rect x="306.5" y="175" width="62.7" height="1" fill="url(#lg230)"/><rect x="306.5" y="176" width="62.7" height="1" fill="url(#lg231)"/><rect x="306.5" y="177" width="62.7" height="1" fill="url(#lg232)"/><rect x="306.5" y="178" width="62.7" height="1" fill="url(#lg233)"/><rect x="306.5" y="179" width="62.7" height="1" fill="url(#lg234)"/><rect x="306.5" y="180" width="62.7" height="1" fill="url(#lg235)"/><rect x="306.5" y="181" width="62.7" height="1" fill="url(#lg236)"/><rect x="306.5" y="182" width="62.7" height="1" fill="url(#lg237)"/><rect x="306.5" y="183" width="62.7" height="1" fill="url(#lg238)"/><rect x="306.5" y="184" width="62.7" height="1" fill="url(#lg239)"/><rect x="306.5" y="185" width="62.7" height="1" fill="url(#lg240)"/><rect x="306.5" y="186" width="62.7" height="1" fill="url(#lg241)"/><rect x="306.5" y="187" width="62.7" height="1" fill="url(#lg242)"/><rect x="306.5" y="188" width="62.7" height="11" fill="#8fff71"/><rect x="306.5" y="199" width="62.7" height="1" fill="url(#lg243)"/><rect x="306.5" y="200" width="62.7" height="1" fill="url(#lg244)"/><rect x="306.5" y="201" width="62.7" height="1" fill="url(#lg245)"/><rect x="306.5" y="202" width="62.7" height="2" fill="url(#lg246)"/><rect x="306.5" y="204" width="62.7" height="1" fill="url(#lg245)"/><rect x="306.5" y="205" width="62.7" height="1" fill="url(#lg244)"/><rect x="306.5" y="206" width="62.7" height="0.5" fill="url(#lg243)"/></g><rect x="313" y="186.5" width="1.1" height="2.6" fill="#000"/><rect x="317.4" y="186.4" width="1.3" height="3.3" fill="#000"/><line x1="330.2" y1="169.3" x2="330.2" y2="206.5" stroke="#222" stroke-width="0.8" stroke-dasharray="2,1.6"/><line x1="346.5" y1="169.3" x2="346.5" y2="206.5" stroke="#222" stroke-width="0.8" stroke-dasharray="2,1.6"/><line x1="356.2" y1="169.3" x2="356.2" y2="206.5" stroke="#222" stroke-width="0.8" stroke-dasharray="2,1.6"/><path d="M307.5,173.3 312,173.4 316,173.8 320,173.9 321.5,174.6 322.8,176.6 321,178.3 316,178.2 312,178.6 307.5,178.3Z" fill="none" stroke="#000" stroke-width="0.7" stroke-linejoin="round"/><rect x="306.5" y="169.3" width="62.7" height="37.2" fill="none" stroke="#111" stroke-width="0.9"/><rect x="373.6" y="169.3" width="2.1" height="37.5" fill="url(#lg247)"/><text x="376.4" y="172.96" font-size="5.6" fill="#111" stroke="#111" stroke-width="0.07">0.2</text><text x="376.4" y="189.96" font-size="5.6" fill="#111" stroke="#111" stroke-width="0.07">0</text><text x="376.4" y="206.96" font-size="5.6" fill="#111" stroke="#111" stroke-width="0.07">-0.2</text><g shape-rendering="crispEdges"><rect x="429.3" y="168.5" width="62.3" height="0.5" fill="url(#lg248)"/><rect x="429.3" y="169" width="62.3" height="1" fill="url(#lg249)"/><rect x="429.3" y="170" width="62.3" height="1" fill="url(#lg250)"/><rect x="429.3" y="171" width="62.3" height="1" fill="url(#lg251)"/><rect x="429.3" y="172" width="62.3" height="1" fill="url(#lg252)"/><rect x="429.3" y="173" width="62.3" height="1" fill="url(#lg253)"/><rect x="429.3" y="174" width="62.3" height="1" fill="url(#lg254)"/><rect x="429.3" y="175" width="62.3" height="1" fill="url(#lg255)"/><rect x="429.3" y="176" width="62.3" height="1" fill="url(#lg256)"/><rect x="429.3" y="177" width="62.3" height="1" fill="url(#lg257)"/><rect x="429.3" y="178" width="62.3" height="1" fill="url(#lg258)"/><rect x="429.3" y="179" width="62.3" height="1" fill="url(#lg259)"/><rect x="429.3" y="180" width="62.3" height="1" fill="url(#lg260)"/><rect x="429.3" y="181" width="62.3" height="1" fill="url(#lg261)"/><rect x="429.3" y="182" width="62.3" height="1" fill="url(#lg262)"/><rect x="429.3" y="183" width="62.3" height="1" fill="url(#lg263)"/><rect x="429.3" y="184" width="62.3" height="1" fill="url(#lg264)"/><rect x="429.3" y="185" width="62.3" height="1" fill="url(#lg265)"/><rect x="429.3" y="186" width="62.3" height="1" fill="url(#lg266)"/><rect x="429.3" y="187" width="62.3" height="1" fill="url(#lg267)"/><rect x="429.3" y="188" width="62.3" height="1" fill="url(#lg268)"/><rect x="429.3" y="189" width="62.3" height="1" fill="url(#lg269)"/><rect x="429.3" y="190" width="62.3" height="1" fill="url(#lg270)"/><rect x="429.3" y="191" width="62.3" height="1" fill="url(#lg271)"/><rect x="429.3" y="192" width="62.3" height="1" fill="url(#lg272)"/><rect x="429.3" y="193" width="62.3" height="1" fill="url(#lg273)"/><rect x="429.3" y="194" width="62.3" height="1" fill="url(#lg274)"/><rect x="429.3" y="195" width="62.3" height="1" fill="url(#lg275)"/><rect x="429.3" y="196" width="62.3" height="1" fill="url(#lg276)"/><rect x="429.3" y="197" width="62.3" height="1" fill="url(#lg277)"/><rect x="429.3" y="198" width="62.3" height="1" fill="url(#lg278)"/><rect x="429.3" y="199" width="62.3" height="1" fill="url(#lg279)"/><rect x="429.3" y="200" width="62.3" height="1" fill="url(#lg280)"/><rect x="429.3" y="201" width="62.3" height="1" fill="url(#lg281)"/><rect x="429.3" y="202" width="62.3" height="1" fill="url(#lg282)"/><rect x="429.3" y="203" width="62.3" height="1" fill="url(#lg283)"/><rect x="429.3" y="204" width="62.3" height="1" fill="url(#lg284)"/><rect x="429.3" y="205" width="62.3" height="1" fill="url(#lg285)"/><rect x="429.3" y="206" width="62.3" height="0.3" fill="url(#lg286)"/></g><line x1="452.6" y1="168.5" x2="452.6" y2="206.3" stroke="#222" stroke-width="0.8" stroke-dasharray="2,1.6"/><line x1="468.8" y1="168.5" x2="468.8" y2="206.3" stroke="#222" stroke-width="0.8" stroke-dasharray="2,1.6"/><line x1="479.6" y1="168.5" x2="479.6" y2="206.3" stroke="#222" stroke-width="0.8" stroke-dasharray="2,1.6"/><path d="M429.3,172.5 430,173.4 431.1,174.4 432.3,174.7 433.4,174.6 434.4,174.5 435.7,175.4 437,175.6 438.3,175.6 439.6,175.9 441,175.9 442.3,176 443.8,177.8 445.4,179.7 447,180.1 448.1,181.3 449.1,180.9 450.2,181.2 451.2,181 452.3,182.2 453.3,182 454.4,182.1 455.4,181.8 456.5,181 457.5,181.3 458.6,181.5 459.6,181 460.7,182 461.7,181.3 462.8,181 463.8,181.8 464.9,180.9 465.9,181.9 467,181.3 468,181.5 469.1,181.2 470.2,181.4 471.2,181.1 472.2,180.9 473.3,181.9 474.5,181.2 475.6,181.9 476.8,181.3 478,181.7 478,182.4 476.8,182.5 475.6,183.1 474.5,182 473.3,182.7 472.2,182.2 471.2,182.5 470.1,183.2 469.1,183.6 468.1,182.7 467,183.5 465.9,184 464.9,183.8 463.8,183.2 462.8,184.2 461.7,183.3 460.6,183.8 459.6,184 458.5,183.9 457.5,184.5 456.4,184.3 455.4,184.6 454.3,184.1 453.3,184.4 452.2,183.4 451.2,183.5 450.1,184.1 449.1,184.7 448,183.7 446.9,185.1 445.9,186 444.9,186.7 443.8,188.1 442.8,188.1 441.7,188.2 440.7,189.5 439.6,188.9 438.6,190.1 437.6,189.6 436.5,190.3 435.4,190.1 434.4,190.8 433.4,192.4 432.3,191.5 430.7,192.8 430,194.4 429.3,197Z" fill="none" stroke="#000" stroke-width="0.7" stroke-linejoin="round"/><rect x="429.3" y="168.5" width="62.3" height="37.8" fill="none" stroke="#111" stroke-width="0.9"/><rect x="495.6" y="168.5" width="2.2" height="37.8" fill="url(#lg287)"/><text x="498.4" y="173.96" font-size="5.6" fill="#111" stroke="#111" stroke-width="0.07">0.2</text><text x="498.4" y="189.96" font-size="5.6" fill="#111" stroke="#111" stroke-width="0.07">0</text><text x="498.4" y="205.96" font-size="5.6" fill="#111" stroke="#111" stroke-width="0.07">-0.2</text><g shape-rendering="crispEdges"><rect x="512.3" y="168.5" width="62.7" height="0.5" fill="url(#lg288)"/><rect x="512.3" y="169" width="62.7" height="1" fill="url(#lg289)"/><rect x="512.3" y="170" width="62.7" height="1" fill="url(#lg290)"/><rect x="512.3" y="171" width="62.7" height="1" fill="url(#lg291)"/><rect x="512.3" y="172" width="62.7" height="1" fill="url(#lg292)"/><rect x="512.3" y="173" width="62.7" height="1" fill="url(#lg293)"/><rect x="512.3" y="174" width="62.7" height="1" fill="url(#lg294)"/><rect x="512.3" y="175" width="62.7" height="1" fill="url(#lg295)"/><rect x="512.3" y="176" width="62.7" height="1" fill="url(#lg296)"/><rect x="512.3" y="177" width="62.7" height="1" fill="url(#lg297)"/><rect x="512.3" y="178" width="62.7" height="1" fill="url(#lg298)"/><rect x="512.3" y="179" width="62.7" height="1" fill="url(#lg299)"/><rect x="512.3" y="180" width="62.7" height="1" fill="url(#lg300)"/><rect x="512.3" y="181" width="62.7" height="1" fill="url(#lg301)"/><rect x="512.3" y="182" width="62.7" height="1" fill="url(#lg302)"/><rect x="512.3" y="183" width="62.7" height="1" fill="url(#lg303)"/><rect x="512.3" y="184" width="62.7" height="1" fill="url(#lg304)"/><rect x="512.3" y="185" width="62.7" height="1" fill="url(#lg305)"/><rect x="512.3" y="186" width="62.7" height="1" fill="url(#lg306)"/><rect x="512.3" y="187" width="62.7" height="1" fill="url(#lg307)"/><rect x="512.3" y="188" width="62.7" height="1" fill="url(#lg308)"/><rect x="512.3" y="189" width="62.7" height="1" fill="url(#lg309)"/><rect x="512.3" y="190" width="62.7" height="1" fill="url(#lg310)"/><rect x="512.3" y="191" width="62.7" height="1" fill="url(#lg311)"/><rect x="512.3" y="192" width="62.7" height="1" fill="url(#lg312)"/><rect x="512.3" y="193" width="62.7" height="1" fill="url(#lg313)"/><rect x="512.3" y="194" width="62.7" height="1" fill="url(#lg314)"/><rect x="512.3" y="195" width="62.7" height="1" fill="url(#lg315)"/><rect x="512.3" y="196" width="62.7" height="1" fill="url(#lg316)"/><rect x="512.3" y="197" width="62.7" height="1" fill="url(#lg317)"/><rect x="512.3" y="198" width="62.7" height="1" fill="url(#lg318)"/><rect x="512.3" y="199" width="62.7" height="1" fill="url(#lg319)"/><rect x="512.3" y="200" width="62.7" height="1" fill="url(#lg320)"/><rect x="512.3" y="201" width="62.7" height="1" fill="url(#lg321)"/><rect x="512.3" y="202" width="62.7" height="1" fill="url(#lg322)"/><rect x="512.3" y="203" width="62.7" height="1" fill="url(#lg323)"/><rect x="512.3" y="204" width="62.7" height="1" fill="url(#lg324)"/><rect x="512.3" y="205" width="62.7" height="1" fill="url(#lg325)"/><rect x="512.3" y="206" width="62.7" height="0.3" fill="url(#lg326)"/></g><line x1="536.4" y1="168.5" x2="536.4" y2="206.3" stroke="#222" stroke-width="0.8" stroke-dasharray="2,1.6"/><line x1="552.6" y1="168.5" x2="552.6" y2="206.3" stroke="#222" stroke-width="0.8" stroke-dasharray="2,1.6"/><line x1="562.5" y1="168.5" x2="562.5" y2="206.3" stroke="#222" stroke-width="0.8" stroke-dasharray="2,1.6"/><rect x="512.3" y="168.5" width="62.7" height="37.8" fill="none" stroke="#111" stroke-width="0.9"/><path d="M512.3,177 513.9,176.4 515.2,178.4 515.9,181 517.8,183.6 520.4,185.5 523,186.6 526.9,186.8 530.8,187.1 534.7,187.5 536,188.8 536.7,191.4 537.3,193.3 536.7,195.3 536,197.2 536,206.3" fill="none" stroke="#000" stroke-width="0.7" stroke-linejoin="round"/><rect x="579.6" y="168.5" width="2.2" height="37.8" fill="url(#lg327)"/><text x="582.4" y="173.96" font-size="5.6" fill="#111" stroke="#111" stroke-width="0.07">0.4</text><text x="582.4" y="189.96" font-size="5.6" fill="#111" stroke="#111" stroke-width="0.07">0</text><text x="582.4" y="205.96" font-size="5.6" fill="#111" stroke="#111" stroke-width="0.07">-0.4</text><text x="222.6" y="177.06" font-size="5.6" fill="#111" text-anchor="end" stroke="#111" stroke-width="0.07">32</text><text x="222.6" y="184.56" font-size="5.6" fill="#111" text-anchor="end" stroke="#111" stroke-width="0.07">16</text><text x="222.6" y="192.26" font-size="5.6" fill="#111" text-anchor="end" stroke="#111" stroke-width="0.07">8</text><text x="222.6" y="200.86" font-size="5.6" fill="#111" text-anchor="end" stroke="#111" stroke-width="0.07">4</text><text x="427.9" y="177.16" font-size="5.6" fill="#111" text-anchor="end" stroke="#111" stroke-width="0.07">32</text><text x="427.9" y="184.96" font-size="5.6" fill="#111" text-anchor="end" stroke="#111" stroke-width="0.07">16</text><text x="427.9" y="192.96" font-size="5.6" fill="#111" text-anchor="end" stroke="#111" stroke-width="0.07">8</text><text x="427.9" y="200.96" font-size="5.6" fill="#111" text-anchor="end" stroke="#111" stroke-width="0.07">4</text><text x="228.3" y="212.96" font-size="5.6" fill="#111" text-anchor="middle" stroke="#111" stroke-width="0.07">-1</text><text x="247.4" y="212.96" font-size="5.6" fill="#111" text-anchor="middle" stroke="#111" stroke-width="0.07">0</text><text x="267.5" y="212.96" font-size="5.6" fill="#111" text-anchor="middle" stroke="#111" stroke-width="0.07">1</text><text x="311" y="212.96" font-size="5.6" fill="#111" text-anchor="middle" stroke="#111" stroke-width="0.07">-1</text><text x="330.2" y="212.96" font-size="5.6" fill="#111" text-anchor="middle" stroke="#111" stroke-width="0.07">0</text><text x="349.9" y="212.96" font-size="5.6" fill="#111" text-anchor="middle" stroke="#111" stroke-width="0.07">1</text><text x="434.4" y="213.36" font-size="5.6" fill="#111" text-anchor="middle" stroke="#111" stroke-width="0.07">-1</text><text x="453.5" y="213.36" font-size="5.6" fill="#111" text-anchor="middle" stroke="#111" stroke-width="0.07">0</text><text x="474" y="213.36" font-size="5.6" fill="#111" text-anchor="middle" stroke="#111" stroke-width="0.07">1</text><text x="517.5" y="213.16" font-size="5.6" fill="#111" text-anchor="middle" stroke="#111" stroke-width="0.07">-1</text><text x="536.5" y="213.16" font-size="5.6" fill="#111" text-anchor="middle" stroke="#111" stroke-width="0.07">0</text><text x="556" y="213.16" font-size="5.6" fill="#111" text-anchor="middle" stroke="#111" stroke-width="0.07">1</text><text transform="translate(199,190.2) rotate(-90)" y="2.31" font-size="6.6" fill="#111" text-anchor="middle" textLength="28" lengthAdjust="spacingAndGlyphs" stroke="#111" stroke-width="0.08">Coefficient</text><text transform="translate(211.2,186) rotate(-90)" y="2.1" font-size="6" fill="#111" text-anchor="middle" textLength="27" lengthAdjust="spacingAndGlyphs" stroke="#111" stroke-width="0.07">Frequency</text><text transform="translate(416.4,186) rotate(-90)" y="2.1" font-size="6" fill="#111" text-anchor="middle" textLength="27" lengthAdjust="spacingAndGlyphs" stroke="#111" stroke-width="0.07">Frequency</text><text x="290" y="221.05" font-size="7" fill="#111" font-weight="bold" textLength="22.1" lengthAdjust="spacingAndGlyphs" stroke="#111" stroke-width="0.19">Time (s)</text><text x="501" y="220.75" font-size="7" fill="#111" font-weight="bold" textLength="21" lengthAdjust="spacingAndGlyphs" stroke="#111" stroke-width="0.19">Time (s)</text><text transform="translate(250.3,198) rotate(-90)" y="1.54" font-size="4.4" fill="#333" text-anchor="middle">Cue on</text><text transform="translate(266.9,196) rotate(-90)" y="1.54" font-size="4.4" fill="#333" text-anchor="middle">Target on</text><text transform="translate(276.9,195) rotate(-90)" y="1.54" font-size="4.4" fill="#333" text-anchor="middle">Reward on</text><path d="M224.6,264.3 225.5,264.7 226.4,264.4 227.3,264.3 228.3,264.5 229.2,264.1 230.1,264.3 231,264.4 231.9,264.1 232.8,263.5 233.7,263.7 234.6,263.7 235.6,264.3 236.5,264.7 237.4,264.7 238.3,264.1 239.2,264.5 240.1,263.5 241,263.7 242,263 242.9,262.9 243.8,263.1 244.7,263.3 245.6,263.9 246.5,263.8 247.4,263.8 248.3,264.6 249.3,265.4 250.2,265.2 251.1,265.2 252,265.6 252.9,265.7 253.8,265.1 254.7,264.9 255.7,265.4 256.6,265 257.5,265 258.4,264.9 259.3,265.2 260.2,264.3 261.1,263.8 262.1,264.2 263,264.3 263.9,264.6 264.8,263.9 265.7,263 266.6,263 267.5,263.8 268.4,264.1 269.4,263.4 270.3,263.8 271.2,263.3 272.1,263.7 273,264.5 273.9,264.4 274.8,263.9 275.8,264 276.7,263.7 277.6,263.5 278.5,263.8 279.4,264 280.3,263 281.2,262.6 282.1,262.4 283.1,262.6 284,262.5 284.9,262.5 285.8,262.3 285.8,274.1 284.9,274.4 284,274.1 283.1,273.7 282.1,273.8 281.2,273.3 280.3,273.3 279.4,273.2 278.5,273.3 277.6,273.3 276.7,273.7 275.8,273.9 274.8,273.8 273.9,274.8 273,274.4 272.1,274.2 271.2,274.4 270.3,274.6 269.4,274.4 268.4,274.5 267.5,274.1 266.6,273.9 265.7,274.1 264.8,274.2 263.9,274.9 263,274.9 262.1,275 261.1,275.2 260.2,275.7 259.3,276.3 258.4,276 257.5,276.1 256.6,275.8 255.7,275.6 254.7,275.4 253.8,274.7 252.9,275 252,275 251.1,274.4 250.2,274.5 249.3,275 248.3,274.6 247.4,274.2 246.5,274.7 245.6,274 244.7,273.8 243.8,274.2 242.9,274.7 242,274.4 241,274.7 240.1,273.9 239.2,274.3 238.3,274.5 237.4,275.6 236.5,275.3 235.6,275.7 234.6,275.6 233.7,275.2 232.8,274.6 231.9,275.2 231,275 230.1,274.8 229.2,275.2 228.3,275.3 227.3,275 226.4,274.4 225.5,274.7 224.6,274.6Z" fill="#d8d8d8" fill-opacity="0.9"/><path d="M224.6,266.9 225.5,267.3 226.4,267 227.3,266.8 228.3,267 229.2,266.7 230.1,266.9 231,267 231.9,266.6 232.8,266.1 233.7,266.2 234.6,266.3 235.6,266.9 236.5,267.3 237.4,267.2 238.3,266.6 239.2,267 240.1,266 241,266.3 242,265.5 242.9,265.4 243.8,265.6 244.7,265.9 245.6,266.5 246.5,266.4 247.4,266.4 248.3,267.1 249.3,268 250.2,267.7 251.1,267.8 252,268.1 252.9,268.2 253.8,267.7 254.7,267.5 255.7,268 256.6,267.6 257.5,267.6 258.4,267.4 259.3,267.7 260.2,266.9 261.1,266.4 262.1,266.7 263,266.9 263.9,267.1 264.8,266.4 265.7,265.6 266.6,265.6 267.5,266.4 268.4,266.6 269.4,265.9 270.3,266.3 271.2,265.9 272.1,266.3 273,267 273.9,266.9 274.8,266.4 275.8,266.6 276.7,266.2 277.6,266 278.5,266.3 279.4,266.5 280.3,265.5 281.2,265.2 282.1,265 283.1,265.1 284,265 284.9,265 285.8,264.9 285.8,271.5 284.9,271.8 284,271.6 283.1,271.2 282.1,271.2 281.2,270.8 280.3,270.7 279.4,270.6 278.5,270.8 277.6,270.7 276.7,271.2 275.8,271.4 274.8,271.3 273.9,272.2 273,271.9 272.1,271.6 271.2,271.9 270.3,272.1 269.4,271.8 268.4,272 267.5,271.6 266.6,271.4 265.7,271.6 264.8,271.6 263.9,272.4 263,272.4 262.1,272.4 261.1,272.6 260.2,273.2 259.3,273.7 258.4,273.5 257.5,273.6 256.6,273.2 255.7,273 254.7,272.9 253.8,272.1 252.9,272.5 252,272.4 251.1,271.8 250.2,272 249.3,272.5 248.3,272.1 247.4,271.6 246.5,272.2 245.6,271.4 244.7,271.2 243.8,271.7 242.9,272.2 242,271.9 241,272.2 240.1,271.4 239.2,271.8 238.3,271.9 237.4,273.1 236.5,272.7 235.6,273.2 234.6,273.1 233.7,272.7 232.8,272 231.9,272.6 231,272.5 230.1,272.2 229.2,272.7 228.3,272.7 227.3,272.5 226.4,271.8 225.5,272.2 224.6,272Z" fill="#a8a8a8" fill-opacity="0.75"/><path d="M224.6,248 225.5,247.1 226.4,247.1 227.3,248.2 228.3,249.9 229.2,248.9 230.1,248.7 231,249.8 231.9,250.5 232.8,251.9 233.7,253.4 234.6,253 235.6,252.7 236.5,254.8 237.4,253.7 238.3,255.3 239.2,256.2 240.1,258.2 241,256.2 242,256.1 242.9,255.7 243.8,257.1 244.7,259.8 245.6,260.2 246.5,260.5 247.4,261.9 248.3,260 249.3,261.1 250.2,262.7 251.1,261.5 252,263.9 252.9,262.9 253.8,264.5 254.7,265.4 255.7,265.2 256.6,264.6 257.5,264.7 258.4,265.3 259.3,262.6 260.2,262.9 261.1,261.2 262.1,263 263,261.9 263.9,261.9 264.8,262.7 265.7,263.2 266.6,264.3 267.5,264.3 268.4,266.5 269.4,266.7 270.3,265.6 271.2,267.1 272.1,265.6 273,264.8 273.9,266.5 274.8,267.4 275.8,267.8 276.7,268.5 277.6,266.7 278.5,267.9 279.4,269.8 280.3,271.5 281.2,270.4 282.1,268.7 283.1,269.9 284,270.5 284.9,270.7 285.8,270.5 285.8,279.7 284.9,280.1 284,279.6 283.1,278.6 282.1,277.5 281.2,278.8 280.3,280.3 279.4,279.7 278.5,277.4 277.6,276 276.7,277.5 275.8,277 274.8,276.5 273.9,275.2 273,273.9 272.1,274.2 271.2,275.6 270.3,273.9 269.4,275.1 268.4,275.2 267.5,273.1 266.6,272.7 265.7,271.8 264.8,271.5 263.9,270.6 263,270.4 262.1,271.2 261.1,269.9 260.2,271.8 259.3,271.1 258.4,273.8 257.5,273.2 256.6,272.9 255.7,274.1 254.7,274 253.8,274 252.9,272.6 252,273.6 251.1,271.4 250.2,272.4 249.3,270.5 248.3,269 247.4,270.6 246.5,268.9 245.6,269.3 244.7,268.4 243.8,265.7 242.9,265.1 242,264.9 241,264.7 240.1,266.8 239.2,265.4 238.3,263.9 237.4,262.1 236.5,263.3 235.6,261.5 234.6,262.3 233.7,262.4 232.8,260.4 231.9,259.1 231,258.3 230.1,257.3 229.2,257.5 228.3,258.2 227.3,256.5 226.4,256.2 225.5,256.2 224.6,256.8Z" fill="#f0a0a8" fill-opacity="0.5"/><path d="M224.6,269.4 225.5,269.7 226.4,269.4 227.3,269.6 228.3,269.8 229.2,269.6 230.1,269.5 231,269.6 231.9,269.6 232.8,269 233.7,269.4 234.6,269.6 235.6,269.9 236.5,269.9 237.4,270.1 238.3,269.2 239.2,269.4 240.1,268.7 241,269.2 242,268.7 242.9,268.8 243.8,268.7 244.7,268.6 245.6,269 246.5,269.2 247.4,269 248.3,269.5 249.3,270.1 250.2,269.8 251.1,269.7 252,270.1 252.9,270.2 253.8,269.8 254.7,270.1 255.7,270.4 256.6,270.3 257.5,270.4 258.4,270.3 259.3,270.5 260.2,269.9 261.1,269.4 262.1,269.5 263,269.6 263.9,269.7 264.8,269 265.7,268.6 266.6,268.5 267.5,269 268.4,269.3 269.4,268.9 270.3,269.2 271.2,268.9 272.1,269 273,269.4 273.9,269.5 274.8,268.9 275.8,269 276.7,268.7 277.6,268.4 278.5,268.6 279.4,268.6 280.3,268.2 281.2,268.1 282.1,268.2 283.1,268.2 284,268.4 284.9,268.5 285.8,268.3" fill="none" stroke="#9a9a9a" stroke-width="0.9" stroke-linejoin="round"/><path d="M224.6,269.4 225.5,269.7 226.4,269.4 227.3,269.6 228.3,269.9 229.2,269.7 230.1,269.6 231,269.7 231.9,269.6 232.8,269 233.7,269.5 234.6,269.7 235.6,270 236.5,270 237.4,270.2 238.3,269.3 239.2,269.4 240.1,268.7 241,269.2 242,268.7 242.9,268.8 243.8,268.6 244.7,268.6 245.6,269 246.5,269.3 247.4,269 248.3,269.6 249.3,270.2 250.2,269.9 251.1,269.8 252,270.3 252.9,270.3 253.8,269.9 254.7,270.2 255.7,270.5 256.6,270.4 257.5,270.6 258.4,270.4 259.3,270.7 260.2,270 261.1,269.5 262.1,269.6 263,269.6 263.9,269.7 264.8,269 265.7,268.6 266.6,268.5 267.5,269 268.4,269.3 269.4,268.9 270.3,269.2 271.2,268.9 272.1,268.9 273,269.4 273.9,269.6 274.8,268.8 275.8,269 276.7,268.7 277.6,268.4 278.5,268.6 279.4,268.6 280.3,268.1 281.2,268 282.1,268.1 283.1,268.2 284,268.3 284.9,268.4 285.8,268.2" fill="none" stroke="#222" stroke-width="1.2" stroke-linejoin="round" stroke-dasharray="2.5,1.2"/><path d="M224.6,252.4 225.5,251.7 226.4,251.7 227.3,252.4 228.3,254 229.2,253.2 230.1,253 231,254.1 231.9,254.8 232.8,256.2 233.7,257.9 234.6,257.7 235.6,257.1 236.5,259 237.4,257.9 238.3,259.6 239.2,260.8 240.1,262.5 241,260.4 242,260.5 242.9,260.4 243.8,261.4 244.7,264.1 245.6,264.7 246.5,264.7 247.4,266.2 248.3,264.5 249.3,265.8 250.2,267.5 251.1,266.5 252,268.7 252.9,267.8 253.8,269.3 254.7,269.7 255.7,269.6 256.6,268.8 257.5,268.9 258.4,269.6 259.3,266.9 260.2,267.3 261.1,265.5 262.1,267.1 263,266.1 263.9,266.3 264.8,267.1 265.7,267.5 266.6,268.5 267.5,268.7 268.4,270.8 269.4,270.9 270.3,269.7 271.2,271.3 272.1,269.9 273,269.4 273.9,270.8 274.8,271.9 275.8,272.4 276.7,273 277.6,271.3 278.5,272.7 279.4,274.8 280.3,275.9 281.2,274.6 282.1,273.1 283.1,274.2 284,275 284.9,275.4 285.8,275.1" fill="none" stroke="#d42828" stroke-width="1.1" stroke-linejoin="round"/><line x1="247.5" y1="231" x2="247.5" y2="307.2" stroke="#888" stroke-width="0.7" stroke-dasharray="2,1.6"/><line x1="264.5" y1="231" x2="264.5" y2="307.2" stroke="#888" stroke-width="0.7" stroke-dasharray="2,1.6"/><line x1="273.8" y1="231" x2="273.8" y2="307.2" stroke="#888" stroke-width="0.7" stroke-dasharray="2,1.6"/><line x1="224.6" y1="231" x2="224.6" y2="307.2" stroke="#888" stroke-width="0.7"/><line x1="224.6" y1="307.2" x2="285.8" y2="307.2" stroke="#888" stroke-width="0.7"/><line x1="227.2" y1="307.2" x2="227.2" y2="306" stroke="#888" stroke-width="0.5"/><text x="227.2" y="314.06" font-size="5.6" fill="#111" text-anchor="middle" stroke="#111" stroke-width="0.07">-1</text><line x1="247.4" y1="307.2" x2="247.4" y2="306" stroke="#888" stroke-width="0.5"/><text x="247.4" y="314.06" font-size="5.6" fill="#111" text-anchor="middle" stroke="#111" stroke-width="0.07">0</text><line x1="267.6" y1="307.2" x2="267.6" y2="306" stroke="#888" stroke-width="0.5"/><text x="267.6" y="314.06" font-size="5.6" fill="#111" text-anchor="middle" stroke="#111" stroke-width="0.07">1</text><line x1="224.6" y1="243.6" x2="225.8" y2="243.6" stroke="#888" stroke-width="0.5"/><line x1="224.6" y1="256.3" x2="225.8" y2="256.3" stroke="#888" stroke-width="0.5"/><line x1="224.6" y1="269" x2="225.8" y2="269" stroke="#888" stroke-width="0.5"/><line x1="224.6" y1="281.7" x2="225.8" y2="281.7" stroke="#888" stroke-width="0.5"/><line x1="224.6" y1="294.4" x2="225.8" y2="294.4" stroke="#888" stroke-width="0.5"/><line x1="224.6" y1="243.6" x2="225.8" y2="243.6" stroke="#888" stroke-width="0.5"/><text x="223.1" y="245.56" font-size="5.6" fill="#444" text-anchor="end" stroke="#444" stroke-width="0.07">0.4</text><line x1="224.6" y1="256.3" x2="225.8" y2="256.3" stroke="#888" stroke-width="0.5"/><text x="223.1" y="258.26" font-size="5.6" fill="#444" text-anchor="end" stroke="#444" stroke-width="0.07">0.2</text><line x1="224.6" y1="269" x2="225.8" y2="269" stroke="#888" stroke-width="0.5"/><text x="223.1" y="270.96" font-size="5.6" fill="#444" text-anchor="end" stroke="#444" stroke-width="0.07">0</text><line x1="224.6" y1="281.7" x2="225.8" y2="281.7" stroke="#888" stroke-width="0.5"/><text x="223.1" y="283.66" font-size="5.6" fill="#444" text-anchor="end" stroke="#444" stroke-width="0.07">-0.2</text><line x1="224.6" y1="294.4" x2="225.8" y2="294.4" stroke="#888" stroke-width="0.5"/><text x="223.1" y="296.36" font-size="5.6" fill="#444" text-anchor="end" stroke="#444" stroke-width="0.07">-0.4</text><path d="M307.3,263.1 308.2,262.6 309.1,263 310.1,263.5 311,263.1 311.9,263.2 312.8,263.9 313.8,264.2 314.7,263.7 315.6,263.6 316.5,263.7 317.5,263 318.4,263.6 319.3,263.4 320.2,263.2 321.2,263.4 322.1,263.2 323,263.4 323.9,263.2 324.9,264 325.8,263.6 326.7,264.3 327.6,263.8 328.5,263.6 329.5,263.1 330.4,263.5 331.3,263.5 332.2,263.4 333.2,263.8 334.1,263.4 335,264.2 335.9,264.9 336.9,265.3 337.8,265.7 338.7,264.9 339.6,264.7 340.6,264.3 341.5,264.4 342.4,264.8 343.3,264.9 344.3,265.5 345.2,265.6 346.1,265.3 347,265 348,265.3 348.9,265 349.8,265.5 350.7,264.8 351.6,264.5 352.6,264.7 353.5,264 354.4,263.1 355.3,263.1 356.3,262.8 357.2,263.2 358.1,263 359,262.9 360,262 360.9,262.2 361.8,262.3 362.7,262 363.7,262 364.6,261.5 365.5,261.2 366.4,261.6 367.4,260.7 368.3,260.8 369.2,261.5 369.2,271.8 368.3,271.7 367.4,271.4 366.4,271.7 365.5,271.3 364.6,272 363.7,273 362.7,273.5 361.8,273.1 360.9,272.9 360,272.4 359,272.6 358.1,273.1 357.2,273.5 356.3,273.6 355.3,274.7 354.4,274.4 353.5,274.9 352.6,276 351.6,275.6 350.7,275.5 349.8,276.2 348.9,276.2 348,276.6 347,276.3 346.1,276.5 345.2,276.4 344.3,276.7 343.3,275.9 342.4,275.5 341.5,274.5 340.6,275 339.6,275.6 338.7,275.2 337.8,275.4 336.9,275.5 335.9,275.2 335,274.8 334.1,274.5 333.2,274.3 332.2,273.8 331.3,274 330.4,274.7 329.5,273.6 328.5,273.7 327.6,274.4 326.7,273.9 325.8,273.6 324.9,274.4 323.9,274.2 323,274.2 322.1,273.3 321.2,274.1 320.2,274.1 319.3,274.1 318.4,274.4 317.5,274 316.5,274.5 315.6,273.4 314.7,273 313.8,273.5 312.8,273.5 311.9,273.1 311,273.4 310.1,274.2 309.1,274.3 308.2,273.4 307.3,273.7Z" fill="#d8d8d8" fill-opacity="0.9"/><path d="M307.3,265.6 308.2,265.1 309.1,265.6 310.1,266.1 311,265.6 311.9,265.8 312.8,266.4 313.8,266.7 314.7,266.2 315.6,266.2 316.5,266.3 317.5,265.6 318.4,266.2 319.3,266 320.2,265.7 321.2,265.9 322.1,265.7 323,265.9 323.9,265.8 324.9,266.6 325.8,266.2 326.7,266.8 327.6,266.3 328.5,266.2 329.5,265.6 330.4,266 331.3,266 332.2,265.9 333.2,266.4 334.1,265.9 335,266.8 335.9,267.4 336.9,267.9 337.8,268.2 338.7,267.4 339.6,267.3 340.6,266.8 341.5,266.9 342.4,267.4 343.3,267.5 344.3,268.1 345.2,268.2 346.1,267.8 347,267.5 348,267.9 348.9,267.5 349.8,268 350.7,267.3 351.6,267 352.6,267.2 353.5,266.6 354.4,265.7 355.3,265.6 356.3,265.3 357.2,265.7 358.1,265.6 359,265.5 360,264.6 360.9,264.7 361.8,264.9 362.7,264.6 363.7,264.5 364.6,264 365.5,263.8 366.4,264.1 367.4,263.2 368.3,263.3 369.2,264 369.2,269.2 368.3,269.2 367.4,268.9 366.4,269.1 365.5,268.8 364.6,269.5 363.7,270.5 362.7,271 361.8,270.6 360.9,270.3 360,269.8 359,270 358.1,270.6 357.2,270.9 356.3,271 355.3,272.2 354.4,271.9 353.5,272.4 352.6,273.4 351.6,273 350.7,272.9 349.8,273.6 348.9,273.6 348,274.1 347,273.7 346.1,274 345.2,273.9 344.3,274.1 343.3,273.4 342.4,272.9 341.5,272 340.6,272.5 339.6,273 338.7,272.6 337.8,272.8 336.9,272.9 335.9,272.7 335,272.3 334.1,272 333.2,271.8 332.2,271.2 331.3,271.4 330.4,272.1 329.5,271.1 328.5,271.2 327.6,271.8 326.7,271.4 325.8,271 324.9,271.9 323.9,271.6 323,271.7 322.1,270.8 321.2,271.5 320.2,271.6 319.3,271.6 318.4,271.9 317.5,271.5 316.5,271.9 315.6,270.8 314.7,270.4 313.8,270.9 312.8,270.9 311.9,270.5 311,270.9 310.1,271.7 309.1,271.8 308.2,270.8 307.3,271.2Z" fill="#a8a8a8" fill-opacity="0.75"/><path d="M307.3,251.9 308.2,251.6 309.1,250.7 310.1,252.5 311,251.9 311.9,250.7 312.8,250.2 313.8,252.5 314.7,252.3 315.6,252.7 316.5,254.8 317.5,254.8 318.4,256.8 319.3,258.4 320.2,258.1 321.2,259.5 322.1,261.5 323,263.3 323.9,263.6 324.9,265.6 325.8,265 326.7,263.9 327.6,265 328.5,263.8 329.5,263.2 330.4,264 331.3,264.1 332.2,266.1 333.2,267.5 334.1,265.1 335,266.4 335.9,267.2 336.9,265.4 337.8,265 338.7,267.4 339.6,268.3 340.6,269 341.5,269.2 342.4,271 343.3,270.5 344.3,271.2 345.2,271.9 346.1,272.4 347,272.1 348,271.9 348.9,269.4 349.8,268.6 350.7,268.7 351.6,270.1 352.6,270.8 353.5,271.5 354.4,271 355.3,271.6 356.3,271.7 357.2,271.6 358.1,271.7 359,270 360,270.2 360.9,270.1 361.8,270.4 362.7,269.5 363.7,268.4 364.6,269.4 365.5,270.4 366.4,269.6 367.4,269.8 368.3,268.2 369.2,269.5 369.2,278.3 368.3,276.6 367.4,278.1 366.4,278.6 365.5,279.3 364.6,277.8 363.7,277 362.7,278.4 361.8,278.6 360.9,278.5 360,279 359,279.4 358.1,280.7 357.2,280.4 356.3,280 355.3,280.7 354.4,279.8 353.5,279.9 352.6,279.5 351.6,278.7 350.7,277.1 349.8,276.9 348.9,278.1 348,280.7 347,280.8 346.1,281.1 345.2,280.1 344.3,279.8 343.3,278.9 342.4,279.4 341.5,278.1 340.6,277.3 339.6,276.6 338.7,276.2 337.8,274.3 336.9,274.4 335.9,275.9 335,274.8 334.1,273.8 333.2,276.1 332.2,274.8 331.3,272.7 330.4,272.7 329.5,271.7 328.5,272.7 327.6,273.5 326.7,273.4 325.8,274.1 324.9,274.3 323.9,272.1 323,271.5 322.1,270.4 321.2,267.9 320.2,266.5 319.3,266.8 318.4,265.1 317.5,263.3 316.5,263.1 315.6,262.1 314.7,262.1 313.8,262.3 312.8,259.7 311.9,260 311,260.6 310.1,260.8 309.1,259.5 308.2,259.9 307.3,260.2Z" fill="#f0a0a8" fill-opacity="0.5"/><path d="M307.3,268.5 308.2,268.1 309.1,268.7 310.1,268.9 311,268.3 311.9,268.2 312.8,268.7 313.8,268.9 314.7,268.4 315.6,268.6 316.5,269.1 317.5,268.6 318.4,269 319.3,268.8 320.2,268.7 321.2,268.8 322.1,268.3 323,268.8 323.9,268.7 324.9,269.2 325.8,268.6 326.7,269.1 327.6,269.1 328.5,268.7 329.5,268.4 330.4,269.1 331.3,268.8 332.2,268.6 333.2,269.1 334.1,269 335,269.5 335.9,269.9 336.9,270.3 337.8,270.4 338.7,269.9 339.6,270 340.6,269.6 341.5,269.4 342.4,270 343.3,270.3 344.3,270.9 345.2,270.8 346.1,270.7 347,270.5 348,270.8 348.9,270.4 349.8,270.6 350.7,270 351.6,269.9 352.6,270.2 353.5,269.4 354.4,268.8 355.3,268.9 356.3,268.3 357.2,268.4 358.1,268.2 359,267.9 360,267.4 360.9,267.7 361.8,267.9 362.7,267.9 363.7,267.6 364.6,267 365.5,266.6 366.4,266.8 367.4,266.4 368.3,266.5 369.2,266.9" fill="none" stroke="#9a9a9a" stroke-width="0.9" stroke-linejoin="round"/><path d="M307.3,268.4 308.2,268 309.1,268.7 310.1,268.9 311,268.2 311.9,268.1 312.8,268.7 313.8,268.8 314.7,268.3 315.6,268.5 316.5,269.1 317.5,268.5 318.4,269 319.3,268.8 320.2,268.6 321.2,268.7 322.1,268.2 323,268.8 323.9,268.7 324.9,269.2 325.8,268.6 326.7,269.1 327.6,269.1 328.5,268.7 329.5,268.4 330.4,269.1 331.3,268.7 332.2,268.6 333.2,269.1 334.1,269 335,269.5 335.9,270 336.9,270.4 337.8,270.5 338.7,270 339.6,270.2 340.6,269.7 341.5,269.5 342.4,270.1 343.3,270.4 344.3,271.1 345.2,271 346.1,270.9 347,270.6 348,271 348.9,270.6 349.8,270.8 350.7,270.1 351.6,270 352.6,270.3 353.5,269.5 354.4,268.8 355.3,268.9 356.3,268.2 357.2,268.3 358.1,268.1 359,267.8 360,267.2 360.9,267.5 361.8,267.7 362.7,267.8 363.7,267.5 364.6,266.8 365.5,266.3 366.4,266.6 367.4,266.1 368.3,266.3 369.2,266.6" fill="none" stroke="#222" stroke-width="1.2" stroke-linejoin="round" stroke-dasharray="2.5,1.2"/><path d="M307.3,256.1 308.2,255.8 309.1,255.1 310.1,256.6 311,256.3 311.9,255.3 312.8,255 313.8,257.4 314.7,257.2 315.6,257.4 316.5,259 317.5,259 318.4,260.9 319.3,262.6 320.2,262.3 321.2,263.7 322.1,265.9 323,267.4 323.9,267.9 324.9,270 325.8,269.6 326.7,268.7 327.6,269.3 328.5,268.2 329.5,267.5 330.4,268.3 331.3,268.4 332.2,270.5 333.2,271.8 334.1,269.4 335,270.6 335.9,271.5 336.9,269.9 337.8,269.7 338.7,271.8 339.6,272.4 340.6,273.2 341.5,273.6 342.4,275.2 343.3,274.7 344.3,275.5 345.2,276 346.1,276.8 347,276.5 348,276.3 348.9,273.7 349.8,272.8 350.7,272.9 351.6,274.4 352.6,275.2 353.5,275.7 354.4,275.4 355.3,276.2 356.3,275.9 357.2,276 358.1,276.2 359,274.7 360,274.6 360.9,274.3 361.8,274.5 362.7,273.9 363.7,272.7 364.6,273.6 365.5,274.9 366.4,274.1 367.4,273.9 368.3,272.4 369.2,273.9" fill="none" stroke="#d42828" stroke-width="1.1" stroke-linejoin="round"/><line x1="329.8" y1="231" x2="329.8" y2="307.2" stroke="#888" stroke-width="0.7" stroke-dasharray="2,1.6"/><line x1="347.1" y1="231" x2="347.1" y2="307.2" stroke="#888" stroke-width="0.7" stroke-dasharray="2,1.6"/><line x1="356.5" y1="231" x2="356.5" y2="307.2" stroke="#888" stroke-width="0.7" stroke-dasharray="2,1.6"/><line x1="307.3" y1="231" x2="307.3" y2="307.2" stroke="#888" stroke-width="0.7"/><line x1="307.3" y1="307.2" x2="369.2" y2="307.2" stroke="#888" stroke-width="0.7"/><line x1="309.8" y1="307.2" x2="309.8" y2="306" stroke="#888" stroke-width="0.5"/><text x="309.8" y="314.06" font-size="5.6" fill="#111" text-anchor="middle" stroke="#111" stroke-width="0.07">-1</text><line x1="329.8" y1="307.2" x2="329.8" y2="306" stroke="#888" stroke-width="0.5"/><text x="329.8" y="314.06" font-size="5.6" fill="#111" text-anchor="middle" stroke="#111" stroke-width="0.07">0</text><line x1="349.8" y1="307.2" x2="349.8" y2="306" stroke="#888" stroke-width="0.5"/><text x="349.8" y="314.06" font-size="5.6" fill="#111" text-anchor="middle" stroke="#111" stroke-width="0.07">1</text><line x1="307.3" y1="243.6" x2="308.5" y2="243.6" stroke="#888" stroke-width="0.5"/><line x1="307.3" y1="256.3" x2="308.5" y2="256.3" stroke="#888" stroke-width="0.5"/><line x1="307.3" y1="269" x2="308.5" y2="269" stroke="#888" stroke-width="0.5"/><line x1="307.3" y1="281.7" x2="308.5" y2="281.7" stroke="#888" stroke-width="0.5"/><line x1="307.3" y1="294.4" x2="308.5" y2="294.4" stroke="#888" stroke-width="0.5"/><path d="M429.7,262.1 430.6,262.9 431.5,262.7 432.5,262.8 433.4,262.2 434.3,262.3 435.2,262.1 436.2,263 437.1,262.6 438,263.2 438.9,263.5 439.9,263.3 440.8,263.4 441.7,263.7 442.6,264 443.5,264.1 444.5,264.3 445.4,264.5 446.3,264.8 447.2,264.9 448.2,263.9 449.1,264.1 450,263.5 450.9,263 451.8,262.8 452.8,262.4 453.7,262.8 454.6,262.7 455.5,262.7 456.5,263 457.4,263.3 458.3,263.5 459.2,263.5 460.2,263.7 461.1,263.9 462,264.3 462.9,263.5 463.8,262.9 464.8,263 465.7,263 466.6,263.8 467.5,264 468.5,263.3 469.4,263.1 470.3,263.1 471.2,263.1 472.1,263.5 473.1,263.6 474,263.7 474.9,263.5 475.8,263.1 476.8,263 477.7,262.6 478.6,262.5 479.5,262.4 480.5,262.2 481.4,262.5 482.3,261.8 483.2,261.2 484.1,261.4 485.1,261.4 486,260.8 486.9,261 487.8,261.5 488.8,261.7 489.7,261.2 490.6,260.9 490.6,271.8 489.7,271.7 488.8,271.8 487.8,272.3 486.9,271.7 486,272.2 485.1,272.3 484.1,271.8 483.2,272.3 482.3,272.3 481.4,272.9 480.5,272.2 479.5,272.6 478.6,273.3 477.7,273.5 476.8,273.3 475.8,273.9 474.9,273.5 474,274.2 473.1,274.1 472.1,274 471.2,274 470.3,273.5 469.4,273.6 468.5,273.8 467.5,274.1 466.6,273.6 465.7,273.3 464.8,273 463.8,273.5 462.9,273.9 462,274.2 461.1,274.4 460.2,273.9 459.2,273.4 458.3,273.6 457.4,273.8 456.5,273 455.5,272.9 454.6,273.5 453.7,273.3 452.8,273.4 451.8,273.5 450.9,273.8 450,274.1 449.1,274.5 448.2,274.7 447.2,274.9 446.3,275.1 445.4,275.4 444.5,275.5 443.5,275.3 442.6,274.6 441.7,274.8 440.8,274.1 439.9,274.6 438.9,274 438,273.3 437.1,273.3 436.2,273.9 435.2,273.6 434.3,274.2 433.4,273.6 432.5,273.9 431.5,273.8 430.6,274.2 429.7,273.6Z" fill="#d8d8d8" fill-opacity="0.9"/><path d="M429.7,264.7 430.6,265.4 431.5,265.3 432.5,265.4 433.4,264.8 434.3,264.8 435.2,264.7 436.2,265.6 437.1,265.2 438,265.8 438.9,266 439.9,265.8 440.8,265.9 441.7,266.3 442.6,266.5 443.5,266.6 444.5,266.9 445.4,267.1 446.3,267.4 447.2,267.5 448.2,266.5 449.1,266.7 450,266 450.9,265.6 451.8,265.3 452.8,264.9 453.7,265.4 454.6,265.2 455.5,265.3 456.5,265.5 457.4,265.9 458.3,266 459.2,266.1 460.2,266.3 461.1,266.4 462,266.8 462.9,266 463.8,265.4 464.8,265.5 465.7,265.5 466.6,266.3 467.5,266.5 468.5,265.8 469.4,265.7 470.3,265.6 471.2,265.6 472.1,266.1 473.1,266.1 474,266.2 474.9,266 475.8,265.6 476.8,265.5 477.7,265.2 478.6,265 479.5,265 480.5,264.7 481.4,265 482.3,264.4 483.2,263.7 484.1,263.9 485.1,263.9 486,263.3 486.9,263.5 487.8,264 488.8,264.2 489.7,263.8 490.6,263.5 490.6,269.2 489.7,269.2 488.8,269.3 487.8,269.7 486.9,269.2 486,269.6 485.1,269.8 484.1,269.2 483.2,269.8 482.3,269.8 481.4,270.3 480.5,269.7 479.5,270 478.6,270.7 477.7,271 476.8,270.8 475.8,271.3 474.9,270.9 474,271.7 473.1,271.6 472.1,271.4 471.2,271.4 470.3,270.9 469.4,271 468.5,271.3 467.5,271.6 466.6,271 465.7,270.8 464.8,270.5 463.8,271 462.9,271.4 462,271.6 461.1,271.8 460.2,271.3 459.2,270.8 458.3,271.1 457.4,271.3 456.5,270.4 455.5,270.4 454.6,270.9 453.7,270.7 452.8,270.8 451.8,271 450.9,271.2 450,271.6 449.1,271.9 448.2,272.1 447.2,272.3 446.3,272.5 445.4,272.9 444.5,273 443.5,272.8 442.6,272 441.7,272.3 440.8,271.6 439.9,272 438.9,271.5 438,270.8 437.1,270.8 436.2,271.4 435.2,271 434.3,271.6 433.4,271.1 432.5,271.4 431.5,271.3 430.6,271.7 429.7,271Z" fill="#a8a8a8" fill-opacity="0.75"/><path d="M429.7,252.4 430.6,252 431.5,253.2 432.5,252.9 433.4,253.9 434.3,254.5 435.2,254.5 436.2,255.3 437.1,254.9 438,253 438.9,254.8 439.9,253.7 440.8,255.2 441.7,254 442.6,253.9 443.5,255.7 444.5,254.9 445.4,254.8 446.3,256.8 447.2,256.7 448.2,256.3 449.1,255.4 450,258.3 450.9,260 451.8,259.4 452.8,258.6 453.7,260.9 454.6,262.4 455.5,260.7 456.5,261.3 457.4,262 458.3,260.5 459.2,260.2 460.2,260.6 461.1,260.4 462,260.5 462.9,260.7 463.8,261.2 464.8,261.3 465.7,263.6 466.6,261.5 467.5,260.7 468.5,262.3 469.4,262.2 470.3,264.3 471.2,264.1 472.1,263.3 473.1,264.5 474,264.9 474.9,263.6 475.8,266 476.8,266 477.7,267.6 478.6,267.6 479.5,265.6 480.5,265.7 481.4,268.1 482.3,266.7 483.2,266.7 484.1,267.2 485.1,268.1 486,268 486.9,268.6 487.8,267 488.8,267.4 489.7,264.6 490.6,265.9 490.6,274.2 489.7,273.2 488.8,276.3 487.8,275.2 486.9,276.9 486,276.9 485.1,276.5 484.1,275.9 483.2,275.2 482.3,275.2 481.4,276.8 480.5,274.7 479.5,274.5 478.6,275.8 477.7,276 476.8,274.7 475.8,274.3 474.9,272.7 474,273.4 473.1,273 472.1,272 471.2,272.4 470.3,273 469.4,270.8 468.5,270.8 467.5,269.6 466.6,270.8 465.7,272.3 464.8,270.4 463.8,269.7 462.9,269.3 462,269.7 461.1,269 460.2,269.6 459.2,269.4 458.3,269.4 457.4,270.5 456.5,270.4 455.5,269.5 454.6,270.7 453.7,269.5 452.8,267 451.8,267.8 450.9,268.3 450,266.7 449.1,264.1 448.2,264.6 447.2,265.9 446.3,265.6 445.4,263.2 444.5,263.5 443.5,264.4 442.6,262.3 441.7,262.5 440.8,263.5 439.9,262.4 438.9,263.4 438,262 437.1,263.3 436.2,263.6 435.2,263.4 434.3,263.9 433.4,262.7 432.5,261.4 431.5,261.8 430.6,260.8 429.7,261.3Z" fill="#f0a0a8" fill-opacity="0.5"/><path d="M429.7,268 430.6,268.6 431.5,268.4 432.5,268.4 433.4,268 434.3,268.3 435.2,268 436.2,268.5 437.1,268.1 438,268.4 438.9,268.8 439.9,268.9 440.8,268.8 441.7,269.2 442.6,269.2 443.5,269.6 444.5,269.8 445.4,269.9 446.3,269.9 447.2,269.8 448.2,269.3 449.1,269.3 450,268.8 450.9,268.5 451.8,268.2 452.8,268 453.7,268.2 454.6,268.2 455.5,267.9 456.5,268.1 457.4,268.6 458.3,268.6 459.2,268.5 460.2,268.8 461.1,269.1 462,269.2 462.9,268.7 463.8,268.3 464.8,268.1 465.7,268.2 466.6,268.7 467.5,269 468.5,268.6 469.4,268.4 470.3,268.3 471.2,268.6 472.1,268.8 473.1,268.9 474,269 474.9,268.5 475.8,268.5 476.8,268.2 477.7,268.2 478.6,268 479.5,267.7 480.5,267.4 481.4,267.8 482.3,267.3 483.2,267 484.1,266.8 485.1,267.1 486,266.7 486.9,266.6 487.8,267.1 488.8,267 489.7,266.7 490.6,266.6" fill="none" stroke="#9a9a9a" stroke-width="0.9" stroke-linejoin="round"/><path d="M429.7,267.9 430.6,268.6 431.5,268.3 432.5,268.4 433.4,267.9 434.3,268.2 435.2,267.9 436.2,268.5 437.1,268 438,268.3 438.9,268.8 439.9,268.9 440.8,268.7 441.7,269.3 442.6,269.3 443.5,269.7 444.5,269.9 445.4,270 446.3,270 447.2,269.9 448.2,269.3 449.1,269.3 450,268.8 450.9,268.4 451.8,268.1 452.8,267.9 453.7,268.1 454.6,268.1 455.5,267.8 456.5,268 457.4,268.6 458.3,268.5 459.2,268.5 460.2,268.8 461.1,269.1 462,269.2 462.9,268.7 463.8,268.2 464.8,268 465.7,268.1 466.6,268.7 467.5,269 468.5,268.6 469.4,268.4 470.3,268.3 471.2,268.5 472.1,268.8 473.1,268.8 474,269 474.9,268.5 475.8,268.5 476.8,268.2 477.7,268.1 478.6,267.9 479.5,267.5 480.5,267.2 481.4,267.7 482.3,267.1 483.2,266.8 484.1,266.6 485.1,266.9 486,266.5 486.9,266.3 487.8,266.9 488.8,266.8 489.7,266.5 490.6,266.4" fill="none" stroke="#222" stroke-width="1.2" stroke-linejoin="round" stroke-dasharray="2.5,1.2"/><path d="M429.7,256.9 430.6,256.4 431.5,257.5 432.5,257.2 433.4,258.3 434.3,259.2 435.2,258.9 436.2,259.5 437.1,259.1 438,257.5 438.9,259.1 439.9,258 440.8,259.4 441.7,258.2 442.6,258.1 443.5,260.1 444.5,259.2 445.4,259 446.3,261.2 447.2,261.3 448.2,260.4 449.1,259.8 450,262.5 450.9,264.1 451.8,263.6 452.8,262.8 453.7,265.2 454.6,266.5 455.5,265.1 456.5,265.9 457.4,266.2 458.3,264.9 459.2,264.8 460.2,265.1 461.1,264.7 462,265.1 462.9,265 463.8,265.5 464.8,265.9 465.7,267.9 466.6,266.2 467.5,265.2 468.5,266.6 469.4,266.5 470.3,268.6 471.2,268.2 472.1,267.6 473.1,268.7 474,269.2 474.9,268.1 475.8,270.2 476.8,270.3 477.7,271.8 478.6,271.7 479.5,270.1 480.5,270.2 481.4,272.4 482.3,271 483.2,271 484.1,271.6 485.1,272.3 486,272.4 486.9,272.7 487.8,271.1 488.8,271.8 489.7,268.9 490.6,270.1" fill="none" stroke="#d42828" stroke-width="1.1" stroke-linejoin="round"/><line x1="452.4" y1="231" x2="452.4" y2="306.3" stroke="#888" stroke-width="0.7" stroke-dasharray="2,1.6"/><line x1="469.4" y1="231" x2="469.4" y2="306.3" stroke="#888" stroke-width="0.7" stroke-dasharray="2,1.6"/><line x1="479.1" y1="231" x2="479.1" y2="306.3" stroke="#888" stroke-width="0.7" stroke-dasharray="2,1.6"/><line x1="429.7" y1="231" x2="429.7" y2="306.3" stroke="#888" stroke-width="0.7"/><line x1="429.7" y1="306.3" x2="490.6" y2="306.3" stroke="#888" stroke-width="0.7"/><line x1="432.4" y1="306.3" x2="432.4" y2="305.1" stroke="#888" stroke-width="0.5"/><text x="432.4" y="313.16" font-size="5.6" fill="#111" text-anchor="middle" stroke="#111" stroke-width="0.07">-1</text><line x1="452.4" y1="306.3" x2="452.4" y2="305.1" stroke="#888" stroke-width="0.5"/><text x="452.4" y="313.16" font-size="5.6" fill="#111" text-anchor="middle" stroke="#111" stroke-width="0.07">0</text><line x1="472.4" y1="306.3" x2="472.4" y2="305.1" stroke="#888" stroke-width="0.5"/><text x="472.4" y="313.16" font-size="5.6" fill="#111" text-anchor="middle" stroke="#111" stroke-width="0.07">1</text><line x1="429.7" y1="243.6" x2="430.9" y2="243.6" stroke="#888" stroke-width="0.5"/><line x1="429.7" y1="256.3" x2="430.9" y2="256.3" stroke="#888" stroke-width="0.5"/><line x1="429.7" y1="269" x2="430.9" y2="269" stroke="#888" stroke-width="0.5"/><line x1="429.7" y1="281.7" x2="430.9" y2="281.7" stroke="#888" stroke-width="0.5"/><line x1="429.7" y1="294.4" x2="430.9" y2="294.4" stroke="#888" stroke-width="0.5"/><line x1="429.7" y1="243.6" x2="430.9" y2="243.6" stroke="#888" stroke-width="0.5"/><text x="428.2" y="245.56" font-size="5.6" fill="#444" text-anchor="end" stroke="#444" stroke-width="0.07">0.4</text><line x1="429.7" y1="256.3" x2="430.9" y2="256.3" stroke="#888" stroke-width="0.5"/><text x="428.2" y="258.26" font-size="5.6" fill="#444" text-anchor="end" stroke="#444" stroke-width="0.07">0.2</text><line x1="429.7" y1="269" x2="430.9" y2="269" stroke="#888" stroke-width="0.5"/><text x="428.2" y="270.96" font-size="5.6" fill="#444" text-anchor="end" stroke="#444" stroke-width="0.07">0</text><line x1="429.7" y1="281.7" x2="430.9" y2="281.7" stroke="#888" stroke-width="0.5"/><text x="428.2" y="283.66" font-size="5.6" fill="#444" text-anchor="end" stroke="#444" stroke-width="0.07">-0.2</text><line x1="429.7" y1="294.4" x2="430.9" y2="294.4" stroke="#888" stroke-width="0.5"/><text x="428.2" y="296.36" font-size="5.6" fill="#444" text-anchor="end" stroke="#444" stroke-width="0.07">-0.4</text><path d="M513,264.7 513.9,264.2 514.8,264.2 515.8,263.5 516.7,264.6 517.6,263.9 518.5,263.8 519.5,263.7 520.4,263.2 521.3,263.8 522.2,263.1 523.1,263.2 524.1,263.7 525,263.1 525.9,263.1 526.8,263.2 527.8,263.5 528.7,263.4 529.6,264 530.5,264.4 531.4,264.3 532.4,264.5 533.3,264 534.2,263.8 535.1,263.7 536.1,262.8 537,262.5 537.9,262.6 538.8,262.9 539.7,262.5 540.7,262.7 541.6,263.2 542.5,263.6 543.4,264.3 544.4,264.4 545.3,265.5 546.2,266 547.1,266.2 548.1,266.6 549,266.7 549.9,266.9 550.8,266.2 551.7,265.5 552.7,266.1 553.6,265.1 554.5,265.2 555.4,264.4 556.4,264.2 557.3,264.1 558.2,263.9 559.1,263.6 560,263.7 561,263.4 561.9,263 562.8,262.2 563.7,262.3 564.7,262.2 565.6,261.6 566.5,261.5 567.4,261 568.3,261.2 569.3,260.5 570.2,260.5 571.1,260.6 572,260.4 573,260.4 573.9,261.4 574.8,262 574.8,273.5 573.9,272.5 573,271.3 572,271.6 571.1,271.4 570.2,271.3 569.3,271.3 568.3,272.2 567.4,272.7 566.5,272.7 565.6,272.7 564.7,273.9 563.7,273.9 562.8,273.5 561.9,274.1 561,274.1 560,275.2 559.1,274.8 558.2,274.7 557.3,275.1 556.4,274.4 555.4,275.3 554.5,275.7 553.6,275.7 552.7,276.2 551.7,276 550.8,276.8 549.9,277.5 549,278.2 548.1,278 547.1,277.3 546.2,277.3 545.3,276.2 544.4,275.8 543.4,275.4 542.5,275.1 541.6,274.7 540.7,274.4 539.7,274.4 538.8,274.3 537.9,273.6 537,273.1 536.1,273.3 535.1,274 534.2,274 533.3,273.8 532.4,274.5 531.4,274.6 530.5,274.3 529.6,274.3 528.7,273.9 527.8,274.6 526.8,273.9 525.9,274.6 525,274.4 524.1,274.8 523.1,274.3 522.2,274.6 521.3,274.6 520.4,274.3 519.5,274.2 518.5,274.7 517.6,275 516.7,275.7 515.8,275.5 514.8,275.9 513.9,275.8 513,275.8Z" fill="#d8d8d8" fill-opacity="0.9"/><path d="M513,267.2 513.9,266.7 514.8,266.8 515.8,266.1 516.7,267.1 517.6,266.4 518.5,266.3 519.5,266.2 520.4,265.7 521.3,266.4 522.2,265.7 523.1,265.8 524.1,266.3 525,265.6 525.9,265.6 526.8,265.7 527.8,266 528.7,266 529.6,266.5 530.5,266.9 531.4,266.8 532.4,267 533.3,266.5 534.2,266.3 535.1,266.3 536.1,265.4 537,265 537.9,265.2 538.8,265.4 539.7,265 540.7,265.3 541.6,265.7 542.5,266.2 543.4,266.8 544.4,267 545.3,268 546.2,268.5 547.1,268.7 548.1,269.1 549,269.3 549.9,269.4 550.8,268.7 551.7,268.1 552.7,268.6 553.6,267.7 554.5,267.7 555.4,266.9 556.4,266.8 557.3,266.6 558.2,266.5 559.1,266.1 560,266.2 561,265.9 561.9,265.5 562.8,264.7 563.7,264.9 564.7,264.7 565.6,264.1 566.5,264.1 567.4,263.6 568.3,263.7 569.3,263.1 570.2,263.1 571.1,263.1 572,263 573,263 573.9,263.9 574.8,264.5 574.8,270.9 573.9,269.9 573,268.8 572,269.1 571.1,268.9 570.2,268.8 569.3,268.8 568.3,269.7 567.4,270.2 566.5,270.1 565.6,270.2 564.7,271.4 563.7,271.4 562.8,271 561.9,271.5 561,271.5 560,272.6 559.1,272.3 558.2,272.2 557.3,272.5 556.4,271.9 555.4,272.7 554.5,273.2 553.6,273.2 552.7,273.6 551.7,273.5 550.8,274.3 549.9,275 549,275.7 548.1,275.4 547.1,274.8 546.2,274.7 545.3,273.6 544.4,273.3 543.4,272.8 542.5,272.6 541.6,272.2 540.7,271.9 539.7,271.8 538.8,271.8 537.9,271 537,270.5 536.1,270.8 535.1,271.4 534.2,271.4 533.3,271.3 532.4,272 531.4,272 530.5,271.8 529.6,271.7 528.7,271.3 527.8,272 526.8,271.4 525.9,272.1 525,271.9 524.1,272.2 523.1,271.7 522.2,272 521.3,272.1 520.4,271.7 519.5,271.7 518.5,272.1 517.6,272.4 516.7,273.1 515.8,273 514.8,273.4 513.9,273.3 513,273.3Z" fill="#a8a8a8" fill-opacity="0.75"/><path d="M513,244.6 513.9,243.2 514.8,244.4 515.8,243.2 516.7,241.4 517.6,242.5 518.5,240.7 519.5,240.8 520.4,239.8 521.3,242.7 522.2,241.5 523.1,242.1 524.1,242.1 525,242.8 525.9,241.2 526.8,242.3 527.8,243.2 528.7,244.4 529.6,246.1 530.5,246.4 531.4,248.4 532.4,250.1 533.3,253.2 534.2,254.3 535.1,257 536.1,257.9 537,259.6 537.9,260.2 538.8,261.4 539.7,263.4 540.7,264.9 541.6,267.4 542.5,266.7 543.4,267 544.4,268.7 545.3,271 546.2,271.4 547.1,271.1 548.1,271.6 549,270.3 549.9,273.1 550.8,273.2 551.7,272.3 552.7,273.2 553.6,272.5 554.5,271.6 555.4,272.5 556.4,270.4 557.3,272 558.2,272.8 559.1,271.5 560,271.7 561,271.2 561.9,271.4 562.8,271.9 563.7,270 564.7,270.2 565.6,271 566.5,270.9 567.4,269.9 568.3,270.7 569.3,269.2 570.2,268.2 571.1,267.4 572,270.3 573,271.4 573.9,270.9 574.8,269.7 574.8,278.6 573.9,279.4 573,279.8 572,278.9 571.1,275.7 570.2,276.5 569.3,277.5 568.3,279.3 567.4,279.1 566.5,279.5 565.6,279.6 564.7,279.4 563.7,279 562.8,280.7 561.9,280 561,279.5 560,280.6 559.1,280.3 558.2,281.1 557.3,280.4 556.4,279.2 555.4,280.8 554.5,280.1 553.6,280.9 552.7,282.1 551.7,280.9 550.8,281.6 549.9,281.4 549,279.2 548.1,280.4 547.1,279.7 546.2,280.2 545.3,279.3 544.4,277.6 543.4,275.5 542.5,275.7 541.6,276.5 540.7,274.1 539.7,272.8 538.8,270.3 537.9,268.5 537,268.1 536.1,266.4 535.1,265.8 534.2,263.2 533.3,262.4 532.4,259.1 531.4,257.2 530.5,255.6 529.6,254.8 528.7,253 527.8,251.7 526.8,250.6 525.9,250.2 525,251.6 524.1,250.6 523.1,250.6 522.2,250.4 521.3,250.9 520.4,248.4 519.5,249.2 518.5,249.1 517.6,251 516.7,250 515.8,252.7 514.8,253.6 513.9,252.3 513,253.2Z" fill="#f0a0a8" fill-opacity="0.5"/><path d="M513,270.1 513.9,269.9 514.8,270 515.8,269.5 516.7,270 517.6,269.4 518.5,269.2 519.5,268.9 520.4,268.7 521.3,269.2 522.2,268.9 523.1,268.8 524.1,269.2 525,268.8 525.9,268.9 526.8,268.6 527.8,269 528.7,268.7 529.6,269.1 530.5,269.3 531.4,269.4 532.4,269.5 533.3,268.9 534.2,268.9 535.1,268.9 536.1,268.2 537,267.9 537.9,268.2 538.8,268.7 539.7,268.5 540.7,268.6 541.6,269 542.5,269.3 543.4,269.8 544.4,270 545.3,270.6 546.2,271.4 547.1,271.5 548.1,271.9 549,272.1 549.9,271.9 550.8,271.3 551.7,270.6 552.7,270.9 553.6,270.3 554.5,270.3 555.4,269.8 556.4,269.3 557.3,269.5 558.2,269.3 559.1,269.2 560,269.4 561,268.8 561.9,268.6 562.8,268 563.7,268.2 564.7,268.2 565.6,267.3 566.5,267.3 567.4,267.1 568.3,266.9 569.3,266.2 570.2,266.2 571.1,266.3 572,266.3 573,266.2 573.9,267.1 574.8,267.9" fill="none" stroke="#9a9a9a" stroke-width="0.9" stroke-linejoin="round"/><path d="M513,270.3 513.9,270 514.8,270.1 515.8,269.5 516.7,270.1 517.6,269.4 518.5,269.2 519.5,268.9 520.4,268.7 521.3,269.2 522.2,268.9 523.1,268.8 524.1,269.2 525,268.7 525.9,268.8 526.8,268.6 527.8,269 528.7,268.7 529.6,269.1 530.5,269.3 531.4,269.4 532.4,269.5 533.3,268.9 534.2,268.9 535.1,268.8 536.1,268.1 537,267.8 537.9,268.1 538.8,268.6 539.7,268.4 540.7,268.6 541.6,269 542.5,269.4 543.4,269.8 544.4,270.1 545.3,270.8 546.2,271.6 547.1,271.8 548.1,272.3 549,272.5 549.9,272.2 550.8,271.5 551.7,270.8 552.7,271.1 553.6,270.4 554.5,270.5 555.4,269.8 556.4,269.3 557.3,269.6 558.2,269.3 559.1,269.2 560,269.4 561,268.7 561.9,268.5 562.8,267.9 563.7,268.1 564.7,268.1 565.6,267.1 566.5,267.1 567.4,266.9 568.3,266.7 569.3,265.9 570.2,265.9 571.1,266 572,266 573,265.9 573.9,266.9 574.8,267.7" fill="none" stroke="#222" stroke-width="1.2" stroke-linejoin="round" stroke-dasharray="2.5,1.2"/><path d="M513,248.9 513.9,247.8 514.8,249 515.8,247.9 516.7,245.7 517.6,246.7 518.5,244.9 519.5,245 520.4,244.1 521.3,246.8 522.2,246 523.1,246.3 524.1,246.3 525,247.2 525.9,245.7 526.8,246.4 527.8,247.5 528.7,248.7 529.6,250.4 530.5,251 531.4,252.8 532.4,254.6 533.3,257.8 534.2,258.7 535.1,261.4 536.1,262.2 537,263.8 537.9,264.4 538.8,265.9 539.7,268.1 540.7,269.5 541.6,271.9 542.5,271.2 543.4,271.2 544.4,273.1 545.3,275.1 546.2,275.8 547.1,275.4 548.1,276 549,274.7 549.9,277.2 550.8,277.4 551.7,276.6 552.7,277.7 553.6,276.7 554.5,275.8 555.4,276.6 556.4,274.8 557.3,276.2 558.2,277 559.1,275.9 560,276.2 561,275.3 561.9,275.7 562.8,276.3 563.7,274.5 564.7,274.8 565.6,275.3 566.5,275.2 567.4,274.5 568.3,275 569.3,273.3 570.2,272.3 571.1,271.6 572,274.6 573,275.6 573.9,275.2 574.8,274.1" fill="none" stroke="#d42828" stroke-width="1.1" stroke-linejoin="round"/><line x1="536.4" y1="231" x2="536.4" y2="306.8" stroke="#888" stroke-width="0.7" stroke-dasharray="2,1.6"/><line x1="553" y1="231" x2="553" y2="306.8" stroke="#888" stroke-width="0.7" stroke-dasharray="2,1.6"/><line x1="562.7" y1="231" x2="562.7" y2="306.8" stroke="#888" stroke-width="0.7" stroke-dasharray="2,1.6"/><line x1="513" y1="231" x2="513" y2="306.8" stroke="#888" stroke-width="0.7"/><line x1="513" y1="306.8" x2="574.8" y2="306.8" stroke="#888" stroke-width="0.7"/><line x1="516.6" y1="306.8" x2="516.6" y2="305.6" stroke="#888" stroke-width="0.5"/><text x="516.6" y="313.66" font-size="5.6" fill="#111" text-anchor="middle" stroke="#111" stroke-width="0.07">-1</text><line x1="536.4" y1="306.8" x2="536.4" y2="305.6" stroke="#888" stroke-width="0.5"/><text x="536.4" y="313.66" font-size="5.6" fill="#111" text-anchor="middle" stroke="#111" stroke-width="0.07">0</text><line x1="556.2" y1="306.8" x2="556.2" y2="305.6" stroke="#888" stroke-width="0.5"/><text x="556.2" y="313.66" font-size="5.6" fill="#111" text-anchor="middle" stroke="#111" stroke-width="0.07">1</text><line x1="513" y1="243.6" x2="514.2" y2="243.6" stroke="#888" stroke-width="0.5"/><line x1="513" y1="256.3" x2="514.2" y2="256.3" stroke="#888" stroke-width="0.5"/><line x1="513" y1="269" x2="514.2" y2="269" stroke="#888" stroke-width="0.5"/><line x1="513" y1="281.7" x2="514.2" y2="281.7" stroke="#888" stroke-width="0.5"/><line x1="513" y1="294.4" x2="514.2" y2="294.4" stroke="#888" stroke-width="0.5"/><text transform="translate(249.6,236.8) rotate(-90)" y="1.54" font-size="4.4" fill="#333" text-anchor="middle">Cue on</text><text transform="translate(266.8,238.6) rotate(-90)" y="1.54" font-size="4.4" fill="#333" text-anchor="middle">Target on</text><text transform="translate(276.3,239.6) rotate(-90)" y="1.54" font-size="4.4" fill="#333" text-anchor="middle">Reward on</text><text transform="translate(187.4,270) rotate(-90)" y="2.1" font-size="6" fill="#111" text-anchor="middle" textLength="44" lengthAdjust="spacingAndGlyphs" stroke="#111" stroke-width="0.07">PGD sensitivity to</text><text transform="translate(194.8,270) rotate(-90)" y="2.1" font-size="6" fill="#111" text-anchor="middle" textLength="44" lengthAdjust="spacingAndGlyphs" stroke="#111" stroke-width="0.07">Reward properties</text><text transform="translate(209.3,268.5) rotate(-90)" y="2.1" font-size="6" fill="#111" text-anchor="middle" textLength="40" lengthAdjust="spacingAndGlyphs" stroke="#111" stroke-width="0.07">Beta Coefficient</text><text transform="translate(415.2,268.5) rotate(-90)" y="2.1" font-size="6" fill="#111" text-anchor="middle" textLength="38" lengthAdjust="spacingAndGlyphs" stroke="#111" stroke-width="0.07">Beta Coefficient</text><text x="289" y="321.05" font-size="7" fill="#111" font-weight="bold" textLength="22" lengthAdjust="spacingAndGlyphs" stroke="#111" stroke-width="0.19">Time (s)</text><text x="500" y="321.45" font-size="7" fill="#111" font-weight="bold" textLength="21" lengthAdjust="spacingAndGlyphs" stroke="#111" stroke-width="0.19">Time (s)</text><text x="390.9" y="251.66" font-size="7.6" fill="#c8141e" font-weight="bold" textLength="6.9" lengthAdjust="spacingAndGlyphs" stroke="#c8141e" stroke-width="0.2">PR</text><text x="390.9" y="266.16" font-size="7.6" fill="#a6a6a6" textLength="6.6" lengthAdjust="spacingAndGlyphs" stroke="#a6a6a6" stroke-width="0.09">EV</text><text x="390.9" y="279.76" font-size="7.6" fill="#111" font-weight="bold" textLength="6.9" lengthAdjust="spacingAndGlyphs" stroke="#111" stroke-width="0.2">CR</text><text x="643.3" y="61.04" font-size="8.4" fill="#c8961c" font-weight="bold" font-style="italic" textLength="18.5" lengthAdjust="spacingAndGlyphs" stroke="#c8961c" stroke-width="0.22">LPFC</text><text x="645.1" y="157.74" font-size="8.4" fill="#7a1f90" font-weight="bold" font-style="italic" textLength="14.6" lengthAdjust="spacingAndGlyphs" stroke="#7a1f90" stroke-width="0.22">PPC</text><rect x="628.9" y="88.4" width="5.8" height="32.1" fill="#7f7f7f" stroke="#111" stroke-width="0.7"/><line x1="631.8" y1="81.9" x2="631.8" y2="95" stroke="#e03030" stroke-width="0.9"/><rect x="634.7" y="116.2" width="6.5" height="4.3" fill="#7f7f7f" stroke="#111" stroke-width="0.7"/><line x1="637.95" y1="111.2" x2="637.95" y2="123.1" stroke="#e03030" stroke-width="0.9"/><rect x="641.2" y="118.2" width="6.5" height="2.3" fill="#7f7f7f" stroke="#111" stroke-width="0.7"/><line x1="644.45" y1="112" x2="644.45" y2="125" stroke="#e03030" stroke-width="0.9"/><rect x="662.3" y="110.8" width="5.6" height="9.7" fill="#7f7f7f" stroke="#111" stroke-width="0.7"/><line x1="665.1" y1="104.3" x2="665.1" y2="117.7" stroke="#e03030" stroke-width="0.9"/><rect x="668" y="119" width="6.5" height="1.5" fill="#7f7f7f" stroke="#111" stroke-width="0.7"/><line x1="671.25" y1="113" x2="671.25" y2="126.5" stroke="#e03030" stroke-width="0.9"/><rect x="674.5" y="119.5" width="6.5" height="1" fill="#7f7f7f" stroke="#111" stroke-width="0.7"/><line x1="677.75" y1="113" x2="677.75" y2="126" stroke="#e03030" stroke-width="0.9"/><line x1="625.6" y1="120.5" x2="685" y2="120.5" stroke="#111" stroke-width="0.8"/><line x1="625.6" y1="74.3" x2="625.6" y2="135" stroke="#777" stroke-width="0.7"/><line x1="625.6" y1="135" x2="685" y2="135" stroke="#777" stroke-width="0.7"/><line x1="625.6" y1="76.5" x2="626.8" y2="76.5" stroke="#777" stroke-width="0.5"/><text x="624.2" y="78.46" font-size="5.6" fill="#333" text-anchor="end" stroke="#333" stroke-width="0.07">0.3</text><line x1="625.6" y1="91.3" x2="626.8" y2="91.3" stroke="#777" stroke-width="0.5"/><text x="624.2" y="93.26" font-size="5.6" fill="#333" text-anchor="end" stroke="#333" stroke-width="0.07">0.2</text><line x1="625.6" y1="105.8" x2="626.8" y2="105.8" stroke="#777" stroke-width="0.5"/><text x="624.2" y="107.76" font-size="5.6" fill="#333" text-anchor="end" stroke="#333" stroke-width="0.07">0.1</text><line x1="625.6" y1="120.5" x2="626.8" y2="120.5" stroke="#777" stroke-width="0.5"/><text x="624.2" y="122.46" font-size="5.6" fill="#333" text-anchor="end" stroke="#333" stroke-width="0.07">0</text><line x1="625.6" y1="135" x2="626.8" y2="135" stroke="#777" stroke-width="0.5"/><text x="624.2" y="136.96" font-size="5.6" fill="#333" text-anchor="end" stroke="#333" stroke-width="0.07">-0.1</text><circle cx="632" cy="77.2" r="1.5" fill="#111"/><line x1="632" y1="75.2" x2="632" y2="79.2" stroke="#111" stroke-width="0.6"/><line x1="633.73" y1="76.2" x2="630.27" y2="78.2" stroke="#111" stroke-width="0.6"/><line x1="633.73" y1="78.2" x2="630.27" y2="76.2" stroke="#111" stroke-width="0.6"/><circle cx="665" cy="99.2" r="1.5" fill="#111"/><line x1="665" y1="97.2" x2="665" y2="101.2" stroke="#111" stroke-width="0.6"/><line x1="666.73" y1="98.2" x2="663.27" y2="100.2" stroke="#111" stroke-width="0.6"/><line x1="666.73" y1="100.2" x2="663.27" y2="98.2" stroke="#111" stroke-width="0.6"/><line x1="631.8" y1="135" x2="631.8" y2="133.8" stroke="#777" stroke-width="0.5"/><line x1="638" y1="135" x2="638" y2="133.8" stroke="#777" stroke-width="0.5"/><line x1="644.5" y1="135" x2="644.5" y2="133.8" stroke="#777" stroke-width="0.5"/><line x1="665.1" y1="135" x2="665.1" y2="133.8" stroke="#777" stroke-width="0.5"/><line x1="671.2" y1="135" x2="671.2" y2="133.8" stroke="#777" stroke-width="0.5"/><line x1="677.7" y1="135" x2="677.7" y2="133.8" stroke="#777" stroke-width="0.5"/><rect x="628.7" y="173.3" width="6.2" height="45.6" fill="#7f7f7f" stroke="#111" stroke-width="0.7"/><line x1="631.8" y1="167" x2="631.8" y2="180" stroke="#e03030" stroke-width="0.9"/><rect x="634.9" y="213" width="6.1" height="5.9" fill="#7f7f7f" stroke="#111" stroke-width="0.7"/><line x1="637.95" y1="207" x2="637.95" y2="219" stroke="#e03030" stroke-width="0.9"/><rect x="641" y="214.2" width="6.5" height="4.7" fill="#7f7f7f" stroke="#111" stroke-width="0.7"/><line x1="644.25" y1="208" x2="644.25" y2="219" stroke="#e03030" stroke-width="0.9"/><rect x="662.1" y="178.9" width="5.9" height="40" fill="#7f7f7f" stroke="#111" stroke-width="0.7"/><line x1="665.05" y1="172" x2="665.05" y2="186" stroke="#e03030" stroke-width="0.9"/><rect x="668" y="203.7" width="6" height="15.2" fill="#7f7f7f" stroke="#111" stroke-width="0.7"/><line x1="671" y1="196" x2="671" y2="211" stroke="#e03030" stroke-width="0.9"/><rect x="674" y="212" width="6" height="6.9" fill="#7f7f7f" stroke="#111" stroke-width="0.7"/><line x1="677" y1="206" x2="677" y2="218" stroke="#e03030" stroke-width="0.9"/><line x1="625" y1="218.9" x2="685" y2="218.9" stroke="#111" stroke-width="0.8"/><line x1="625" y1="161" x2="625" y2="218.9" stroke="#777" stroke-width="0.7"/><line x1="625" y1="165" x2="626.2" y2="165" stroke="#777" stroke-width="0.5"/><text x="623.6" y="166.96" font-size="5.6" fill="#333" text-anchor="end" stroke="#333" stroke-width="0.07">0.6</text><line x1="625" y1="182.6" x2="626.2" y2="182.6" stroke="#777" stroke-width="0.5"/><text x="623.6" y="184.56" font-size="5.6" fill="#333" text-anchor="end" stroke="#333" stroke-width="0.07">0.4</text><line x1="625" y1="200.6" x2="626.2" y2="200.6" stroke="#777" stroke-width="0.5"/><text x="623.6" y="202.56" font-size="5.6" fill="#333" text-anchor="end" stroke="#333" stroke-width="0.07">0.2</text><line x1="625" y1="218.9" x2="626.2" y2="218.9" stroke="#777" stroke-width="0.5"/><text x="623.6" y="220.86" font-size="5.6" fill="#333" text-anchor="end" stroke="#333" stroke-width="0.07">0</text><circle cx="632" cy="160.2" r="1.5" fill="#111"/><line x1="632" y1="158.2" x2="632" y2="162.2" stroke="#111" stroke-width="0.6"/><line x1="633.73" y1="159.2" x2="630.27" y2="161.2" stroke="#111" stroke-width="0.6"/><line x1="633.73" y1="161.2" x2="630.27" y2="159.2" stroke="#111" stroke-width="0.6"/><circle cx="664.5" cy="167.2" r="1.5" fill="#111"/><line x1="664.5" y1="165.2" x2="664.5" y2="169.2" stroke="#111" stroke-width="0.6"/><line x1="666.23" y1="166.2" x2="662.77" y2="168.2" stroke="#111" stroke-width="0.6"/><line x1="666.23" y1="168.2" x2="662.77" y2="166.2" stroke="#111" stroke-width="0.6"/><circle cx="671" cy="191.2" r="1.5" fill="#111"/><line x1="671" y1="189.2" x2="671" y2="193.2" stroke="#111" stroke-width="0.6"/><line x1="672.73" y1="190.2" x2="669.27" y2="192.2" stroke="#111" stroke-width="0.6"/><line x1="672.73" y1="192.2" x2="669.27" y2="190.2" stroke="#111" stroke-width="0.6"/><text transform="translate(609.2,146) rotate(-90)" y="2.1" font-size="6" fill="#111" text-anchor="middle" textLength="40" lengthAdjust="spacingAndGlyphs" stroke="#111" stroke-width="0.18">GLM Coefficient</text><text transform="translate(633.3,223.3) rotate(-45)" x="0" y="0" font-size="5.6" fill="#111" stroke="#111" stroke-width="0.07" text-anchor="end" textLength="10" lengthAdjust="spacingAndGlyphs">PGD</text><text transform="translate(639.5,223.5) rotate(-45)" x="0" y="0" font-size="5.6" fill="#111" stroke="#111" stroke-width="0.07" text-anchor="end" textLength="21" lengthAdjust="spacingAndGlyphs">Direction</text><text transform="translate(646,223.5) rotate(-45)" x="0" y="0" font-size="5.6" fill="#111" stroke="#111" stroke-width="0.07" text-anchor="end" textLength="14" lengthAdjust="spacingAndGlyphs">Speed</text><text transform="translate(669,223.5) rotate(-45)" x="0" y="0" font-size="5.6" fill="#111" stroke="#111" stroke-width="0.07" text-anchor="end" textLength="15" lengthAdjust="spacingAndGlyphs">Power</text><text transform="translate(675,223.5) rotate(-45)" x="0" y="0" font-size="5.6" fill="#111" stroke="#111" stroke-width="0.07" text-anchor="end" textLength="57" lengthAdjust="spacingAndGlyphs">Bipolar (parallel to PW)</text><text transform="translate(681.3,223.5) rotate(-45)" x="0" y="0" font-size="5.6" fill="#111" stroke="#111" stroke-width="0.07" text-anchor="end" textLength="67" lengthAdjust="spacingAndGlyphs">Bipolar (Orthogonal to PW)</text><text x="633.4" y="289.72" font-size="7.2" fill="#111" textLength="38.5" lengthAdjust="spacingAndGlyphs" stroke="#111" stroke-width="0.3">Wave Feature</text></svg></body></html>
